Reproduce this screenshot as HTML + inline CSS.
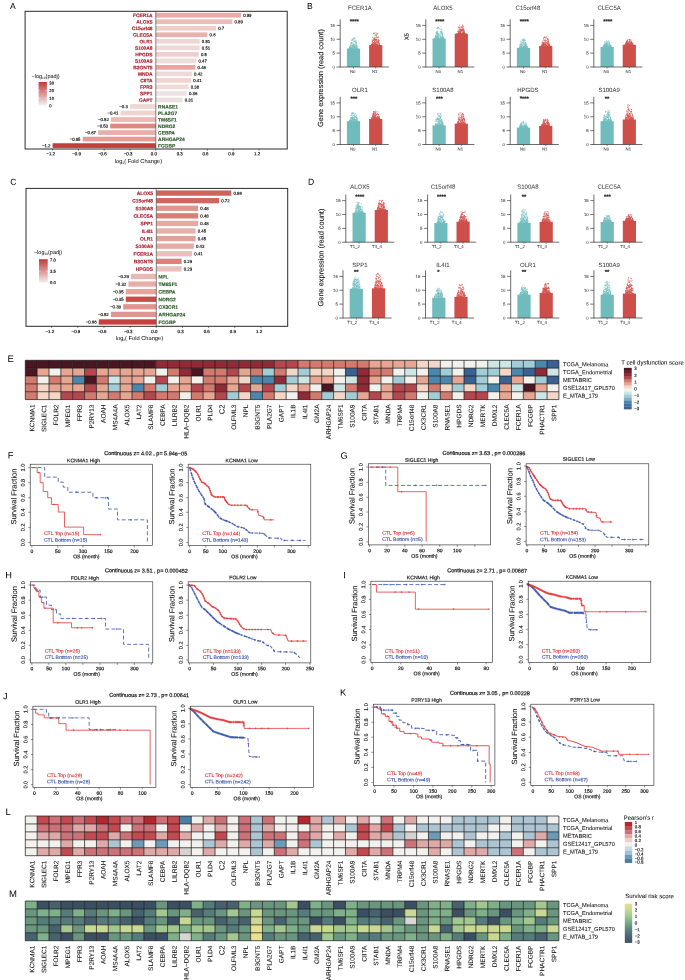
<!DOCTYPE html>
<html><head><meta charset="utf-8"><title>Figure</title>
<style>
html,body{margin:0;padding:0;background:#fff;}
body{width:685px;height:980px;overflow:hidden;font-family:"Liberation Sans",sans-serif;}
svg{display:block;font-family:"Liberation Sans",sans-serif;text-rendering:geometricPrecision;will-change:transform;}
</style></head><body>
<svg width="685" height="980" viewBox="0 0 685 980">
<defs>
<linearGradient id="gA" x1="0" y1="0" x2="0" y2="1"><stop offset="0" stop-color="#c23a3a"/><stop offset="1" stop-color="#f3eeee"/></linearGradient>
<linearGradient id="gM" x1="0" y1="0" x2="0" y2="1"><stop offset="0" stop-color="#e6df98"/><stop offset="0.17" stop-color="#c6d893"/><stop offset="0.34" stop-color="#9cc690"/><stop offset="0.5" stop-color="#74a686"/><stop offset="0.67" stop-color="#58837d"/><stop offset="0.84" stop-color="#476673"/><stop offset="1" stop-color="#3b5166"/></linearGradient>
</defs>
<rect x="0" y="0" width="685" height="980" fill="#fff"/>
<g>
<text x="10.1" y="9" font-size="8.6" transform="rotate(0.25 10.1 9)">A</text>
<rect x="155.8" y="12.85" width="85.14" height="4.7" fill="#e8aaa6"/>
<text x="152.6" y="17.15" font-size="4.9" stroke="#a82433" stroke-width="0.17" text-anchor="end" font-weight="bold" transform="rotate(0.25 152.6 17.15)" fill="#a82433">FCER1A</text>
<text x="243.14" y="16.8" font-size="4.3" stroke="#000" stroke-width="0.15" transform="rotate(0.25 243.14 16.8)">0.99</text>
<rect x="155.8" y="19.37" width="76.54" height="4.7" fill="#ecbcb8"/>
<text x="152.6" y="23.67" font-size="4.9" stroke="#a82433" stroke-width="0.17" text-anchor="end" font-weight="bold" transform="rotate(0.25 152.6 23.67)" fill="#a82433">ALOX5</text>
<text x="234.54" y="23.32" font-size="4.3" stroke="#000" stroke-width="0.15" transform="rotate(0.25 234.54 23.32)">0.89</text>
<rect x="155.8" y="25.89" width="60.2" height="4.7" fill="#eeccc8"/>
<text x="152.6" y="30.19" font-size="4.9" stroke="#a82433" stroke-width="0.17" text-anchor="end" font-weight="bold" transform="rotate(0.25 152.6 30.19)" fill="#a82433">C15orf48</text>
<text x="218.2" y="29.84" font-size="4.3" stroke="#000" stroke-width="0.15" transform="rotate(0.25 218.2 29.84)">0.7</text>
<rect x="155.8" y="32.41" width="51.6" height="4.7" fill="#e9b1ad"/>
<text x="152.6" y="36.71" font-size="4.9" stroke="#a82433" stroke-width="0.17" text-anchor="end" font-weight="bold" transform="rotate(0.25 152.6 36.71)" fill="#a82433">CLEC5A</text>
<text x="209.6" y="36.36" font-size="4.3" stroke="#000" stroke-width="0.15" transform="rotate(0.25 209.6 36.36)">0.6</text>
<rect x="155.8" y="38.93" width="43.86" height="4.7" fill="#eed6d3"/>
<text x="152.6" y="43.23" font-size="4.9" stroke="#a82433" stroke-width="0.17" text-anchor="end" font-weight="bold" transform="rotate(0.25 152.6 43.23)" fill="#a82433">OLR1</text>
<text x="201.86" y="42.88" font-size="4.3" stroke="#000" stroke-width="0.15" transform="rotate(0.25 201.86 42.88)">0.51</text>
<rect x="155.8" y="45.45" width="43.86" height="4.7" fill="#efd9d6"/>
<text x="152.6" y="49.75" font-size="4.9" stroke="#a82433" stroke-width="0.17" text-anchor="end" font-weight="bold" transform="rotate(0.25 152.6 49.75)" fill="#a82433">S100A8</text>
<text x="201.86" y="49.4" font-size="4.3" stroke="#000" stroke-width="0.15" transform="rotate(0.25 201.86 49.4)">0.51</text>
<rect x="155.8" y="51.97" width="43" height="4.7" fill="#eecfcb"/>
<text x="152.6" y="56.27" font-size="4.9" stroke="#a82433" stroke-width="0.17" text-anchor="end" font-weight="bold" transform="rotate(0.25 152.6 56.27)" fill="#a82433">HPGDS</text>
<text x="201" y="55.92" font-size="4.3" stroke="#000" stroke-width="0.15" transform="rotate(0.25 201 55.92)">0.5</text>
<rect x="155.8" y="58.49" width="40.42" height="4.7" fill="#efdbd8"/>
<text x="152.6" y="62.79" font-size="4.9" stroke="#a82433" stroke-width="0.17" text-anchor="end" font-weight="bold" transform="rotate(0.25 152.6 62.79)" fill="#a82433">S100A9</text>
<text x="198.42" y="62.44" font-size="4.3" stroke="#000" stroke-width="0.15" transform="rotate(0.25 198.42 62.44)">0.47</text>
<rect x="155.8" y="65.01" width="39.56" height="4.7" fill="#e7a6a2"/>
<text x="152.6" y="69.31" font-size="4.9" stroke="#a82433" stroke-width="0.17" text-anchor="end" font-weight="bold" transform="rotate(0.25 152.6 69.31)" fill="#a82433">B3GNT5</text>
<text x="197.56" y="68.96" font-size="4.3" stroke="#000" stroke-width="0.15" transform="rotate(0.25 197.56 68.96)">0.46</text>
<rect x="155.8" y="71.53" width="36.12" height="4.7" fill="#efd9d6"/>
<text x="152.6" y="75.83" font-size="4.9" stroke="#a82433" stroke-width="0.17" text-anchor="end" font-weight="bold" transform="rotate(0.25 152.6 75.83)" fill="#a82433">MNDA</text>
<text x="194.12" y="75.48" font-size="4.3" stroke="#000" stroke-width="0.15" transform="rotate(0.25 194.12 75.48)">0.42</text>
<rect x="155.8" y="78.05" width="35.26" height="4.7" fill="#eed5d2"/>
<text x="152.6" y="82.35" font-size="4.9" stroke="#a82433" stroke-width="0.17" text-anchor="end" font-weight="bold" transform="rotate(0.25 152.6 82.35)" fill="#a82433">CIITA</text>
<text x="193.26" y="82" font-size="4.3" stroke="#000" stroke-width="0.15" transform="rotate(0.25 193.26 82)">0.41</text>
<rect x="155.8" y="84.57" width="32.68" height="4.7" fill="#efdad7"/>
<text x="152.6" y="88.87" font-size="4.9" stroke="#a82433" stroke-width="0.17" text-anchor="end" font-weight="bold" transform="rotate(0.25 152.6 88.87)" fill="#a82433">FPR3</text>
<text x="190.68" y="88.52" font-size="4.3" stroke="#000" stroke-width="0.15" transform="rotate(0.25 190.68 88.52)">0.38</text>
<rect x="155.8" y="91.09" width="30.96" height="4.7" fill="#ece4e3"/>
<text x="152.6" y="95.39" font-size="4.9" stroke="#a82433" stroke-width="0.17" text-anchor="end" font-weight="bold" transform="rotate(0.25 152.6 95.39)" fill="#a82433">SPP1</text>
<text x="188.96" y="95.04" font-size="4.3" stroke="#000" stroke-width="0.15" transform="rotate(0.25 188.96 95.04)">0.36</text>
<rect x="155.8" y="97.61" width="26.66" height="4.7" fill="#eddfdd"/>
<text x="152.6" y="101.91" font-size="4.9" stroke="#a82433" stroke-width="0.17" text-anchor="end" font-weight="bold" transform="rotate(0.25 152.6 101.91)" fill="#a82433">GAPT</text>
<text x="184.66" y="101.56" font-size="4.3" stroke="#000" stroke-width="0.15" transform="rotate(0.25 184.66 101.56)">0.31</text>
<rect x="130" y="104.13" width="25.8" height="4.7" fill="#efd7d4"/>
<text x="158.1" y="108.43" font-size="4.9" stroke="#2c5a2a" stroke-width="0.17" font-weight="bold" transform="rotate(0.25 158.1 108.43)" fill="#2c5a2a">RNASE1</text>
<text x="127.8" y="108.08" font-size="4.3" stroke="#000" stroke-width="0.15" text-anchor="end" transform="rotate(0.25 127.8 108.08)">−0.3</text>
<rect x="120.54" y="110.65" width="35.26" height="4.7" fill="#efd3cf"/>
<text x="158.1" y="114.95" font-size="4.9" stroke="#2c5a2a" stroke-width="0.17" font-weight="bold" transform="rotate(0.25 158.1 114.95)" fill="#2c5a2a">PLA2G7</text>
<text x="118.34" y="114.6" font-size="4.3" stroke="#000" stroke-width="0.15" text-anchor="end" transform="rotate(0.25 118.34 114.6)">−0.41</text>
<rect x="111.08" y="117.17" width="44.72" height="4.7" fill="#ebb8b3"/>
<text x="158.1" y="121.47" font-size="4.9" stroke="#2c5a2a" stroke-width="0.17" font-weight="bold" transform="rotate(0.25 158.1 121.47)" fill="#2c5a2a">TM6SF1</text>
<text x="108.88" y="121.12" font-size="4.3" stroke="#000" stroke-width="0.15" text-anchor="end" transform="rotate(0.25 108.88 121.12)">−0.52</text>
<rect x="110.22" y="123.69" width="45.58" height="4.7" fill="#de8681"/>
<text x="158.1" y="127.99" font-size="4.9" stroke="#2c5a2a" stroke-width="0.17" font-weight="bold" transform="rotate(0.25 158.1 127.99)" fill="#2c5a2a">NDRG2</text>
<text x="108.02" y="127.64" font-size="4.3" stroke="#000" stroke-width="0.15" text-anchor="end" transform="rotate(0.25 108.02 127.64)">−0.53</text>
<rect x="98.18" y="130.21" width="57.62" height="4.7" fill="#e9aea9"/>
<text x="158.1" y="134.51" font-size="4.9" stroke="#2c5a2a" stroke-width="0.17" font-weight="bold" transform="rotate(0.25 158.1 134.51)" fill="#2c5a2a">CEBPA</text>
<text x="95.98" y="134.16" font-size="4.3" stroke="#000" stroke-width="0.15" text-anchor="end" transform="rotate(0.25 95.98 134.16)">−0.67</text>
<rect x="82.7" y="136.73" width="73.1" height="4.7" fill="#e49b95"/>
<text x="158.1" y="141.03" font-size="4.9" stroke="#2c5a2a" stroke-width="0.17" font-weight="bold" transform="rotate(0.25 158.1 141.03)" fill="#2c5a2a">ARHGAP24</text>
<text x="80.5" y="140.68" font-size="4.3" stroke="#000" stroke-width="0.15" text-anchor="end" transform="rotate(0.25 80.5 140.68)">−0.85</text>
<rect x="52.6" y="143.25" width="103.2" height="4.7" fill="#c43e3d"/>
<text x="158.1" y="147.55" font-size="4.9" stroke="#2c5a2a" stroke-width="0.17" font-weight="bold" transform="rotate(0.25 158.1 147.55)" fill="#2c5a2a">FCGBP</text>
<text x="50.4" y="147.2" font-size="4.3" stroke="#000" stroke-width="0.15" text-anchor="end" transform="rotate(0.25 50.4 147.2)">−1.2</text>
<line x1="155.8" y1="11.3" x2="155.8" y2="149" stroke="#222" stroke-width="0.55"/>
<rect x="25.1" y="11.3" width="262.1" height="137.7" fill="none" stroke="#2a2a2a" stroke-width="1"/>
<line x1="52.6" y1="149" x2="52.6" y2="150.6" stroke="#000" stroke-width="0.5"/>
<text x="50.7" y="155.2" font-size="4.4" stroke="#000" stroke-width="0.15" text-anchor="middle" transform="rotate(0.25 50.7 155.2)">−1.2</text>
<line x1="78.4" y1="149" x2="78.4" y2="150.6" stroke="#000" stroke-width="0.5"/>
<text x="76.5" y="155.2" font-size="4.4" stroke="#000" stroke-width="0.15" text-anchor="middle" transform="rotate(0.25 76.5 155.2)">−0.9</text>
<line x1="104.2" y1="149" x2="104.2" y2="150.6" stroke="#000" stroke-width="0.5"/>
<text x="102.3" y="155.2" font-size="4.4" stroke="#000" stroke-width="0.15" text-anchor="middle" transform="rotate(0.25 102.3 155.2)">−0.6</text>
<line x1="130" y1="149" x2="130" y2="150.6" stroke="#000" stroke-width="0.5"/>
<text x="128.1" y="155.2" font-size="4.4" stroke="#000" stroke-width="0.15" text-anchor="middle" transform="rotate(0.25 128.1 155.2)">−0.3</text>
<line x1="155.8" y1="149" x2="155.8" y2="150.6" stroke="#000" stroke-width="0.5"/>
<text x="153.9" y="155.2" font-size="4.4" stroke="#000" stroke-width="0.15" text-anchor="middle" transform="rotate(0.25 153.9 155.2)">0.0</text>
<line x1="181.6" y1="149" x2="181.6" y2="150.6" stroke="#000" stroke-width="0.5"/>
<text x="179.7" y="155.2" font-size="4.4" stroke="#000" stroke-width="0.15" text-anchor="middle" transform="rotate(0.25 179.7 155.2)">0.3</text>
<line x1="207.4" y1="149" x2="207.4" y2="150.6" stroke="#000" stroke-width="0.5"/>
<text x="205.5" y="155.2" font-size="4.4" stroke="#000" stroke-width="0.15" text-anchor="middle" transform="rotate(0.25 205.5 155.2)">0.6</text>
<line x1="233.2" y1="149" x2="233.2" y2="150.6" stroke="#000" stroke-width="0.5"/>
<text x="231.3" y="155.2" font-size="4.4" stroke="#000" stroke-width="0.15" text-anchor="middle" transform="rotate(0.25 231.3 155.2)">0.9</text>
<line x1="259" y1="149" x2="259" y2="150.6" stroke="#000" stroke-width="0.5"/>
<text x="257.1" y="155.2" font-size="4.4" stroke="#000" stroke-width="0.15" text-anchor="middle" transform="rotate(0.25 257.1 155.2)">1.2</text>
<text x="138.5" y="162.6" font-size="5.7" text-anchor="middle">log<tspan font-size="3.2" dy="1">2</tspan><tspan dy="-1">( Fold Change)</tspan></text>
<text x="31.5" y="77.8" font-size="5.5">−log<tspan font-size="3.2" dy="1">10</tspan><tspan dy="-1">(padj)</tspan></text>
<rect x="38.6" y="82" width="8.3" height="23.2" fill="url(#gA)"/>
<text x="49.3" y="84.4" font-size="4.2" stroke="#000" stroke-width="0.15" transform="rotate(0.25 49.3 84.4)">30</text>
<text x="49.3" y="92.1" font-size="4.2" stroke="#000" stroke-width="0.15" transform="rotate(0.25 49.3 92.1)">20</text>
<text x="49.3" y="99.7" font-size="4.2" stroke="#000" stroke-width="0.15" transform="rotate(0.25 49.3 99.7)">10</text>
<text x="49.3" y="107.3" font-size="4.2" stroke="#000" stroke-width="0.15" transform="rotate(0.25 49.3 107.3)">0</text>
<line x1="38.6" y1="90.6" x2="40.3" y2="90.6" stroke="#fff" stroke-width="0.45"/>
<line x1="45.2" y1="90.6" x2="46.9" y2="90.6" stroke="#fff" stroke-width="0.45"/>
<line x1="38.6" y1="98.2" x2="40.3" y2="98.2" stroke="#fff" stroke-width="0.45"/>
<line x1="45.2" y1="98.2" x2="46.9" y2="98.2" stroke="#fff" stroke-width="0.45"/>
<text x="10.3" y="184.7" font-size="8.6" transform="rotate(0.25 10.3 184.7)">C</text>
<rect x="156.3" y="190.45" width="74.99" height="5.3" fill="#d0635d"/>
<text x="153.1" y="195.05" font-size="4.9" stroke="#a82433" stroke-width="0.17" text-anchor="end" font-weight="bold" transform="rotate(0.25 153.1 195.05)" fill="#a82433">ALOX5</text>
<text x="233.49" y="194.7" font-size="4.3" stroke="#000" stroke-width="0.15" transform="rotate(0.25 233.49 194.7)">0.86</text>
<rect x="156.3" y="198.03" width="62.78" height="5.3" fill="#d1655f"/>
<text x="153.1" y="202.63" font-size="4.9" stroke="#a82433" stroke-width="0.17" text-anchor="end" font-weight="bold" transform="rotate(0.25 153.1 202.63)" fill="#a82433">C15orf48</text>
<text x="221.28" y="202.28" font-size="4.3" stroke="#000" stroke-width="0.15" transform="rotate(0.25 221.28 202.28)">0.72</text>
<rect x="156.3" y="205.61" width="41.86" height="5.3" fill="#e0958f"/>
<text x="153.1" y="210.21" font-size="4.9" stroke="#a82433" stroke-width="0.17" text-anchor="end" font-weight="bold" transform="rotate(0.25 153.1 210.21)" fill="#a82433">S100A8</text>
<text x="200.36" y="209.86" font-size="4.3" stroke="#000" stroke-width="0.15" transform="rotate(0.25 200.36 209.86)">0.48</text>
<rect x="156.3" y="213.19" width="41.86" height="5.3" fill="#d97d77"/>
<text x="153.1" y="217.79" font-size="4.9" stroke="#a82433" stroke-width="0.17" text-anchor="end" font-weight="bold" transform="rotate(0.25 153.1 217.79)" fill="#a82433">CLEC5A</text>
<text x="200.36" y="217.44" font-size="4.3" stroke="#000" stroke-width="0.15" transform="rotate(0.25 200.36 217.44)">0.48</text>
<rect x="156.3" y="220.77" width="41.86" height="5.3" fill="#e6aaa4"/>
<text x="153.1" y="225.37" font-size="4.9" stroke="#a82433" stroke-width="0.17" text-anchor="end" font-weight="bold" transform="rotate(0.25 153.1 225.37)" fill="#a82433">SPP1</text>
<text x="200.36" y="225.02" font-size="4.3" stroke="#000" stroke-width="0.15" transform="rotate(0.25 200.36 225.02)">0.48</text>
<rect x="156.3" y="228.35" width="39.24" height="5.3" fill="#e7b0ab"/>
<text x="153.1" y="232.95" font-size="4.9" stroke="#a82433" stroke-width="0.17" text-anchor="end" font-weight="bold" transform="rotate(0.25 153.1 232.95)" fill="#a82433">IL4I1</text>
<text x="197.74" y="232.6" font-size="4.3" stroke="#000" stroke-width="0.15" transform="rotate(0.25 197.74 232.6)">0.45</text>
<rect x="156.3" y="235.93" width="39.24" height="5.3" fill="#e2a09a"/>
<text x="153.1" y="240.53" font-size="4.9" stroke="#a82433" stroke-width="0.17" text-anchor="end" font-weight="bold" transform="rotate(0.25 153.1 240.53)" fill="#a82433">OLR1</text>
<text x="197.74" y="240.18" font-size="4.3" stroke="#000" stroke-width="0.15" transform="rotate(0.25 197.74 240.18)">0.45</text>
<rect x="156.3" y="243.51" width="37.5" height="5.3" fill="#e6aba6"/>
<text x="153.1" y="248.11" font-size="4.9" stroke="#a82433" stroke-width="0.17" text-anchor="end" font-weight="bold" transform="rotate(0.25 153.1 248.11)" fill="#a82433">S100A9</text>
<text x="196" y="247.76" font-size="4.3" stroke="#000" stroke-width="0.15" transform="rotate(0.25 196 247.76)">0.43</text>
<rect x="156.3" y="251.09" width="35.75" height="5.3" fill="#eac0bb"/>
<text x="153.1" y="255.69" font-size="4.9" stroke="#a82433" stroke-width="0.17" text-anchor="end" font-weight="bold" transform="rotate(0.25 153.1 255.69)" fill="#a82433">FCER1A</text>
<text x="194.25" y="255.34" font-size="4.3" stroke="#000" stroke-width="0.15" transform="rotate(0.25 194.25 255.34)">0.41</text>
<rect x="156.3" y="258.67" width="25.29" height="5.3" fill="#da817b"/>
<text x="153.1" y="263.27" font-size="4.9" stroke="#a82433" stroke-width="0.17" text-anchor="end" font-weight="bold" transform="rotate(0.25 153.1 263.27)" fill="#a82433">B3GNT5</text>
<text x="183.79" y="262.92" font-size="4.3" stroke="#000" stroke-width="0.15" transform="rotate(0.25 183.79 262.92)">0.29</text>
<rect x="156.3" y="266.25" width="25.29" height="5.3" fill="#eac0bc"/>
<text x="153.1" y="270.85" font-size="4.9" stroke="#a82433" stroke-width="0.17" text-anchor="end" font-weight="bold" transform="rotate(0.25 153.1 270.85)" fill="#a82433">HPGDS</text>
<text x="183.79" y="270.5" font-size="4.3" stroke="#000" stroke-width="0.15" transform="rotate(0.25 183.79 270.5)">0.29</text>
<rect x="131.01" y="273.83" width="25.29" height="5.3" fill="#e9b8b3"/>
<text x="158.6" y="278.43" font-size="4.9" stroke="#2c5a2a" stroke-width="0.17" font-weight="bold" transform="rotate(0.25 158.6 278.43)" fill="#2c5a2a">NPL</text>
<text x="128.81" y="278.08" font-size="4.3" stroke="#000" stroke-width="0.15" text-anchor="end" transform="rotate(0.25 128.81 278.08)">−0.29</text>
<rect x="128.4" y="281.41" width="27.9" height="5.3" fill="#e7aea9"/>
<text x="158.6" y="286.01" font-size="4.9" stroke="#2c5a2a" stroke-width="0.17" font-weight="bold" transform="rotate(0.25 158.6 286.01)" fill="#2c5a2a">TM6SF1</text>
<text x="126.2" y="285.66" font-size="4.3" stroke="#000" stroke-width="0.15" text-anchor="end" transform="rotate(0.25 126.2 285.66)">−0.32</text>
<rect x="125.78" y="288.99" width="30.52" height="5.3" fill="#e5a59f"/>
<text x="158.6" y="293.59" font-size="4.9" stroke="#2c5a2a" stroke-width="0.17" font-weight="bold" transform="rotate(0.25 158.6 293.59)" fill="#2c5a2a">CEBPA</text>
<text x="123.58" y="293.24" font-size="4.3" stroke="#000" stroke-width="0.15" text-anchor="end" transform="rotate(0.25 123.58 293.24)">−0.35</text>
<rect x="125.78" y="296.57" width="30.52" height="5.3" fill="#c94c48"/>
<text x="158.6" y="301.17" font-size="4.9" stroke="#2c5a2a" stroke-width="0.17" font-weight="bold" transform="rotate(0.25 158.6 301.17)" fill="#2c5a2a">NDRG2</text>
<text x="123.58" y="300.82" font-size="4.3" stroke="#000" stroke-width="0.15" text-anchor="end" transform="rotate(0.25 123.58 300.82)">−0.35</text>
<rect x="123.16" y="304.15" width="33.14" height="5.3" fill="#e09690"/>
<text x="158.6" y="308.75" font-size="4.9" stroke="#2c5a2a" stroke-width="0.17" font-weight="bold" transform="rotate(0.25 158.6 308.75)" fill="#2c5a2a">CX3CR1</text>
<text x="120.96" y="308.4" font-size="4.3" stroke="#000" stroke-width="0.15" text-anchor="end" transform="rotate(0.25 120.96 308.4)">−0.38</text>
<rect x="110.96" y="311.73" width="45.34" height="5.3" fill="#e09690"/>
<text x="158.6" y="316.33" font-size="4.9" stroke="#2c5a2a" stroke-width="0.17" font-weight="bold" transform="rotate(0.25 158.6 316.33)" fill="#2c5a2a">ARHGAP24</text>
<text x="108.76" y="315.98" font-size="4.3" stroke="#000" stroke-width="0.15" text-anchor="end" transform="rotate(0.25 108.76 315.98)">−0.52</text>
<rect x="98.75" y="319.31" width="57.55" height="5.3" fill="#c8403d"/>
<text x="158.6" y="323.91" font-size="4.9" stroke="#2c5a2a" stroke-width="0.17" font-weight="bold" transform="rotate(0.25 158.6 323.91)" fill="#2c5a2a">FCGBP</text>
<text x="96.55" y="323.56" font-size="4.3" stroke="#000" stroke-width="0.15" text-anchor="end" transform="rotate(0.25 96.55 323.56)">−0.66</text>
<line x1="156.3" y1="188.4" x2="156.3" y2="326.3" stroke="#222" stroke-width="0.55"/>
<rect x="26" y="188.4" width="261.7" height="137.9" fill="none" stroke="#2a2a2a" stroke-width="1"/>
<line x1="51.66" y1="326.3" x2="51.66" y2="327.9" stroke="#000" stroke-width="0.5"/>
<text x="49.76" y="333" font-size="4.4" stroke="#000" stroke-width="0.15" text-anchor="middle" transform="rotate(0.25 49.76 333)">−1.2</text>
<line x1="77.82" y1="326.3" x2="77.82" y2="327.9" stroke="#000" stroke-width="0.5"/>
<text x="75.92" y="333" font-size="4.4" stroke="#000" stroke-width="0.15" text-anchor="middle" transform="rotate(0.25 75.92 333)">−0.9</text>
<line x1="103.98" y1="326.3" x2="103.98" y2="327.9" stroke="#000" stroke-width="0.5"/>
<text x="102.08" y="333" font-size="4.4" stroke="#000" stroke-width="0.15" text-anchor="middle" transform="rotate(0.25 102.08 333)">−0.6</text>
<line x1="130.14" y1="326.3" x2="130.14" y2="327.9" stroke="#000" stroke-width="0.5"/>
<text x="128.24" y="333" font-size="4.4" stroke="#000" stroke-width="0.15" text-anchor="middle" transform="rotate(0.25 128.24 333)">−0.3</text>
<line x1="156.3" y1="326.3" x2="156.3" y2="327.9" stroke="#000" stroke-width="0.5"/>
<text x="154.4" y="333" font-size="4.4" stroke="#000" stroke-width="0.15" text-anchor="middle" transform="rotate(0.25 154.4 333)">0.0</text>
<line x1="182.46" y1="326.3" x2="182.46" y2="327.9" stroke="#000" stroke-width="0.5"/>
<text x="180.56" y="333" font-size="4.4" stroke="#000" stroke-width="0.15" text-anchor="middle" transform="rotate(0.25 180.56 333)">0.3</text>
<line x1="208.62" y1="326.3" x2="208.62" y2="327.9" stroke="#000" stroke-width="0.5"/>
<text x="206.72" y="333" font-size="4.4" stroke="#000" stroke-width="0.15" text-anchor="middle" transform="rotate(0.25 206.72 333)">0.6</text>
<line x1="234.78" y1="326.3" x2="234.78" y2="327.9" stroke="#000" stroke-width="0.5"/>
<text x="232.88" y="333" font-size="4.4" stroke="#000" stroke-width="0.15" text-anchor="middle" transform="rotate(0.25 232.88 333)">0.9</text>
<line x1="260.94" y1="326.3" x2="260.94" y2="327.9" stroke="#000" stroke-width="0.5"/>
<text x="259.04" y="333" font-size="4.4" stroke="#000" stroke-width="0.15" text-anchor="middle" transform="rotate(0.25 259.04 333)">1.2</text>
<text x="139.4" y="339.8" font-size="5.7" text-anchor="middle">log<tspan font-size="3.2" dy="1">2</tspan><tspan dy="-1">( Fold Change)</tspan></text>
<text x="33.9" y="254.2" font-size="5.5">−log<tspan font-size="3.2" dy="1">10</tspan><tspan dy="-1">(padj)</tspan></text>
<rect x="39" y="259.2" width="8.7" height="23.3" fill="url(#gA)"/>
<text x="50.1" y="261.5" font-size="4.2" stroke="#000" stroke-width="0.15" transform="rotate(0.25 50.1 261.5)">7.0</text>
<text x="50.1" y="272.7" font-size="4.2" stroke="#000" stroke-width="0.15" transform="rotate(0.25 50.1 272.7)">3.5</text>
<text x="50.1" y="284" font-size="4.2" stroke="#000" stroke-width="0.15" transform="rotate(0.25 50.1 284)">0.0</text>
<line x1="39" y1="271.2" x2="40.7" y2="271.2" stroke="#fff" stroke-width="0.45"/>
<line x1="46" y1="271.2" x2="47.7" y2="271.2" stroke="#fff" stroke-width="0.45"/>
<text x="307" y="9" font-size="8.6" transform="rotate(0.25 307 9)">B</text>
<text x="323.1" y="78" font-size="7.4" stroke="#111" stroke-width="0.1" text-anchor="middle" transform="rotate(-89.75 323.1 78)" fill="#111">Gene expression (read count)</text>
<rect x="346.9" y="48.56" width="13.2" height="18.44" fill="#70bbbc"/>
<rect x="369.1" y="45.09" width="13.2" height="21.91" fill="#ce4e4a"/>
<path d="M350.6 47.9h0M350.4 45.3h0M352.5 46.4h0M353.6 49.2h0M352.9 49.2h0M350.0 49.1h0M356.1 47.2h0M351.1 48.9h0M356.8 45.5h0M352.7 46.0h0M356.6 48.9h0M350.5 48.1h0M351.9 48.9h0M351.5 42.8h0M354.5 46.0h0M353.9 47.6h0M349.7 49.1h0M355.0 48.5h0M352.0 47.2h0M353.1 45.9h0M356.0 48.0h0M351.7 44.7h0M353.7 46.0h0M354.8 41.3h0M357.5 48.1h0M352.8 48.9h0M351.2 43.9h0M349.9 46.8h0M355.4 45.1h0M356.3 46.1h0M355.1 47.9h0M354.1 45.9h0M356.2 47.0h0M353.4 38.1h0M350.3 45.1h0M354.5 44.7h0M352.4 39.9h0M354.9 47.5h0M353.2 49.3h0M350.2 48.7h0M355.8 49.2h0M351.3 48.8h0M356.5 47.5h0M353.1 49.1h0M356.4 46.3h0M355.8 42.7h0M352.8 48.1h0M356.7 47.7h0M350.8 47.7h0M351.2 48.4h0M354.2 46.8h0M349.3 48.2h0M352.4 47.3h0M356.9 46.1h0M353.6 44.8h0M354.8 45.6h0M356.9 49.2h0M355.9 43.5h0M352.8 43.1h0M350.3 47.4h0M350.3 45.5h0M351.0 49.1h0M352.1 48.7h0M349.2 49.2h0M350.1 48.7h0M349.6 47.6h0M354.1 41.3h0M351.4 48.8h0M352.4 47.7h0M356.5 48.9h0M353.4 44.0h0M350.1 49.0h0M351.6 47.8h0M351.4 42.5h0M357.4 49.3h0M350.8 46.5h0M349.9 46.3h0M357.2 46.5h0M354.6 41.6h0M352.4 48.2h0M355.8 48.7h0M355.7 46.4h0M351.2 47.8h0M356.5 42.9h0M355.3 41.9h0M355.0 42.7h0M353.7 48.4h0M349.6 47.7h0M351.6 49.3h0M355.1 48.2h0M356.5 44.2h0M352.9 38.4h0M351.2 48.4h0M351.0 48.5h0M356.4 45.6h0M353.4 42.2h0M355.7 45.3h0M354.9 49.0h0M354.9 40.0h0M353.4 44.0h0M356.0 48.6h0M356.0 47.8h0M352.8 44.8h0M354.4 37.9h0M350.3 48.7h0M357.0 48.8h0M351.3 43.0h0M356.4 42.5h0M352.4 45.2h0M350.7 46.3h0M357.5 49.3h0M353.7 45.3h0M353.2 38.8h0M355.3 41.4h0M351.4 48.5h0M351.3 48.0h0M351.7 45.9h0M350.5 47.3h0M352.8 40.0h0M354.2 47.0h0M353.1 40.2h0M353.5 39.6h0M353.7 46.4h0M353.0 49.3h0M349.2 48.6h0M351.4 43.1h0M355.3 46.9h0M352.2 46.2h0M353.9 46.5h0M350.9 43.4h0M351.6 46.2h0M355.8 48.1h0M354.0 46.6h0M356.2 43.8h0M354.4 47.1h0M353.6 46.6h0M353.2 44.8h0M353.3 46.4h0M354.4 38.3h0M356.0 41.2h0M354.0 48.2h0M355.0 38.2h0M350.2 48.8h0M350.1 47.1h0M349.9 48.3h0M355.5 45.1h0M351.7 40.5h0M354.6 44.5h0M356.8 48.8h0M357.1 46.9h0M353.4 47.4h0M351.8 39.8h0M353.6 47.2h0M351.0 47.8h0M355.3 47.9h0M354.0 49.3h0M349.6 47.1h0M354.5 47.8h0M350.1 46.6h0M356.0 40.3h0M351.5 49.0h0M355.9 49.2h0M350.4 48.2h0M356.8 47.2h0M352.0 42.7h0" stroke="#74bfc0" stroke-width="0.8" stroke-linecap="round" fill="none"/>
<path d="M379.3 45.2h0M377.2 42.0h0M371.9 45.5h0M375.2 40.5h0M379.5 45.6h0M377.9 41.3h0M378.8 45.5h0M378.8 45.6h0M374.4 43.1h0M378.9 42.2h0M372.6 44.5h0M373.7 42.5h0M372.8 45.4h0M373.1 45.7h0M374.1 44.2h0M374.3 39.3h0M373.2 42.7h0M371.7 44.0h0M371.6 44.6h0M376.0 39.8h0M375.5 45.0h0M373.9 33.3h0M375.3 38.0h0M378.3 42.8h0M375.8 43.6h0M379.1 40.5h0M378.4 44.0h0M376.6 40.3h0M374.5 43.5h0M372.5 45.7h0M377.8 45.6h0M372.9 44.6h0M378.6 45.5h0M376.7 36.5h0M373.5 44.4h0M375.4 44.3h0M375.2 45.1h0M379.6 44.5h0M374.1 38.5h0M374.6 41.7h0M374.7 45.9h0M375.7 43.0h0M375.7 44.9h0M373.7 45.9h0M374.8 45.5h0M371.6 45.7h0M373.5 44.2h0M375.9 41.9h0M376.7 39.5h0M378.3 40.1h0M374.3 43.6h0M377.5 43.9h0M372.4 41.2h0M378.0 37.6h0M377.4 41.4h0M373.5 38.2h0M375.7 42.5h0M377.5 37.6h0M376.2 37.8h0M376.7 35.6h0M373.8 40.5h0M372.5 45.8h0M372.5 43.9h0M376.1 37.6h0M376.6 41.4h0M375.6 40.7h0M378.3 45.9h0M375.7 39.6h0M376.9 42.4h0M377.7 45.6h0M372.1 44.6h0M377.6 44.5h0M377.7 44.9h0M374.9 39.2h0M377.1 42.9h0M376.5 39.2h0M372.6 41.2h0M373.6 45.2h0M374.4 39.6h0M372.0 42.1h0M373.7 45.6h0M377.1 40.8h0M374.2 40.7h0M375.4 42.6h0M372.7 43.0h0M374.1 35.6h0M373.5 33.2h0M378.2 43.1h0M374.1 39.8h0M379.5 44.8h0M376.4 44.8h0M375.9 45.2h0M378.3 44.1h0M378.7 42.6h0M373.8 40.3h0M375.6 35.4h0M371.4 45.8h0M375.3 42.8h0M372.7 44.3h0M374.2 44.0h0M372.7 37.5h0M378.0 39.5h0M379.4 45.3h0M378.5 40.2h0M374.6 44.3h0M379.7 43.6h0M374.7 41.8h0M373.9 43.3h0M372.3 45.7h0M374.4 37.6h0M374.6 33.3h0M375.8 44.5h0M374.6 45.0h0M377.2 33.9h0M378.7 41.3h0M375.9 32.9h0M372.6 40.1h0M375.4 39.8h0M376.7 39.5h0M371.9 44.4h0M374.0 33.8h0M374.5 43.0h0M377.7 44.3h0M376.9 42.4h0M376.2 44.3h0M373.0 43.6h0M373.2 45.1h0M375.7 35.0h0M379.1 44.8h0M373.3 39.8h0M372.2 44.9h0M372.3 44.0h0M373.7 44.7h0M378.6 42.0h0M375.1 39.5h0M375.9 43.5h0M374.4 43.7h0M373.8 45.6h0M375.7 44.2h0M378.3 41.3h0M373.8 44.8h0M374.9 44.6h0M379.3 43.2h0M377.9 37.2h0M371.7 45.8h0M378.4 40.2h0M376.4 43.0h0M374.8 45.9h0M377.2 33.8h0M378.4 37.0h0M372.4 44.6h0M375.9 45.2h0M378.8 40.6h0M376.7 40.0h0M375.4 39.2h0M372.2 42.2h0M374.0 38.9h0M376.4 34.3h0M372.6 44.3h0M376.8 44.6h0M373.0 40.4h0M375.9 45.6h0M374.9 41.9h0M376.6 44.8h0M374.0 45.9h0" stroke="#d2524e" stroke-width="0.8" stroke-linecap="round" fill="none"/>
<line x1="340.2" y1="19.3" x2="340.2" y2="67.35" stroke="#3c3c3c" stroke-width="0.75"/>
<line x1="336.6" y1="67" x2="388.8" y2="67" stroke="#3c3c3c" stroke-width="0.75"/>
<line x1="336.6" y1="53.13" x2="340.2" y2="53.13" stroke="#3c3c3c" stroke-width="0.7"/>
<line x1="336.6" y1="39.27" x2="340.2" y2="39.27" stroke="#3c3c3c" stroke-width="0.7"/>
<line x1="336.6" y1="25.41" x2="340.2" y2="25.41" stroke="#3c3c3c" stroke-width="0.7"/>
<text x="335" y="68.5" font-size="4.3" stroke="#3a3a3a" stroke-width="0.05" text-anchor="end" transform="rotate(0.25 335 68.5)" fill="#3a3a3a">0</text>
<text x="335" y="54.63" font-size="4.3" stroke="#3a3a3a" stroke-width="0.05" text-anchor="end" transform="rotate(0.25 335 54.63)" fill="#3a3a3a">5</text>
<text x="335" y="40.77" font-size="4.3" stroke="#3a3a3a" stroke-width="0.05" text-anchor="end" transform="rotate(0.25 335 40.77)" fill="#3a3a3a">10</text>
<text x="335" y="26.91" font-size="4.3" stroke="#3a3a3a" stroke-width="0.05" text-anchor="end" transform="rotate(0.25 335 26.91)" fill="#3a3a3a">15</text>
<line x1="353.5" y1="67" x2="353.5" y2="68.5" stroke="#3c3c3c" stroke-width="0.6"/>
<line x1="375.7" y1="67" x2="375.7" y2="68.5" stroke="#3c3c3c" stroke-width="0.6"/>
<text x="352.7" y="72.9" font-size="4.3" stroke="#3a3a3a" stroke-width="0.05" text-anchor="middle" transform="rotate(0.25 352.7 72.9)" fill="#3a3a3a">N0</text>
<text x="374.7" y="72.9" font-size="4.3" stroke="#3a3a3a" stroke-width="0.05" text-anchor="middle" transform="rotate(0.25 374.7 72.9)" fill="#3a3a3a">N1</text>
<text x="359.9" y="9.9" font-size="6" stroke="#3c3c3c" stroke-width="0.04" text-anchor="middle" transform="rotate(0.25 359.9 9.9)" fill="#3c3c3c">FCER1A</text>
<text x="354.2" y="23.2" font-size="5.8" stroke="#222" stroke-width="0.2" text-anchor="middle" font-weight="bold" transform="rotate(0.25 354.2 23.2)" fill="#222">****</text>
<rect x="432.5" y="38.44" width="13.2" height="28.56" fill="#70bbbc"/>
<rect x="454.7" y="33.72" width="13.2" height="33.28" fill="#ce4e4a"/>
<path d="M442.7 36.5h0M441.9 34.7h0M437.0 36.4h0M443.0 38.0h0M437.8 33.9h0M439.1 39.2h0M438.5 34.3h0M440.5 38.0h0M437.8 27.8h0M437.7 39.1h0M440.6 36.9h0M441.6 38.3h0M439.1 33.3h0M443.1 38.3h0M441.8 37.6h0M436.7 38.1h0M437.7 32.9h0M437.0 32.8h0M438.4 38.2h0M442.3 34.4h0M438.2 38.6h0M443.1 38.2h0M435.2 38.6h0M438.2 39.0h0M441.1 29.1h0M442.5 33.4h0M438.3 27.4h0M442.8 38.4h0M436.0 33.2h0M438.2 34.4h0M437.7 37.2h0M434.8 38.4h0M437.9 37.8h0M443.0 37.7h0M437.9 38.2h0M441.1 31.6h0M435.5 36.8h0M438.1 36.4h0M437.6 28.1h0M442.3 37.3h0M438.3 39.1h0M440.8 31.9h0M435.1 39.1h0M442.7 39.0h0M441.2 38.0h0M438.3 29.1h0M442.9 37.9h0M437.3 35.0h0M437.8 33.7h0M434.9 37.8h0M441.9 33.0h0M442.3 34.8h0M436.8 39.2h0M442.7 36.4h0M437.3 34.2h0M439.0 36.8h0M437.6 27.6h0M440.6 32.1h0M440.8 31.6h0M437.8 35.1h0M438.0 37.6h0M436.4 32.5h0M441.3 38.3h0M435.4 38.0h0M439.6 39.1h0M443.1 37.5h0M441.8 29.7h0M435.6 37.9h0M439.1 38.8h0M438.7 33.8h0M438.4 38.1h0M440.4 35.0h0M441.4 33.2h0M436.4 34.4h0M437.9 31.1h0M438.1 35.6h0M437.1 33.3h0M436.9 38.0h0M442.4 38.5h0M437.8 35.4h0M443.1 37.0h0M437.0 36.1h0M440.1 31.9h0M438.9 37.9h0M441.2 31.7h0M436.8 28.4h0M435.9 37.7h0M443.2 38.3h0M442.3 35.4h0M442.1 37.2h0M437.2 36.6h0M442.0 32.6h0M439.9 38.8h0M437.0 35.0h0M436.2 37.2h0M437.0 38.3h0M440.2 35.2h0M434.9 38.3h0M440.6 37.5h0M437.5 38.4h0M441.6 38.3h0M435.8 35.8h0M438.2 38.8h0M440.2 35.7h0M436.2 38.8h0M438.5 34.0h0M437.5 37.8h0M439.6 35.2h0M438.4 37.3h0M441.9 30.4h0M436.6 37.3h0M437.1 33.5h0M442.6 39.2h0M441.7 36.8h0M442.2 37.0h0M436.4 36.5h0M439.5 39.2h0M442.1 34.7h0M440.2 38.9h0M439.1 37.2h0M437.2 38.6h0M442.4 36.0h0M439.0 38.8h0M442.0 32.0h0M435.9 38.3h0M441.1 26.6h0M435.6 36.3h0M438.6 27.7h0M439.7 28.9h0M437.0 31.6h0M437.3 32.4h0M441.9 37.0h0M437.2 31.4h0M438.2 38.2h0M438.2 36.0h0M436.9 38.7h0M441.8 33.6h0M439.6 39.1h0M436.0 33.0h0M436.8 31.2h0M439.5 35.2h0M437.7 34.9h0M439.8 36.9h0M440.4 36.8h0M438.6 36.6h0M440.1 39.2h0M437.0 36.3h0M440.9 32.9h0M436.6 36.6h0M436.0 36.4h0M438.5 38.7h0M438.6 38.8h0M435.5 36.1h0M436.1 34.8h0M441.0 33.4h0M435.6 36.1h0M438.2 36.2h0M442.0 37.5h0M440.8 29.7h0M443.2 38.3h0M442.7 36.3h0M437.5 28.3h0M441.9 32.4h0M437.8 39.0h0M436.8 33.0h0" stroke="#74bfc0" stroke-width="0.8" stroke-linecap="round" fill="none"/>
<path d="M460.1 27.1h0M459.1 29.0h0M464.6 32.3h0M459.3 33.8h0M459.9 32.2h0M458.6 34.4h0M465.1 34.0h0M464.1 30.8h0M463.7 33.9h0M461.6 34.2h0M460.3 31.2h0M461.6 27.7h0M464.2 31.7h0M465.5 34.2h0M460.5 31.3h0M459.8 29.3h0M460.4 29.0h0M460.9 29.8h0M463.4 33.9h0M464.1 34.4h0M462.5 33.6h0M462.3 28.9h0M457.1 33.3h0M458.3 34.4h0M460.8 31.4h0M464.4 32.2h0M459.0 34.1h0M457.8 31.1h0M460.1 34.5h0M460.1 34.2h0M462.0 33.7h0M459.1 31.6h0M461.1 31.3h0M465.1 34.1h0M458.3 33.6h0M462.5 34.2h0M462.9 27.8h0M459.4 32.9h0M462.5 34.5h0M460.2 31.8h0M460.9 31.1h0M462.4 25.4h0M464.7 33.6h0M461.6 34.4h0M459.2 32.8h0M463.7 34.4h0M461.7 34.5h0M459.7 25.2h0M462.2 33.8h0M462.4 32.2h0M459.2 29.0h0M459.6 33.3h0M464.6 34.4h0M462.7 29.5h0M464.3 34.5h0M461.1 30.0h0M461.0 30.1h0M457.9 33.7h0M457.3 33.7h0M463.4 33.2h0M463.8 30.6h0M459.7 30.5h0M460.8 31.9h0M461.5 29.4h0M462.5 33.5h0M464.3 32.4h0M459.2 34.5h0M463.4 33.7h0M462.4 25.0h0M464.5 33.2h0M459.1 33.2h0M462.0 26.7h0M462.5 30.7h0M463.6 30.0h0M463.8 30.6h0M463.1 32.7h0M459.8 31.8h0M462.4 33.8h0M464.8 34.3h0M457.2 34.0h0M465.0 34.2h0M458.3 33.2h0M457.4 34.5h0M462.3 30.7h0M463.0 30.6h0M462.1 34.3h0M463.9 33.1h0M463.7 28.9h0M464.5 34.3h0M463.5 26.4h0M458.8 34.2h0M457.3 34.2h0M463.2 28.3h0M463.7 31.2h0M459.7 31.3h0M457.8 34.2h0M459.3 29.9h0M460.7 33.3h0M459.2 34.5h0M463.1 33.5h0M459.8 33.0h0M463.6 29.7h0M457.8 31.4h0M460.8 32.8h0M460.3 29.7h0M461.6 30.5h0M464.4 33.8h0M464.1 34.2h0M457.0 33.9h0M463.6 33.8h0M461.2 34.5h0M463.6 32.3h0M461.3 33.9h0M464.1 33.1h0M465.1 33.6h0M458.9 33.5h0M461.3 30.6h0M462.5 34.2h0M463.8 34.3h0M463.3 30.6h0M460.2 31.3h0M460.4 32.9h0M459.0 27.3h0M458.7 27.3h0M459.3 33.8h0M461.3 26.9h0M464.5 33.0h0M461.0 33.7h0M463.3 32.1h0M462.3 29.9h0M459.9 33.1h0M464.3 34.0h0M463.1 31.0h0M460.8 33.9h0M461.8 29.7h0M461.0 34.1h0M459.9 27.4h0M459.6 33.9h0M463.7 30.5h0M458.3 34.0h0M459.8 33.6h0M458.6 32.1h0M458.7 33.2h0M459.1 27.5h0M460.3 33.6h0M462.5 26.8h0M458.8 32.7h0M458.4 31.2h0M460.3 33.8h0M460.4 34.4h0M462.6 29.4h0M462.3 32.3h0M458.4 32.5h0M460.6 31.5h0M464.1 30.1h0M461.9 32.7h0M460.8 30.0h0M463.2 33.7h0M462.8 27.6h0M463.8 30.6h0M462.3 30.8h0M459.8 32.6h0M458.3 31.3h0M463.6 32.8h0M462.2 30.4h0" stroke="#d2524e" stroke-width="0.8" stroke-linecap="round" fill="none"/>
<line x1="425.8" y1="19.3" x2="425.8" y2="67.35" stroke="#3c3c3c" stroke-width="0.75"/>
<line x1="422.2" y1="67" x2="474.4" y2="67" stroke="#3c3c3c" stroke-width="0.75"/>
<line x1="422.2" y1="53.13" x2="425.8" y2="53.13" stroke="#3c3c3c" stroke-width="0.7"/>
<line x1="422.2" y1="39.27" x2="425.8" y2="39.27" stroke="#3c3c3c" stroke-width="0.7"/>
<line x1="422.2" y1="25.41" x2="425.8" y2="25.41" stroke="#3c3c3c" stroke-width="0.7"/>
<text x="420.6" y="68.5" font-size="4.3" stroke="#3a3a3a" stroke-width="0.05" text-anchor="end" transform="rotate(0.25 420.6 68.5)" fill="#3a3a3a">0</text>
<text x="420.6" y="54.63" font-size="4.3" stroke="#3a3a3a" stroke-width="0.05" text-anchor="end" transform="rotate(0.25 420.6 54.63)" fill="#3a3a3a">5</text>
<text x="420.6" y="40.77" font-size="4.3" stroke="#3a3a3a" stroke-width="0.05" text-anchor="end" transform="rotate(0.25 420.6 40.77)" fill="#3a3a3a">10</text>
<text x="420.6" y="26.91" font-size="4.3" stroke="#3a3a3a" stroke-width="0.05" text-anchor="end" transform="rotate(0.25 420.6 26.91)" fill="#3a3a3a">15</text>
<line x1="439.1" y1="67" x2="439.1" y2="68.5" stroke="#3c3c3c" stroke-width="0.6"/>
<line x1="461.3" y1="67" x2="461.3" y2="68.5" stroke="#3c3c3c" stroke-width="0.6"/>
<text x="438.3" y="72.9" font-size="4.3" stroke="#3a3a3a" stroke-width="0.05" text-anchor="middle" transform="rotate(0.25 438.3 72.9)" fill="#3a3a3a">N0</text>
<text x="460.3" y="72.9" font-size="4.3" stroke="#3a3a3a" stroke-width="0.05" text-anchor="middle" transform="rotate(0.25 460.3 72.9)" fill="#3a3a3a">N1</text>
<text x="443" y="9.9" font-size="6" stroke="#3c3c3c" stroke-width="0.04" text-anchor="middle" transform="rotate(0.25 443 9.9)" fill="#3c3c3c">ALOX5</text>
<text x="439.8" y="23.2" font-size="5.8" stroke="#222" stroke-width="0.2" text-anchor="middle" font-weight="bold" transform="rotate(0.25 439.8 23.2)" fill="#222">****</text>
<text x="408.5" y="36.6" font-size="5.7" stroke="#333" stroke-width="0.2" text-anchor="middle" transform="rotate(-89.75 408.5 36.6)" fill="#333">X5</text>
<rect x="516.9" y="47.87" width="13.2" height="19.13" fill="#70bbbc"/>
<rect x="539.1" y="45.93" width="13.2" height="21.07" fill="#ce4e4a"/>
<path d="M522.8 47.7h0M524.5 46.6h0M524.9 46.9h0M522.0 39.7h0M525.5 45.1h0M523.4 47.0h0M523.9 48.3h0M525.9 48.1h0M523.6 39.1h0M524.1 48.3h0M525.2 46.1h0M524.6 46.3h0M523.6 42.7h0M527.1 46.9h0M525.1 47.9h0M525.7 47.0h0M527.7 48.3h0M519.8 47.2h0M522.6 47.6h0M522.8 48.7h0M525.1 46.8h0M521.6 47.2h0M525.6 47.8h0M523.6 39.2h0M526.1 47.9h0M521.1 47.0h0M525.9 48.2h0M524.3 43.1h0M524.0 46.5h0M527.5 47.8h0M524.7 47.2h0M525.5 42.9h0M521.9 46.6h0M520.6 46.0h0M522.6 42.6h0M522.1 42.2h0M521.5 47.1h0M521.0 46.8h0M525.4 48.7h0M521.3 47.6h0M523.3 47.5h0M524.6 46.8h0M522.5 45.0h0M525.2 39.7h0M526.3 48.5h0M525.0 40.7h0M526.3 48.2h0M519.9 45.3h0M527.4 48.7h0M521.7 45.1h0M520.4 48.3h0M525.9 47.8h0M520.6 47.3h0M525.0 40.7h0M526.9 48.1h0M525.6 45.5h0M526.3 45.0h0M525.7 43.4h0M525.2 48.0h0M525.4 46.1h0M526.6 46.7h0M521.7 45.9h0M520.4 47.8h0M520.0 46.4h0M520.7 46.6h0M523.5 46.4h0M526.3 46.1h0M526.4 48.7h0M524.0 46.6h0M526.0 45.0h0M522.8 47.1h0M524.7 47.9h0M520.0 45.3h0M524.9 45.5h0M522.7 39.6h0M523.4 43.6h0M521.0 41.0h0M524.4 44.4h0M526.5 47.3h0M523.3 47.2h0M525.6 46.2h0M522.9 47.9h0M523.9 46.8h0M522.2 42.7h0M522.9 42.7h0M521.7 46.3h0M527.2 46.3h0M525.6 45.1h0M522.0 47.3h0M524.2 47.5h0M525.6 45.3h0M525.4 48.6h0M523.8 41.3h0M521.8 48.5h0M520.8 48.7h0M524.0 40.1h0M525.6 45.1h0M524.1 40.5h0M524.4 45.4h0M524.2 44.7h0M521.4 44.8h0M523.2 45.0h0M520.8 43.8h0M519.5 48.0h0M526.2 43.6h0M522.5 45.1h0M525.3 42.8h0M521.6 45.9h0M522.8 47.5h0M522.9 47.4h0M526.7 45.2h0M524.1 48.5h0M520.2 48.6h0M524.0 43.1h0M523.2 40.2h0M522.5 48.6h0M526.8 45.7h0M522.9 44.0h0M524.7 48.3h0M520.5 47.9h0M519.2 48.6h0M520.8 44.8h0M526.7 47.8h0M519.4 48.2h0M521.7 44.4h0M521.4 44.2h0M525.9 48.5h0M526.0 44.5h0M520.6 44.3h0M525.0 45.3h0M527.0 46.6h0M527.5 47.7h0M520.1 44.4h0M524.8 48.6h0M520.9 42.9h0M525.4 47.4h0M526.6 48.1h0M520.0 46.4h0M524.1 47.1h0M524.9 46.7h0M526.1 48.2h0M524.7 47.2h0M522.9 45.3h0M525.9 47.0h0M524.7 38.9h0M521.9 45.9h0M527.6 48.5h0M525.8 44.6h0M524.4 47.3h0M524.0 40.4h0M522.9 47.4h0M522.8 41.3h0M524.2 44.8h0M525.1 41.0h0M519.3 47.6h0M522.8 47.7h0M525.9 45.7h0M521.0 41.3h0M525.4 42.6h0M523.9 41.8h0M526.5 47.6h0M524.7 43.1h0M522.7 40.4h0M524.0 48.4h0M521.6 43.3h0" stroke="#74bfc0" stroke-width="0.8" stroke-linecap="round" fill="none"/>
<path d="M548.6 42.0h0M546.6 45.9h0M545.5 42.9h0M543.6 46.0h0M547.7 42.0h0M542.4 44.7h0M547.4 41.2h0M546.4 45.9h0M547.8 39.0h0M545.5 44.3h0M543.3 43.7h0M543.0 46.0h0M544.7 42.7h0M545.0 43.9h0M543.0 44.3h0M550.0 46.6h0M542.5 45.2h0M547.8 43.4h0M546.5 46.2h0M545.9 45.3h0M541.7 46.7h0M545.6 38.1h0M543.9 43.9h0M545.2 41.6h0M546.8 36.8h0M548.6 41.0h0M541.8 45.8h0M543.0 46.0h0M541.8 46.5h0M548.5 44.0h0M549.3 44.7h0M543.5 38.6h0M544.9 43.7h0M549.6 46.3h0M546.2 45.7h0M549.1 43.3h0M544.9 43.0h0M543.0 44.7h0M544.5 36.9h0M543.6 46.6h0M549.0 45.3h0M547.5 38.8h0M548.2 46.6h0M546.7 42.6h0M542.6 46.2h0M548.7 42.0h0M544.3 42.9h0M547.6 43.7h0M544.2 46.4h0M542.5 45.7h0M543.1 44.5h0M542.6 45.8h0M542.2 42.9h0M543.6 42.5h0M549.4 46.6h0M549.4 45.9h0M547.9 39.9h0M545.2 46.2h0M549.4 46.4h0M546.5 40.5h0M544.4 44.7h0M545.6 40.9h0M543.1 43.4h0M541.9 45.9h0M546.1 42.5h0M548.9 46.2h0M545.0 45.7h0M543.7 46.2h0M544.7 40.5h0M545.6 46.1h0M549.1 45.5h0M549.8 46.3h0M549.1 46.6h0M543.6 43.0h0M544.0 44.6h0M543.2 45.7h0M549.8 45.2h0M543.8 37.5h0M549.0 45.6h0M547.6 46.6h0M549.7 45.6h0M548.3 46.7h0M542.7 45.3h0M548.6 46.8h0M543.3 44.2h0M549.0 44.8h0M546.3 45.9h0M542.9 46.3h0M547.1 41.8h0M542.1 46.0h0M546.6 46.4h0M543.9 44.4h0M546.7 46.0h0M547.9 42.6h0M543.4 43.8h0M547.7 46.5h0M547.5 45.0h0M548.4 46.6h0M548.6 45.4h0M545.7 40.0h0M549.2 46.7h0M548.7 44.6h0M543.0 45.7h0M544.9 40.7h0M544.6 46.2h0M542.0 43.7h0M545.3 44.3h0M542.7 44.3h0M547.9 42.5h0M544.7 39.9h0M544.9 42.5h0M542.7 42.0h0M548.3 39.8h0M545.8 44.4h0M546.0 44.2h0M549.7 46.7h0M543.0 45.9h0M543.6 46.4h0M542.8 41.0h0M547.4 46.4h0M541.6 46.0h0M546.3 43.7h0M547.3 44.2h0M548.9 46.4h0M542.5 42.5h0M545.6 46.3h0M544.0 44.4h0M544.9 46.3h0M546.5 46.3h0M543.6 40.1h0M547.6 43.9h0M548.5 46.1h0M545.2 37.3h0M548.5 44.9h0M544.9 44.2h0M546.9 37.1h0M543.5 45.4h0M545.2 45.4h0M547.8 38.7h0M547.9 41.0h0M545.8 46.6h0M544.6 37.4h0M546.8 44.9h0M546.0 45.2h0M545.1 46.5h0M541.9 44.4h0M549.7 46.2h0M548.6 41.7h0M548.0 43.4h0M547.8 39.4h0M546.9 46.6h0M547.2 45.7h0M546.1 45.7h0M546.3 38.0h0M545.9 45.8h0M549.3 44.8h0M544.1 45.6h0M542.9 43.2h0M549.1 43.7h0M543.9 44.3h0M546.0 44.6h0M542.5 46.2h0M543.9 46.3h0M544.0 45.0h0M542.2 45.8h0" stroke="#d2524e" stroke-width="0.8" stroke-linecap="round" fill="none"/>
<line x1="510.2" y1="19.3" x2="510.2" y2="67.35" stroke="#3c3c3c" stroke-width="0.75"/>
<line x1="506.6" y1="67" x2="558.8" y2="67" stroke="#3c3c3c" stroke-width="0.75"/>
<line x1="506.6" y1="53.13" x2="510.2" y2="53.13" stroke="#3c3c3c" stroke-width="0.7"/>
<line x1="506.6" y1="39.27" x2="510.2" y2="39.27" stroke="#3c3c3c" stroke-width="0.7"/>
<line x1="506.6" y1="25.41" x2="510.2" y2="25.41" stroke="#3c3c3c" stroke-width="0.7"/>
<text x="505" y="68.5" font-size="4.3" stroke="#3a3a3a" stroke-width="0.05" text-anchor="end" transform="rotate(0.25 505 68.5)" fill="#3a3a3a">0</text>
<text x="505" y="54.63" font-size="4.3" stroke="#3a3a3a" stroke-width="0.05" text-anchor="end" transform="rotate(0.25 505 54.63)" fill="#3a3a3a">5</text>
<text x="505" y="40.77" font-size="4.3" stroke="#3a3a3a" stroke-width="0.05" text-anchor="end" transform="rotate(0.25 505 40.77)" fill="#3a3a3a">10</text>
<text x="505" y="26.91" font-size="4.3" stroke="#3a3a3a" stroke-width="0.05" text-anchor="end" transform="rotate(0.25 505 26.91)" fill="#3a3a3a">15</text>
<line x1="523.5" y1="67" x2="523.5" y2="68.5" stroke="#3c3c3c" stroke-width="0.6"/>
<line x1="545.7" y1="67" x2="545.7" y2="68.5" stroke="#3c3c3c" stroke-width="0.6"/>
<text x="522.7" y="72.9" font-size="4.3" stroke="#3a3a3a" stroke-width="0.05" text-anchor="middle" transform="rotate(0.25 522.7 72.9)" fill="#3a3a3a">N0</text>
<text x="544.7" y="72.9" font-size="4.3" stroke="#3a3a3a" stroke-width="0.05" text-anchor="middle" transform="rotate(0.25 544.7 72.9)" fill="#3a3a3a">N1</text>
<text x="527.9" y="9.9" font-size="6" stroke="#3c3c3c" stroke-width="0.04" text-anchor="middle" transform="rotate(0.25 527.9 9.9)" fill="#3c3c3c">C15orf48</text>
<text x="524.2" y="23.2" font-size="5.8" stroke="#222" stroke-width="0.2" text-anchor="middle" font-weight="bold" transform="rotate(0.25 524.2 23.2)" fill="#222">****</text>
<rect x="600.5" y="47.03" width="13.2" height="19.97" fill="#70bbbc"/>
<rect x="622.7" y="44.82" width="13.2" height="22.18" fill="#ce4e4a"/>
<path d="M609.8 45.8h0M607.6 45.4h0M604.9 45.1h0M606.8 44.6h0M608.0 45.8h0M605.6 46.2h0M604.7 47.1h0M606.2 46.0h0M603.3 45.5h0M610.1 46.7h0M607.6 47.1h0M605.4 46.1h0M609.2 45.6h0M603.4 47.4h0M606.8 42.5h0M606.1 47.7h0M609.0 46.3h0M604.7 47.6h0M605.2 42.1h0M605.9 46.8h0M607.9 44.9h0M609.0 42.9h0M609.0 45.9h0M608.9 44.3h0M609.4 46.2h0M610.1 44.6h0M610.3 47.5h0M609.4 47.9h0M607.1 45.5h0M606.6 43.4h0M609.6 43.8h0M606.2 45.4h0M606.8 46.3h0M605.6 44.5h0M607.6 46.6h0M605.6 46.6h0M609.4 43.8h0M606.7 46.0h0M605.4 47.3h0M607.7 47.5h0M603.9 45.6h0M606.2 41.2h0M609.2 43.0h0M606.5 46.3h0M604.5 41.5h0M607.7 47.7h0M610.5 46.1h0M607.4 43.9h0M607.2 43.8h0M606.3 44.8h0M607.9 46.7h0M610.9 46.7h0M607.3 44.9h0M606.0 47.6h0M607.6 46.5h0M610.0 45.6h0M606.7 44.1h0M610.8 45.3h0M607.4 46.8h0M605.0 43.4h0M611.2 46.9h0M607.2 43.2h0M610.5 47.6h0M609.4 44.8h0M606.7 41.0h0M605.3 47.4h0M607.1 46.0h0M604.4 47.3h0M607.9 45.2h0M611.3 46.7h0M603.7 45.2h0M609.5 46.5h0M608.7 46.9h0M605.4 47.9h0M607.6 43.0h0M604.9 45.0h0M607.5 46.0h0M608.4 47.0h0M611.0 45.9h0M606.4 45.6h0M604.1 47.5h0M604.4 44.1h0M604.3 47.6h0M609.7 45.9h0M609.4 45.4h0M602.9 47.7h0M605.9 44.0h0M606.1 44.5h0M605.1 47.4h0M610.6 47.6h0M605.9 45.6h0M606.2 46.3h0M610.5 47.7h0M610.6 45.6h0M608.1 46.3h0M603.2 47.1h0M608.8 40.8h0M610.5 46.9h0M605.8 43.4h0M610.6 45.4h0M610.7 46.1h0M606.2 47.1h0M605.1 44.5h0M610.3 46.9h0M609.5 46.1h0M604.3 47.1h0M604.5 46.7h0M607.6 45.6h0M607.4 47.5h0M606.3 46.6h0M603.9 47.7h0M606.2 43.3h0M604.4 47.1h0M604.8 47.0h0M608.5 47.8h0M604.2 46.8h0M604.2 44.6h0M610.0 47.0h0M606.6 47.5h0M609.0 43.1h0M605.8 47.4h0M606.2 44.5h0M610.8 46.3h0M604.9 46.0h0M604.1 46.3h0M605.4 44.6h0M607.6 41.8h0M605.0 46.7h0M604.9 45.4h0M604.9 42.4h0M607.4 46.0h0M609.4 47.0h0M608.4 46.6h0M605.6 45.7h0M603.7 46.6h0M610.1 47.4h0M608.5 46.8h0M607.6 47.6h0M607.1 46.7h0M603.4 46.9h0M604.8 46.9h0M609.0 47.5h0M606.3 47.0h0M608.5 41.5h0M609.1 42.2h0M605.2 47.5h0M608.6 47.8h0M606.0 45.0h0M608.4 46.5h0M605.3 44.7h0M606.2 42.9h0M604.7 45.2h0M610.6 47.5h0M608.6 44.4h0M603.1 47.8h0M604.5 47.4h0M606.1 46.9h0M605.5 47.8h0M604.7 45.2h0M607.5 43.0h0M605.4 44.5h0M608.6 46.4h0M602.9 46.7h0M608.8 43.1h0M603.2 47.0h0" stroke="#74bfc0" stroke-width="0.8" stroke-linecap="round" fill="none"/>
<path d="M630.0 41.7h0M627.1 45.5h0M631.8 45.4h0M632.9 45.2h0M626.4 42.8h0M628.5 43.2h0M631.6 42.8h0M625.8 45.0h0M629.0 39.6h0M630.3 40.1h0M631.6 42.9h0M628.9 43.6h0M631.0 45.5h0M629.4 44.5h0M627.4 40.2h0M626.1 42.7h0M631.5 43.1h0M629.7 45.0h0M629.6 41.8h0M625.5 45.1h0M628.5 44.7h0M627.7 45.2h0M631.1 45.3h0M627.3 43.3h0M629.4 45.1h0M632.9 44.4h0M627.6 44.7h0M627.2 41.2h0M628.0 43.9h0M629.6 42.1h0M627.0 42.7h0M630.0 43.4h0M631.5 44.4h0M626.8 42.0h0M628.1 44.9h0M625.5 45.2h0M626.7 45.0h0M628.9 43.1h0M627.8 45.4h0M628.2 44.3h0M625.6 45.3h0M633.5 45.6h0M626.4 42.8h0M632.8 43.0h0M626.2 43.9h0M628.8 44.3h0M629.7 45.2h0M632.9 45.6h0M630.3 43.5h0M630.0 40.0h0M627.1 45.0h0M625.2 45.3h0M631.6 42.6h0M626.6 44.9h0M631.9 43.5h0M627.6 40.2h0M631.5 42.5h0M628.1 42.8h0M632.1 45.2h0M628.2 44.8h0M628.3 44.0h0M627.6 42.0h0M629.9 45.6h0M631.7 43.6h0M632.2 43.1h0M629.3 39.6h0M626.5 44.2h0M630.0 44.9h0M630.9 45.5h0M628.8 45.3h0M625.3 45.1h0M626.7 44.4h0M625.7 43.0h0M631.5 41.8h0M628.8 42.4h0M630.7 45.0h0M628.7 44.1h0M628.8 44.8h0M631.7 43.4h0M627.5 40.8h0M628.8 44.9h0M628.1 43.9h0M625.7 45.2h0M629.0 44.8h0M631.1 40.1h0M629.9 39.8h0M626.4 42.2h0M630.1 43.3h0M629.9 44.9h0M630.3 42.7h0M628.0 44.9h0M626.6 41.2h0M630.8 45.2h0M625.9 44.4h0M628.3 43.4h0M628.6 43.8h0M629.8 44.1h0M626.0 44.6h0M632.7 45.2h0M626.2 44.0h0M627.8 41.5h0M629.6 45.4h0M629.2 45.0h0M627.1 44.0h0M626.3 43.9h0M630.0 44.2h0M628.5 45.5h0M628.8 45.5h0M629.6 41.5h0M631.2 43.0h0M633.5 45.4h0M626.4 43.0h0M628.6 42.0h0M633.3 45.3h0M631.5 43.9h0M631.7 45.3h0M627.0 45.5h0M625.2 44.7h0M627.1 43.8h0M631.1 44.9h0M632.5 44.5h0M632.2 43.6h0M632.6 43.9h0M627.3 41.4h0M628.2 42.8h0M630.6 42.7h0M626.9 42.0h0M631.3 44.7h0M626.6 41.2h0M626.2 43.7h0M631.7 44.0h0M633.0 45.4h0M627.5 43.3h0M628.8 45.2h0M629.8 41.9h0M625.2 45.4h0M631.9 45.4h0M629.8 45.2h0M630.9 44.9h0M626.3 44.7h0M629.5 41.3h0M631.6 43.2h0M627.9 45.6h0M629.3 45.3h0M631.1 41.4h0M626.6 45.6h0M630.5 42.1h0M629.1 44.6h0M632.3 45.3h0M632.4 44.6h0M626.0 43.7h0M626.9 44.8h0M629.8 41.0h0M626.5 45.6h0M629.0 44.7h0M628.4 43.9h0M625.1 44.7h0M628.0 43.9h0M629.0 45.6h0M626.3 45.4h0M627.6 43.3h0M629.3 45.0h0M629.9 45.0h0M633.0 44.1h0M629.8 45.4h0" stroke="#d2524e" stroke-width="0.8" stroke-linecap="round" fill="none"/>
<line x1="593.8" y1="19.3" x2="593.8" y2="67.35" stroke="#3c3c3c" stroke-width="0.75"/>
<line x1="590.2" y1="67" x2="642.4" y2="67" stroke="#3c3c3c" stroke-width="0.75"/>
<line x1="590.2" y1="53.13" x2="593.8" y2="53.13" stroke="#3c3c3c" stroke-width="0.7"/>
<line x1="590.2" y1="39.27" x2="593.8" y2="39.27" stroke="#3c3c3c" stroke-width="0.7"/>
<line x1="590.2" y1="25.41" x2="593.8" y2="25.41" stroke="#3c3c3c" stroke-width="0.7"/>
<text x="588.6" y="68.5" font-size="4.3" stroke="#3a3a3a" stroke-width="0.05" text-anchor="end" transform="rotate(0.25 588.6 68.5)" fill="#3a3a3a">0</text>
<text x="588.6" y="54.63" font-size="4.3" stroke="#3a3a3a" stroke-width="0.05" text-anchor="end" transform="rotate(0.25 588.6 54.63)" fill="#3a3a3a">5</text>
<text x="588.6" y="40.77" font-size="4.3" stroke="#3a3a3a" stroke-width="0.05" text-anchor="end" transform="rotate(0.25 588.6 40.77)" fill="#3a3a3a">10</text>
<text x="588.6" y="26.91" font-size="4.3" stroke="#3a3a3a" stroke-width="0.05" text-anchor="end" transform="rotate(0.25 588.6 26.91)" fill="#3a3a3a">15</text>
<line x1="607.1" y1="67" x2="607.1" y2="68.5" stroke="#3c3c3c" stroke-width="0.6"/>
<line x1="629.3" y1="67" x2="629.3" y2="68.5" stroke="#3c3c3c" stroke-width="0.6"/>
<text x="606.3" y="72.9" font-size="4.3" stroke="#3a3a3a" stroke-width="0.05" text-anchor="middle" transform="rotate(0.25 606.3 72.9)" fill="#3a3a3a">N0</text>
<text x="628.3" y="72.9" font-size="4.3" stroke="#3a3a3a" stroke-width="0.05" text-anchor="middle" transform="rotate(0.25 628.3 72.9)" fill="#3a3a3a">N1</text>
<text x="609.1" y="9.9" font-size="6" stroke="#3c3c3c" stroke-width="0.04" text-anchor="middle" transform="rotate(0.25 609.1 9.9)" fill="#3c3c3c">CLEC5A</text>
<text x="607.8" y="23.2" font-size="5.8" stroke="#222" stroke-width="0.2" text-anchor="middle" font-weight="bold" transform="rotate(0.25 607.8 23.2)" fill="#222">****</text>
<rect x="346.9" y="121.21" width="13.2" height="23.29" fill="#70bbbc"/>
<rect x="369.1" y="118.99" width="13.2" height="25.51" fill="#ce4e4a"/>
<path d="M356.0 117.0h0M354.4 117.0h0M352.5 118.6h0M356.0 120.9h0M356.0 115.0h0M352.1 118.2h0M355.1 117.1h0M354.6 119.6h0M353.9 120.6h0M349.9 120.3h0M352.0 120.6h0M352.6 117.2h0M351.2 121.1h0M350.5 120.6h0M356.7 122.0h0M353.1 120.0h0M352.0 119.2h0M349.8 121.4h0M351.9 120.8h0M353.9 117.6h0M352.8 112.6h0M353.9 113.4h0M350.7 121.8h0M357.2 119.1h0M355.8 120.5h0M356.5 120.1h0M353.4 121.8h0M352.3 114.3h0M349.4 121.0h0M351.5 121.4h0M351.5 117.9h0M351.1 120.3h0M356.2 118.9h0M351.3 118.5h0M356.7 117.5h0M350.3 118.9h0M355.9 116.4h0M350.5 120.6h0M353.8 121.3h0M354.3 115.0h0M352.1 113.3h0M355.6 120.7h0M352.8 118.5h0M352.3 118.2h0M352.8 121.8h0M354.6 121.9h0M353.5 120.7h0M351.7 118.9h0M349.6 119.9h0M353.8 113.2h0M354.5 121.5h0M352.3 117.7h0M350.5 121.7h0M355.8 121.5h0M356.2 121.7h0M353.8 120.2h0M353.9 119.0h0M354.2 118.4h0M355.5 120.7h0M355.3 121.0h0M355.3 117.1h0M355.8 120.8h0M352.0 117.5h0M356.9 119.5h0M349.3 121.6h0M354.7 119.8h0M352.6 117.0h0M355.5 119.8h0M349.4 121.7h0M349.7 121.5h0M353.9 119.7h0M357.3 121.4h0M350.6 120.5h0M355.5 121.4h0M351.8 113.4h0M355.9 121.9h0M357.6 121.1h0M354.6 119.7h0M356.0 120.6h0M352.1 119.9h0M351.4 114.1h0M350.5 117.6h0M352.8 118.5h0M351.0 115.3h0M352.8 119.2h0M355.7 113.5h0M351.5 118.7h0M351.5 121.1h0M351.3 120.1h0M355.7 121.3h0M352.0 118.5h0M354.1 119.9h0M356.6 121.5h0M352.2 115.1h0M355.7 117.3h0M352.1 120.9h0M356.6 119.8h0M355.1 121.4h0M353.1 118.9h0M356.4 119.1h0M356.8 121.2h0M355.8 120.5h0M351.7 115.3h0M356.4 115.3h0M349.5 120.8h0M357.6 121.6h0M357.0 122.0h0M355.5 121.5h0M350.7 121.7h0M350.6 118.1h0M357.0 120.6h0M356.2 117.8h0M351.2 121.7h0M354.7 116.7h0M353.5 121.9h0M352.9 121.1h0M349.4 121.7h0M356.3 118.9h0M353.4 121.6h0M352.9 121.5h0M355.1 121.4h0M355.5 121.5h0M350.4 119.7h0M353.5 120.6h0M352.8 113.5h0M357.5 121.2h0M354.8 114.8h0M350.8 121.0h0M349.8 121.0h0M353.6 121.9h0M354.0 120.3h0M349.5 120.5h0M354.6 118.1h0M353.9 119.4h0M356.9 118.1h0M354.7 115.0h0M352.0 120.3h0M357.3 120.2h0M352.6 120.4h0M350.6 120.2h0M354.4 122.0h0M352.3 113.2h0M352.6 118.8h0M350.9 121.1h0M356.5 121.6h0M356.2 116.8h0M355.2 121.9h0M354.7 120.7h0M352.1 119.3h0M355.6 122.0h0M353.6 115.5h0M357.2 119.0h0M354.6 121.1h0M352.7 117.4h0M352.8 117.8h0M354.4 119.5h0M352.2 118.2h0M353.8 118.7h0M354.5 121.2h0M357.0 121.0h0M355.3 119.9h0M353.3 119.5h0M350.4 121.2h0M353.6 113.1h0M353.7 119.5h0" stroke="#74bfc0" stroke-width="0.8" stroke-linecap="round" fill="none"/>
<path d="M374.0 114.6h0M378.5 119.2h0M376.8 117.9h0M378.1 114.4h0M373.1 113.5h0M378.4 118.3h0M373.3 114.5h0M373.6 119.3h0M374.5 119.5h0M375.8 114.8h0M372.4 117.9h0M379.8 118.3h0M375.3 116.1h0M378.1 117.8h0M373.3 115.4h0M374.7 116.3h0M373.6 117.5h0M374.4 118.4h0M371.7 118.3h0M376.3 119.1h0M372.9 119.6h0M374.1 115.9h0M373.5 118.6h0M373.2 114.2h0M378.4 116.7h0M375.0 119.1h0M376.5 114.9h0M371.9 118.4h0M374.6 118.0h0M374.3 115.9h0M376.9 118.2h0M374.8 114.6h0M376.3 118.3h0M374.2 111.8h0M375.0 113.3h0M374.5 116.4h0M377.9 119.6h0M375.9 118.3h0M378.9 117.7h0M372.5 115.4h0M375.4 117.0h0M378.4 117.9h0M375.5 118.2h0M375.4 112.9h0M375.8 117.7h0M376.8 114.4h0M375.0 115.6h0M377.2 119.7h0M377.8 117.3h0M373.2 115.2h0M372.1 119.0h0M373.2 114.5h0M377.9 119.5h0M372.3 117.2h0M377.2 116.3h0M372.2 117.8h0M375.1 116.2h0M379.5 117.1h0M378.0 114.5h0M374.3 119.3h0M371.8 117.5h0M373.9 117.3h0M373.6 118.7h0M376.0 113.7h0M375.1 117.6h0M374.0 119.7h0M377.4 113.5h0M374.3 113.8h0M371.8 119.1h0M374.7 117.4h0M375.6 117.9h0M374.7 117.1h0M373.8 114.8h0M376.0 112.0h0M374.1 119.7h0M375.0 117.5h0M374.3 117.2h0M378.2 118.8h0M377.5 118.7h0M376.3 114.8h0M379.2 117.9h0M378.8 118.0h0M375.1 119.6h0M372.4 116.6h0M373.2 113.6h0M373.3 117.0h0M376.0 111.9h0M375.7 114.8h0M377.0 116.3h0M373.3 118.7h0M373.5 114.2h0M374.2 112.0h0M372.2 119.5h0M378.7 115.0h0M377.0 118.2h0M379.2 118.9h0M373.2 116.2h0M377.4 119.6h0M378.6 119.7h0M373.4 118.7h0M374.3 117.1h0M373.0 117.3h0M374.8 112.3h0M373.6 114.1h0M378.8 114.8h0M371.9 118.3h0M376.9 118.3h0M376.1 119.0h0M375.4 119.5h0M375.2 115.8h0M372.9 116.3h0M373.4 114.3h0M378.1 111.8h0M375.8 111.1h0M374.4 118.8h0M375.7 115.5h0M373.8 111.6h0M378.6 117.8h0M376.0 117.0h0M372.6 119.5h0M379.0 118.8h0M374.1 114.0h0M373.4 111.8h0M379.2 117.0h0M379.4 118.5h0M372.4 116.5h0M375.3 118.6h0M377.8 118.9h0M378.2 119.2h0M372.1 118.7h0M372.6 117.3h0M377.9 117.3h0M375.4 117.0h0M375.8 119.7h0M377.0 119.5h0M376.4 119.4h0M374.7 118.5h0M373.3 116.4h0M379.5 119.2h0M378.6 118.6h0M375.6 113.4h0M372.2 119.3h0M373.5 113.2h0M376.0 117.7h0M375.4 119.4h0M376.0 119.3h0M374.6 117.6h0M374.9 119.1h0M372.5 119.1h0M378.9 119.0h0M378.8 117.7h0M379.5 119.8h0M378.0 117.7h0M377.1 117.2h0M377.9 119.0h0M373.7 119.3h0M374.8 119.7h0M374.1 117.5h0M373.4 112.9h0M373.7 117.1h0M377.9 117.0h0M372.6 116.0h0M376.6 118.9h0M376.7 119.4h0M377.9 116.2h0" stroke="#d2524e" stroke-width="0.8" stroke-linecap="round" fill="none"/>
<line x1="340.2" y1="96.8" x2="340.2" y2="144.85" stroke="#3c3c3c" stroke-width="0.75"/>
<line x1="336.6" y1="144.5" x2="388.8" y2="144.5" stroke="#3c3c3c" stroke-width="0.75"/>
<line x1="336.6" y1="130.63" x2="340.2" y2="130.63" stroke="#3c3c3c" stroke-width="0.7"/>
<line x1="336.6" y1="116.77" x2="340.2" y2="116.77" stroke="#3c3c3c" stroke-width="0.7"/>
<line x1="336.6" y1="102.91" x2="340.2" y2="102.91" stroke="#3c3c3c" stroke-width="0.7"/>
<text x="335" y="146" font-size="4.3" stroke="#3a3a3a" stroke-width="0.05" text-anchor="end" transform="rotate(0.25 335 146)" fill="#3a3a3a">0</text>
<text x="335" y="132.13" font-size="4.3" stroke="#3a3a3a" stroke-width="0.05" text-anchor="end" transform="rotate(0.25 335 132.13)" fill="#3a3a3a">5</text>
<text x="335" y="118.27" font-size="4.3" stroke="#3a3a3a" stroke-width="0.05" text-anchor="end" transform="rotate(0.25 335 118.27)" fill="#3a3a3a">10</text>
<text x="335" y="104.41" font-size="4.3" stroke="#3a3a3a" stroke-width="0.05" text-anchor="end" transform="rotate(0.25 335 104.41)" fill="#3a3a3a">15</text>
<line x1="353.5" y1="144.5" x2="353.5" y2="146" stroke="#3c3c3c" stroke-width="0.6"/>
<line x1="375.7" y1="144.5" x2="375.7" y2="146" stroke="#3c3c3c" stroke-width="0.6"/>
<text x="352.7" y="150.4" font-size="4.3" stroke="#3a3a3a" stroke-width="0.05" text-anchor="middle" transform="rotate(0.25 352.7 150.4)" fill="#3a3a3a">N0</text>
<text x="374.7" y="150.4" font-size="4.3" stroke="#3a3a3a" stroke-width="0.05" text-anchor="middle" transform="rotate(0.25 374.7 150.4)" fill="#3a3a3a">N1</text>
<text x="359.9" y="92" font-size="6" stroke="#3c3c3c" stroke-width="0.04" text-anchor="middle" transform="rotate(0.25 359.9 92)" fill="#3c3c3c">OLR1</text>
<text x="353.8" y="100.4" font-size="5.8" stroke="#222" stroke-width="0.2" text-anchor="middle" font-weight="bold" transform="rotate(0.25 353.8 100.4)" fill="#222">***</text>
<rect x="432.5" y="125.37" width="13.2" height="19.13" fill="#70bbbc"/>
<rect x="454.7" y="123.7" width="13.2" height="20.8" fill="#ce4e4a"/>
<path d="M441.7 124.4h0M442.4 123.5h0M442.9 126.2h0M438.4 123.9h0M436.9 125.8h0M440.3 120.5h0M437.8 125.5h0M436.5 125.5h0M437.7 125.1h0M440.3 113.5h0M439.1 123.4h0M441.7 119.6h0M440.0 120.2h0M440.2 125.2h0M440.8 118.1h0M441.0 125.8h0M436.3 124.3h0M440.5 117.6h0M441.9 125.6h0M440.9 114.2h0M441.3 120.3h0M439.7 119.2h0M441.7 123.7h0M441.5 119.5h0M442.9 124.7h0M442.5 122.9h0M443.1 125.7h0M437.5 119.5h0M437.5 118.3h0M438.7 125.2h0M439.0 125.0h0M440.0 115.8h0M438.4 120.8h0M441.0 119.6h0M442.2 121.2h0M438.5 118.6h0M440.4 125.8h0M438.1 118.4h0M441.6 122.3h0M435.9 119.4h0M435.3 123.3h0M441.8 125.7h0M439.9 123.8h0M437.8 123.5h0M437.9 125.2h0M439.8 118.1h0M435.7 124.7h0M440.8 124.8h0M440.4 123.7h0M436.7 119.1h0M435.9 121.2h0M437.2 118.7h0M442.9 124.8h0M436.8 124.2h0M439.7 116.6h0M438.5 116.5h0M442.7 123.2h0M442.9 123.1h0M441.9 125.3h0M439.3 125.4h0M436.3 126.2h0M438.9 113.6h0M437.5 119.0h0M435.8 124.3h0M441.9 122.7h0M438.1 123.1h0M440.9 114.8h0M436.1 121.4h0M438.7 122.0h0M440.3 121.6h0M438.2 121.9h0M440.5 123.0h0M439.1 115.9h0M443.0 124.2h0M442.0 125.9h0M439.5 121.2h0M441.1 123.6h0M440.3 116.6h0M436.0 120.2h0M436.1 124.5h0M437.4 114.8h0M439.7 122.4h0M438.2 126.0h0M440.0 120.2h0M441.3 124.8h0M439.5 124.7h0M442.9 123.8h0M441.3 121.7h0M438.3 121.3h0M440.2 117.1h0M436.3 124.8h0M441.6 122.5h0M438.1 119.4h0M439.2 125.5h0M437.2 117.1h0M436.9 120.4h0M435.4 124.6h0M438.1 124.7h0M437.7 113.9h0M442.8 124.6h0M437.6 125.2h0M436.0 123.7h0M438.2 124.9h0M442.9 124.1h0M436.6 124.9h0M438.8 115.8h0M439.9 118.3h0M437.9 119.7h0M441.3 125.5h0M439.6 123.4h0M440.9 121.4h0M437.9 124.8h0M439.2 115.4h0M440.2 124.7h0M441.4 124.9h0M441.9 126.0h0M438.0 122.6h0M438.1 114.0h0M435.5 125.0h0M441.0 122.7h0M438.5 121.3h0M436.7 119.0h0M440.3 124.6h0M440.2 118.1h0M438.4 119.7h0M440.2 114.0h0M438.2 124.4h0M438.2 119.1h0M442.3 125.3h0M439.3 122.9h0M442.0 121.4h0M437.7 125.6h0M438.4 125.9h0M441.8 123.2h0M439.7 121.4h0M439.7 124.0h0M442.0 124.8h0M441.3 119.5h0M440.6 125.5h0M439.1 120.1h0M441.2 116.3h0M441.3 120.3h0M441.8 121.7h0M440.9 125.6h0M439.9 120.9h0M435.5 124.8h0M441.5 122.2h0M436.7 124.8h0M435.6 125.1h0M442.5 121.3h0M438.2 119.2h0M436.1 121.0h0M438.1 118.3h0M440.2 126.2h0M437.2 125.6h0M438.6 125.9h0M441.4 122.7h0M441.9 126.0h0M436.7 125.7h0M437.9 121.9h0M439.7 124.5h0M441.6 125.1h0M442.0 125.2h0M439.3 119.0h0M441.5 126.1h0" stroke="#74bfc0" stroke-width="0.8" stroke-linecap="round" fill="none"/>
<path d="M461.3 124.4h0M457.8 122.2h0M462.9 120.3h0M460.6 120.8h0M462.0 121.5h0M464.4 123.4h0M463.7 114.5h0M465.3 122.8h0M461.1 124.2h0M460.9 123.9h0M462.8 119.7h0M460.0 122.0h0M460.5 123.6h0M458.7 123.1h0M461.4 118.9h0M458.9 122.1h0M459.2 119.4h0M461.8 123.2h0M464.6 119.4h0M464.3 118.7h0M462.4 113.8h0M458.3 119.1h0M457.1 123.6h0M462.6 116.1h0M459.6 120.3h0M458.5 122.7h0M464.9 120.3h0M457.5 123.0h0M460.1 123.7h0M462.9 114.8h0M458.1 122.0h0M458.3 124.1h0M461.1 118.2h0M462.7 113.2h0M463.8 121.8h0M457.9 124.0h0M461.4 121.0h0M459.2 123.5h0M464.8 124.4h0M464.4 119.3h0M462.9 119.1h0M463.8 122.5h0M459.1 116.7h0M458.8 124.5h0M460.4 120.8h0M464.1 124.5h0M461.1 118.0h0M464.6 124.3h0M458.0 121.3h0M462.3 122.9h0M461.2 115.3h0M459.2 120.2h0M464.7 123.4h0M458.1 122.5h0M458.5 120.7h0M460.9 123.6h0M462.3 120.8h0M460.9 119.3h0M463.2 124.2h0M461.0 124.3h0M462.7 122.4h0M459.5 119.2h0M462.7 120.1h0M458.5 121.8h0M461.8 114.4h0M459.1 124.3h0M460.5 121.7h0M463.4 118.0h0M463.1 120.3h0M457.8 124.4h0M458.9 114.5h0M459.1 124.3h0M460.0 113.2h0M464.4 119.8h0M464.4 120.2h0M458.4 123.2h0M463.5 124.5h0M465.4 124.1h0M459.1 119.3h0M459.2 117.6h0M458.2 121.5h0M463.8 118.0h0M458.8 114.0h0M461.6 116.4h0M461.3 117.2h0M462.0 120.4h0M458.6 117.7h0M461.7 124.3h0M460.4 123.1h0M463.4 124.5h0M464.1 124.4h0M461.0 117.5h0M462.6 124.0h0M460.7 123.5h0M465.4 124.0h0M460.2 121.2h0M463.3 124.1h0M463.3 116.5h0M460.2 124.1h0M463.5 123.0h0M462.2 123.9h0M458.7 114.9h0M458.0 124.2h0M462.0 119.5h0M461.0 121.4h0M462.2 122.3h0M464.3 120.1h0M463.3 118.9h0M463.0 114.2h0M458.1 119.2h0M463.8 119.7h0M464.3 122.1h0M465.1 123.7h0M462.9 122.1h0M459.6 123.3h0M459.9 122.7h0M460.8 124.1h0M463.8 116.4h0M463.5 118.4h0M460.1 115.1h0M460.6 123.3h0M459.0 124.4h0M463.6 115.3h0M463.5 122.8h0M463.8 118.2h0M461.5 117.8h0M464.1 124.1h0M462.4 122.9h0M461.6 122.6h0M461.6 122.5h0M461.6 120.1h0M460.9 112.7h0M462.2 114.1h0M458.9 123.4h0M464.7 123.1h0M459.2 124.5h0M464.7 119.2h0M460.8 123.7h0M462.6 119.6h0M463.0 118.7h0M459.2 123.3h0M462.9 124.4h0M459.2 123.5h0M461.8 116.5h0M462.0 120.0h0M459.9 119.5h0M457.6 124.3h0M460.1 124.5h0M458.0 123.9h0M465.0 121.6h0M459.7 119.6h0M459.2 118.3h0M459.6 124.1h0M462.8 122.3h0M463.1 122.0h0M465.0 124.1h0M464.0 122.8h0M464.1 124.4h0M464.3 123.4h0M462.4 117.6h0M457.2 123.2h0M464.8 123.6h0M462.7 123.8h0M462.5 120.8h0M458.2 123.7h0" stroke="#d2524e" stroke-width="0.8" stroke-linecap="round" fill="none"/>
<line x1="425.8" y1="96.8" x2="425.8" y2="144.85" stroke="#3c3c3c" stroke-width="0.75"/>
<line x1="422.2" y1="144.5" x2="474.4" y2="144.5" stroke="#3c3c3c" stroke-width="0.75"/>
<line x1="422.2" y1="130.63" x2="425.8" y2="130.63" stroke="#3c3c3c" stroke-width="0.7"/>
<line x1="422.2" y1="116.77" x2="425.8" y2="116.77" stroke="#3c3c3c" stroke-width="0.7"/>
<line x1="422.2" y1="102.91" x2="425.8" y2="102.91" stroke="#3c3c3c" stroke-width="0.7"/>
<text x="420.6" y="146" font-size="4.3" stroke="#3a3a3a" stroke-width="0.05" text-anchor="end" transform="rotate(0.25 420.6 146)" fill="#3a3a3a">0</text>
<text x="420.6" y="132.13" font-size="4.3" stroke="#3a3a3a" stroke-width="0.05" text-anchor="end" transform="rotate(0.25 420.6 132.13)" fill="#3a3a3a">5</text>
<text x="420.6" y="118.27" font-size="4.3" stroke="#3a3a3a" stroke-width="0.05" text-anchor="end" transform="rotate(0.25 420.6 118.27)" fill="#3a3a3a">10</text>
<text x="420.6" y="104.41" font-size="4.3" stroke="#3a3a3a" stroke-width="0.05" text-anchor="end" transform="rotate(0.25 420.6 104.41)" fill="#3a3a3a">15</text>
<line x1="439.1" y1="144.5" x2="439.1" y2="146" stroke="#3c3c3c" stroke-width="0.6"/>
<line x1="461.3" y1="144.5" x2="461.3" y2="146" stroke="#3c3c3c" stroke-width="0.6"/>
<text x="438.3" y="150.4" font-size="4.3" stroke="#3a3a3a" stroke-width="0.05" text-anchor="middle" transform="rotate(0.25 438.3 150.4)" fill="#3a3a3a">N0</text>
<text x="460.3" y="150.4" font-size="4.3" stroke="#3a3a3a" stroke-width="0.05" text-anchor="middle" transform="rotate(0.25 460.3 150.4)" fill="#3a3a3a">N1</text>
<text x="443" y="92" font-size="6" stroke="#3c3c3c" stroke-width="0.04" text-anchor="middle" transform="rotate(0.25 443 92)" fill="#3c3c3c">S100A8</text>
<text x="439.4" y="100.4" font-size="5.8" stroke="#222" stroke-width="0.2" text-anchor="middle" font-weight="bold" transform="rotate(0.25 439.4 100.4)" fill="#222">***</text>
<rect x="516.9" y="127.58" width="13.2" height="16.92" fill="#70bbbc"/>
<rect x="539.1" y="125.92" width="13.2" height="18.58" fill="#ce4e4a"/>
<path d="M527.7 128.2h0M524.8 127.3h0M521.3 126.5h0M519.3 128.3h0M521.2 124.1h0M525.2 126.0h0M526.0 128.1h0M522.3 127.8h0M520.4 126.7h0M526.0 127.8h0M522.5 127.7h0M521.6 125.1h0M521.1 127.9h0M522.4 127.3h0M523.3 126.1h0M520.8 123.8h0M526.0 126.0h0M519.5 127.8h0M520.3 127.1h0M525.2 127.0h0M520.2 128.2h0M520.8 126.9h0M523.0 127.8h0M519.8 128.1h0M523.2 127.4h0M523.8 122.2h0M521.1 128.2h0M523.9 125.3h0M526.2 123.8h0M521.1 124.0h0M523.6 121.9h0M520.7 127.8h0M521.8 123.9h0M521.5 128.2h0M523.3 122.6h0M520.5 125.4h0M522.0 127.1h0M524.9 127.9h0M520.3 127.4h0M521.3 125.2h0M524.8 128.4h0M519.7 126.8h0M525.5 127.0h0M521.4 126.7h0M524.3 126.9h0M520.8 126.0h0M526.4 124.7h0M526.0 125.4h0M526.9 127.4h0M521.2 128.0h0M526.6 126.4h0M521.1 128.2h0M523.0 128.3h0M520.8 128.1h0M524.1 125.3h0M523.0 122.1h0M519.9 125.8h0M523.3 126.9h0M527.1 126.8h0M527.5 126.9h0M521.3 126.2h0M521.6 124.4h0M521.6 125.4h0M522.8 126.3h0M524.9 127.5h0M522.4 128.4h0M526.3 128.0h0M524.4 128.4h0M523.1 127.7h0M525.2 126.5h0M521.3 128.1h0M527.5 128.1h0M520.4 128.1h0M524.2 126.7h0M521.0 123.5h0M520.6 127.8h0M523.1 126.4h0M526.7 127.2h0M526.2 126.0h0M527.0 126.6h0M519.8 127.2h0M521.4 122.8h0M521.7 128.4h0M527.5 127.6h0M523.0 123.8h0M526.3 126.7h0M524.5 124.7h0M520.4 126.8h0M524.9 127.8h0M525.8 126.4h0M526.0 123.2h0M519.9 127.9h0M523.9 123.3h0M525.2 128.0h0M521.2 127.7h0M523.7 127.4h0M520.4 125.9h0M524.4 125.4h0M524.9 127.0h0M520.3 124.8h0M525.0 127.0h0M524.6 125.6h0M527.4 128.0h0M521.7 124.9h0M527.3 127.1h0M522.7 127.9h0M522.2 122.4h0M522.5 125.4h0M525.5 126.0h0M521.1 128.1h0M521.5 127.9h0M520.4 128.3h0M522.8 127.2h0M524.2 128.2h0M523.9 122.0h0M525.2 127.4h0M520.8 127.1h0M519.6 126.9h0M521.0 125.9h0M527.4 127.4h0M525.8 125.1h0M524.5 126.1h0M526.9 125.7h0M525.8 127.9h0M521.4 127.6h0M524.1 124.5h0M525.8 124.1h0M521.2 126.4h0M523.8 128.4h0M521.9 125.5h0M519.2 128.3h0M525.2 128.0h0M521.2 128.4h0M525.3 127.7h0M520.2 128.3h0M525.8 122.2h0M522.1 128.1h0M522.1 126.7h0M523.3 127.2h0M519.7 127.7h0M520.6 128.2h0M524.6 128.2h0M521.8 125.7h0M525.0 124.9h0M523.4 127.5h0M527.2 127.9h0M520.0 126.6h0M525.2 128.0h0M525.3 127.3h0M526.1 127.8h0M520.8 124.8h0M521.1 126.4h0M525.7 125.6h0M521.7 124.9h0M524.9 128.2h0M520.7 126.5h0M524.2 127.9h0M524.7 128.2h0M521.4 127.8h0M523.8 127.2h0M520.2 125.5h0M521.5 125.5h0M524.7 127.6h0M524.3 125.8h0M521.9 123.2h0" stroke="#74bfc0" stroke-width="0.8" stroke-linecap="round" fill="none"/>
<path d="M547.1 125.8h0M542.8 126.0h0M548.0 126.1h0M547.1 122.1h0M544.7 120.6h0M547.6 125.8h0M546.6 126.6h0M541.8 126.5h0M542.9 124.8h0M547.5 119.7h0M543.2 125.1h0M545.8 126.4h0M544.6 124.8h0M545.9 123.4h0M543.1 122.8h0M544.7 126.6h0M543.7 125.0h0M543.7 123.8h0M545.5 125.7h0M547.6 123.5h0M545.3 125.5h0M547.8 119.8h0M542.7 124.2h0M546.8 125.1h0M541.7 125.9h0M543.9 119.7h0M546.7 125.1h0M542.0 125.8h0M547.6 123.1h0M542.3 125.2h0M542.3 125.4h0M543.9 126.4h0M543.2 122.9h0M542.0 126.5h0M546.0 126.3h0M543.6 122.0h0M548.0 126.2h0M544.4 125.3h0M543.5 126.4h0M543.6 125.8h0M548.4 123.2h0M545.6 120.6h0M544.4 122.1h0M547.4 125.1h0M543.1 123.3h0M549.6 126.2h0M548.4 126.5h0M543.6 125.7h0M545.4 126.0h0M548.7 125.6h0M542.9 125.7h0M544.6 123.1h0M545.0 126.2h0M548.0 122.2h0M541.9 124.5h0M546.4 122.9h0M548.1 120.7h0M548.7 125.7h0M544.2 122.2h0M544.7 125.6h0M544.7 125.6h0M543.4 126.4h0M545.2 120.4h0M548.6 124.1h0M544.0 123.0h0M547.2 120.1h0M547.1 121.1h0M544.1 122.3h0M544.8 123.9h0M543.4 121.9h0M544.4 124.7h0M544.7 122.2h0M547.8 121.9h0M543.6 121.2h0M546.8 119.4h0M546.8 123.8h0M548.9 126.6h0M545.4 124.7h0M548.1 125.7h0M548.2 122.7h0M544.3 126.1h0M542.3 126.0h0M541.7 125.7h0M543.9 122.5h0M542.0 126.6h0M543.6 123.2h0M544.9 125.1h0M548.7 122.5h0M546.8 125.8h0M545.5 120.8h0M547.0 120.7h0M548.9 125.8h0M542.7 124.5h0M548.2 124.4h0M545.6 124.8h0M548.8 125.3h0M543.6 123.9h0M544.6 125.6h0M543.5 121.3h0M543.3 120.3h0M545.2 124.4h0M545.2 123.4h0M545.9 126.5h0M547.5 122.2h0M543.4 125.6h0M547.8 123.1h0M549.0 126.1h0M544.9 123.4h0M548.8 123.5h0M544.0 126.2h0M547.7 125.7h0M546.1 126.2h0M547.0 124.9h0M549.6 126.3h0M547.6 122.4h0M549.2 126.2h0M547.7 124.6h0M544.9 121.4h0M544.2 120.0h0M545.7 126.7h0M547.9 120.7h0M548.6 122.8h0M542.9 124.6h0M548.0 124.1h0M546.5 125.3h0M543.8 126.0h0M545.8 125.3h0M542.4 125.1h0M544.3 126.7h0M547.5 123.4h0M543.6 126.0h0M543.1 124.8h0M548.8 124.3h0M546.4 126.2h0M547.5 123.4h0M547.2 123.5h0M548.6 125.9h0M543.5 119.9h0M545.4 119.1h0M542.0 126.5h0M546.9 122.5h0M545.4 126.3h0M549.4 124.1h0M548.0 125.7h0M543.1 126.0h0M544.9 126.3h0M544.2 124.2h0M543.3 126.3h0M543.1 126.5h0M545.7 125.8h0M545.5 126.2h0M549.6 125.2h0M549.3 125.0h0M543.3 125.1h0M543.0 124.4h0M542.0 126.3h0M549.0 123.6h0M544.5 125.4h0M544.5 125.3h0M544.9 123.7h0M548.8 126.3h0M541.9 124.5h0M547.1 121.8h0M546.8 125.6h0M545.2 120.1h0" stroke="#d2524e" stroke-width="0.8" stroke-linecap="round" fill="none"/>
<line x1="510.2" y1="96.8" x2="510.2" y2="144.85" stroke="#3c3c3c" stroke-width="0.75"/>
<line x1="506.6" y1="144.5" x2="558.8" y2="144.5" stroke="#3c3c3c" stroke-width="0.75"/>
<line x1="506.6" y1="130.63" x2="510.2" y2="130.63" stroke="#3c3c3c" stroke-width="0.7"/>
<line x1="506.6" y1="116.77" x2="510.2" y2="116.77" stroke="#3c3c3c" stroke-width="0.7"/>
<line x1="506.6" y1="102.91" x2="510.2" y2="102.91" stroke="#3c3c3c" stroke-width="0.7"/>
<text x="505" y="146" font-size="4.3" stroke="#3a3a3a" stroke-width="0.05" text-anchor="end" transform="rotate(0.25 505 146)" fill="#3a3a3a">0</text>
<text x="505" y="132.13" font-size="4.3" stroke="#3a3a3a" stroke-width="0.05" text-anchor="end" transform="rotate(0.25 505 132.13)" fill="#3a3a3a">5</text>
<text x="505" y="118.27" font-size="4.3" stroke="#3a3a3a" stroke-width="0.05" text-anchor="end" transform="rotate(0.25 505 118.27)" fill="#3a3a3a">10</text>
<text x="505" y="104.41" font-size="4.3" stroke="#3a3a3a" stroke-width="0.05" text-anchor="end" transform="rotate(0.25 505 104.41)" fill="#3a3a3a">15</text>
<line x1="523.5" y1="144.5" x2="523.5" y2="146" stroke="#3c3c3c" stroke-width="0.6"/>
<line x1="545.7" y1="144.5" x2="545.7" y2="146" stroke="#3c3c3c" stroke-width="0.6"/>
<text x="522.7" y="150.4" font-size="4.3" stroke="#3a3a3a" stroke-width="0.05" text-anchor="middle" transform="rotate(0.25 522.7 150.4)" fill="#3a3a3a">N0</text>
<text x="544.7" y="150.4" font-size="4.3" stroke="#3a3a3a" stroke-width="0.05" text-anchor="middle" transform="rotate(0.25 544.7 150.4)" fill="#3a3a3a">N1</text>
<text x="527.9" y="92" font-size="6" stroke="#3c3c3c" stroke-width="0.04" text-anchor="middle" transform="rotate(0.25 527.9 92)" fill="#3c3c3c">HPGDS</text>
<text x="524.2" y="100.4" font-size="5.8" stroke="#222" stroke-width="0.2" text-anchor="middle" font-weight="bold" transform="rotate(0.25 524.2 100.4)" fill="#222">****</text>
<rect x="600.5" y="121.21" width="13.2" height="23.29" fill="#70bbbc"/>
<rect x="622.7" y="119.54" width="13.2" height="24.96" fill="#ce4e4a"/>
<path d="M605.5 119.8h0M608.3 118.9h0M610.2 116.9h0M605.9 121.4h0M608.8 114.7h0M608.4 118.6h0M610.8 120.4h0M606.4 119.0h0M603.8 121.3h0M608.7 113.2h0M605.6 121.9h0M607.1 119.5h0M610.3 120.3h0M607.4 120.4h0M607.8 111.8h0M605.8 119.5h0M608.0 120.1h0M605.6 116.1h0M606.2 120.2h0M610.5 120.3h0M605.4 119.0h0M609.8 120.5h0M608.7 121.4h0M604.5 122.0h0M609.7 121.8h0M604.8 121.4h0M605.1 121.8h0M608.6 116.9h0M609.4 112.7h0M610.3 118.9h0M610.8 121.7h0M604.6 119.8h0M609.5 116.7h0M603.8 120.2h0M608.5 114.1h0M610.7 118.5h0M603.3 121.9h0M603.0 121.5h0M608.0 117.3h0M604.2 121.6h0M608.0 121.3h0M610.5 117.7h0M611.0 120.3h0M606.2 119.8h0M604.8 120.9h0M608.0 110.7h0M604.3 121.3h0M605.8 121.4h0M604.1 116.9h0M608.5 119.1h0M606.6 121.9h0M607.6 116.0h0M610.1 119.7h0M605.9 118.5h0M610.7 120.1h0M609.5 114.5h0M604.4 118.9h0M606.1 121.3h0M603.6 117.5h0M608.9 115.8h0M603.3 119.2h0M606.6 115.9h0M607.6 117.8h0M606.5 117.0h0M609.0 111.2h0M605.7 118.3h0M605.2 120.2h0M608.6 113.0h0M609.2 116.0h0M606.1 114.2h0M605.5 116.6h0M604.6 118.4h0M607.0 114.5h0M610.7 120.8h0M610.8 121.7h0M604.8 116.6h0M607.6 116.5h0M607.5 112.8h0M610.6 119.9h0M609.5 121.7h0M605.2 121.6h0M610.3 121.6h0M608.9 119.8h0M609.1 120.9h0M604.2 118.0h0M608.8 119.4h0M608.4 121.1h0M606.0 120.8h0M609.3 112.3h0M607.6 117.2h0M608.7 115.6h0M610.0 119.7h0M610.8 120.1h0M604.1 119.6h0M604.7 116.7h0M603.9 117.6h0M608.6 115.9h0M608.3 121.5h0M605.0 120.2h0M604.2 115.5h0M603.8 119.5h0M609.4 114.7h0M606.8 121.9h0M608.8 119.6h0M606.0 117.0h0M605.7 111.6h0M609.8 121.5h0M604.4 121.5h0M605.8 119.4h0M610.8 121.3h0M609.4 119.6h0M610.6 120.9h0M610.6 121.1h0M610.6 118.4h0M608.0 116.3h0M609.8 119.1h0M603.9 119.8h0M608.6 112.6h0M608.8 117.6h0M606.8 121.0h0M609.9 115.3h0M605.5 112.1h0M607.5 117.6h0M604.4 120.0h0M606.8 121.5h0M605.3 119.4h0M607.5 120.3h0M607.7 116.5h0M610.4 121.4h0M610.9 120.3h0M607.8 120.4h0M607.4 117.7h0M603.2 120.6h0M603.9 121.2h0M608.2 120.7h0M610.5 118.8h0M606.1 117.6h0M607.4 114.8h0M608.1 114.4h0M608.0 120.3h0M611.0 120.7h0M611.1 121.0h0M602.9 121.8h0M604.8 118.9h0M604.1 119.3h0M608.1 115.0h0M610.1 117.6h0M608.3 114.3h0M603.2 122.0h0M610.9 119.9h0M607.7 120.6h0M606.4 122.0h0M607.6 113.0h0M604.1 115.3h0M604.3 121.2h0M604.7 115.1h0M606.0 111.6h0M607.2 113.8h0M611.0 120.5h0M608.7 120.0h0M609.9 121.8h0M609.2 120.8h0M604.1 120.8h0M608.4 120.3h0M609.2 110.7h0" stroke="#74bfc0" stroke-width="0.8" stroke-linecap="round" fill="none"/>
<path d="M630.4 114.9h0M631.2 119.4h0M628.2 115.8h0M628.0 107.3h0M626.4 119.5h0M630.1 119.5h0M627.2 111.2h0M629.9 116.4h0M628.6 115.7h0M625.6 115.9h0M628.6 120.0h0M631.5 118.8h0M632.0 118.8h0M625.9 118.8h0M628.4 116.7h0M631.5 118.1h0M630.7 119.0h0M629.0 110.2h0M632.6 116.4h0M627.0 115.1h0M625.7 120.0h0M625.9 118.1h0M628.8 114.5h0M629.4 118.3h0M628.2 104.8h0M627.6 119.4h0M632.7 118.2h0M628.8 113.4h0M625.4 119.3h0M632.3 119.6h0M626.8 114.5h0M626.1 114.8h0M628.0 116.4h0M631.4 119.8h0M629.4 113.2h0M630.7 119.3h0M630.6 117.2h0M632.8 119.8h0M626.9 120.4h0M626.9 117.5h0M630.9 119.9h0M627.6 114.8h0M627.3 114.1h0M630.8 117.5h0M626.6 117.2h0M629.7 120.0h0M627.5 105.1h0M629.2 116.4h0M630.7 119.2h0M631.7 116.5h0M632.9 118.4h0M629.1 110.8h0M629.2 119.5h0M630.9 119.6h0M629.8 113.6h0M631.2 119.6h0M626.9 111.2h0M625.6 118.2h0M631.0 115.4h0M630.9 118.0h0M631.0 117.8h0M633.3 118.5h0M625.4 117.1h0M631.2 119.8h0M630.1 109.1h0M632.5 119.4h0M626.7 113.2h0M630.7 117.7h0M625.4 120.4h0M632.3 117.9h0M632.3 115.1h0M631.6 111.7h0M632.8 115.4h0M632.5 114.5h0M627.0 115.7h0M629.2 116.2h0M628.3 118.0h0M630.0 116.3h0M627.4 119.0h0M629.3 116.4h0M630.6 117.3h0M629.6 119.2h0M631.5 118.5h0M631.2 113.5h0M627.4 116.3h0M629.4 105.7h0M627.6 117.7h0M631.0 117.5h0M629.2 110.7h0M627.4 112.9h0M628.2 117.0h0M628.1 118.3h0M630.8 112.4h0M627.0 119.1h0M630.3 111.7h0M630.2 114.0h0M627.7 113.7h0M628.1 120.0h0M633.3 120.2h0M630.6 116.2h0M627.9 107.0h0M626.1 118.1h0M630.8 111.4h0M628.3 116.6h0M629.2 118.6h0M632.0 113.3h0M631.4 109.7h0M628.7 117.1h0M633.2 118.2h0M626.4 119.2h0M632.8 118.5h0M628.3 109.5h0M631.6 109.6h0M626.9 117.2h0M628.5 112.0h0M632.8 119.7h0M628.5 117.1h0M627.5 115.3h0M628.4 120.3h0M625.4 117.7h0M631.4 117.7h0M630.8 118.1h0M627.0 114.8h0M630.8 120.3h0M627.8 115.0h0M632.3 119.1h0M628.0 106.8h0M629.9 115.4h0M625.5 118.2h0M630.5 118.1h0M629.4 115.2h0M626.8 119.6h0M628.6 118.3h0M632.6 117.8h0M633.5 119.7h0M632.3 118.8h0M630.0 118.8h0M625.6 117.7h0M631.2 111.4h0M631.6 118.6h0M633.1 116.7h0M628.3 120.1h0M630.4 118.9h0M631.5 111.9h0M628.4 115.9h0M626.8 111.3h0M631.4 118.7h0M633.2 117.1h0M629.0 119.8h0M625.1 119.0h0M625.8 119.8h0M628.8 117.8h0M627.7 116.4h0M629.4 113.5h0M629.4 117.6h0M628.3 116.5h0M627.7 109.2h0M628.5 108.5h0M630.2 118.1h0M627.7 115.7h0M633.2 119.9h0M626.2 117.8h0M629.5 114.3h0M627.9 118.1h0M628.4 109.8h0" stroke="#d2524e" stroke-width="0.8" stroke-linecap="round" fill="none"/>
<line x1="593.8" y1="96.8" x2="593.8" y2="144.85" stroke="#3c3c3c" stroke-width="0.75"/>
<line x1="590.2" y1="144.5" x2="642.4" y2="144.5" stroke="#3c3c3c" stroke-width="0.75"/>
<line x1="590.2" y1="130.63" x2="593.8" y2="130.63" stroke="#3c3c3c" stroke-width="0.7"/>
<line x1="590.2" y1="116.77" x2="593.8" y2="116.77" stroke="#3c3c3c" stroke-width="0.7"/>
<line x1="590.2" y1="102.91" x2="593.8" y2="102.91" stroke="#3c3c3c" stroke-width="0.7"/>
<text x="588.6" y="146" font-size="4.3" stroke="#3a3a3a" stroke-width="0.05" text-anchor="end" transform="rotate(0.25 588.6 146)" fill="#3a3a3a">0</text>
<text x="588.6" y="132.13" font-size="4.3" stroke="#3a3a3a" stroke-width="0.05" text-anchor="end" transform="rotate(0.25 588.6 132.13)" fill="#3a3a3a">5</text>
<text x="588.6" y="118.27" font-size="4.3" stroke="#3a3a3a" stroke-width="0.05" text-anchor="end" transform="rotate(0.25 588.6 118.27)" fill="#3a3a3a">10</text>
<text x="588.6" y="104.41" font-size="4.3" stroke="#3a3a3a" stroke-width="0.05" text-anchor="end" transform="rotate(0.25 588.6 104.41)" fill="#3a3a3a">15</text>
<line x1="607.1" y1="144.5" x2="607.1" y2="146" stroke="#3c3c3c" stroke-width="0.6"/>
<line x1="629.3" y1="144.5" x2="629.3" y2="146" stroke="#3c3c3c" stroke-width="0.6"/>
<text x="606.3" y="150.4" font-size="4.3" stroke="#3a3a3a" stroke-width="0.05" text-anchor="middle" transform="rotate(0.25 606.3 150.4)" fill="#3a3a3a">N0</text>
<text x="628.3" y="150.4" font-size="4.3" stroke="#3a3a3a" stroke-width="0.05" text-anchor="middle" transform="rotate(0.25 628.3 150.4)" fill="#3a3a3a">N1</text>
<text x="609.1" y="92" font-size="6" stroke="#3c3c3c" stroke-width="0.04" text-anchor="middle" transform="rotate(0.25 609.1 92)" fill="#3c3c3c">S100A9</text>
<text x="607" y="100.4" font-size="5.8" stroke="#222" stroke-width="0.2" text-anchor="middle" font-weight="bold" transform="rotate(0.25 607 100.4)" fill="#222">**</text>
<text x="308.1" y="184.7" font-size="8.6" transform="rotate(0.25 308.1 184.7)">D</text>
<text x="323.5" y="257.5" font-size="7.4" stroke="#111" stroke-width="0.1" text-anchor="middle" transform="rotate(-89.75 323.5 257.5)" fill="#111">Gene expression (read count)</text>
<rect x="352.5" y="212.81" width="13.2" height="29.39" fill="#70bbbc"/>
<rect x="374.7" y="210.03" width="13.2" height="32.17" fill="#ce4e4a"/>
<path d="M362.8 211.4h0M358.3 211.8h0M360.5 212.9h0M358.7 209.1h0M356.9 211.5h0M358.8 207.2h0M358.3 206.2h0M355.9 208.2h0M363.0 212.6h0M360.3 208.9h0M358.9 210.8h0M356.3 212.7h0M360.5 209.3h0M360.3 212.4h0M360.1 213.0h0M359.2 212.9h0M359.5 212.1h0M359.0 213.0h0M356.4 209.7h0M360.6 212.1h0M360.0 210.4h0M359.6 207.4h0M358.6 212.6h0M359.5 206.3h0M358.2 207.8h0M362.8 211.2h0M360.0 206.5h0M360.1 213.2h0M362.8 213.5h0M357.8 204.8h0M357.2 205.9h0M359.2 206.3h0M362.5 213.6h0M361.7 211.2h0M359.3 208.8h0M357.4 205.4h0M358.3 204.1h0M357.7 213.5h0M355.4 213.4h0M356.3 209.6h0M357.3 212.9h0M362.6 212.3h0M361.0 203.9h0M361.1 208.3h0M362.7 212.3h0M360.6 206.7h0M355.6 212.6h0M359.3 202.9h0M361.8 209.7h0M360.8 213.0h0M361.4 211.1h0M356.7 211.1h0M361.0 210.2h0M357.6 206.3h0M358.4 208.7h0M356.7 212.6h0M359.2 209.1h0M355.4 210.8h0M360.7 207.8h0M358.3 205.0h0M357.8 212.7h0M360.2 208.2h0M359.3 211.5h0M362.7 212.9h0M359.2 211.0h0M357.2 207.2h0M358.1 208.3h0M356.6 206.7h0M360.2 212.3h0M358.1 210.9h0M357.0 210.1h0M355.1 211.3h0M357.5 207.0h0M359.4 206.3h0M360.0 209.8h0M361.5 213.1h0M362.1 212.2h0M360.2 207.2h0M358.7 206.6h0M362.3 209.0h0M355.7 212.8h0M359.2 211.4h0M356.7 213.0h0M358.5 205.3h0M356.4 213.0h0M356.8 210.1h0M359.4 211.0h0M359.1 211.2h0M356.2 206.1h0M357.7 202.6h0M361.4 213.5h0M359.4 210.1h0M361.5 212.6h0M361.0 212.1h0M359.7 212.6h0M358.2 209.3h0M355.7 210.9h0M360.5 209.4h0M359.5 212.9h0M356.4 208.2h0M361.3 206.1h0M356.9 213.4h0M357.0 213.3h0M359.0 213.3h0M357.4 212.4h0M358.1 211.1h0M360.5 207.2h0M356.7 213.1h0M357.6 213.6h0M360.8 213.2h0M362.3 207.4h0M355.1 212.7h0M358.5 207.8h0M358.6 202.5h0M355.5 212.1h0M358.7 207.4h0M361.2 211.3h0M359.0 206.3h0M358.3 212.8h0M358.6 204.4h0M359.5 209.2h0M359.7 211.1h0M359.6 212.5h0M356.7 205.3h0M362.2 211.7h0M360.2 213.5h0M361.6 209.5h0M356.2 211.0h0M360.9 212.2h0M357.1 208.2h0M360.2 209.4h0M355.7 209.2h0M357.7 211.2h0M357.9 209.9h0M360.6 213.1h0M361.5 212.2h0M359.5 212.1h0M356.7 206.8h0M356.2 208.2h0M357.0 202.2h0M358.2 208.3h0M358.2 212.8h0M358.4 210.8h0M359.3 213.1h0M363.0 212.2h0M358.6 211.6h0M363.1 212.6h0M360.3 212.0h0M358.5 206.2h0M357.6 207.8h0M355.2 213.2h0M362.1 211.2h0M358.6 212.7h0M357.6 207.7h0M359.3 213.0h0M362.6 211.3h0M357.7 204.2h0M358.5 210.2h0M358.6 213.5h0M358.1 203.4h0M360.7 210.0h0M362.7 213.4h0M357.4 213.2h0M355.8 208.4h0M356.1 211.7h0" stroke="#74bfc0" stroke-width="0.8" stroke-linecap="round" fill="none"/>
<path d="M377.5 208.5h0M378.9 210.3h0M377.8 210.6h0M381.5 210.1h0M384.1 210.3h0M379.3 208.9h0M384.2 209.9h0M383.4 210.7h0M385.1 210.5h0M382.1 208.9h0M379.0 203.5h0M383.0 210.6h0M383.0 207.6h0M381.3 209.7h0M380.8 210.1h0M382.0 209.6h0M379.4 209.6h0M378.3 207.1h0M381.3 204.9h0M378.0 209.9h0M381.3 208.3h0M380.4 206.2h0M384.5 208.9h0M385.4 209.7h0M383.9 202.7h0M380.2 200.3h0M382.0 204.7h0M385.6 210.0h0M383.6 207.0h0M378.1 207.9h0M379.4 203.5h0M382.3 209.8h0M381.0 210.1h0M378.5 206.3h0M378.4 206.9h0M382.5 208.5h0M378.1 206.6h0M385.3 210.1h0M380.7 209.0h0M382.9 209.1h0M382.3 205.9h0M381.9 209.0h0M378.9 208.2h0M382.5 200.4h0M383.6 205.8h0M383.4 209.9h0M384.3 206.2h0M383.6 204.3h0M383.7 209.7h0M379.8 208.5h0M383.8 209.2h0M383.4 204.1h0M378.9 206.8h0M381.9 210.2h0M379.9 210.0h0M378.3 210.5h0M379.4 206.2h0M380.3 203.9h0M380.1 203.9h0M380.4 209.7h0M380.7 210.8h0M377.3 209.1h0M380.6 203.6h0M385.3 210.9h0M379.2 209.9h0M377.9 210.8h0M381.9 206.3h0M379.3 208.3h0M385.3 209.6h0M385.3 209.2h0M379.2 202.9h0M378.5 203.9h0M383.5 206.3h0M381.7 206.5h0M379.1 204.7h0M379.5 208.0h0M378.8 209.0h0M381.8 206.3h0M382.1 205.3h0M384.5 207.5h0M381.7 204.7h0M384.9 209.4h0M378.0 209.2h0M383.0 209.4h0M382.0 201.0h0M384.5 206.9h0M380.9 205.3h0M383.4 208.6h0M378.0 209.5h0M383.6 207.3h0M382.9 209.8h0M379.3 202.7h0M381.2 210.3h0M385.0 209.4h0M383.3 206.0h0M378.9 207.2h0M377.8 209.0h0M377.4 208.6h0M380.6 208.5h0M383.8 206.4h0M381.9 205.3h0M379.6 209.9h0M380.5 208.4h0M381.3 207.1h0M382.2 209.4h0M380.0 208.7h0M377.8 210.8h0M380.6 210.7h0M382.5 204.2h0M381.7 201.8h0M377.6 207.7h0M379.3 209.1h0M378.1 207.3h0M380.3 208.0h0M380.5 208.4h0M383.3 210.5h0M381.9 204.9h0M382.2 210.4h0M384.1 203.3h0M378.3 205.6h0M382.2 203.1h0M384.8 209.7h0M383.7 204.4h0M382.0 209.8h0M379.6 209.1h0M382.1 205.6h0M381.7 209.4h0M381.6 201.2h0M381.6 201.9h0M381.0 210.6h0M383.0 207.9h0M381.2 204.1h0M381.5 207.2h0M384.4 206.4h0M379.8 210.8h0M378.8 203.2h0M378.3 205.1h0M383.5 207.0h0M380.3 209.9h0M383.1 209.9h0M382.1 208.1h0M382.0 209.4h0M383.7 202.4h0M381.4 209.8h0M380.0 209.1h0M379.2 204.9h0M383.4 207.9h0M379.1 200.8h0M381.2 209.7h0M379.8 200.7h0M380.7 204.1h0M384.6 207.9h0M379.8 210.6h0M378.2 210.2h0M383.0 209.5h0M378.4 207.7h0M381.3 204.9h0M384.1 210.3h0M379.5 204.5h0M382.7 200.5h0M377.0 209.9h0M383.2 203.4h0M383.6 210.5h0M382.2 205.4h0M384.3 204.3h0" stroke="#d2524e" stroke-width="0.8" stroke-linecap="round" fill="none"/>
<line x1="345.8" y1="194.5" x2="345.8" y2="242.55" stroke="#3c3c3c" stroke-width="0.75"/>
<line x1="342.2" y1="242.2" x2="394.4" y2="242.2" stroke="#3c3c3c" stroke-width="0.75"/>
<line x1="342.2" y1="228.33" x2="345.8" y2="228.33" stroke="#3c3c3c" stroke-width="0.7"/>
<line x1="342.2" y1="214.47" x2="345.8" y2="214.47" stroke="#3c3c3c" stroke-width="0.7"/>
<line x1="342.2" y1="200.6" x2="345.8" y2="200.6" stroke="#3c3c3c" stroke-width="0.7"/>
<text x="340.6" y="243.7" font-size="4.3" stroke="#3a3a3a" stroke-width="0.05" text-anchor="end" transform="rotate(0.25 340.6 243.7)" fill="#3a3a3a">0</text>
<text x="340.6" y="229.83" font-size="4.3" stroke="#3a3a3a" stroke-width="0.05" text-anchor="end" transform="rotate(0.25 340.6 229.83)" fill="#3a3a3a">5</text>
<text x="340.6" y="215.97" font-size="4.3" stroke="#3a3a3a" stroke-width="0.05" text-anchor="end" transform="rotate(0.25 340.6 215.97)" fill="#3a3a3a">10</text>
<text x="340.6" y="202.1" font-size="4.3" stroke="#3a3a3a" stroke-width="0.05" text-anchor="end" transform="rotate(0.25 340.6 202.1)" fill="#3a3a3a">15</text>
<line x1="359.1" y1="242.2" x2="359.1" y2="243.7" stroke="#3c3c3c" stroke-width="0.6"/>
<line x1="381.3" y1="242.2" x2="381.3" y2="243.7" stroke="#3c3c3c" stroke-width="0.6"/>
<text x="355" y="248.1" font-size="4.3" stroke="#3a3a3a" stroke-width="0.05" text-anchor="middle" transform="rotate(0.25 355 248.1)" fill="#3a3a3a">T1_2</text>
<text x="377" y="248.1" font-size="4.3" stroke="#3a3a3a" stroke-width="0.05" text-anchor="middle" transform="rotate(0.25 377 248.1)" fill="#3a3a3a">T3_4</text>
<text x="359.9" y="188.8" font-size="6" stroke="#3c3c3c" stroke-width="0.04" text-anchor="middle" transform="rotate(0.25 359.9 188.8)" fill="#3c3c3c">ALOX5</text>
<text x="359.8" y="198.6" font-size="5.8" stroke="#222" stroke-width="0.2" text-anchor="middle" font-weight="bold" transform="rotate(0.25 359.8 198.6)" fill="#222">****</text>
<rect x="434.3" y="223.07" width="13.2" height="19.13" fill="#70bbbc"/>
<rect x="456.5" y="221.68" width="13.2" height="20.52" fill="#ce4e4a"/>
<path d="M443.7 222.2h0M440.0 212.9h0M442.2 218.9h0M441.3 215.7h0M438.8 222.5h0M438.1 220.5h0M443.1 215.4h0M442.6 222.7h0M438.2 219.0h0M442.6 217.4h0M437.6 222.3h0M443.2 222.5h0M443.4 221.2h0M437.5 223.1h0M444.0 222.0h0M437.2 223.1h0M438.2 217.8h0M437.9 219.1h0M442.3 222.7h0M440.4 214.9h0M437.2 221.3h0M438.8 222.1h0M442.3 217.2h0M441.1 217.2h0M438.3 218.7h0M439.2 221.8h0M442.9 222.5h0M439.4 222.9h0M443.9 222.5h0M440.8 219.5h0M444.3 221.8h0M440.7 211.7h0M443.6 220.3h0M438.9 222.6h0M440.9 223.4h0M438.6 217.6h0M444.8 221.4h0M440.0 221.1h0M443.2 216.0h0M437.8 221.9h0M442.7 219.5h0M441.7 212.8h0M441.0 222.3h0M440.4 222.4h0M444.2 221.2h0M443.1 213.6h0M444.6 221.1h0M444.5 223.2h0M443.6 219.5h0M444.9 221.6h0M443.9 223.8h0M440.1 216.5h0M439.2 216.2h0M440.7 217.8h0M438.5 221.6h0M442.4 216.9h0M445.0 223.5h0M439.8 222.8h0M441.5 221.6h0M443.3 214.3h0M439.9 219.5h0M437.2 223.4h0M441.5 220.7h0M444.7 221.3h0M439.7 221.6h0M438.3 221.5h0M441.3 211.8h0M440.3 220.5h0M439.3 222.7h0M440.5 220.9h0M439.1 216.7h0M438.0 223.7h0M443.2 222.1h0M439.5 214.4h0M440.5 217.3h0M441.2 220.6h0M437.2 223.7h0M442.2 219.1h0M444.3 221.8h0M439.7 216.5h0M441.4 223.6h0M438.9 219.3h0M440.8 223.7h0M442.9 223.7h0M439.3 219.6h0M438.8 221.3h0M438.2 223.0h0M440.6 216.6h0M439.9 218.4h0M441.5 216.8h0M440.1 219.3h0M438.6 220.3h0M441.1 215.3h0M438.0 219.5h0M438.7 222.1h0M438.0 215.9h0M443.8 221.3h0M442.3 217.3h0M438.7 222.3h0M439.5 218.6h0M439.9 218.3h0M441.4 217.7h0M443.9 216.6h0M444.9 221.8h0M444.1 223.9h0M441.3 223.8h0M443.1 221.8h0M438.5 222.3h0M441.2 217.3h0M440.8 217.8h0M443.2 223.7h0M440.7 222.8h0M438.8 223.9h0M442.8 219.1h0M440.5 219.5h0M442.0 218.2h0M441.2 222.9h0M442.6 219.9h0M439.3 222.9h0M437.6 222.1h0M442.8 222.0h0M438.4 220.2h0M438.3 218.2h0M438.5 217.9h0M438.8 223.5h0M439.1 220.8h0M443.3 214.6h0M443.0 222.5h0M441.3 218.7h0M444.7 222.6h0M439.4 223.7h0M438.4 222.2h0M444.1 221.5h0M443.8 223.8h0M436.9 222.3h0M439.7 213.9h0M437.6 222.9h0M437.8 221.9h0M438.8 223.0h0M440.5 220.2h0M441.1 222.3h0M442.4 217.4h0M444.3 222.1h0M441.3 217.1h0M439.6 221.1h0M444.2 223.3h0M437.9 219.8h0M442.7 212.6h0M442.6 223.7h0M441.2 222.7h0M440.0 216.1h0M442.2 220.9h0M442.0 223.0h0M444.8 221.5h0M442.7 223.0h0M439.0 223.7h0M437.9 223.4h0M438.4 220.6h0M438.3 217.0h0M443.5 219.7h0M438.5 223.3h0M440.7 217.6h0M440.2 212.2h0M444.6 221.7h0M444.7 222.1h0" stroke="#74bfc0" stroke-width="0.8" stroke-linecap="round" fill="none"/>
<path d="M461.5 214.4h0M466.5 219.6h0M466.1 222.1h0M464.7 217.0h0M460.1 219.1h0M465.5 221.4h0M461.8 217.8h0M462.5 218.3h0M460.0 217.4h0M462.6 212.5h0M462.9 216.5h0M461.9 216.4h0M459.4 219.6h0M459.8 220.0h0M464.1 215.3h0M466.9 220.5h0M465.0 211.7h0M464.9 222.2h0M463.8 217.7h0M466.7 222.5h0M463.9 220.4h0M461.7 216.3h0M466.7 222.4h0M459.2 221.4h0M467.4 222.0h0M461.1 217.6h0M466.5 221.9h0M463.7 218.5h0M462.4 222.0h0M461.0 211.7h0M459.5 220.5h0M466.9 221.4h0M464.5 215.7h0M464.8 222.4h0M463.0 220.0h0M463.2 221.9h0M460.8 216.6h0M462.7 214.8h0M460.9 221.4h0M464.3 220.2h0M466.1 219.4h0M463.2 219.9h0M459.3 220.2h0M461.5 221.0h0M462.4 222.0h0M466.7 222.4h0M466.1 220.1h0M464.7 218.1h0M461.8 217.3h0M461.1 217.7h0M463.8 219.5h0M460.9 217.0h0M465.8 221.0h0M466.1 216.5h0M460.6 222.0h0M465.0 222.1h0M464.1 217.5h0M463.2 217.0h0M466.3 219.5h0M464.2 218.7h0M463.1 219.2h0M463.6 217.3h0M462.5 222.0h0M462.6 220.5h0M462.0 219.5h0M462.5 220.7h0M467.0 220.8h0M458.9 222.2h0M462.4 217.8h0M463.8 220.3h0M461.0 220.8h0M466.3 222.5h0M462.1 212.2h0M461.7 220.2h0M466.5 222.3h0M461.5 215.9h0M464.8 221.4h0M462.9 216.7h0M460.9 220.7h0M465.4 216.6h0M460.9 215.3h0M466.7 219.2h0M462.8 217.9h0M459.3 221.9h0M460.1 217.7h0M464.1 216.4h0M466.2 220.2h0M463.6 212.6h0M463.9 222.1h0M461.1 220.5h0M464.2 212.8h0M460.8 222.0h0M463.7 221.0h0M462.6 221.1h0M461.1 216.3h0M461.9 217.8h0M465.0 211.9h0M464.0 221.1h0M462.3 222.1h0M464.1 218.9h0M459.2 221.0h0M463.6 222.0h0M461.4 221.8h0M466.1 219.0h0M461.2 219.8h0M461.4 219.3h0M460.9 216.9h0M462.6 221.4h0M461.4 213.7h0M459.9 221.7h0M461.7 221.6h0M465.2 220.7h0M462.9 220.6h0M465.3 220.7h0M462.7 213.9h0M461.9 213.2h0M464.3 216.8h0M461.2 220.7h0M466.4 222.0h0M464.7 220.9h0M463.3 220.2h0M460.3 221.7h0M464.6 221.0h0M459.3 219.6h0M462.6 218.0h0M461.0 222.2h0M465.9 221.6h0M461.8 219.6h0M461.3 221.5h0M461.8 221.3h0M465.0 216.8h0M465.8 218.1h0M460.3 218.6h0M460.2 222.3h0M463.3 221.4h0M463.6 216.2h0M461.0 220.4h0M462.2 214.4h0M467.2 222.3h0M466.1 221.4h0M464.4 222.1h0M466.3 220.9h0M459.7 221.2h0M465.7 221.7h0M464.2 215.6h0M461.2 221.3h0M467.3 222.2h0M464.1 222.3h0M460.5 220.9h0M466.6 220.4h0M460.2 221.5h0M464.3 218.9h0M460.6 219.9h0M460.9 214.9h0M460.9 221.8h0M462.9 219.9h0M464.8 219.5h0M462.9 214.3h0M465.9 222.4h0M461.5 222.4h0M464.0 221.9h0M460.7 216.9h0M466.1 221.2h0M460.3 218.2h0M465.2 218.2h0" stroke="#d2524e" stroke-width="0.8" stroke-linecap="round" fill="none"/>
<line x1="427.6" y1="194.5" x2="427.6" y2="242.55" stroke="#3c3c3c" stroke-width="0.75"/>
<line x1="424" y1="242.2" x2="476.2" y2="242.2" stroke="#3c3c3c" stroke-width="0.75"/>
<line x1="424" y1="228.33" x2="427.6" y2="228.33" stroke="#3c3c3c" stroke-width="0.7"/>
<line x1="424" y1="214.47" x2="427.6" y2="214.47" stroke="#3c3c3c" stroke-width="0.7"/>
<line x1="424" y1="200.6" x2="427.6" y2="200.6" stroke="#3c3c3c" stroke-width="0.7"/>
<text x="422.4" y="243.7" font-size="4.3" stroke="#3a3a3a" stroke-width="0.05" text-anchor="end" transform="rotate(0.25 422.4 243.7)" fill="#3a3a3a">0</text>
<text x="422.4" y="229.83" font-size="4.3" stroke="#3a3a3a" stroke-width="0.05" text-anchor="end" transform="rotate(0.25 422.4 229.83)" fill="#3a3a3a">5</text>
<text x="422.4" y="215.97" font-size="4.3" stroke="#3a3a3a" stroke-width="0.05" text-anchor="end" transform="rotate(0.25 422.4 215.97)" fill="#3a3a3a">10</text>
<text x="422.4" y="202.1" font-size="4.3" stroke="#3a3a3a" stroke-width="0.05" text-anchor="end" transform="rotate(0.25 422.4 202.1)" fill="#3a3a3a">15</text>
<line x1="440.9" y1="242.2" x2="440.9" y2="243.7" stroke="#3c3c3c" stroke-width="0.6"/>
<line x1="463.1" y1="242.2" x2="463.1" y2="243.7" stroke="#3c3c3c" stroke-width="0.6"/>
<text x="436.8" y="248.1" font-size="4.3" stroke="#3a3a3a" stroke-width="0.05" text-anchor="middle" transform="rotate(0.25 436.8 248.1)" fill="#3a3a3a">T1_2</text>
<text x="458.8" y="248.1" font-size="4.3" stroke="#3a3a3a" stroke-width="0.05" text-anchor="middle" transform="rotate(0.25 458.8 248.1)" fill="#3a3a3a">T3_4</text>
<text x="443" y="188.8" font-size="6" stroke="#3c3c3c" stroke-width="0.04" text-anchor="middle" transform="rotate(0.25 443 188.8)" fill="#3c3c3c">C15orf48</text>
<text x="441.6" y="198.6" font-size="5.8" stroke="#222" stroke-width="0.2" text-anchor="middle" font-weight="bold" transform="rotate(0.25 441.6 198.6)" fill="#222">****</text>
<rect x="517.4" y="222.79" width="13.2" height="19.41" fill="#70bbbc"/>
<rect x="539.6" y="221.96" width="13.2" height="20.24" fill="#ce4e4a"/>
<path d="M521.2 221.1h0M522.7 218.5h0M521.1 222.9h0M521.0 221.2h0M524.4 221.3h0M523.3 219.8h0M521.4 216.0h0M527.6 221.7h0M526.4 214.2h0M524.2 216.8h0M524.5 216.3h0M521.9 223.0h0M527.2 223.1h0M523.2 221.8h0M521.0 220.0h0M526.0 217.9h0M526.4 216.1h0M521.1 221.8h0M525.3 216.9h0M522.7 221.4h0M526.9 222.8h0M526.5 220.7h0M522.5 221.7h0M525.9 220.2h0M523.2 213.5h0M523.3 218.0h0M525.5 214.3h0M523.0 219.8h0M527.2 222.1h0M522.8 216.0h0M521.4 223.2h0M526.7 223.1h0M524.4 220.1h0M523.3 220.0h0M520.9 219.8h0M522.1 211.7h0M525.5 222.9h0M526.2 218.8h0M527.0 218.1h0M519.8 223.4h0M526.4 222.3h0M524.3 222.8h0M521.8 216.7h0M527.1 220.1h0M523.3 217.1h0M522.3 220.5h0M524.9 212.8h0M525.9 221.9h0M526.3 220.5h0M527.1 221.5h0M523.7 218.2h0M526.3 219.7h0M527.5 220.1h0M527.4 223.6h0M523.9 217.7h0M522.0 214.7h0M525.8 221.7h0M523.2 215.4h0M521.4 214.6h0M520.4 223.0h0M522.7 219.6h0M523.6 222.2h0M527.5 223.2h0M524.3 215.0h0M522.5 220.9h0M522.9 219.3h0M525.0 210.4h0M521.4 215.4h0M522.7 223.0h0M523.3 223.0h0M526.3 212.1h0M521.6 222.4h0M522.1 223.5h0M524.2 223.3h0M525.4 221.9h0M524.7 219.7h0M526.0 221.9h0M525.5 218.1h0M523.7 220.6h0M520.2 222.0h0M524.9 220.7h0M527.1 222.7h0M525.9 213.7h0M523.9 215.6h0M522.0 222.7h0M527.3 217.3h0M519.8 223.1h0M522.8 221.6h0M521.1 219.3h0M523.0 214.9h0M523.1 212.3h0M521.3 221.9h0M526.0 215.4h0M524.4 223.3h0M527.3 217.4h0M522.2 210.6h0M528.1 221.4h0M527.5 220.0h0M520.0 222.2h0M523.0 209.8h0M522.9 219.7h0M527.3 219.6h0M525.6 209.8h0M526.7 222.2h0M523.3 223.5h0M523.0 210.0h0M524.7 221.5h0M525.8 222.3h0M521.1 218.6h0M521.9 211.7h0M522.9 218.0h0M520.4 222.9h0M523.8 212.5h0M527.0 216.2h0M524.2 211.3h0M524.2 222.1h0M524.9 213.5h0M523.5 214.9h0M526.6 219.8h0M527.1 222.6h0M524.3 223.5h0M521.3 219.6h0M523.7 211.6h0M523.2 222.7h0M523.5 219.4h0M520.5 223.6h0M521.5 217.7h0M526.6 222.2h0M526.2 214.3h0M519.8 222.7h0M524.7 217.0h0M520.1 221.5h0M521.9 221.0h0M527.6 219.4h0M520.4 222.5h0M521.3 218.0h0M523.5 222.4h0M522.6 219.1h0M521.4 220.6h0M525.6 221.2h0M526.4 221.8h0M520.6 222.7h0M523.7 219.0h0M522.1 211.8h0M525.1 217.2h0M521.0 221.4h0M525.9 219.2h0M523.8 220.6h0M524.8 218.2h0M521.5 221.0h0M524.4 220.7h0M526.6 212.9h0M522.7 219.8h0M525.1 222.4h0M522.3 217.3h0M527.5 218.1h0M527.5 221.3h0M525.2 220.9h0M522.3 214.1h0M528.0 221.6h0M522.3 223.3h0M525.9 220.6h0M527.1 218.9h0M520.5 218.4h0M520.0 223.3h0" stroke="#74bfc0" stroke-width="0.8" stroke-linecap="round" fill="none"/>
<path d="M542.4 220.6h0M547.2 219.8h0M549.3 221.9h0M549.9 220.7h0M547.2 221.0h0M544.4 219.7h0M543.0 216.8h0M544.7 221.7h0M546.2 214.3h0M544.5 222.6h0M548.5 219.1h0M548.6 222.3h0M546.4 220.8h0M545.7 220.6h0M548.1 212.1h0M547.6 217.5h0M542.2 222.2h0M547.3 215.8h0M544.8 218.8h0M549.8 221.6h0M542.5 219.8h0M545.0 221.1h0M550.3 222.5h0M547.8 213.6h0M545.5 222.8h0M548.1 222.3h0M548.0 216.2h0M543.8 216.6h0M542.7 222.7h0M548.2 215.5h0M544.1 219.9h0M544.0 215.1h0M542.1 221.2h0M548.1 218.0h0M546.7 216.4h0M548.5 213.8h0M548.3 221.8h0M544.7 221.8h0M550.2 221.1h0M545.6 222.5h0M550.5 222.2h0M547.8 220.1h0M548.3 219.9h0M545.5 221.2h0M547.6 217.4h0M545.2 214.1h0M547.6 215.3h0M545.5 219.4h0M543.0 219.5h0M544.6 222.4h0M542.3 222.3h0M547.8 217.8h0M544.0 219.0h0M548.4 217.7h0M544.2 219.0h0M545.4 219.5h0M543.2 221.5h0M547.0 214.9h0M544.7 212.1h0M546.3 221.6h0M544.5 222.5h0M546.1 219.7h0M546.6 213.3h0M546.8 218.8h0M545.3 216.7h0M550.3 222.8h0M543.8 216.6h0M543.8 222.3h0M543.5 218.5h0M546.1 222.7h0M544.1 222.8h0M543.8 220.9h0M544.1 222.8h0M544.7 221.7h0M545.1 220.7h0M542.2 221.2h0M547.6 215.6h0M542.3 220.1h0M549.6 221.7h0M543.9 220.4h0M548.6 216.0h0M546.2 222.3h0M543.3 219.5h0M547.2 221.3h0M547.1 218.4h0M545.3 219.0h0M542.0 222.5h0M548.4 215.6h0M544.0 213.5h0M544.0 217.0h0M543.7 221.1h0M548.0 215.0h0M545.5 215.7h0M545.1 211.9h0M547.5 219.4h0M545.2 221.7h0M548.8 222.4h0M543.1 222.0h0M547.4 221.5h0M546.4 218.8h0M547.7 215.2h0M546.5 221.9h0M544.0 222.1h0M542.6 222.2h0M549.4 221.1h0M543.2 218.6h0M547.0 221.8h0M542.5 219.8h0M546.8 222.4h0M543.1 219.1h0M544.5 216.9h0M546.4 219.3h0M549.9 221.1h0M545.6 220.8h0M548.8 219.7h0M546.4 213.8h0M547.2 217.8h0M547.3 211.5h0M546.8 221.8h0M544.0 220.5h0M544.4 216.8h0M546.1 217.9h0M547.9 220.6h0M549.6 217.7h0M545.0 213.5h0M546.2 218.4h0M546.0 211.6h0M542.3 221.0h0M546.5 220.3h0M542.9 221.3h0M542.8 220.2h0M545.7 222.0h0M546.2 221.1h0M545.3 219.8h0M542.1 222.2h0M549.8 219.5h0M545.0 221.5h0M548.2 221.3h0M548.5 220.1h0M543.0 222.8h0M545.1 221.9h0M545.3 220.8h0M546.7 217.7h0M546.8 215.3h0M545.2 215.8h0M550.1 222.6h0M546.8 219.8h0M548.3 222.5h0M547.4 220.9h0M549.7 221.5h0M544.4 221.0h0M544.7 213.9h0M546.1 221.5h0M543.8 221.4h0M543.5 216.5h0M548.5 220.7h0M548.2 217.9h0M549.6 222.3h0M548.8 221.0h0M549.3 220.3h0M544.3 220.2h0M546.2 222.1h0M543.3 222.6h0M546.6 214.6h0M544.2 214.9h0" stroke="#d2524e" stroke-width="0.8" stroke-linecap="round" fill="none"/>
<line x1="510.7" y1="194.5" x2="510.7" y2="242.55" stroke="#3c3c3c" stroke-width="0.75"/>
<line x1="507.1" y1="242.2" x2="559.3" y2="242.2" stroke="#3c3c3c" stroke-width="0.75"/>
<line x1="507.1" y1="228.33" x2="510.7" y2="228.33" stroke="#3c3c3c" stroke-width="0.7"/>
<line x1="507.1" y1="214.47" x2="510.7" y2="214.47" stroke="#3c3c3c" stroke-width="0.7"/>
<line x1="507.1" y1="200.6" x2="510.7" y2="200.6" stroke="#3c3c3c" stroke-width="0.7"/>
<text x="505.5" y="243.7" font-size="4.3" stroke="#3a3a3a" stroke-width="0.05" text-anchor="end" transform="rotate(0.25 505.5 243.7)" fill="#3a3a3a">0</text>
<text x="505.5" y="229.83" font-size="4.3" stroke="#3a3a3a" stroke-width="0.05" text-anchor="end" transform="rotate(0.25 505.5 229.83)" fill="#3a3a3a">5</text>
<text x="505.5" y="215.97" font-size="4.3" stroke="#3a3a3a" stroke-width="0.05" text-anchor="end" transform="rotate(0.25 505.5 215.97)" fill="#3a3a3a">10</text>
<text x="505.5" y="202.1" font-size="4.3" stroke="#3a3a3a" stroke-width="0.05" text-anchor="end" transform="rotate(0.25 505.5 202.1)" fill="#3a3a3a">15</text>
<line x1="524" y1="242.2" x2="524" y2="243.7" stroke="#3c3c3c" stroke-width="0.6"/>
<line x1="546.2" y1="242.2" x2="546.2" y2="243.7" stroke="#3c3c3c" stroke-width="0.6"/>
<text x="519.9" y="248.1" font-size="4.3" stroke="#3a3a3a" stroke-width="0.05" text-anchor="middle" transform="rotate(0.25 519.9 248.1)" fill="#3a3a3a">T1_2</text>
<text x="541.9" y="248.1" font-size="4.3" stroke="#3a3a3a" stroke-width="0.05" text-anchor="middle" transform="rotate(0.25 541.9 248.1)" fill="#3a3a3a">T3_4</text>
<text x="527.9" y="188.8" font-size="6" stroke="#3c3c3c" stroke-width="0.04" text-anchor="middle" transform="rotate(0.25 527.9 188.8)" fill="#3c3c3c">S100A8</text>
<text x="523.9" y="198.6" font-size="5.8" stroke="#222" stroke-width="0.2" text-anchor="middle" font-weight="bold" transform="rotate(0.25 523.9 198.6)" fill="#222">**</text>
<rect x="600.6" y="221.96" width="13.2" height="20.24" fill="#70bbbc"/>
<rect x="622.8" y="220.85" width="13.2" height="21.35" fill="#ce4e4a"/>
<path d="M606.9 221.1h0M605.2 222.5h0M608.3 216.3h0M608.1 221.0h0M609.9 217.8h0M603.7 220.5h0M605.2 217.6h0M604.1 222.1h0M607.9 221.0h0M607.0 221.2h0M609.1 222.4h0M605.7 220.8h0M609.9 218.2h0M609.6 216.3h0M606.2 222.6h0M605.2 221.3h0M610.0 219.3h0M607.3 222.4h0M607.0 216.1h0M606.8 222.5h0M609.5 220.9h0M605.3 222.3h0M608.2 222.7h0M609.4 222.5h0M610.7 221.4h0M610.4 222.1h0M603.3 222.1h0M603.6 222.6h0M611.1 221.5h0M609.0 221.7h0M607.3 222.7h0M604.0 220.8h0M606.8 220.6h0M610.0 221.8h0M604.5 219.8h0M603.4 222.5h0M608.4 222.0h0M608.9 215.5h0M609.7 222.5h0M607.0 219.1h0M604.8 218.3h0M604.0 222.2h0M608.1 220.4h0M604.3 217.8h0M611.3 222.8h0M605.2 222.0h0M604.9 217.7h0M609.8 218.8h0M608.0 220.7h0M608.1 222.8h0M609.3 220.4h0M604.1 220.9h0M608.5 222.1h0M603.8 222.6h0M609.7 222.1h0M606.1 220.8h0M605.5 218.4h0M610.0 220.7h0M606.7 221.6h0M611.0 220.6h0M604.8 220.2h0M605.8 220.6h0M608.9 221.2h0M607.3 222.7h0M608.0 221.8h0M607.0 218.4h0M605.6 220.3h0M607.3 222.0h0M605.0 220.9h0M607.2 219.1h0M605.1 221.7h0M609.7 218.2h0M606.0 215.7h0M608.3 222.6h0M610.3 222.7h0M606.0 219.9h0M608.7 221.3h0M606.0 222.3h0M608.4 218.9h0M604.1 220.5h0M605.1 222.2h0M608.4 222.7h0M610.5 220.6h0M610.5 220.7h0M607.3 221.2h0M606.9 221.9h0M607.1 215.8h0M605.9 222.8h0M608.3 222.2h0M607.0 221.0h0M608.5 216.1h0M603.2 222.6h0M607.9 219.7h0M607.2 220.1h0M606.8 222.7h0M607.8 218.2h0M604.0 222.7h0M607.4 216.8h0M609.0 222.3h0M609.0 216.2h0M609.5 220.2h0M606.9 222.6h0M606.2 218.6h0M610.3 222.4h0M603.7 219.7h0M607.7 222.6h0M609.5 218.2h0M607.9 222.5h0M605.8 222.3h0M606.9 222.4h0M608.5 222.7h0M610.2 220.1h0M604.3 219.1h0M607.5 217.6h0M607.2 215.8h0M609.0 222.6h0M611.4 222.3h0M610.4 220.8h0M605.8 221.1h0M608.7 220.0h0M605.4 221.2h0M609.0 221.4h0M604.3 222.1h0M608.5 221.1h0M605.2 222.6h0M609.3 220.8h0M603.7 221.9h0M610.2 221.1h0M604.2 219.0h0M608.1 219.7h0M608.5 221.1h0M604.7 220.9h0M604.5 219.8h0M610.2 221.8h0M607.3 220.7h0M607.1 219.6h0M607.6 221.6h0M605.9 222.7h0M611.5 222.7h0M608.0 216.7h0M610.3 222.4h0M609.8 221.9h0M608.0 220.1h0M605.6 219.3h0M607.5 218.2h0M609.5 219.2h0M606.4 222.0h0M603.6 221.6h0M608.3 217.5h0M607.6 221.1h0M604.7 217.4h0M608.8 221.7h0M607.2 220.8h0M604.8 222.0h0M606.0 220.0h0M609.1 215.7h0M607.3 220.7h0M606.0 222.5h0M607.2 222.6h0M606.4 217.1h0M610.9 222.0h0M610.2 222.7h0M604.6 217.9h0M606.5 218.0h0M608.1 221.4h0" stroke="#74bfc0" stroke-width="0.8" stroke-linecap="round" fill="none"/>
<path d="M632.3 219.8h0M628.4 216.2h0M631.8 221.7h0M630.6 219.1h0M625.8 221.5h0M628.7 216.1h0M633.2 220.1h0M630.6 221.1h0M629.9 221.5h0M627.0 218.4h0M632.6 218.2h0M631.2 217.4h0M629.7 216.5h0M631.3 217.4h0M630.7 219.2h0M628.0 221.2h0M632.5 220.7h0M628.0 218.0h0M625.6 221.3h0M625.8 220.7h0M628.6 219.1h0M629.6 216.9h0M628.9 219.2h0M633.1 220.2h0M629.6 220.9h0M626.5 220.1h0M629.5 221.3h0M629.0 217.8h0M633.1 221.5h0M632.7 221.3h0M630.7 221.6h0M627.3 221.3h0M631.5 220.3h0M628.7 220.3h0M629.6 220.4h0M633.3 220.9h0M626.2 221.2h0M628.2 219.7h0M626.1 218.5h0M628.4 218.9h0M628.4 215.3h0M627.9 220.3h0M627.7 219.8h0M628.7 219.0h0M627.9 218.7h0M629.9 220.2h0M630.5 218.6h0M626.0 220.3h0M626.4 221.4h0M626.7 221.2h0M628.2 219.0h0M628.0 215.8h0M626.7 221.0h0M631.0 221.3h0M627.5 219.6h0M630.5 217.6h0M630.3 220.3h0M629.0 219.1h0M628.2 221.4h0M628.8 214.5h0M626.3 219.2h0M631.9 218.0h0M628.3 220.5h0M627.4 219.9h0M626.2 221.1h0M629.5 218.8h0M631.1 214.7h0M630.9 214.6h0M626.2 221.6h0M630.0 215.4h0M628.9 219.3h0M626.5 220.3h0M627.6 219.7h0M632.6 221.4h0M632.3 219.6h0M630.1 220.8h0M632.2 220.9h0M630.7 221.1h0M628.0 219.7h0M629.3 221.5h0M631.9 219.9h0M626.7 221.1h0M632.0 220.8h0M630.6 221.0h0M625.8 221.6h0M629.4 218.7h0M629.2 221.4h0M628.9 214.8h0M628.8 219.7h0M625.7 220.0h0M629.9 216.4h0M627.6 220.6h0M633.1 221.2h0M628.6 217.2h0M629.8 219.4h0M625.4 221.1h0M627.0 218.4h0M625.6 219.6h0M626.5 221.6h0M630.2 219.1h0M629.5 216.9h0M633.3 221.6h0M632.3 220.0h0M632.3 221.6h0M627.1 220.1h0M625.9 220.4h0M627.2 219.5h0M627.1 218.7h0M630.3 218.8h0M632.6 218.6h0M631.0 220.8h0M632.7 220.4h0M631.1 217.4h0M627.6 219.4h0M631.9 215.8h0M631.8 219.2h0M631.9 218.9h0M629.1 217.7h0M631.9 220.4h0M629.7 219.1h0M626.7 216.6h0M629.1 221.6h0M632.3 221.4h0M632.7 221.5h0M626.3 221.1h0M630.6 218.2h0M630.2 220.4h0M632.9 219.7h0M629.7 219.9h0M628.7 220.2h0M626.6 218.8h0M632.5 218.8h0M629.7 218.2h0M626.0 220.6h0M629.7 221.4h0M631.5 216.5h0M631.5 221.2h0M629.3 217.6h0M627.5 216.9h0M629.5 220.7h0M629.0 218.5h0M632.5 220.8h0M628.7 220.5h0M629.3 221.1h0M628.4 218.7h0M629.4 219.0h0M633.4 221.7h0M629.8 220.8h0M625.8 220.2h0M626.4 221.1h0M629.5 217.0h0M627.4 221.6h0M626.8 219.9h0M632.9 220.8h0M627.2 220.2h0M626.4 219.4h0M630.6 219.9h0M629.8 221.5h0M631.5 220.8h0M632.5 219.3h0M627.0 219.4h0M631.2 221.2h0M626.6 217.6h0M627.6 220.4h0M632.4 220.1h0" stroke="#d2524e" stroke-width="0.8" stroke-linecap="round" fill="none"/>
<line x1="593.9" y1="194.5" x2="593.9" y2="242.55" stroke="#3c3c3c" stroke-width="0.75"/>
<line x1="590.3" y1="242.2" x2="642.5" y2="242.2" stroke="#3c3c3c" stroke-width="0.75"/>
<line x1="590.3" y1="228.33" x2="593.9" y2="228.33" stroke="#3c3c3c" stroke-width="0.7"/>
<line x1="590.3" y1="214.47" x2="593.9" y2="214.47" stroke="#3c3c3c" stroke-width="0.7"/>
<line x1="590.3" y1="200.6" x2="593.9" y2="200.6" stroke="#3c3c3c" stroke-width="0.7"/>
<text x="588.7" y="243.7" font-size="4.3" stroke="#3a3a3a" stroke-width="0.05" text-anchor="end" transform="rotate(0.25 588.7 243.7)" fill="#3a3a3a">0</text>
<text x="588.7" y="229.83" font-size="4.3" stroke="#3a3a3a" stroke-width="0.05" text-anchor="end" transform="rotate(0.25 588.7 229.83)" fill="#3a3a3a">5</text>
<text x="588.7" y="215.97" font-size="4.3" stroke="#3a3a3a" stroke-width="0.05" text-anchor="end" transform="rotate(0.25 588.7 215.97)" fill="#3a3a3a">10</text>
<text x="588.7" y="202.1" font-size="4.3" stroke="#3a3a3a" stroke-width="0.05" text-anchor="end" transform="rotate(0.25 588.7 202.1)" fill="#3a3a3a">15</text>
<line x1="607.2" y1="242.2" x2="607.2" y2="243.7" stroke="#3c3c3c" stroke-width="0.6"/>
<line x1="629.4" y1="242.2" x2="629.4" y2="243.7" stroke="#3c3c3c" stroke-width="0.6"/>
<text x="603.1" y="248.1" font-size="4.3" stroke="#3a3a3a" stroke-width="0.05" text-anchor="middle" transform="rotate(0.25 603.1 248.1)" fill="#3a3a3a">T1_2</text>
<text x="625.1" y="248.1" font-size="4.3" stroke="#3a3a3a" stroke-width="0.05" text-anchor="middle" transform="rotate(0.25 625.1 248.1)" fill="#3a3a3a">T3_4</text>
<text x="609.1" y="188.8" font-size="6" stroke="#3c3c3c" stroke-width="0.04" text-anchor="middle" transform="rotate(0.25 609.1 188.8)" fill="#3c3c3c">CLEC5A</text>
<text x="607.5" y="198.6" font-size="5.8" stroke="#222" stroke-width="0.2" text-anchor="middle" font-weight="bold" transform="rotate(0.25 607.5 198.6)" fill="#222">***</text>
<rect x="349.7" y="288.88" width="13.2" height="29.12" fill="#70bbbc"/>
<rect x="371.9" y="288.33" width="13.2" height="29.67" fill="#ce4e4a"/>
<path d="M358.1 285.8h0M354.8 282.9h0M355.4 285.2h0M356.5 286.7h0M353.9 284.5h0M354.3 281.1h0M359.2 287.9h0M359.5 284.6h0M360.2 289.5h0M352.3 288.7h0M354.1 282.9h0M353.0 283.1h0M355.1 289.1h0M356.1 289.3h0M358.3 287.7h0M359.9 286.5h0M354.4 281.0h0M358.2 278.0h0M356.5 285.8h0M354.8 288.8h0M353.7 288.5h0M355.0 285.2h0M356.8 282.8h0M353.8 281.4h0M356.3 280.9h0M354.4 285.0h0M355.6 284.1h0M356.9 283.7h0M354.6 289.0h0M353.1 283.1h0M356.6 285.0h0M355.1 283.8h0M356.1 286.7h0M353.5 283.2h0M354.4 286.4h0M354.5 285.5h0M354.0 288.6h0M355.6 279.1h0M357.6 279.7h0M356.8 288.2h0M360.0 289.7h0M353.5 285.0h0M356.3 286.3h0M354.8 284.5h0M356.9 278.4h0M359.0 289.4h0M355.2 279.5h0M358.8 283.9h0M354.0 279.6h0M354.8 281.2h0M357.5 282.1h0M359.5 286.8h0M359.4 282.0h0M357.8 281.8h0M355.6 284.5h0M356.4 286.5h0M354.3 288.6h0M358.3 280.9h0M357.6 284.1h0M356.9 286.4h0M352.8 284.5h0M360.0 287.0h0M356.0 288.6h0M354.2 289.3h0M353.5 281.5h0M358.2 282.2h0M354.9 280.2h0M355.7 277.1h0M359.9 286.9h0M357.7 286.0h0M352.0 289.2h0M353.0 288.3h0M354.8 281.5h0M354.6 280.3h0M355.0 283.9h0M353.0 286.2h0M358.0 281.3h0M357.7 285.6h0M353.2 287.8h0M358.3 287.9h0M353.5 285.8h0M356.1 288.4h0M352.4 289.6h0M353.4 286.9h0M354.3 279.4h0M358.3 283.2h0M356.6 287.9h0M355.6 281.2h0M359.8 286.1h0M355.6 288.0h0M357.6 287.9h0M357.3 279.6h0M360.5 288.8h0M356.3 283.7h0M354.0 280.8h0M358.4 285.4h0M357.4 282.7h0M356.1 289.4h0M357.2 288.2h0M355.9 287.3h0M357.0 286.1h0M355.1 279.3h0M353.7 288.2h0M359.3 289.2h0M354.5 277.8h0M359.6 287.6h0M359.0 280.3h0M353.1 285.5h0M356.3 288.4h0M354.2 289.6h0M357.7 286.7h0M353.1 288.9h0M352.9 287.8h0M352.9 289.1h0M358.7 282.1h0M358.9 289.5h0M357.2 281.0h0M359.0 288.0h0M352.4 289.3h0M359.6 286.6h0M353.3 283.1h0M357.6 289.2h0M357.7 289.0h0M354.4 284.5h0M354.0 286.7h0M357.0 280.1h0M357.2 284.2h0M359.6 289.4h0M356.4 282.6h0M356.2 285.5h0M356.5 283.1h0M356.4 288.2h0M352.1 288.6h0M359.2 286.2h0M354.3 283.7h0M356.9 286.4h0M356.0 285.6h0M357.8 286.4h0M356.4 279.7h0M357.5 282.5h0M354.2 289.1h0M355.1 287.9h0M354.7 286.5h0M355.6 279.5h0M359.3 284.0h0M357.4 288.9h0M359.0 284.5h0M355.2 282.0h0M358.9 289.0h0M355.1 287.2h0M358.1 286.8h0M358.5 279.1h0M354.2 282.9h0M352.3 287.5h0M354.9 288.7h0M356.1 288.8h0M357.6 289.0h0M354.3 287.2h0M355.1 284.3h0M359.2 289.6h0M358.8 283.1h0M354.3 288.1h0M353.8 284.1h0M356.6 280.7h0M354.4 289.5h0" stroke="#74bfc0" stroke-width="0.8" stroke-linecap="round" fill="none"/>
<path d="M382.3 286.2h0M379.3 288.3h0M382.6 288.7h0M380.6 281.6h0M376.4 281.6h0M374.6 287.7h0M375.3 284.8h0M375.7 288.0h0M379.9 275.3h0M382.4 287.3h0M375.4 288.2h0M381.0 286.5h0M381.0 288.6h0M380.8 284.9h0M374.8 286.9h0M380.4 288.6h0M380.5 285.3h0M376.6 287.9h0M381.5 287.9h0M376.1 282.5h0M375.4 282.1h0M376.6 285.7h0M379.9 281.3h0M376.4 282.9h0M379.7 288.9h0M375.1 282.7h0M380.8 279.2h0M378.7 286.7h0M381.5 283.4h0M378.6 283.4h0M378.4 281.2h0M378.9 289.0h0M377.2 286.2h0M376.3 286.4h0M380.5 287.1h0M378.3 277.3h0M376.3 278.9h0M380.4 285.2h0M377.8 280.9h0M382.4 288.2h0M379.6 284.0h0M375.3 286.8h0M377.8 284.5h0M379.4 277.1h0M379.0 281.5h0M376.1 281.5h0M379.1 279.8h0M375.0 288.0h0M380.1 282.5h0M376.8 283.2h0M380.6 285.5h0M381.4 283.6h0M380.9 288.6h0M379.6 289.1h0M375.3 285.0h0M379.8 286.2h0M376.1 278.1h0M380.8 285.3h0M381.9 288.5h0M377.8 273.9h0M375.5 287.9h0M377.8 287.8h0M381.5 282.4h0M381.9 284.7h0M379.8 286.1h0M377.8 289.2h0M375.3 289.0h0M376.1 280.1h0M378.7 287.2h0M374.9 285.1h0M380.0 288.5h0M375.2 286.3h0M377.5 285.6h0M375.7 288.4h0M378.9 288.7h0M376.5 276.7h0M377.4 284.9h0M379.1 277.8h0M378.0 287.5h0M377.6 285.1h0M375.4 284.6h0M382.4 286.2h0M378.5 286.4h0M380.6 281.5h0M377.7 281.9h0M376.4 282.4h0M375.0 283.9h0M375.7 288.0h0M380.4 286.8h0M381.7 289.0h0M382.4 288.6h0M380.5 279.3h0M378.3 273.7h0M375.8 278.6h0M379.4 280.9h0M376.2 281.0h0M378.7 288.7h0M379.9 284.1h0M379.1 288.1h0M380.9 285.1h0M378.2 278.3h0M378.2 286.2h0M374.8 288.4h0M375.8 287.4h0M377.8 276.6h0M378.8 277.8h0M380.6 276.7h0M378.1 282.4h0M379.0 287.6h0M381.2 287.1h0M379.7 288.9h0M377.8 286.9h0M382.2 284.9h0M381.8 283.4h0M378.9 280.7h0M381.0 288.0h0M380.5 285.5h0M379.1 275.2h0M378.8 282.7h0M378.1 288.4h0M375.8 288.8h0M375.9 283.0h0M375.0 286.0h0M376.5 284.1h0M379.7 287.8h0M376.2 275.0h0M379.1 282.3h0M377.9 285.5h0M377.2 289.1h0M377.2 285.1h0M381.0 283.7h0M380.3 280.1h0M378.5 285.5h0M376.3 279.0h0M374.4 287.8h0M378.1 285.5h0M378.1 274.2h0M375.4 285.4h0M378.6 281.5h0M381.7 288.2h0M375.9 288.9h0M382.4 285.6h0M376.5 288.3h0M377.5 280.6h0M376.3 274.7h0M376.9 287.7h0M376.2 278.9h0M381.2 283.0h0M376.2 276.2h0M376.3 285.6h0M376.3 288.4h0M379.0 281.9h0M376.7 288.4h0M382.2 288.8h0M378.3 281.5h0M377.3 273.4h0M375.9 287.6h0M379.2 283.8h0M380.6 285.2h0M377.1 285.0h0M381.7 283.1h0M378.4 288.9h0M380.6 288.3h0M381.2 286.1h0M381.7 283.1h0" stroke="#d2524e" stroke-width="0.8" stroke-linecap="round" fill="none"/>
<line x1="343" y1="270.3" x2="343" y2="318.35" stroke="#3c3c3c" stroke-width="0.75"/>
<line x1="339.4" y1="318" x2="391.6" y2="318" stroke="#3c3c3c" stroke-width="0.75"/>
<line x1="339.4" y1="304.13" x2="343" y2="304.13" stroke="#3c3c3c" stroke-width="0.7"/>
<line x1="339.4" y1="290.27" x2="343" y2="290.27" stroke="#3c3c3c" stroke-width="0.7"/>
<line x1="339.4" y1="276.4" x2="343" y2="276.4" stroke="#3c3c3c" stroke-width="0.7"/>
<text x="337.8" y="319.5" font-size="4.3" stroke="#3a3a3a" stroke-width="0.05" text-anchor="end" transform="rotate(0.25 337.8 319.5)" fill="#3a3a3a">0</text>
<text x="337.8" y="305.63" font-size="4.3" stroke="#3a3a3a" stroke-width="0.05" text-anchor="end" transform="rotate(0.25 337.8 305.63)" fill="#3a3a3a">5</text>
<text x="337.8" y="291.77" font-size="4.3" stroke="#3a3a3a" stroke-width="0.05" text-anchor="end" transform="rotate(0.25 337.8 291.77)" fill="#3a3a3a">10</text>
<text x="337.8" y="277.9" font-size="4.3" stroke="#3a3a3a" stroke-width="0.05" text-anchor="end" transform="rotate(0.25 337.8 277.9)" fill="#3a3a3a">15</text>
<line x1="356.3" y1="318" x2="356.3" y2="319.5" stroke="#3c3c3c" stroke-width="0.6"/>
<line x1="378.5" y1="318" x2="378.5" y2="319.5" stroke="#3c3c3c" stroke-width="0.6"/>
<text x="352.2" y="323.9" font-size="4.3" stroke="#3a3a3a" stroke-width="0.05" text-anchor="middle" transform="rotate(0.25 352.2 323.9)" fill="#3a3a3a">T1_2</text>
<text x="374.2" y="323.9" font-size="4.3" stroke="#3a3a3a" stroke-width="0.05" text-anchor="middle" transform="rotate(0.25 374.2 323.9)" fill="#3a3a3a">T3_4</text>
<text x="359.9" y="267" font-size="6" stroke="#3c3c3c" stroke-width="0.04" text-anchor="middle" transform="rotate(0.25 359.9 267)" fill="#3c3c3c">SPP1</text>
<text x="356.2" y="273.8" font-size="5.8" stroke="#222" stroke-width="0.2" text-anchor="middle" font-weight="bold" transform="rotate(0.25 356.2 273.8)" fill="#222">**</text>
<rect x="432.2" y="297.76" width="13.2" height="20.24" fill="#70bbbc"/>
<rect x="454.4" y="296.93" width="13.2" height="21.07" fill="#ce4e4a"/>
<path d="M439.5 295.3h0M438.0 289.7h0M442.4 298.2h0M442.4 298.3h0M439.5 288.4h0M440.3 291.9h0M436.7 295.2h0M440.9 298.3h0M435.8 296.3h0M437.0 295.5h0M442.0 297.4h0M440.6 295.0h0M438.4 292.2h0M438.3 296.3h0M441.1 296.9h0M437.7 290.5h0M436.8 293.9h0M440.4 298.6h0M437.7 292.9h0M437.8 290.6h0M441.1 293.2h0M442.3 298.0h0M437.0 296.4h0M439.0 296.8h0M437.2 295.8h0M439.9 298.4h0M440.2 293.8h0M441.7 296.7h0M435.6 298.5h0M439.3 298.5h0M436.7 295.8h0M434.9 295.8h0M442.8 298.5h0M436.4 290.4h0M438.9 294.6h0M441.4 295.7h0M442.0 294.7h0M441.8 294.3h0M441.6 298.1h0M442.3 297.1h0M441.8 292.7h0M438.1 293.3h0M441.0 295.8h0M439.1 298.4h0M440.5 295.4h0M439.7 297.0h0M438.0 293.6h0M441.7 294.3h0M439.0 296.9h0M441.5 296.1h0M437.0 297.4h0M440.0 296.7h0M442.9 298.0h0M440.6 296.0h0M435.0 296.6h0M439.4 296.8h0M442.9 298.2h0M438.5 295.3h0M436.6 298.5h0M440.0 297.0h0M438.7 297.9h0M439.3 297.4h0M438.9 294.2h0M439.6 293.4h0M440.1 298.3h0M440.8 296.1h0M438.1 288.2h0M437.2 291.4h0M435.2 294.6h0M438.5 292.0h0M438.8 296.3h0M436.6 296.8h0M439.7 294.1h0M436.8 298.4h0M437.8 288.5h0M439.5 297.3h0M442.5 296.8h0M436.5 297.2h0M438.3 297.9h0M440.3 297.3h0M436.5 290.4h0M435.5 298.5h0M435.7 297.2h0M437.7 296.5h0M442.0 293.7h0M439.8 293.9h0M439.8 298.1h0M440.9 290.5h0M435.9 298.0h0M439.8 289.8h0M435.9 293.2h0M435.3 295.0h0M440.8 293.6h0M434.7 297.1h0M442.2 293.6h0M437.8 294.9h0M441.4 297.1h0M436.8 294.5h0M438.4 293.8h0M440.7 297.2h0M441.2 293.4h0M438.2 296.7h0M441.8 292.5h0M440.2 293.3h0M441.4 292.0h0M438.1 292.7h0M439.0 298.6h0M434.7 296.9h0M442.0 295.2h0M437.6 298.5h0M439.9 292.8h0M438.7 294.4h0M441.6 298.2h0M438.7 293.2h0M441.1 295.5h0M438.6 296.0h0M440.7 296.1h0M437.7 293.6h0M438.0 292.9h0M437.9 294.4h0M441.1 289.9h0M438.0 292.9h0M438.2 297.0h0M435.3 295.1h0M442.1 295.6h0M442.2 298.3h0M442.6 295.4h0M440.3 293.7h0M438.3 293.3h0M441.9 298.1h0M440.0 290.7h0M438.8 297.7h0M437.7 295.9h0M438.5 296.1h0M441.7 291.6h0M437.2 289.6h0M438.0 293.0h0M439.3 295.2h0M437.4 293.5h0M437.9 294.3h0M438.8 292.8h0M442.4 294.7h0M434.6 297.3h0M438.9 290.1h0M441.2 294.7h0M438.2 290.2h0M440.4 294.3h0M438.0 291.9h0M437.7 296.5h0M438.1 297.0h0M436.2 291.5h0M439.1 289.8h0M437.3 294.7h0M441.3 293.1h0M438.8 296.8h0M436.7 297.7h0M439.6 291.4h0M439.9 296.4h0M434.5 297.8h0M439.4 296.9h0M439.2 297.8h0M436.8 297.1h0M437.9 293.5h0M440.5 293.5h0M435.0 296.8h0" stroke="#74bfc0" stroke-width="0.8" stroke-linecap="round" fill="none"/>
<path d="M461.3 289.2h0M462.4 293.7h0M464.1 294.1h0M465.0 297.7h0M460.3 293.3h0M463.0 286.8h0M457.4 293.6h0M460.4 293.2h0M463.5 293.8h0M464.0 297.1h0M458.9 296.0h0M457.6 297.6h0M461.2 296.3h0M459.6 284.8h0M459.9 296.2h0M459.9 293.0h0M458.5 292.6h0M461.7 297.6h0M458.5 291.8h0M462.5 297.5h0M464.7 297.4h0M458.6 292.3h0M457.4 295.3h0M459.7 297.3h0M463.3 288.1h0M461.9 291.3h0M461.1 293.7h0M461.0 292.8h0M463.7 295.4h0M460.2 296.1h0M464.3 292.5h0M460.5 295.8h0M458.7 295.4h0M463.4 295.7h0M460.8 296.8h0M461.7 296.2h0M458.5 290.9h0M458.6 294.7h0M462.3 293.0h0M458.7 296.6h0M459.6 296.1h0M463.0 287.4h0M460.3 290.5h0M458.6 294.9h0M464.6 294.9h0M460.1 297.3h0M463.9 296.8h0M460.9 296.1h0M462.6 297.5h0M463.3 294.4h0M462.7 291.9h0M458.9 296.3h0M457.7 293.5h0M462.0 285.0h0M459.9 294.6h0M461.5 297.4h0M458.5 290.9h0M462.6 297.3h0M463.3 294.8h0M464.9 295.3h0M460.0 288.2h0M461.7 294.2h0M463.5 295.0h0M463.2 292.1h0M461.0 296.4h0M461.6 294.1h0M463.7 297.7h0M458.3 295.0h0M461.3 288.8h0M462.6 291.5h0M464.0 293.3h0M459.6 297.5h0M462.2 296.9h0M457.0 296.6h0M458.2 297.1h0M460.7 294.2h0M457.2 294.9h0M459.1 294.3h0M457.2 297.3h0M460.1 297.0h0M460.7 296.9h0M463.0 296.9h0M460.0 288.1h0M465.0 297.4h0M462.3 297.4h0M460.9 291.2h0M459.1 287.5h0M463.8 291.9h0M462.8 287.3h0M461.1 295.1h0M460.3 289.0h0M457.1 296.4h0M457.9 296.7h0M460.1 285.5h0M464.9 295.7h0M460.5 292.3h0M459.8 297.2h0M464.7 296.2h0M464.8 295.2h0M457.2 296.3h0M458.8 287.2h0M461.6 290.6h0M463.8 296.2h0M464.9 295.2h0M464.4 294.0h0M460.4 285.4h0M462.6 292.3h0M457.6 292.8h0M462.8 292.4h0M457.5 296.8h0M461.4 297.4h0M464.0 297.2h0M465.0 295.3h0M460.5 291.6h0M460.4 296.8h0M463.7 293.4h0M460.1 287.5h0M462.4 297.6h0M462.0 292.4h0M463.0 290.2h0M463.4 293.2h0M464.8 297.1h0M458.1 292.7h0M462.2 296.9h0M464.6 296.1h0M460.9 296.2h0M464.4 294.5h0M464.3 296.1h0M461.5 291.8h0M462.6 284.3h0M461.3 291.4h0M458.6 297.5h0M458.2 292.9h0M459.9 293.0h0M463.6 295.5h0M462.5 289.3h0M461.3 295.0h0M461.5 285.2h0M464.5 297.4h0M457.7 297.5h0M458.8 292.8h0M462.2 291.3h0M464.5 296.9h0M463.8 288.8h0M460.8 290.3h0M463.7 289.7h0M458.1 292.3h0M462.7 295.6h0M458.3 295.7h0M458.2 294.9h0M457.9 294.8h0M459.0 291.8h0M459.2 285.1h0M462.0 293.1h0M462.1 296.7h0M461.9 294.1h0M460.8 296.8h0M461.7 289.4h0M459.6 296.5h0M458.5 288.0h0M461.1 294.8h0M457.0 295.2h0M463.9 297.2h0M459.4 295.0h0M457.5 295.0h0" stroke="#d2524e" stroke-width="0.8" stroke-linecap="round" fill="none"/>
<line x1="425.5" y1="270.3" x2="425.5" y2="318.35" stroke="#3c3c3c" stroke-width="0.75"/>
<line x1="421.9" y1="318" x2="474.1" y2="318" stroke="#3c3c3c" stroke-width="0.75"/>
<line x1="421.9" y1="304.13" x2="425.5" y2="304.13" stroke="#3c3c3c" stroke-width="0.7"/>
<line x1="421.9" y1="290.27" x2="425.5" y2="290.27" stroke="#3c3c3c" stroke-width="0.7"/>
<line x1="421.9" y1="276.4" x2="425.5" y2="276.4" stroke="#3c3c3c" stroke-width="0.7"/>
<text x="420.3" y="319.5" font-size="4.3" stroke="#3a3a3a" stroke-width="0.05" text-anchor="end" transform="rotate(0.25 420.3 319.5)" fill="#3a3a3a">0</text>
<text x="420.3" y="305.63" font-size="4.3" stroke="#3a3a3a" stroke-width="0.05" text-anchor="end" transform="rotate(0.25 420.3 305.63)" fill="#3a3a3a">5</text>
<text x="420.3" y="291.77" font-size="4.3" stroke="#3a3a3a" stroke-width="0.05" text-anchor="end" transform="rotate(0.25 420.3 291.77)" fill="#3a3a3a">10</text>
<text x="420.3" y="277.9" font-size="4.3" stroke="#3a3a3a" stroke-width="0.05" text-anchor="end" transform="rotate(0.25 420.3 277.9)" fill="#3a3a3a">15</text>
<line x1="438.8" y1="318" x2="438.8" y2="319.5" stroke="#3c3c3c" stroke-width="0.6"/>
<line x1="461" y1="318" x2="461" y2="319.5" stroke="#3c3c3c" stroke-width="0.6"/>
<text x="434.7" y="323.9" font-size="4.3" stroke="#3a3a3a" stroke-width="0.05" text-anchor="middle" transform="rotate(0.25 434.7 323.9)" fill="#3a3a3a">T1_2</text>
<text x="456.7" y="323.9" font-size="4.3" stroke="#3a3a3a" stroke-width="0.05" text-anchor="middle" transform="rotate(0.25 456.7 323.9)" fill="#3a3a3a">T3_4</text>
<text x="443" y="267" font-size="6" stroke="#3c3c3c" stroke-width="0.04" text-anchor="middle" transform="rotate(0.25 443 267)" fill="#3c3c3c">IL4I1</text>
<text x="438.3" y="273.8" font-size="5.8" stroke="#222" stroke-width="0.2" text-anchor="middle" font-weight="bold" transform="rotate(0.25 438.3 273.8)" fill="#222">*</text>
<rect x="517.4" y="294.71" width="13.2" height="23.29" fill="#70bbbc"/>
<rect x="539.6" y="293.04" width="13.2" height="24.96" fill="#ce4e4a"/>
<path d="M526.8 295.3h0M522.0 290.7h0M520.5 294.2h0M524.2 294.2h0M524.0 290.8h0M527.0 289.2h0M520.5 292.7h0M525.5 295.0h0M527.4 295.1h0M520.2 295.3h0M524.4 291.5h0M521.1 292.5h0M522.9 294.2h0M525.9 291.0h0M521.7 291.5h0M527.3 293.4h0M522.7 294.9h0M527.7 292.3h0M525.6 295.5h0M524.2 293.4h0M521.6 289.3h0M522.6 292.4h0M525.4 290.8h0M521.2 293.7h0M525.3 290.6h0M525.9 292.7h0M525.5 293.1h0M522.5 290.0h0M523.0 287.6h0M527.0 289.7h0M525.6 288.2h0M523.7 294.0h0M526.3 292.5h0M527.2 293.7h0M524.2 294.7h0M521.2 295.0h0M520.2 294.4h0M524.9 292.7h0M526.4 293.8h0M525.4 292.9h0M522.5 295.2h0M521.1 295.5h0M521.8 289.1h0M523.1 292.5h0M526.7 291.7h0M526.9 289.5h0M527.5 291.6h0M522.5 290.7h0M524.2 294.2h0M521.6 289.2h0M524.9 288.0h0M523.3 292.5h0M523.2 293.9h0M523.6 291.3h0M526.6 291.3h0M519.9 295.2h0M522.6 285.9h0M523.4 289.8h0M519.8 294.7h0M524.8 293.6h0M519.8 295.3h0M527.2 294.4h0M522.4 290.8h0M523.3 293.8h0M522.5 291.4h0M524.0 294.0h0M523.4 294.6h0M524.0 290.9h0M522.7 295.3h0M522.0 292.7h0M524.5 293.9h0M521.4 294.0h0M521.5 288.5h0M521.9 287.5h0M524.3 292.8h0M525.0 293.8h0M523.0 288.2h0M521.4 295.3h0M524.6 288.4h0M523.3 290.8h0M525.6 294.2h0M527.2 292.7h0M522.7 294.9h0M526.9 291.5h0M526.3 293.4h0M525.2 295.1h0M525.6 294.2h0M521.4 294.3h0M525.9 294.5h0M526.9 291.3h0M520.5 293.7h0M522.5 289.9h0M523.9 291.2h0M520.2 293.5h0M526.1 294.7h0M527.1 293.4h0M524.2 290.0h0M523.1 295.5h0M520.5 292.9h0M522.0 288.6h0M522.3 292.6h0M523.7 293.9h0M521.2 294.4h0M524.9 291.8h0M528.1 295.3h0M521.6 295.2h0M522.9 294.4h0M527.2 293.3h0M524.6 295.2h0M522.2 292.2h0M523.5 294.0h0M525.5 288.1h0M520.6 293.3h0M526.6 294.0h0M523.1 293.6h0M520.6 292.1h0M525.4 292.0h0M523.3 295.1h0M522.6 289.0h0M522.8 293.0h0M523.2 292.8h0M527.5 294.1h0M527.5 291.5h0M523.7 294.2h0M527.0 294.0h0M525.5 294.0h0M524.4 294.9h0M527.5 294.5h0M527.7 294.0h0M522.8 292.7h0M527.3 292.8h0M526.3 291.5h0M524.9 292.7h0M526.9 295.0h0M525.1 292.1h0M526.2 294.3h0M522.6 293.0h0M525.0 287.8h0M525.2 289.3h0M527.7 293.9h0M524.9 287.5h0M524.0 293.6h0M527.3 295.4h0M524.6 289.5h0M526.4 293.4h0M523.1 295.5h0M524.9 294.6h0M524.9 294.1h0M523.5 287.8h0M519.8 295.1h0M523.8 289.4h0M520.2 293.6h0M519.7 295.2h0M521.6 287.9h0M523.8 294.2h0M521.9 292.6h0M525.0 292.0h0M522.3 294.6h0M522.2 295.2h0M520.0 294.7h0M522.6 290.0h0M526.1 290.9h0M520.9 290.1h0M526.7 292.5h0M524.8 292.1h0" stroke="#74bfc0" stroke-width="0.8" stroke-linecap="round" fill="none"/>
<path d="M548.8 291.8h0M545.1 291.0h0M546.0 291.3h0M547.7 293.1h0M547.1 287.1h0M545.4 293.8h0M543.8 288.4h0M547.6 291.2h0M544.9 291.0h0M548.0 293.8h0M547.1 293.2h0M547.9 291.1h0M550.3 293.4h0M548.7 288.7h0M548.1 293.1h0M547.8 292.1h0M545.6 289.4h0M546.0 289.0h0M543.8 289.1h0M545.3 285.3h0M544.3 285.6h0M547.0 293.4h0M545.7 292.8h0M548.1 293.0h0M547.5 288.8h0M542.3 293.3h0M543.0 290.6h0M546.5 289.1h0M547.7 283.7h0M548.6 289.9h0M544.6 291.2h0M548.0 293.6h0M547.2 289.7h0M545.8 291.2h0M545.6 284.4h0M550.1 293.3h0M548.8 288.5h0M543.8 289.0h0M546.1 291.3h0M548.5 292.0h0M550.2 292.8h0M544.3 293.0h0M544.6 287.2h0M544.6 289.0h0M546.0 291.9h0M548.9 292.8h0M548.1 283.2h0M542.1 293.2h0M548.1 291.7h0M549.7 290.9h0M544.8 286.3h0M542.7 291.9h0M548.2 292.0h0M543.6 292.4h0M549.3 291.0h0M543.4 290.0h0M544.0 291.7h0M545.7 287.6h0M549.2 291.7h0M545.8 292.5h0M546.5 290.5h0M545.0 289.9h0M545.6 290.1h0M546.5 287.2h0M546.7 289.0h0M545.4 289.4h0M545.0 293.3h0M542.2 292.4h0M546.4 288.3h0M547.8 291.4h0M543.0 293.6h0M543.0 289.1h0M546.2 286.2h0M545.8 284.3h0M545.7 292.3h0M545.9 288.3h0M549.6 289.1h0M546.3 288.7h0M546.2 288.8h0M545.6 290.6h0M548.4 283.5h0M546.6 290.7h0M546.8 293.5h0M545.0 283.9h0M544.6 288.3h0M544.7 289.2h0M548.3 290.5h0M549.1 293.8h0M544.2 291.1h0M546.7 292.5h0M544.0 288.8h0M543.9 293.6h0M545.5 290.1h0M547.7 288.4h0M546.9 292.1h0M547.1 293.3h0M544.3 289.9h0M543.6 289.7h0M548.9 287.8h0M544.2 289.7h0M547.0 288.9h0M547.8 292.1h0M547.4 288.5h0M550.2 292.9h0M545.9 284.8h0M548.5 284.0h0M543.6 292.3h0M546.1 292.8h0M543.9 293.3h0M542.9 288.9h0M545.5 290.3h0M544.5 289.2h0M543.9 291.4h0M549.3 293.8h0M544.5 292.2h0M545.6 283.6h0M543.4 290.9h0M549.2 291.9h0M548.2 287.3h0M544.9 284.6h0M543.0 293.7h0M546.5 289.9h0M547.9 292.1h0M547.1 292.9h0M543.3 291.8h0M544.1 288.2h0M547.9 287.8h0M545.8 291.7h0M543.1 293.0h0M545.3 289.4h0M545.2 290.8h0M543.4 292.7h0M545.8 288.5h0M549.4 293.3h0M543.9 293.2h0M546.7 293.2h0M543.1 288.2h0M547.2 284.1h0M545.7 287.2h0M542.9 291.7h0M549.3 292.7h0M549.6 292.6h0M548.8 287.1h0M545.5 293.3h0M545.1 287.1h0M542.1 292.8h0M546.6 291.0h0M544.1 293.0h0M543.8 290.1h0M548.6 288.1h0M543.2 291.8h0M544.6 290.7h0M548.0 293.5h0M544.5 290.8h0M548.1 292.8h0M545.5 284.5h0M544.1 290.6h0M546.8 291.5h0M547.1 292.5h0M542.7 290.9h0M545.5 293.4h0M546.6 293.3h0M547.1 290.5h0M546.8 285.7h0M543.7 288.3h0" stroke="#d2524e" stroke-width="0.8" stroke-linecap="round" fill="none"/>
<line x1="510.7" y1="270.3" x2="510.7" y2="318.35" stroke="#3c3c3c" stroke-width="0.75"/>
<line x1="507.1" y1="318" x2="559.3" y2="318" stroke="#3c3c3c" stroke-width="0.75"/>
<line x1="507.1" y1="304.13" x2="510.7" y2="304.13" stroke="#3c3c3c" stroke-width="0.7"/>
<line x1="507.1" y1="290.27" x2="510.7" y2="290.27" stroke="#3c3c3c" stroke-width="0.7"/>
<line x1="507.1" y1="276.4" x2="510.7" y2="276.4" stroke="#3c3c3c" stroke-width="0.7"/>
<text x="505.5" y="319.5" font-size="4.3" stroke="#3a3a3a" stroke-width="0.05" text-anchor="end" transform="rotate(0.25 505.5 319.5)" fill="#3a3a3a">0</text>
<text x="505.5" y="305.63" font-size="4.3" stroke="#3a3a3a" stroke-width="0.05" text-anchor="end" transform="rotate(0.25 505.5 305.63)" fill="#3a3a3a">5</text>
<text x="505.5" y="291.77" font-size="4.3" stroke="#3a3a3a" stroke-width="0.05" text-anchor="end" transform="rotate(0.25 505.5 291.77)" fill="#3a3a3a">10</text>
<text x="505.5" y="277.9" font-size="4.3" stroke="#3a3a3a" stroke-width="0.05" text-anchor="end" transform="rotate(0.25 505.5 277.9)" fill="#3a3a3a">15</text>
<line x1="524" y1="318" x2="524" y2="319.5" stroke="#3c3c3c" stroke-width="0.6"/>
<line x1="546.2" y1="318" x2="546.2" y2="319.5" stroke="#3c3c3c" stroke-width="0.6"/>
<text x="519.9" y="323.9" font-size="4.3" stroke="#3a3a3a" stroke-width="0.05" text-anchor="middle" transform="rotate(0.25 519.9 323.9)" fill="#3a3a3a">T1_2</text>
<text x="541.9" y="323.9" font-size="4.3" stroke="#3a3a3a" stroke-width="0.05" text-anchor="middle" transform="rotate(0.25 541.9 323.9)" fill="#3a3a3a">T3_4</text>
<text x="527.9" y="267" font-size="6" stroke="#3c3c3c" stroke-width="0.04" text-anchor="middle" transform="rotate(0.25 527.9 267)" fill="#3c3c3c">OLR1</text>
<text x="523.9" y="273.8" font-size="5.8" stroke="#222" stroke-width="0.2" text-anchor="middle" font-weight="bold" transform="rotate(0.25 523.9 273.8)" fill="#222">**</text>
<rect x="600.6" y="294.71" width="13.2" height="23.29" fill="#70bbbc"/>
<rect x="622.8" y="293.6" width="13.2" height="24.4" fill="#ce4e4a"/>
<path d="M609.6 285.6h0M609.6 291.2h0M606.7 291.7h0M607.0 294.7h0M609.2 289.5h0M607.3 284.8h0M606.7 281.6h0M606.6 295.4h0M609.3 291.8h0M603.2 294.3h0M605.1 289.4h0M607.6 286.4h0M607.4 294.8h0M605.4 288.4h0M604.2 294.7h0M608.5 291.2h0M610.3 291.1h0M603.3 294.5h0M606.1 291.8h0M606.4 293.1h0M606.0 285.3h0M607.7 289.9h0M610.6 293.9h0M605.5 294.1h0M608.9 294.5h0M606.3 289.9h0M608.0 294.9h0M607.6 293.6h0M603.6 290.4h0M609.9 295.3h0M604.9 285.8h0M606.6 294.3h0M606.1 286.9h0M610.6 294.3h0M608.1 295.3h0M609.5 285.3h0M610.9 293.5h0M606.0 284.3h0M609.9 288.4h0M606.3 294.4h0M607.7 288.5h0M606.9 283.5h0M604.6 292.7h0M610.3 294.0h0M610.5 294.1h0M607.6 287.7h0M603.1 293.8h0M610.0 294.9h0M606.2 281.9h0M606.9 282.3h0M610.5 293.3h0M608.3 287.3h0M603.9 293.9h0M605.2 294.6h0M607.8 294.5h0M604.8 293.7h0M606.5 285.5h0M603.0 295.5h0M603.6 291.7h0M603.6 291.6h0M608.1 292.5h0M605.0 291.8h0M610.0 286.8h0M609.9 287.5h0M607.5 290.3h0M609.5 293.0h0M604.9 294.7h0M607.6 292.7h0M603.6 290.8h0M610.2 293.2h0M607.4 295.1h0M609.7 291.1h0M608.1 293.6h0M607.5 281.8h0M608.4 293.6h0M608.4 289.2h0M606.4 290.1h0M606.2 289.5h0M603.8 294.3h0M604.7 291.7h0M605.5 293.9h0M606.5 293.3h0M607.5 288.1h0M607.6 293.1h0M607.3 287.4h0M606.0 292.1h0M604.7 294.6h0M605.3 295.1h0M606.5 295.3h0M604.3 291.4h0M606.9 288.8h0M606.7 290.8h0M608.3 287.9h0M607.6 294.9h0M609.3 294.1h0M605.0 293.3h0M611.4 295.4h0M605.1 294.9h0M605.1 282.7h0M606.7 293.0h0M609.2 290.1h0M604.1 291.0h0M603.0 294.4h0M608.2 294.0h0M605.1 284.7h0M610.5 294.0h0M606.5 291.3h0M603.4 295.2h0M608.2 294.4h0M607.2 295.3h0M604.1 287.4h0M606.5 293.9h0M608.9 291.0h0M606.7 290.1h0M608.2 293.6h0M610.6 292.6h0M607.9 291.9h0M607.1 290.3h0M608.5 292.3h0M610.9 291.1h0M607.2 293.8h0M607.5 284.0h0M604.5 293.8h0M606.6 293.0h0M605.3 292.8h0M607.8 292.4h0M608.6 295.0h0M605.1 289.6h0M603.3 294.2h0M608.6 292.5h0M607.9 293.0h0M603.8 291.1h0M607.3 295.3h0M608.2 283.1h0M605.3 292.7h0M608.5 294.9h0M606.5 288.6h0M605.3 295.1h0M609.1 289.6h0M610.3 293.1h0M603.3 293.2h0M610.5 294.4h0M604.3 289.7h0M606.3 293.9h0M603.5 292.4h0M607.3 283.3h0M603.3 294.1h0M610.5 291.5h0M609.7 289.4h0M608.1 285.6h0M605.6 295.3h0M606.6 291.3h0M603.5 294.4h0M608.1 285.9h0M607.0 293.8h0M605.2 285.6h0M605.3 290.8h0M608.7 284.2h0M607.3 290.1h0M606.0 293.7h0M609.3 281.8h0M607.1 284.1h0M610.1 290.3h0M610.5 292.8h0M605.8 287.9h0" stroke="#74bfc0" stroke-width="0.8" stroke-linecap="round" fill="none"/>
<path d="M630.9 291.8h0M627.3 293.4h0M626.1 293.2h0M631.9 280.5h0M629.4 284.4h0M630.6 286.4h0M629.6 291.0h0M627.2 293.6h0M628.2 292.0h0M627.6 288.1h0M632.5 292.8h0M632.2 285.5h0M627.4 285.6h0M632.0 290.5h0M627.7 284.8h0M630.1 290.6h0M627.2 294.4h0M630.5 286.5h0M630.0 291.0h0M628.2 290.0h0M631.5 293.9h0M629.0 285.8h0M631.5 285.9h0M631.5 287.6h0M633.2 293.7h0M631.6 290.9h0M626.7 286.6h0M626.4 289.3h0M628.3 286.7h0M627.6 291.7h0M630.3 284.7h0M631.4 292.4h0M632.0 293.2h0M631.4 289.0h0M632.9 288.8h0M629.2 287.5h0M629.9 289.2h0M627.8 292.5h0M631.4 285.1h0M629.4 282.6h0M631.0 291.5h0M632.6 288.3h0M628.6 286.4h0M625.6 292.5h0M628.9 285.6h0M625.8 291.5h0M632.5 290.4h0M631.4 292.5h0M630.4 286.1h0M627.6 289.1h0M630.0 287.9h0M628.5 285.6h0M630.0 280.6h0M630.6 292.0h0M626.7 293.5h0M629.2 281.8h0M627.6 285.0h0M627.3 290.7h0M630.0 285.0h0M628.5 291.5h0M627.0 293.0h0M628.1 287.6h0M628.4 293.8h0M633.2 290.9h0M628.6 291.6h0M629.2 282.0h0M627.2 291.5h0M629.2 293.5h0M626.6 288.5h0M626.9 290.6h0M628.3 289.0h0M631.4 288.0h0M628.5 291.4h0M626.9 293.9h0M631.6 288.7h0M633.5 293.6h0M628.7 280.1h0M630.7 289.9h0M628.3 292.1h0M629.3 287.0h0M629.9 291.1h0M629.1 293.7h0M626.6 292.4h0M630.9 290.1h0M629.4 290.1h0M628.8 288.0h0M625.6 290.7h0M630.9 289.5h0M628.6 291.6h0M627.3 292.0h0M631.7 285.3h0M629.9 292.5h0M626.5 290.8h0M629.6 286.7h0M631.2 278.8h0M626.1 292.7h0M627.0 284.7h0M627.1 287.6h0M626.3 287.3h0M632.6 293.9h0M629.0 290.2h0M628.0 280.9h0M628.6 287.3h0M627.9 290.8h0M627.7 292.9h0M626.8 292.6h0M628.7 282.3h0M631.7 289.6h0M627.0 287.8h0M630.9 278.4h0M632.1 292.1h0M626.0 288.4h0M631.0 291.7h0M632.8 289.8h0M631.5 285.3h0M632.3 288.5h0M632.0 294.4h0M629.4 293.9h0M626.0 291.0h0M631.5 288.5h0M627.3 293.0h0M629.6 285.8h0M627.7 294.3h0M628.5 277.6h0M629.0 292.4h0M631.0 281.7h0M630.7 291.6h0M625.7 294.3h0M630.5 291.7h0M625.5 293.5h0M627.6 283.2h0M625.8 294.1h0M627.6 293.9h0M630.6 289.4h0M629.5 292.5h0M630.1 292.1h0M630.5 293.8h0M633.0 294.4h0M629.9 293.1h0M628.9 293.2h0M630.6 292.6h0M631.6 285.6h0M629.7 286.6h0M627.7 291.9h0M633.0 290.3h0M631.5 294.1h0M630.2 292.2h0M631.2 292.6h0M627.9 290.4h0M625.5 291.0h0M632.9 293.8h0M628.5 293.9h0M626.1 288.0h0M628.1 278.8h0M630.0 287.0h0M626.4 289.0h0M631.3 290.3h0M630.9 285.3h0M626.8 287.8h0M629.5 291.4h0M631.7 294.2h0M630.0 293.8h0M626.6 292.6h0M630.8 283.8h0M629.9 289.0h0" stroke="#d2524e" stroke-width="0.8" stroke-linecap="round" fill="none"/>
<line x1="593.9" y1="270.3" x2="593.9" y2="318.35" stroke="#3c3c3c" stroke-width="0.75"/>
<line x1="590.3" y1="318" x2="642.5" y2="318" stroke="#3c3c3c" stroke-width="0.75"/>
<line x1="590.3" y1="304.13" x2="593.9" y2="304.13" stroke="#3c3c3c" stroke-width="0.7"/>
<line x1="590.3" y1="290.27" x2="593.9" y2="290.27" stroke="#3c3c3c" stroke-width="0.7"/>
<line x1="590.3" y1="276.4" x2="593.9" y2="276.4" stroke="#3c3c3c" stroke-width="0.7"/>
<text x="588.7" y="319.5" font-size="4.3" stroke="#3a3a3a" stroke-width="0.05" text-anchor="end" transform="rotate(0.25 588.7 319.5)" fill="#3a3a3a">0</text>
<text x="588.7" y="305.63" font-size="4.3" stroke="#3a3a3a" stroke-width="0.05" text-anchor="end" transform="rotate(0.25 588.7 305.63)" fill="#3a3a3a">5</text>
<text x="588.7" y="291.77" font-size="4.3" stroke="#3a3a3a" stroke-width="0.05" text-anchor="end" transform="rotate(0.25 588.7 291.77)" fill="#3a3a3a">10</text>
<text x="588.7" y="277.9" font-size="4.3" stroke="#3a3a3a" stroke-width="0.05" text-anchor="end" transform="rotate(0.25 588.7 277.9)" fill="#3a3a3a">15</text>
<line x1="607.2" y1="318" x2="607.2" y2="319.5" stroke="#3c3c3c" stroke-width="0.6"/>
<line x1="629.4" y1="318" x2="629.4" y2="319.5" stroke="#3c3c3c" stroke-width="0.6"/>
<text x="603.1" y="323.9" font-size="4.3" stroke="#3a3a3a" stroke-width="0.05" text-anchor="middle" transform="rotate(0.25 603.1 323.9)" fill="#3a3a3a">T1_2</text>
<text x="625.1" y="323.9" font-size="4.3" stroke="#3a3a3a" stroke-width="0.05" text-anchor="middle" transform="rotate(0.25 625.1 323.9)" fill="#3a3a3a">T3_4</text>
<text x="609.1" y="267" font-size="6" stroke="#3c3c3c" stroke-width="0.04" text-anchor="middle" transform="rotate(0.25 609.1 267)" fill="#3c3c3c">S100A9</text>
<text x="607.1" y="273.8" font-size="5.8" stroke="#222" stroke-width="0.2" text-anchor="middle" font-weight="bold" transform="rotate(0.25 607.1 273.8)" fill="#222">**</text>
<text x="7.4" y="362" font-size="9.5" transform="rotate(0.25 7.4 362)">E</text>
<rect x="25.3" y="360.3" width="11.86" height="7.86" fill="#4a1622"/>
<rect x="25.3" y="368.16" width="11.86" height="7.86" fill="#4a1622"/>
<rect x="25.3" y="376.02" width="11.86" height="7.86" fill="#d27a6d"/>
<rect x="25.3" y="383.88" width="11.86" height="7.86" fill="#d27a6d"/>
<rect x="25.3" y="391.74" width="11.86" height="7.86" fill="#d27a6d"/>
<rect x="37.16" y="360.3" width="11.86" height="7.86" fill="#4a1622"/>
<rect x="37.16" y="368.16" width="11.86" height="7.86" fill="#e6a691"/>
<rect x="37.16" y="376.02" width="11.86" height="7.86" fill="#f2f1ec"/>
<rect x="37.16" y="383.88" width="11.86" height="7.86" fill="#f3d6c5"/>
<rect x="37.16" y="391.74" width="11.86" height="7.86" fill="#f3d6c5"/>
<rect x="49.02" y="360.3" width="11.86" height="7.86" fill="#4a1622"/>
<rect x="49.02" y="368.16" width="11.86" height="7.86" fill="#f2f1ec"/>
<rect x="49.02" y="376.02" width="11.86" height="7.86" fill="#d27a6d"/>
<rect x="49.02" y="383.88" width="11.86" height="7.86" fill="#e6a691"/>
<rect x="49.02" y="391.74" width="11.86" height="7.86" fill="#f3d6c5"/>
<rect x="60.87" y="360.3" width="11.86" height="7.86" fill="#4a1622"/>
<rect x="60.87" y="368.16" width="11.86" height="7.86" fill="#e6a691"/>
<rect x="60.87" y="376.02" width="11.86" height="7.86" fill="#e6a691"/>
<rect x="60.87" y="383.88" width="11.86" height="7.86" fill="#e6a691"/>
<rect x="60.87" y="391.74" width="11.86" height="7.86" fill="#b4474e"/>
<rect x="72.73" y="360.3" width="11.86" height="7.86" fill="#4a1622"/>
<rect x="72.73" y="368.16" width="11.86" height="7.86" fill="#e6a691"/>
<rect x="72.73" y="376.02" width="11.86" height="7.86" fill="#4b86ad"/>
<rect x="72.73" y="383.88" width="11.86" height="7.86" fill="#e6a691"/>
<rect x="72.73" y="391.74" width="11.86" height="7.86" fill="#b4474e"/>
<rect x="84.59" y="360.3" width="11.86" height="7.86" fill="#4a1622"/>
<rect x="84.59" y="368.16" width="11.86" height="7.86" fill="#b4474e"/>
<rect x="84.59" y="376.02" width="11.86" height="7.86" fill="#4a1622"/>
<rect x="84.59" y="383.88" width="11.86" height="7.86" fill="#b4474e"/>
<rect x="84.59" y="391.74" width="11.86" height="7.86" fill="#d27a6d"/>
<rect x="96.45" y="360.3" width="11.86" height="7.86" fill="#4a1622"/>
<rect x="96.45" y="368.16" width="11.86" height="7.86" fill="#e6a691"/>
<rect x="96.45" y="376.02" width="11.86" height="7.86" fill="#d27a6d"/>
<rect x="96.45" y="383.88" width="11.86" height="7.86" fill="#e6a691"/>
<rect x="96.45" y="391.74" width="11.86" height="7.86" fill="#e6a691"/>
<rect x="108.3" y="360.3" width="11.86" height="7.86" fill="#4a1622"/>
<rect x="108.3" y="368.16" width="11.86" height="7.86" fill="#e6a691"/>
<rect x="108.3" y="376.02" width="11.86" height="7.86" fill="#cfe6e6"/>
<rect x="108.3" y="383.88" width="11.86" height="7.86" fill="#a2cdd6"/>
<rect x="108.3" y="391.74" width="11.86" height="7.86" fill="#d27a6d"/>
<rect x="120.16" y="360.3" width="11.86" height="7.86" fill="#4a1622"/>
<rect x="120.16" y="368.16" width="11.86" height="7.86" fill="#e6a691"/>
<rect x="120.16" y="376.02" width="11.86" height="7.86" fill="#e6a691"/>
<rect x="120.16" y="383.88" width="11.86" height="7.86" fill="#e6a691"/>
<rect x="120.16" y="391.74" width="11.86" height="7.86" fill="#e6a691"/>
<rect x="132.02" y="360.3" width="11.86" height="7.86" fill="#4a1622"/>
<rect x="132.02" y="368.16" width="11.86" height="7.86" fill="#e6a691"/>
<rect x="132.02" y="376.02" width="11.86" height="7.86" fill="#e6a691"/>
<rect x="132.02" y="383.88" width="11.86" height="7.86" fill="#4b86ad"/>
<rect x="132.02" y="391.74" width="11.86" height="7.86" fill="#d27a6d"/>
<rect x="143.88" y="360.3" width="11.86" height="7.86" fill="#4a1622"/>
<rect x="143.88" y="368.16" width="11.86" height="7.86" fill="#e6a691"/>
<rect x="143.88" y="376.02" width="11.86" height="7.86" fill="#f2f1ec"/>
<rect x="143.88" y="383.88" width="11.86" height="7.86" fill="#d27a6d"/>
<rect x="143.88" y="391.74" width="11.86" height="7.86" fill="#b4474e"/>
<rect x="155.74" y="360.3" width="11.86" height="7.86" fill="#8f2a37"/>
<rect x="155.74" y="368.16" width="11.86" height="7.86" fill="#f2f1ec"/>
<rect x="155.74" y="376.02" width="11.86" height="7.86" fill="#b4474e"/>
<rect x="155.74" y="383.88" width="11.86" height="7.86" fill="#a2cdd6"/>
<rect x="155.74" y="391.74" width="11.86" height="7.86" fill="#d27a6d"/>
<rect x="167.59" y="360.3" width="11.86" height="7.86" fill="#8f2a37"/>
<rect x="167.59" y="368.16" width="11.86" height="7.86" fill="#d27a6d"/>
<rect x="167.59" y="376.02" width="11.86" height="7.86" fill="#f2f1ec"/>
<rect x="167.59" y="383.88" width="11.86" height="7.86" fill="#e6a691"/>
<rect x="167.59" y="391.74" width="11.86" height="7.86" fill="#d27a6d"/>
<rect x="179.45" y="360.3" width="11.86" height="7.86" fill="#8f2a37"/>
<rect x="179.45" y="368.16" width="11.86" height="7.86" fill="#8f2a37"/>
<rect x="179.45" y="376.02" width="11.86" height="7.86" fill="#e6a691"/>
<rect x="179.45" y="383.88" width="11.86" height="7.86" fill="#e6a691"/>
<rect x="179.45" y="391.74" width="11.86" height="7.86" fill="#f2f1ec"/>
<rect x="191.31" y="360.3" width="11.86" height="7.86" fill="#8f2a37"/>
<rect x="191.31" y="368.16" width="11.86" height="7.86" fill="#4a1622"/>
<rect x="191.31" y="376.02" width="11.86" height="7.86" fill="#f2f1ec"/>
<rect x="191.31" y="383.88" width="11.86" height="7.86" fill="#b4474e"/>
<rect x="191.31" y="391.74" width="11.86" height="7.86" fill="#d27a6d"/>
<rect x="203.17" y="360.3" width="11.86" height="7.86" fill="#8f2a37"/>
<rect x="203.17" y="368.16" width="11.86" height="7.86" fill="#d27a6d"/>
<rect x="203.17" y="376.02" width="11.86" height="7.86" fill="#d27a6d"/>
<rect x="203.17" y="383.88" width="11.86" height="7.86" fill="#d27a6d"/>
<rect x="203.17" y="391.74" width="11.86" height="7.86" fill="#e6a691"/>
<rect x="215.02" y="360.3" width="11.86" height="7.86" fill="#8f2a37"/>
<rect x="215.02" y="368.16" width="11.86" height="7.86" fill="#d27a6d"/>
<rect x="215.02" y="376.02" width="11.86" height="7.86" fill="#d27a6d"/>
<rect x="215.02" y="383.88" width="11.86" height="7.86" fill="#8f2a37"/>
<rect x="215.02" y="391.74" width="11.86" height="7.86" fill="#b4474e"/>
<rect x="226.88" y="360.3" width="11.86" height="7.86" fill="#8f2a37"/>
<rect x="226.88" y="368.16" width="11.86" height="7.86" fill="#b4474e"/>
<rect x="226.88" y="376.02" width="11.86" height="7.86" fill="#e6a691"/>
<rect x="226.88" y="383.88" width="11.86" height="7.86" fill="#e6a691"/>
<rect x="226.88" y="391.74" width="11.86" height="7.86" fill="#a2cdd6"/>
<rect x="238.74" y="360.3" width="11.86" height="7.86" fill="#8f2a37"/>
<rect x="238.74" y="368.16" width="11.86" height="7.86" fill="#e6a691"/>
<rect x="238.74" y="376.02" width="11.86" height="7.86" fill="#f3d6c5"/>
<rect x="238.74" y="383.88" width="11.86" height="7.86" fill="#b4474e"/>
<rect x="238.74" y="391.74" width="11.86" height="7.86" fill="#f3d6c5"/>
<rect x="250.6" y="360.3" width="11.86" height="7.86" fill="#8f2a37"/>
<rect x="250.6" y="368.16" width="11.86" height="7.86" fill="#d27a6d"/>
<rect x="250.6" y="376.02" width="11.86" height="7.86" fill="#4b86ad"/>
<rect x="250.6" y="383.88" width="11.86" height="7.86" fill="#e6a691"/>
<rect x="250.6" y="391.74" width="11.86" height="7.86" fill="#4b86ad"/>
<rect x="262.46" y="360.3" width="11.86" height="7.86" fill="#8f2a37"/>
<rect x="262.46" y="368.16" width="11.86" height="7.86" fill="#a2cdd6"/>
<rect x="262.46" y="376.02" width="11.86" height="7.86" fill="#4b86ad"/>
<rect x="262.46" y="383.88" width="11.86" height="7.86" fill="#b4474e"/>
<rect x="262.46" y="391.74" width="11.86" height="7.86" fill="#d27a6d"/>
<rect x="274.31" y="360.3" width="11.86" height="7.86" fill="#b4474e"/>
<rect x="274.31" y="368.16" width="11.86" height="7.86" fill="#d27a6d"/>
<rect x="274.31" y="376.02" width="11.86" height="7.86" fill="#8f2a37"/>
<rect x="274.31" y="383.88" width="11.86" height="7.86" fill="#a2cdd6"/>
<rect x="274.31" y="391.74" width="11.86" height="7.86" fill="#f3d6c5"/>
<rect x="286.17" y="360.3" width="11.86" height="7.86" fill="#b4474e"/>
<rect x="286.17" y="368.16" width="11.86" height="7.86" fill="#f3d6c5"/>
<rect x="286.17" y="376.02" width="11.86" height="7.86" fill="#a2cdd6"/>
<rect x="286.17" y="383.88" width="11.86" height="7.86" fill="#f3d6c5"/>
<rect x="286.17" y="391.74" width="11.86" height="7.86" fill="#f2f1ec"/>
<rect x="298.03" y="360.3" width="11.86" height="7.86" fill="#d27a6d"/>
<rect x="298.03" y="368.16" width="11.86" height="7.86" fill="#a2cdd6"/>
<rect x="298.03" y="376.02" width="11.86" height="7.86" fill="#cfe6e6"/>
<rect x="298.03" y="383.88" width="11.86" height="7.86" fill="#e6a691"/>
<rect x="298.03" y="391.74" width="11.86" height="7.86" fill="#8f2a37"/>
<rect x="309.89" y="360.3" width="11.86" height="7.86" fill="#d27a6d"/>
<rect x="309.89" y="368.16" width="11.86" height="7.86" fill="#f3d6c5"/>
<rect x="309.89" y="376.02" width="11.86" height="7.86" fill="#e6a691"/>
<rect x="309.89" y="383.88" width="11.86" height="7.86" fill="#f2f1ec"/>
<rect x="309.89" y="391.74" width="11.86" height="7.86" fill="#d27a6d"/>
<rect x="321.74" y="360.3" width="11.86" height="7.86" fill="#d27a6d"/>
<rect x="321.74" y="368.16" width="11.86" height="7.86" fill="#f3d6c5"/>
<rect x="321.74" y="376.02" width="11.86" height="7.86" fill="#e6a691"/>
<rect x="321.74" y="383.88" width="11.86" height="7.86" fill="#4a1622"/>
<rect x="321.74" y="391.74" width="11.86" height="7.86" fill="#a2cdd6"/>
<rect x="333.6" y="360.3" width="11.86" height="7.86" fill="#d27a6d"/>
<rect x="333.6" y="368.16" width="11.86" height="7.86" fill="#f2f1ec"/>
<rect x="333.6" y="376.02" width="11.86" height="7.86" fill="#f2f1ec"/>
<rect x="333.6" y="383.88" width="11.86" height="7.86" fill="#cfe6e6"/>
<rect x="333.6" y="391.74" width="11.86" height="7.86" fill="#f3d6c5"/>
<rect x="345.46" y="360.3" width="11.86" height="7.86" fill="#d27a6d"/>
<rect x="345.46" y="368.16" width="11.86" height="7.86" fill="#3a6192"/>
<rect x="345.46" y="376.02" width="11.86" height="7.86" fill="#cfe6e6"/>
<rect x="345.46" y="383.88" width="11.86" height="7.86" fill="#d27a6d"/>
<rect x="345.46" y="391.74" width="11.86" height="7.86" fill="#a2cdd6"/>
<rect x="357.32" y="360.3" width="11.86" height="7.86" fill="#d27a6d"/>
<rect x="357.32" y="368.16" width="11.86" height="7.86" fill="#8f2a37"/>
<rect x="357.32" y="376.02" width="11.86" height="7.86" fill="#8f2a37"/>
<rect x="357.32" y="383.88" width="11.86" height="7.86" fill="#8f2a37"/>
<rect x="357.32" y="391.74" width="11.86" height="7.86" fill="#e6a691"/>
<rect x="369.18" y="360.3" width="11.86" height="7.86" fill="#e6a691"/>
<rect x="369.18" y="368.16" width="11.86" height="7.86" fill="#d27a6d"/>
<rect x="369.18" y="376.02" width="11.86" height="7.86" fill="#e6a691"/>
<rect x="369.18" y="383.88" width="11.86" height="7.86" fill="#f2f1ec"/>
<rect x="369.18" y="391.74" width="11.86" height="7.86" fill="#b4474e"/>
<rect x="381.03" y="360.3" width="11.86" height="7.86" fill="#e6a691"/>
<rect x="381.03" y="368.16" width="11.86" height="7.86" fill="#d27a6d"/>
<rect x="381.03" y="376.02" width="11.86" height="7.86" fill="#f2f1ec"/>
<rect x="381.03" y="383.88" width="11.86" height="7.86" fill="#e6a691"/>
<rect x="381.03" y="391.74" width="11.86" height="7.86" fill="#e6a691"/>
<rect x="392.89" y="360.3" width="11.86" height="7.86" fill="#e6a691"/>
<rect x="392.89" y="368.16" width="11.86" height="7.86" fill="#f2f1ec"/>
<rect x="392.89" y="376.02" width="11.86" height="7.86" fill="#a2cdd6"/>
<rect x="392.89" y="383.88" width="11.86" height="7.86" fill="#b4474e"/>
<rect x="392.89" y="391.74" width="11.86" height="7.86" fill="#b4474e"/>
<rect x="404.75" y="360.3" width="11.86" height="7.86" fill="#e6a691"/>
<rect x="404.75" y="368.16" width="11.86" height="7.86" fill="#cfe6e6"/>
<rect x="404.75" y="376.02" width="11.86" height="7.86" fill="#f2f1ec"/>
<rect x="404.75" y="383.88" width="11.86" height="7.86" fill="#b4474e"/>
<rect x="404.75" y="391.74" width="11.86" height="7.86" fill="#d27a6d"/>
<rect x="416.61" y="360.3" width="11.86" height="7.86" fill="#f3d6c5"/>
<rect x="416.61" y="368.16" width="11.86" height="7.86" fill="#f2f1ec"/>
<rect x="416.61" y="376.02" width="11.86" height="7.86" fill="#e6a691"/>
<rect x="416.61" y="383.88" width="11.86" height="7.86" fill="#f3d6c5"/>
<rect x="416.61" y="391.74" width="11.86" height="7.86" fill="#f2f1ec"/>
<rect x="428.46" y="360.3" width="11.86" height="7.86" fill="#f3d6c5"/>
<rect x="428.46" y="368.16" width="11.86" height="7.86" fill="#4b86ad"/>
<rect x="428.46" y="376.02" width="11.86" height="7.86" fill="#4b86ad"/>
<rect x="428.46" y="383.88" width="11.86" height="7.86" fill="#d27a6d"/>
<rect x="428.46" y="391.74" width="11.86" height="7.86" fill="#a2cdd6"/>
<rect x="440.32" y="360.3" width="11.86" height="7.86" fill="#f2f1ec"/>
<rect x="440.32" y="368.16" width="11.86" height="7.86" fill="#a2cdd6"/>
<rect x="440.32" y="376.02" width="11.86" height="7.86" fill="#4b86ad"/>
<rect x="440.32" y="383.88" width="11.86" height="7.86" fill="#f3d6c5"/>
<rect x="440.32" y="391.74" width="11.86" height="7.86" fill="#d27a6d"/>
<rect x="452.18" y="360.3" width="11.86" height="7.86" fill="#f2f1ec"/>
<rect x="452.18" y="368.16" width="11.86" height="7.86" fill="#f2f1ec"/>
<rect x="452.18" y="376.02" width="11.86" height="7.86" fill="#e6a691"/>
<rect x="452.18" y="383.88" width="11.86" height="7.86" fill="#a2cdd6"/>
<rect x="452.18" y="391.74" width="11.86" height="7.86" fill="#f2f1ec"/>
<rect x="464.04" y="360.3" width="11.86" height="7.86" fill="#f2f1ec"/>
<rect x="464.04" y="368.16" width="11.86" height="7.86" fill="#3a6192"/>
<rect x="464.04" y="376.02" width="11.86" height="7.86" fill="#3a6192"/>
<rect x="464.04" y="383.88" width="11.86" height="7.86" fill="#f3d6c5"/>
<rect x="464.04" y="391.74" width="11.86" height="7.86" fill="#b4474e"/>
<rect x="475.9" y="360.3" width="11.86" height="7.86" fill="#f2f1ec"/>
<rect x="475.9" y="368.16" width="11.86" height="7.86" fill="#a2cdd6"/>
<rect x="475.9" y="376.02" width="11.86" height="7.86" fill="#a2cdd6"/>
<rect x="475.9" y="383.88" width="11.86" height="7.86" fill="#a2cdd6"/>
<rect x="475.9" y="391.74" width="11.86" height="7.86" fill="#b4474e"/>
<rect x="487.75" y="360.3" width="11.86" height="7.86" fill="#cfe6e6"/>
<rect x="487.75" y="368.16" width="11.86" height="7.86" fill="#a2cdd6"/>
<rect x="487.75" y="376.02" width="11.86" height="7.86" fill="#f2f1ec"/>
<rect x="487.75" y="383.88" width="11.86" height="7.86" fill="#4b86ad"/>
<rect x="487.75" y="391.74" width="11.86" height="7.86" fill="#f2f1ec"/>
<rect x="499.61" y="360.3" width="11.86" height="7.86" fill="#cfe6e6"/>
<rect x="499.61" y="368.16" width="11.86" height="7.86" fill="#f3d6c5"/>
<rect x="499.61" y="376.02" width="11.86" height="7.86" fill="#3a6192"/>
<rect x="499.61" y="383.88" width="11.86" height="7.86" fill="#e6a691"/>
<rect x="499.61" y="391.74" width="11.86" height="7.86" fill="#e6a691"/>
<rect x="511.47" y="360.3" width="11.86" height="7.86" fill="#a2cdd6"/>
<rect x="511.47" y="368.16" width="11.86" height="7.86" fill="#4b86ad"/>
<rect x="511.47" y="376.02" width="11.86" height="7.86" fill="#e6a691"/>
<rect x="511.47" y="383.88" width="11.86" height="7.86" fill="#cfe6e6"/>
<rect x="511.47" y="391.74" width="11.86" height="7.86" fill="#f2f1ec"/>
<rect x="523.33" y="360.3" width="11.86" height="7.86" fill="#a2cdd6"/>
<rect x="523.33" y="368.16" width="11.86" height="7.86" fill="#3a6192"/>
<rect x="523.33" y="376.02" width="11.86" height="7.86" fill="#f2f1ec"/>
<rect x="523.33" y="383.88" width="11.86" height="7.86" fill="#4a1622"/>
<rect x="523.33" y="391.74" width="11.86" height="7.86" fill="#e6a691"/>
<rect x="535.18" y="360.3" width="11.86" height="7.86" fill="#4b86ad"/>
<rect x="535.18" y="368.16" width="11.86" height="7.86" fill="#8f2a37"/>
<rect x="535.18" y="376.02" width="11.86" height="7.86" fill="#a2cdd6"/>
<rect x="535.18" y="383.88" width="11.86" height="7.86" fill="#e6a691"/>
<rect x="535.18" y="391.74" width="11.86" height="7.86" fill="#cfe6e6"/>
<rect x="547.04" y="360.3" width="11.86" height="7.86" fill="#3a6192"/>
<rect x="547.04" y="368.16" width="11.86" height="7.86" fill="#cfe6e6"/>
<rect x="547.04" y="376.02" width="11.86" height="7.86" fill="#3a6192"/>
<rect x="547.04" y="383.88" width="11.86" height="7.86" fill="#f2f1ec"/>
<rect x="547.04" y="391.74" width="11.86" height="7.86" fill="#f3d6c5"/>
<path d="M25.3 360.3V399.6M37.16 360.3V399.6M49.02 360.3V399.6M60.87 360.3V399.6M72.73 360.3V399.6M84.59 360.3V399.6M96.45 360.3V399.6M108.3 360.3V399.6M120.16 360.3V399.6M132.02 360.3V399.6M143.88 360.3V399.6M155.74 360.3V399.6M167.59 360.3V399.6M179.45 360.3V399.6M191.31 360.3V399.6M203.17 360.3V399.6M215.02 360.3V399.6M226.88 360.3V399.6M238.74 360.3V399.6M250.6 360.3V399.6M262.46 360.3V399.6M274.31 360.3V399.6M286.17 360.3V399.6M298.03 360.3V399.6M309.89 360.3V399.6M321.74 360.3V399.6M333.6 360.3V399.6M345.46 360.3V399.6M357.32 360.3V399.6M369.18 360.3V399.6M381.03 360.3V399.6M392.89 360.3V399.6M404.75 360.3V399.6M416.61 360.3V399.6M428.46 360.3V399.6M440.32 360.3V399.6M452.18 360.3V399.6M464.04 360.3V399.6M475.9 360.3V399.6M487.75 360.3V399.6M499.61 360.3V399.6M511.47 360.3V399.6M523.33 360.3V399.6M535.18 360.3V399.6M547.04 360.3V399.6M558.9 360.3V399.6M25.3 360.3H558.9M25.3 368.16H558.9M25.3 376.02H558.9M25.3 383.88H558.9M25.3 391.74H558.9M25.3 399.6H558.9" stroke="#141414" stroke-width="0.7" fill="none"/>
<text x="34.47" y="404.5" font-size="6.5" stroke="#111" stroke-width="0.06" text-anchor="end" transform="rotate(-89.75 34.47 404.5)" fill="#111">KCNMA1</text>
<text x="46.33" y="404.5" font-size="6.5" stroke="#111" stroke-width="0.06" text-anchor="end" transform="rotate(-89.75 46.33 404.5)" fill="#111">SIGLEC1</text>
<text x="58.18" y="404.5" font-size="6.5" stroke="#111" stroke-width="0.06" text-anchor="end" transform="rotate(-89.75 58.18 404.5)" fill="#111">FOLR2</text>
<text x="70.04" y="404.5" font-size="6.5" stroke="#111" stroke-width="0.06" text-anchor="end" transform="rotate(-89.75 70.04 404.5)" fill="#111">MPEG1</text>
<text x="81.9" y="404.5" font-size="6.5" stroke="#111" stroke-width="0.06" text-anchor="end" transform="rotate(-89.75 81.9 404.5)" fill="#111">FPR3</text>
<text x="93.76" y="404.5" font-size="6.5" stroke="#111" stroke-width="0.06" text-anchor="end" transform="rotate(-89.75 93.76 404.5)" fill="#111">P2RY13</text>
<text x="105.62" y="404.5" font-size="6.5" stroke="#111" stroke-width="0.06" text-anchor="end" transform="rotate(-89.75 105.62 404.5)" fill="#111">AOAH</text>
<text x="117.47" y="404.5" font-size="6.5" stroke="#111" stroke-width="0.06" text-anchor="end" transform="rotate(-89.75 117.47 404.5)" fill="#111">MS4A4A</text>
<text x="129.33" y="404.5" font-size="6.5" stroke="#111" stroke-width="0.06" text-anchor="end" transform="rotate(-89.75 129.33 404.5)" fill="#111">ALOX5</text>
<text x="141.19" y="404.5" font-size="6.5" stroke="#111" stroke-width="0.06" text-anchor="end" transform="rotate(-89.75 141.19 404.5)" fill="#111">LAT2</text>
<text x="153.05" y="404.5" font-size="6.5" stroke="#111" stroke-width="0.06" text-anchor="end" transform="rotate(-89.75 153.05 404.5)" fill="#111">SLAMF8</text>
<text x="164.9" y="404.5" font-size="6.5" stroke="#111" stroke-width="0.06" text-anchor="end" transform="rotate(-89.75 164.9 404.5)" fill="#111">CEBPA</text>
<text x="176.76" y="404.5" font-size="6.5" stroke="#111" stroke-width="0.06" text-anchor="end" transform="rotate(-89.75 176.76 404.5)" fill="#111">LILRB2</text>
<text x="188.62" y="404.5" font-size="6.5" stroke="#111" stroke-width="0.06" text-anchor="end" transform="rotate(-89.75 188.62 404.5)" fill="#111">HLA−DQB2</text>
<text x="200.48" y="404.5" font-size="6.5" stroke="#111" stroke-width="0.06" text-anchor="end" transform="rotate(-89.75 200.48 404.5)" fill="#111">OLR1</text>
<text x="212.34" y="404.5" font-size="6.5" stroke="#111" stroke-width="0.06" text-anchor="end" transform="rotate(-89.75 212.34 404.5)" fill="#111">PLD4</text>
<text x="224.59" y="404.5" font-size="7.6" stroke="#111" stroke-width="0.06" text-anchor="end" transform="rotate(-89.75 224.59 404.5)" fill="#111">C2</text>
<text x="236.05" y="404.5" font-size="6.5" stroke="#111" stroke-width="0.06" text-anchor="end" transform="rotate(-89.75 236.05 404.5)" fill="#111">OLFML3</text>
<text x="247.91" y="404.5" font-size="6.5" stroke="#111" stroke-width="0.06" text-anchor="end" transform="rotate(-89.75 247.91 404.5)" fill="#111">NPL</text>
<text x="259.77" y="404.5" font-size="6.5" stroke="#111" stroke-width="0.06" text-anchor="end" transform="rotate(-89.75 259.77 404.5)" fill="#111">B3GNT5</text>
<text x="271.62" y="404.5" font-size="6.5" stroke="#111" stroke-width="0.06" text-anchor="end" transform="rotate(-89.75 271.62 404.5)" fill="#111">PLA2G7</text>
<text x="283.48" y="404.5" font-size="6.5" stroke="#111" stroke-width="0.06" text-anchor="end" transform="rotate(-89.75 283.48 404.5)" fill="#111">GAPT</text>
<text x="295.34" y="404.5" font-size="6.5" stroke="#111" stroke-width="0.06" text-anchor="end" transform="rotate(-89.75 295.34 404.5)" fill="#111">IL1B</text>
<text x="307.2" y="404.5" font-size="6.5" stroke="#111" stroke-width="0.06" text-anchor="end" transform="rotate(-89.75 307.2 404.5)" fill="#111">IL4I1</text>
<text x="319.06" y="404.5" font-size="6.5" stroke="#111" stroke-width="0.06" text-anchor="end" transform="rotate(-89.75 319.06 404.5)" fill="#111">GM2A</text>
<text x="330.91" y="404.5" font-size="6.5" stroke="#111" stroke-width="0.06" text-anchor="end" transform="rotate(-89.75 330.91 404.5)" fill="#111">ARHGAP24</text>
<text x="342.77" y="404.5" font-size="6.5" stroke="#111" stroke-width="0.06" text-anchor="end" transform="rotate(-89.75 342.77 404.5)" fill="#111">TM6SF1</text>
<text x="354.63" y="404.5" font-size="6.5" stroke="#111" stroke-width="0.06" text-anchor="end" transform="rotate(-89.75 354.63 404.5)" fill="#111">S100A9</text>
<text x="366.49" y="404.5" font-size="6.5" stroke="#111" stroke-width="0.06" text-anchor="end" transform="rotate(-89.75 366.49 404.5)" fill="#111">CIITA</text>
<text x="378.34" y="404.5" font-size="6.5" stroke="#111" stroke-width="0.06" text-anchor="end" transform="rotate(-89.75 378.34 404.5)" fill="#111">STAB1</text>
<text x="390.2" y="404.5" font-size="6.5" stroke="#111" stroke-width="0.06" text-anchor="end" transform="rotate(-89.75 390.2 404.5)" fill="#111">MNDA</text>
<text x="402.06" y="404.5" font-size="6.5" stroke="#111" stroke-width="0.06" text-anchor="end" transform="rotate(-89.75 402.06 404.5)" fill="#111">TRPM4</text>
<text x="413.92" y="404.5" font-size="6.5" stroke="#111" stroke-width="0.06" text-anchor="end" transform="rotate(-89.75 413.92 404.5)" fill="#111">C15orf48</text>
<text x="425.78" y="404.5" font-size="6.5" stroke="#111" stroke-width="0.06" text-anchor="end" transform="rotate(-89.75 425.78 404.5)" fill="#111">CX3CR1</text>
<text x="437.63" y="404.5" font-size="6.5" stroke="#111" stroke-width="0.06" text-anchor="end" transform="rotate(-89.75 437.63 404.5)" fill="#111">S100A8</text>
<text x="449.49" y="404.5" font-size="6.5" stroke="#111" stroke-width="0.06" text-anchor="end" transform="rotate(-89.75 449.49 404.5)" fill="#111">RNASE1</text>
<text x="461.35" y="404.5" font-size="6.5" stroke="#111" stroke-width="0.06" text-anchor="end" transform="rotate(-89.75 461.35 404.5)" fill="#111">HPGDS</text>
<text x="473.21" y="404.5" font-size="6.5" stroke="#111" stroke-width="0.06" text-anchor="end" transform="rotate(-89.75 473.21 404.5)" fill="#111">NDRG2</text>
<text x="485.06" y="404.5" font-size="6.5" stroke="#111" stroke-width="0.06" text-anchor="end" transform="rotate(-89.75 485.06 404.5)" fill="#111">MERTK</text>
<text x="496.92" y="404.5" font-size="6.5" stroke="#111" stroke-width="0.06" text-anchor="end" transform="rotate(-89.75 496.92 404.5)" fill="#111">DMXL2</text>
<text x="508.78" y="404.5" font-size="6.5" stroke="#111" stroke-width="0.06" text-anchor="end" transform="rotate(-89.75 508.78 404.5)" fill="#111">CLEC5A</text>
<text x="520.64" y="404.5" font-size="6.5" stroke="#111" stroke-width="0.06" text-anchor="end" transform="rotate(-89.75 520.64 404.5)" fill="#111">FCER1A</text>
<text x="532.5" y="404.5" font-size="6.5" stroke="#111" stroke-width="0.06" text-anchor="end" transform="rotate(-89.75 532.5 404.5)" fill="#111">FCGBP</text>
<text x="544.35" y="404.5" font-size="6.5" stroke="#111" stroke-width="0.06" text-anchor="end" transform="rotate(-89.75 544.35 404.5)" fill="#111">PHACTR1</text>
<text x="556.21" y="404.5" font-size="6.5" stroke="#111" stroke-width="0.06" text-anchor="end" transform="rotate(-89.75 556.21 404.5)" fill="#111">SPP1</text>
<text x="563" y="366.23" font-size="5.7" stroke="#111" stroke-width="0.06" transform="rotate(0.25 563 366.23)" fill="#111">TCGA_Melanoma</text>
<text x="563" y="374.09" font-size="5.7" stroke="#111" stroke-width="0.06" transform="rotate(0.25 563 374.09)" fill="#111">TCGA_Endometrial</text>
<text x="563" y="381.95" font-size="5.7" stroke="#111" stroke-width="0.06" transform="rotate(0.25 563 381.95)" fill="#111">METABRIC</text>
<text x="563" y="389.81" font-size="5.7" stroke="#111" stroke-width="0.06" transform="rotate(0.25 563 389.81)" fill="#111">GSE12417_GPL570</text>
<text x="563" y="397.67" font-size="5.7" stroke="#111" stroke-width="0.06" transform="rotate(0.25 563 397.67)" fill="#111">E_MTAB_179</text>
<text x="621.2" y="364.4" font-size="6" stroke="#111" stroke-width="0.06" transform="rotate(0.25 621.2 364.4)" fill="#111">T cell dysfunction score</text>
<rect x="623.9" y="367.85" width="7.8" height="3.06" fill="#4a1622"/>
<rect x="623.9" y="370.81" width="7.8" height="3.06" fill="#6e1f2c"/>
<rect x="623.9" y="373.76" width="7.8" height="3.06" fill="#8f2a37"/>
<rect x="623.9" y="376.72" width="7.8" height="3.06" fill="#b4474e"/>
<rect x="623.9" y="379.68" width="7.8" height="3.06" fill="#d27a6d"/>
<rect x="623.9" y="382.64" width="7.8" height="3.06" fill="#e6a691"/>
<rect x="623.9" y="385.59" width="7.8" height="3.06" fill="#f3d6c5"/>
<rect x="623.9" y="388.55" width="7.8" height="3.06" fill="#f2f1ec"/>
<rect x="623.9" y="391.51" width="7.8" height="3.06" fill="#cfe6e6"/>
<rect x="623.9" y="394.46" width="7.8" height="3.06" fill="#a2cdd6"/>
<rect x="623.9" y="397.42" width="7.8" height="3.06" fill="#7fb0c6"/>
<rect x="623.9" y="400.38" width="7.8" height="3.06" fill="#4b86ad"/>
<rect x="623.9" y="403.34" width="7.8" height="3.06" fill="#3f6f9e"/>
<rect x="623.9" y="406.29" width="7.8" height="3.06" fill="#3a6192"/>
<text x="634.3" y="369.75" font-size="4.4" stroke="#111" stroke-width="0.15" transform="rotate(0.25 634.3 369.75)" fill="#111">3</text>
<text x="634.3" y="377.05" font-size="4.4" stroke="#111" stroke-width="0.15" transform="rotate(0.25 634.3 377.05)" fill="#111">2</text>
<text x="634.3" y="383.55" font-size="4.4" stroke="#111" stroke-width="0.15" transform="rotate(0.25 634.3 383.55)" fill="#111">1</text>
<text x="634.3" y="390.25" font-size="4.4" stroke="#111" stroke-width="0.15" transform="rotate(0.25 634.3 390.25)" fill="#111">0</text>
<text x="634.3" y="396.85" font-size="4.4" stroke="#111" stroke-width="0.15" transform="rotate(0.25 634.3 396.85)" fill="#111">−1</text>
<text x="634.3" y="403.75" font-size="4.4" stroke="#111" stroke-width="0.15" transform="rotate(0.25 634.3 403.75)" fill="#111">−2</text>
<text x="634.3" y="409.95" font-size="4.4" stroke="#111" stroke-width="0.15" transform="rotate(0.25 634.3 409.95)" fill="#111">−3</text>
<text x="5.5" y="815" font-size="9.5" transform="rotate(0.25 5.5 815)">L</text>
<rect x="25.3" y="816" width="11.86" height="7.94" fill="#f2f1ed"/>
<rect x="25.3" y="823.94" width="11.86" height="7.94" fill="#f2f1ed"/>
<rect x="25.3" y="831.88" width="11.86" height="7.94" fill="#f2f1ed"/>
<rect x="25.3" y="839.82" width="11.86" height="7.94" fill="#f2f1ed"/>
<rect x="25.3" y="847.76" width="11.86" height="7.94" fill="#f2f1ed"/>
<rect x="37.16" y="816" width="11.86" height="7.94" fill="#c2494f"/>
<rect x="37.16" y="823.94" width="11.86" height="7.94" fill="#cc7177"/>
<rect x="37.16" y="831.88" width="11.86" height="7.94" fill="#dfa9a8"/>
<rect x="37.16" y="839.82" width="11.86" height="7.94" fill="#f2f1ed"/>
<rect x="37.16" y="847.76" width="11.86" height="7.94" fill="#dfa9a8"/>
<rect x="49.02" y="816" width="11.86" height="7.94" fill="#cc7177"/>
<rect x="49.02" y="823.94" width="11.86" height="7.94" fill="#cc7177"/>
<rect x="49.02" y="831.88" width="11.86" height="7.94" fill="#dfa9a8"/>
<rect x="49.02" y="839.82" width="11.86" height="7.94" fill="#f2f1ed"/>
<rect x="49.02" y="847.76" width="11.86" height="7.94" fill="#dfa9a8"/>
<rect x="60.87" y="816" width="11.86" height="7.94" fill="#c2494f"/>
<rect x="60.87" y="823.94" width="11.86" height="7.94" fill="#cc7177"/>
<rect x="60.87" y="831.88" width="11.86" height="7.94" fill="#cc7177"/>
<rect x="60.87" y="839.82" width="11.86" height="7.94" fill="#dfa9a8"/>
<rect x="60.87" y="847.76" width="11.86" height="7.94" fill="#c2494f"/>
<rect x="72.73" y="816" width="11.86" height="7.94" fill="#cc7177"/>
<rect x="72.73" y="823.94" width="11.86" height="7.94" fill="#dfa9a8"/>
<rect x="72.73" y="831.88" width="11.86" height="7.94" fill="#cc7177"/>
<rect x="72.73" y="839.82" width="11.86" height="7.94" fill="#f2f1ed"/>
<rect x="72.73" y="847.76" width="11.86" height="7.94" fill="#dfa9a8"/>
<rect x="84.59" y="816" width="11.86" height="7.94" fill="#c2494f"/>
<rect x="84.59" y="823.94" width="11.86" height="7.94" fill="#dfa9a8"/>
<rect x="84.59" y="831.88" width="11.86" height="7.94" fill="#c2494f"/>
<rect x="84.59" y="839.82" width="11.86" height="7.94" fill="#f2f1ed"/>
<rect x="84.59" y="847.76" width="11.86" height="7.94" fill="#cc7177"/>
<rect x="96.45" y="816" width="11.86" height="7.94" fill="#b5272f"/>
<rect x="96.45" y="823.94" width="11.86" height="7.94" fill="#cc7177"/>
<rect x="96.45" y="831.88" width="11.86" height="7.94" fill="#c2494f"/>
<rect x="96.45" y="839.82" width="11.86" height="7.94" fill="#dfa9a8"/>
<rect x="96.45" y="847.76" width="11.86" height="7.94" fill="#cc7177"/>
<rect x="108.3" y="816" width="11.86" height="7.94" fill="#c2494f"/>
<rect x="108.3" y="823.94" width="11.86" height="7.94" fill="#c2494f"/>
<rect x="108.3" y="831.88" width="11.86" height="7.94" fill="#dfa9a8"/>
<rect x="108.3" y="839.82" width="11.86" height="7.94" fill="#adc5d3"/>
<rect x="108.3" y="847.76" width="11.86" height="7.94" fill="#cc7177"/>
<rect x="120.16" y="816" width="11.86" height="7.94" fill="#cc7177"/>
<rect x="120.16" y="823.94" width="11.86" height="7.94" fill="#f2f1ed"/>
<rect x="120.16" y="831.88" width="11.86" height="7.94" fill="#cc7177"/>
<rect x="120.16" y="839.82" width="11.86" height="7.94" fill="#f2f1ed"/>
<rect x="120.16" y="847.76" width="11.86" height="7.94" fill="#cc7177"/>
<rect x="132.02" y="816" width="11.86" height="7.94" fill="#cc7177"/>
<rect x="132.02" y="823.94" width="11.86" height="7.94" fill="#cc7177"/>
<rect x="132.02" y="831.88" width="11.86" height="7.94" fill="#c2494f"/>
<rect x="132.02" y="839.82" width="11.86" height="7.94" fill="#6d9ab6"/>
<rect x="132.02" y="847.76" width="11.86" height="7.94" fill="#cc7177"/>
<rect x="143.88" y="816" width="11.86" height="7.94" fill="#b5272f"/>
<rect x="143.88" y="823.94" width="11.86" height="7.94" fill="#cc7177"/>
<rect x="143.88" y="831.88" width="11.86" height="7.94" fill="#c2494f"/>
<rect x="143.88" y="839.82" width="11.86" height="7.94" fill="#f2f1ed"/>
<rect x="143.88" y="847.76" width="11.86" height="7.94" fill="#dfa9a8"/>
<rect x="155.74" y="816" width="11.86" height="7.94" fill="#cc7177"/>
<rect x="155.74" y="823.94" width="11.86" height="7.94" fill="#f2f1ed"/>
<rect x="155.74" y="831.88" width="11.86" height="7.94" fill="#dfa9a8"/>
<rect x="155.74" y="839.82" width="11.86" height="7.94" fill="#6d9ab6"/>
<rect x="155.74" y="847.76" width="11.86" height="7.94" fill="#dfa9a8"/>
<rect x="167.59" y="816" width="11.86" height="7.94" fill="#c2494f"/>
<rect x="167.59" y="823.94" width="11.86" height="7.94" fill="#c2494f"/>
<rect x="167.59" y="831.88" width="11.86" height="7.94" fill="#c2494f"/>
<rect x="167.59" y="839.82" width="11.86" height="7.94" fill="#f2f1ed"/>
<rect x="167.59" y="847.76" width="11.86" height="7.94" fill="#dfa9a8"/>
<rect x="179.45" y="816" width="11.86" height="7.94" fill="#4a7ea2"/>
<rect x="179.45" y="823.94" width="11.86" height="7.94" fill="#f2f1ed"/>
<rect x="179.45" y="831.88" width="11.86" height="7.94" fill="#dfa9a8"/>
<rect x="179.45" y="839.82" width="11.86" height="7.94" fill="#f2f1ed"/>
<rect x="179.45" y="847.76" width="11.86" height="7.94" fill="#d4d3d0"/>
<rect x="191.31" y="816" width="11.86" height="7.94" fill="#f2f1ed"/>
<rect x="191.31" y="823.94" width="11.86" height="7.94" fill="#dfa9a8"/>
<rect x="191.31" y="831.88" width="11.86" height="7.94" fill="#f2f1ed"/>
<rect x="191.31" y="839.82" width="11.86" height="7.94" fill="#f2f1ed"/>
<rect x="191.31" y="847.76" width="11.86" height="7.94" fill="#f2f1ed"/>
<rect x="203.17" y="816" width="11.86" height="7.94" fill="#dfa9a8"/>
<rect x="203.17" y="823.94" width="11.86" height="7.94" fill="#f2f1ed"/>
<rect x="203.17" y="831.88" width="11.86" height="7.94" fill="#f2f1ed"/>
<rect x="203.17" y="839.82" width="11.86" height="7.94" fill="#adc5d3"/>
<rect x="203.17" y="847.76" width="11.86" height="7.94" fill="#dfa9a8"/>
<rect x="215.02" y="816" width="11.86" height="7.94" fill="#cc7177"/>
<rect x="215.02" y="823.94" width="11.86" height="7.94" fill="#dfa9a8"/>
<rect x="215.02" y="831.88" width="11.86" height="7.94" fill="#c2494f"/>
<rect x="215.02" y="839.82" width="11.86" height="7.94" fill="#dfa9a8"/>
<rect x="215.02" y="847.76" width="11.86" height="7.94" fill="#f2f1ed"/>
<rect x="226.88" y="816" width="11.86" height="7.94" fill="#f2f1ed"/>
<rect x="226.88" y="823.94" width="11.86" height="7.94" fill="#f2f1ed"/>
<rect x="226.88" y="831.88" width="11.86" height="7.94" fill="#f2f1ed"/>
<rect x="226.88" y="839.82" width="11.86" height="7.94" fill="#f2f1ed"/>
<rect x="226.88" y="847.76" width="11.86" height="7.94" fill="#f2f1ed"/>
<rect x="238.74" y="816" width="11.86" height="7.94" fill="#cc7177"/>
<rect x="238.74" y="823.94" width="11.86" height="7.94" fill="#cc7177"/>
<rect x="238.74" y="831.88" width="11.86" height="7.94" fill="#cc7177"/>
<rect x="238.74" y="839.82" width="11.86" height="7.94" fill="#dfa9a8"/>
<rect x="238.74" y="847.76" width="11.86" height="7.94" fill="#f2f1ed"/>
<rect x="250.6" y="816" width="11.86" height="7.94" fill="#adc5d3"/>
<rect x="250.6" y="823.94" width="11.86" height="7.94" fill="#adc5d3"/>
<rect x="250.6" y="831.88" width="11.86" height="7.94" fill="#adc5d3"/>
<rect x="250.6" y="839.82" width="11.86" height="7.94" fill="#adc5d3"/>
<rect x="250.6" y="847.76" width="11.86" height="7.94" fill="#adc5d3"/>
<rect x="262.46" y="816" width="11.86" height="7.94" fill="#cc7177"/>
<rect x="262.46" y="823.94" width="11.86" height="7.94" fill="#dfa9a8"/>
<rect x="262.46" y="831.88" width="11.86" height="7.94" fill="#cc7177"/>
<rect x="262.46" y="839.82" width="11.86" height="7.94" fill="#dfa9a8"/>
<rect x="262.46" y="847.76" width="11.86" height="7.94" fill="#f2f1ed"/>
<rect x="274.31" y="816" width="11.86" height="7.94" fill="#f2f1ed"/>
<rect x="274.31" y="823.94" width="11.86" height="7.94" fill="#f2f1ed"/>
<rect x="274.31" y="831.88" width="11.86" height="7.94" fill="#cc7177"/>
<rect x="274.31" y="839.82" width="11.86" height="7.94" fill="#6d9ab6"/>
<rect x="274.31" y="847.76" width="11.86" height="7.94" fill="#cc7177"/>
<rect x="286.17" y="816" width="11.86" height="7.94" fill="#f2f1ed"/>
<rect x="286.17" y="823.94" width="11.86" height="7.94" fill="#f2f1ed"/>
<rect x="286.17" y="831.88" width="11.86" height="7.94" fill="#f2f1ed"/>
<rect x="286.17" y="839.82" width="11.86" height="7.94" fill="#f2f1ed"/>
<rect x="286.17" y="847.76" width="11.86" height="7.94" fill="#dfa9a8"/>
<rect x="298.03" y="816" width="11.86" height="7.94" fill="#b5272f"/>
<rect x="298.03" y="823.94" width="11.86" height="7.94" fill="#f2f1ed"/>
<rect x="298.03" y="831.88" width="11.86" height="7.94" fill="#cc7177"/>
<rect x="298.03" y="839.82" width="11.86" height="7.94" fill="#cc7177"/>
<rect x="298.03" y="847.76" width="11.86" height="7.94" fill="#f2f1ed"/>
<rect x="309.89" y="816" width="11.86" height="7.94" fill="#dfa9a8"/>
<rect x="309.89" y="823.94" width="11.86" height="7.94" fill="#dfa9a8"/>
<rect x="309.89" y="831.88" width="11.86" height="7.94" fill="#dfa9a8"/>
<rect x="309.89" y="839.82" width="11.86" height="7.94" fill="#adc5d3"/>
<rect x="309.89" y="847.76" width="11.86" height="7.94" fill="#f2f1ed"/>
<rect x="321.74" y="816" width="11.86" height="7.94" fill="#adc5d3"/>
<rect x="321.74" y="823.94" width="11.86" height="7.94" fill="#f2f1ed"/>
<rect x="321.74" y="831.88" width="11.86" height="7.94" fill="#f2f1ed"/>
<rect x="321.74" y="839.82" width="11.86" height="7.94" fill="#f2f1ed"/>
<rect x="321.74" y="847.76" width="11.86" height="7.94" fill="#f2f1ed"/>
<rect x="333.6" y="816" width="11.86" height="7.94" fill="#dfa9a8"/>
<rect x="333.6" y="823.94" width="11.86" height="7.94" fill="#f2f1ed"/>
<rect x="333.6" y="831.88" width="11.86" height="7.94" fill="#dfa9a8"/>
<rect x="333.6" y="839.82" width="11.86" height="7.94" fill="#f2f1ed"/>
<rect x="333.6" y="847.76" width="11.86" height="7.94" fill="#f2f1ed"/>
<rect x="345.46" y="816" width="11.86" height="7.94" fill="#f2f1ed"/>
<rect x="345.46" y="823.94" width="11.86" height="7.94" fill="#adc5d3"/>
<rect x="345.46" y="831.88" width="11.86" height="7.94" fill="#f2f1ed"/>
<rect x="345.46" y="839.82" width="11.86" height="7.94" fill="#f2f1ed"/>
<rect x="345.46" y="847.76" width="11.86" height="7.94" fill="#dfa9a8"/>
<rect x="357.32" y="816" width="11.86" height="7.94" fill="#dfa9a8"/>
<rect x="357.32" y="823.94" width="11.86" height="7.94" fill="#c2494f"/>
<rect x="357.32" y="831.88" width="11.86" height="7.94" fill="#c2494f"/>
<rect x="357.32" y="839.82" width="11.86" height="7.94" fill="#f2f1ed"/>
<rect x="357.32" y="847.76" width="11.86" height="7.94" fill="#c2494f"/>
<rect x="369.18" y="816" width="11.86" height="7.94" fill="#f2f1ed"/>
<rect x="369.18" y="823.94" width="11.86" height="7.94" fill="#dfa9a8"/>
<rect x="369.18" y="831.88" width="11.86" height="7.94" fill="#dfa9a8"/>
<rect x="369.18" y="839.82" width="11.86" height="7.94" fill="#f2f1ed"/>
<rect x="369.18" y="847.76" width="11.86" height="7.94" fill="#dfa9a8"/>
<rect x="381.03" y="816" width="11.86" height="7.94" fill="#cc7177"/>
<rect x="381.03" y="823.94" width="11.86" height="7.94" fill="#c2494f"/>
<rect x="381.03" y="831.88" width="11.86" height="7.94" fill="#dfa9a8"/>
<rect x="381.03" y="839.82" width="11.86" height="7.94" fill="#f2f1ed"/>
<rect x="381.03" y="847.76" width="11.86" height="7.94" fill="#cc7177"/>
<rect x="392.89" y="816" width="11.86" height="7.94" fill="#f2f1ed"/>
<rect x="392.89" y="823.94" width="11.86" height="7.94" fill="#adc5d3"/>
<rect x="392.89" y="831.88" width="11.86" height="7.94" fill="#adc5d3"/>
<rect x="392.89" y="839.82" width="11.86" height="7.94" fill="#f2f1ed"/>
<rect x="392.89" y="847.76" width="11.86" height="7.94" fill="#f2f1ed"/>
<rect x="404.75" y="816" width="11.86" height="7.94" fill="#dfa9a8"/>
<rect x="404.75" y="823.94" width="11.86" height="7.94" fill="#f2f1ed"/>
<rect x="404.75" y="831.88" width="11.86" height="7.94" fill="#d4d3d0"/>
<rect x="404.75" y="839.82" width="11.86" height="7.94" fill="#cc7177"/>
<rect x="404.75" y="847.76" width="11.86" height="7.94" fill="#f2f1ed"/>
<rect x="416.61" y="816" width="11.86" height="7.94" fill="#f2f1ed"/>
<rect x="416.61" y="823.94" width="11.86" height="7.94" fill="#adc5d3"/>
<rect x="416.61" y="831.88" width="11.86" height="7.94" fill="#f2f1ed"/>
<rect x="416.61" y="839.82" width="11.86" height="7.94" fill="#dfa9a8"/>
<rect x="416.61" y="847.76" width="11.86" height="7.94" fill="#f2f1ed"/>
<rect x="428.46" y="816" width="11.86" height="7.94" fill="#f2f1ed"/>
<rect x="428.46" y="823.94" width="11.86" height="7.94" fill="#adc5d3"/>
<rect x="428.46" y="831.88" width="11.86" height="7.94" fill="#6d9ab6"/>
<rect x="428.46" y="839.82" width="11.86" height="7.94" fill="#dfa9a8"/>
<rect x="428.46" y="847.76" width="11.86" height="7.94" fill="#dfa9a8"/>
<rect x="440.32" y="816" width="11.86" height="7.94" fill="#f2f1ed"/>
<rect x="440.32" y="823.94" width="11.86" height="7.94" fill="#adc5d3"/>
<rect x="440.32" y="831.88" width="11.86" height="7.94" fill="#f2f1ed"/>
<rect x="440.32" y="839.82" width="11.86" height="7.94" fill="#dfa9a8"/>
<rect x="440.32" y="847.76" width="11.86" height="7.94" fill="#f2f1ed"/>
<rect x="452.18" y="816" width="11.86" height="7.94" fill="#adc5d3"/>
<rect x="452.18" y="823.94" width="11.86" height="7.94" fill="#adc5d3"/>
<rect x="452.18" y="831.88" width="11.86" height="7.94" fill="#f2f1ed"/>
<rect x="452.18" y="839.82" width="11.86" height="7.94" fill="#adc5d3"/>
<rect x="452.18" y="847.76" width="11.86" height="7.94" fill="#adc5d3"/>
<rect x="464.04" y="816" width="11.86" height="7.94" fill="#adc5d3"/>
<rect x="464.04" y="823.94" width="11.86" height="7.94" fill="#adc5d3"/>
<rect x="464.04" y="831.88" width="11.86" height="7.94" fill="#adc5d3"/>
<rect x="464.04" y="839.82" width="11.86" height="7.94" fill="#f2f1ed"/>
<rect x="464.04" y="847.76" width="11.86" height="7.94" fill="#dfa9a8"/>
<rect x="475.9" y="816" width="11.86" height="7.94" fill="#adc5d3"/>
<rect x="475.9" y="823.94" width="11.86" height="7.94" fill="#adc5d3"/>
<rect x="475.9" y="831.88" width="11.86" height="7.94" fill="#f2f1ed"/>
<rect x="475.9" y="839.82" width="11.86" height="7.94" fill="#adc5d3"/>
<rect x="475.9" y="847.76" width="11.86" height="7.94" fill="#dfa9a8"/>
<rect x="487.75" y="816" width="11.86" height="7.94" fill="#adc5d3"/>
<rect x="487.75" y="823.94" width="11.86" height="7.94" fill="#f2f1ed"/>
<rect x="487.75" y="831.88" width="11.86" height="7.94" fill="#f2f1ed"/>
<rect x="487.75" y="839.82" width="11.86" height="7.94" fill="#adc5d3"/>
<rect x="487.75" y="847.76" width="11.86" height="7.94" fill="#adc5d3"/>
<rect x="499.61" y="816" width="11.86" height="7.94" fill="#f2f1ed"/>
<rect x="499.61" y="823.94" width="11.86" height="7.94" fill="#f2f1ed"/>
<rect x="499.61" y="831.88" width="11.86" height="7.94" fill="#adc5d3"/>
<rect x="499.61" y="839.82" width="11.86" height="7.94" fill="#adc5d3"/>
<rect x="499.61" y="847.76" width="11.86" height="7.94" fill="#adc5d3"/>
<rect x="511.47" y="816" width="11.86" height="7.94" fill="#adc5d3"/>
<rect x="511.47" y="823.94" width="11.86" height="7.94" fill="#adc5d3"/>
<rect x="511.47" y="831.88" width="11.86" height="7.94" fill="#f2f1ed"/>
<rect x="511.47" y="839.82" width="11.86" height="7.94" fill="#f2f1ed"/>
<rect x="511.47" y="847.76" width="11.86" height="7.94" fill="#cc7177"/>
<rect x="523.33" y="816" width="11.86" height="7.94" fill="#adc5d3"/>
<rect x="523.33" y="823.94" width="11.86" height="7.94" fill="#adc5d3"/>
<rect x="523.33" y="831.88" width="11.86" height="7.94" fill="#adc5d3"/>
<rect x="523.33" y="839.82" width="11.86" height="7.94" fill="#dfa9a8"/>
<rect x="523.33" y="847.76" width="11.86" height="7.94" fill="#f2f1ed"/>
<rect x="535.18" y="816" width="11.86" height="7.94" fill="#adc5d3"/>
<rect x="535.18" y="823.94" width="11.86" height="7.94" fill="#adc5d3"/>
<rect x="535.18" y="831.88" width="11.86" height="7.94" fill="#dfa9a8"/>
<rect x="535.18" y="839.82" width="11.86" height="7.94" fill="#f2f1ed"/>
<rect x="535.18" y="847.76" width="11.86" height="7.94" fill="#adc5d3"/>
<rect x="547.04" y="816" width="11.86" height="7.94" fill="#f2f1ed"/>
<rect x="547.04" y="823.94" width="11.86" height="7.94" fill="#adc5d3"/>
<rect x="547.04" y="831.88" width="11.86" height="7.94" fill="#6d9ab6"/>
<rect x="547.04" y="839.82" width="11.86" height="7.94" fill="#adc5d3"/>
<rect x="547.04" y="847.76" width="11.86" height="7.94" fill="#adc5d3"/>
<path d="M25.3 816V855.7M37.16 816V855.7M49.02 816V855.7M60.87 816V855.7M72.73 816V855.7M84.59 816V855.7M96.45 816V855.7M108.3 816V855.7M120.16 816V855.7M132.02 816V855.7M143.88 816V855.7M155.74 816V855.7M167.59 816V855.7M179.45 816V855.7M191.31 816V855.7M203.17 816V855.7M215.02 816V855.7M226.88 816V855.7M238.74 816V855.7M250.6 816V855.7M262.46 816V855.7M274.31 816V855.7M286.17 816V855.7M298.03 816V855.7M309.89 816V855.7M321.74 816V855.7M333.6 816V855.7M345.46 816V855.7M357.32 816V855.7M369.18 816V855.7M381.03 816V855.7M392.89 816V855.7M404.75 816V855.7M416.61 816V855.7M428.46 816V855.7M440.32 816V855.7M452.18 816V855.7M464.04 816V855.7M475.9 816V855.7M487.75 816V855.7M499.61 816V855.7M511.47 816V855.7M523.33 816V855.7M535.18 816V855.7M547.04 816V855.7M558.9 816V855.7M25.3 816H558.9M25.3 823.94H558.9M25.3 831.88H558.9M25.3 839.82H558.9M25.3 847.76H558.9M25.3 855.7H558.9" stroke="#141414" stroke-width="0.7" fill="none"/>
<text x="34.47" y="860.6" font-size="6.5" stroke="#111" stroke-width="0.06" text-anchor="end" transform="rotate(-89.75 34.47 860.6)" fill="#111">KCNMA1</text>
<text x="46.33" y="860.6" font-size="6.5" stroke="#111" stroke-width="0.06" text-anchor="end" transform="rotate(-89.75 46.33 860.6)" fill="#111">SIGLEC1</text>
<text x="58.18" y="860.6" font-size="6.5" stroke="#111" stroke-width="0.06" text-anchor="end" transform="rotate(-89.75 58.18 860.6)" fill="#111">FOLR2</text>
<text x="70.04" y="860.6" font-size="6.5" stroke="#111" stroke-width="0.06" text-anchor="end" transform="rotate(-89.75 70.04 860.6)" fill="#111">MPEG1</text>
<text x="81.9" y="860.6" font-size="6.5" stroke="#111" stroke-width="0.06" text-anchor="end" transform="rotate(-89.75 81.9 860.6)" fill="#111">FPR3</text>
<text x="93.76" y="860.6" font-size="6.5" stroke="#111" stroke-width="0.06" text-anchor="end" transform="rotate(-89.75 93.76 860.6)" fill="#111">P2RY13</text>
<text x="105.62" y="860.6" font-size="6.5" stroke="#111" stroke-width="0.06" text-anchor="end" transform="rotate(-89.75 105.62 860.6)" fill="#111">AOAH</text>
<text x="117.47" y="860.6" font-size="6.5" stroke="#111" stroke-width="0.06" text-anchor="end" transform="rotate(-89.75 117.47 860.6)" fill="#111">MS4A4A</text>
<text x="129.33" y="860.6" font-size="6.5" stroke="#111" stroke-width="0.06" text-anchor="end" transform="rotate(-89.75 129.33 860.6)" fill="#111">ALOX5</text>
<text x="141.19" y="860.6" font-size="6.5" stroke="#111" stroke-width="0.06" text-anchor="end" transform="rotate(-89.75 141.19 860.6)" fill="#111">LAT2</text>
<text x="153.05" y="860.6" font-size="6.5" stroke="#111" stroke-width="0.06" text-anchor="end" transform="rotate(-89.75 153.05 860.6)" fill="#111">SLAMF8</text>
<text x="164.9" y="860.6" font-size="6.5" stroke="#111" stroke-width="0.06" text-anchor="end" transform="rotate(-89.75 164.9 860.6)" fill="#111">CEBPA</text>
<text x="176.76" y="860.6" font-size="6.5" stroke="#111" stroke-width="0.06" text-anchor="end" transform="rotate(-89.75 176.76 860.6)" fill="#111">LILRB2</text>
<text x="188.62" y="860.6" font-size="6.5" stroke="#111" stroke-width="0.06" text-anchor="end" transform="rotate(-89.75 188.62 860.6)" fill="#111">HLA−DQB2</text>
<text x="200.48" y="860.6" font-size="6.5" stroke="#111" stroke-width="0.06" text-anchor="end" transform="rotate(-89.75 200.48 860.6)" fill="#111">OLR1</text>
<text x="212.34" y="860.6" font-size="6.5" stroke="#111" stroke-width="0.06" text-anchor="end" transform="rotate(-89.75 212.34 860.6)" fill="#111">PLD4</text>
<text x="224.59" y="860.6" font-size="7.6" stroke="#111" stroke-width="0.06" text-anchor="end" transform="rotate(-89.75 224.59 860.6)" fill="#111">C2</text>
<text x="236.05" y="860.6" font-size="6.5" stroke="#111" stroke-width="0.06" text-anchor="end" transform="rotate(-89.75 236.05 860.6)" fill="#111">OLFML3</text>
<text x="247.91" y="860.6" font-size="6.5" stroke="#111" stroke-width="0.06" text-anchor="end" transform="rotate(-89.75 247.91 860.6)" fill="#111">NPL</text>
<text x="259.77" y="860.6" font-size="6.5" stroke="#111" stroke-width="0.06" text-anchor="end" transform="rotate(-89.75 259.77 860.6)" fill="#111">B3GNT5</text>
<text x="271.62" y="860.6" font-size="6.5" stroke="#111" stroke-width="0.06" text-anchor="end" transform="rotate(-89.75 271.62 860.6)" fill="#111">PLA2G7</text>
<text x="283.48" y="860.6" font-size="6.5" stroke="#111" stroke-width="0.06" text-anchor="end" transform="rotate(-89.75 283.48 860.6)" fill="#111">GAPT</text>
<text x="295.34" y="860.6" font-size="6.5" stroke="#111" stroke-width="0.06" text-anchor="end" transform="rotate(-89.75 295.34 860.6)" fill="#111">IL1B</text>
<text x="307.2" y="860.6" font-size="6.5" stroke="#111" stroke-width="0.06" text-anchor="end" transform="rotate(-89.75 307.2 860.6)" fill="#111">IL4I1</text>
<text x="319.06" y="860.6" font-size="6.5" stroke="#111" stroke-width="0.06" text-anchor="end" transform="rotate(-89.75 319.06 860.6)" fill="#111">GM2A</text>
<text x="330.91" y="860.6" font-size="6.5" stroke="#111" stroke-width="0.06" text-anchor="end" transform="rotate(-89.75 330.91 860.6)" fill="#111">ARHGAP24</text>
<text x="342.77" y="860.6" font-size="6.5" stroke="#111" stroke-width="0.06" text-anchor="end" transform="rotate(-89.75 342.77 860.6)" fill="#111">TM6SF1</text>
<text x="354.63" y="860.6" font-size="6.5" stroke="#111" stroke-width="0.06" text-anchor="end" transform="rotate(-89.75 354.63 860.6)" fill="#111">S100A9</text>
<text x="366.49" y="860.6" font-size="6.5" stroke="#111" stroke-width="0.06" text-anchor="end" transform="rotate(-89.75 366.49 860.6)" fill="#111">CIITA</text>
<text x="378.34" y="860.6" font-size="6.5" stroke="#111" stroke-width="0.06" text-anchor="end" transform="rotate(-89.75 378.34 860.6)" fill="#111">STAB1</text>
<text x="390.2" y="860.6" font-size="6.5" stroke="#111" stroke-width="0.06" text-anchor="end" transform="rotate(-89.75 390.2 860.6)" fill="#111">MNDA</text>
<text x="402.06" y="860.6" font-size="6.5" stroke="#111" stroke-width="0.06" text-anchor="end" transform="rotate(-89.75 402.06 860.6)" fill="#111">TRPM4</text>
<text x="413.92" y="860.6" font-size="6.5" stroke="#111" stroke-width="0.06" text-anchor="end" transform="rotate(-89.75 413.92 860.6)" fill="#111">C15orf48</text>
<text x="425.78" y="860.6" font-size="6.5" stroke="#111" stroke-width="0.06" text-anchor="end" transform="rotate(-89.75 425.78 860.6)" fill="#111">CX3CR1</text>
<text x="437.63" y="860.6" font-size="6.5" stroke="#111" stroke-width="0.06" text-anchor="end" transform="rotate(-89.75 437.63 860.6)" fill="#111">S100A8</text>
<text x="449.49" y="860.6" font-size="6.5" stroke="#111" stroke-width="0.06" text-anchor="end" transform="rotate(-89.75 449.49 860.6)" fill="#111">RNASE1</text>
<text x="461.35" y="860.6" font-size="6.5" stroke="#111" stroke-width="0.06" text-anchor="end" transform="rotate(-89.75 461.35 860.6)" fill="#111">HPGDS</text>
<text x="473.21" y="860.6" font-size="6.5" stroke="#111" stroke-width="0.06" text-anchor="end" transform="rotate(-89.75 473.21 860.6)" fill="#111">NDRG2</text>
<text x="485.06" y="860.6" font-size="6.5" stroke="#111" stroke-width="0.06" text-anchor="end" transform="rotate(-89.75 485.06 860.6)" fill="#111">MERTK</text>
<text x="496.92" y="860.6" font-size="6.5" stroke="#111" stroke-width="0.06" text-anchor="end" transform="rotate(-89.75 496.92 860.6)" fill="#111">DMXL2</text>
<text x="508.78" y="860.6" font-size="6.5" stroke="#111" stroke-width="0.06" text-anchor="end" transform="rotate(-89.75 508.78 860.6)" fill="#111">CLEC5A</text>
<text x="520.64" y="860.6" font-size="6.5" stroke="#111" stroke-width="0.06" text-anchor="end" transform="rotate(-89.75 520.64 860.6)" fill="#111">FCER1A</text>
<text x="532.5" y="860.6" font-size="6.5" stroke="#111" stroke-width="0.06" text-anchor="end" transform="rotate(-89.75 532.5 860.6)" fill="#111">FCGBP</text>
<text x="544.35" y="860.6" font-size="6.5" stroke="#111" stroke-width="0.06" text-anchor="end" transform="rotate(-89.75 544.35 860.6)" fill="#111">PHACTR1</text>
<text x="556.21" y="860.6" font-size="6.5" stroke="#111" stroke-width="0.06" text-anchor="end" transform="rotate(-89.75 556.21 860.6)" fill="#111">SPP1</text>
<text x="563" y="821.97" font-size="5.7" stroke="#111" stroke-width="0.06" transform="rotate(0.25 563 821.97)" fill="#111">TCGA_Melanoma</text>
<text x="563" y="829.91" font-size="5.7" stroke="#111" stroke-width="0.06" transform="rotate(0.25 563 829.91)" fill="#111">TCGA_Endometrial</text>
<text x="563" y="837.85" font-size="5.7" stroke="#111" stroke-width="0.06" transform="rotate(0.25 563 837.85)" fill="#111">METABRIC</text>
<text x="563" y="845.79" font-size="5.7" stroke="#111" stroke-width="0.06" transform="rotate(0.25 563 845.79)" fill="#111">GSE12417_GPL570</text>
<text x="563" y="853.73" font-size="5.7" stroke="#111" stroke-width="0.06" transform="rotate(0.25 563 853.73)" fill="#111">E_MTAB_179</text>
<text x="623.7" y="819.7" font-size="6" stroke="#111" stroke-width="0.06" transform="rotate(0.25 623.7 819.7)" fill="#111">Pearson’s r</text>
<rect x="624.8" y="821.95" width="7.4" height="4.19" fill="#b5272f"/>
<rect x="624.8" y="826.04" width="7.4" height="4.19" fill="#c2494f"/>
<rect x="624.8" y="830.13" width="7.4" height="4.19" fill="#cc7177"/>
<rect x="624.8" y="834.22" width="7.4" height="4.19" fill="#dfa9a8"/>
<rect x="624.8" y="838.31" width="7.4" height="4.19" fill="#edd0cd"/>
<rect x="624.8" y="842.4" width="7.4" height="4.19" fill="#f2f1ed"/>
<rect x="624.8" y="846.49" width="7.4" height="4.19" fill="#c8dae6"/>
<rect x="624.8" y="850.58" width="7.4" height="4.19" fill="#a5c0d2"/>
<rect x="624.8" y="854.67" width="7.4" height="4.19" fill="#6d9ab6"/>
<rect x="624.8" y="858.76" width="7.4" height="4.19" fill="#4a7ea2"/>
<text x="634.8" y="824.05" font-size="4.4" stroke="#111" stroke-width="0.15" transform="rotate(0.25 634.8 824.05)" fill="#111">1</text>
<text x="634.8" y="828.35" font-size="4.4" stroke="#111" stroke-width="0.15" transform="rotate(0.25 634.8 828.35)" fill="#111">0.8</text>
<text x="634.8" y="832.95" font-size="4.4" stroke="#111" stroke-width="0.15" transform="rotate(0.25 634.8 832.95)" fill="#111">0.6</text>
<text x="634.8" y="837.45" font-size="4.4" stroke="#111" stroke-width="0.15" transform="rotate(0.25 634.8 837.45)" fill="#111">0.4</text>
<text x="634.8" y="842.05" font-size="4.4" stroke="#111" stroke-width="0.15" transform="rotate(0.25 634.8 842.05)" fill="#111">0.2</text>
<text x="634.8" y="846.55" font-size="4.4" stroke="#111" stroke-width="0.15" transform="rotate(0.25 634.8 846.55)" fill="#111">0</text>
<text x="634.8" y="851.15" font-size="4.4" stroke="#111" stroke-width="0.15" transform="rotate(0.25 634.8 851.15)" fill="#111">−0.2</text>
<text x="634.8" y="855.55" font-size="4.4" stroke="#111" stroke-width="0.15" transform="rotate(0.25 634.8 855.55)" fill="#111">−0.4</text>
<text x="634.8" y="859.85" font-size="4.4" stroke="#111" stroke-width="0.15" transform="rotate(0.25 634.8 859.85)" fill="#111">−0.6</text>
<text x="634.8" y="863.45" font-size="4.4" stroke="#111" stroke-width="0.15" transform="rotate(0.25 634.8 863.45)" fill="#111">−0.8</text>
<text x="9.1" y="897.1" font-size="9.5" transform="rotate(0.25 9.1 897.1)">M</text>
<rect x="25.3" y="901" width="11.86" height="7.94" fill="#7eb08a"/>
<rect x="25.3" y="908.94" width="11.86" height="7.94" fill="#68967f"/>
<rect x="25.3" y="916.88" width="11.86" height="7.94" fill="#68967f"/>
<rect x="25.3" y="924.82" width="11.86" height="7.94" fill="#68967f"/>
<rect x="25.3" y="932.76" width="11.86" height="7.94" fill="#45626e"/>
<rect x="37.16" y="901" width="11.86" height="7.94" fill="#3b4f62"/>
<rect x="37.16" y="908.94" width="11.86" height="7.94" fill="#7eb08a"/>
<rect x="37.16" y="916.88" width="11.86" height="7.94" fill="#537c7b"/>
<rect x="37.16" y="924.82" width="11.86" height="7.94" fill="#68967f"/>
<rect x="37.16" y="932.76" width="11.86" height="7.94" fill="#7eb08a"/>
<rect x="49.02" y="901" width="11.86" height="7.94" fill="#45626e"/>
<rect x="49.02" y="908.94" width="11.86" height="7.94" fill="#7eb08a"/>
<rect x="49.02" y="916.88" width="11.86" height="7.94" fill="#537c7b"/>
<rect x="49.02" y="924.82" width="11.86" height="7.94" fill="#45626e"/>
<rect x="49.02" y="932.76" width="11.86" height="7.94" fill="#45626e"/>
<rect x="60.87" y="901" width="11.86" height="7.94" fill="#3b4f62"/>
<rect x="60.87" y="908.94" width="11.86" height="7.94" fill="#537c7b"/>
<rect x="60.87" y="916.88" width="11.86" height="7.94" fill="#537c7b"/>
<rect x="60.87" y="924.82" width="11.86" height="7.94" fill="#a2c890"/>
<rect x="60.87" y="932.76" width="11.86" height="7.94" fill="#3b4f62"/>
<rect x="72.73" y="901" width="11.86" height="7.94" fill="#3b4f62"/>
<rect x="72.73" y="908.94" width="11.86" height="7.94" fill="#7eb08a"/>
<rect x="72.73" y="916.88" width="11.86" height="7.94" fill="#537c7b"/>
<rect x="72.73" y="924.82" width="11.86" height="7.94" fill="#68967f"/>
<rect x="72.73" y="932.76" width="11.86" height="7.94" fill="#68967f"/>
<rect x="84.59" y="901" width="11.86" height="7.94" fill="#3b4f62"/>
<rect x="84.59" y="908.94" width="11.86" height="7.94" fill="#537c7b"/>
<rect x="84.59" y="916.88" width="11.86" height="7.94" fill="#45626e"/>
<rect x="84.59" y="924.82" width="11.86" height="7.94" fill="#c9d993"/>
<rect x="84.59" y="932.76" width="11.86" height="7.94" fill="#3b4f62"/>
<rect x="96.45" y="901" width="11.86" height="7.94" fill="#3b4f62"/>
<rect x="96.45" y="908.94" width="11.86" height="7.94" fill="#68967f"/>
<rect x="96.45" y="916.88" width="11.86" height="7.94" fill="#537c7b"/>
<rect x="96.45" y="924.82" width="11.86" height="7.94" fill="#c9d993"/>
<rect x="96.45" y="932.76" width="11.86" height="7.94" fill="#3b4f62"/>
<rect x="108.3" y="901" width="11.86" height="7.94" fill="#3b4f62"/>
<rect x="108.3" y="908.94" width="11.86" height="7.94" fill="#7eb08a"/>
<rect x="108.3" y="916.88" width="11.86" height="7.94" fill="#537c7b"/>
<rect x="108.3" y="924.82" width="11.86" height="7.94" fill="#a2c890"/>
<rect x="108.3" y="932.76" width="11.86" height="7.94" fill="#68967f"/>
<rect x="120.16" y="901" width="11.86" height="7.94" fill="#3b4f62"/>
<rect x="120.16" y="908.94" width="11.86" height="7.94" fill="#68967f"/>
<rect x="120.16" y="916.88" width="11.86" height="7.94" fill="#45626e"/>
<rect x="120.16" y="924.82" width="11.86" height="7.94" fill="#c9d993"/>
<rect x="120.16" y="932.76" width="11.86" height="7.94" fill="#68967f"/>
<rect x="132.02" y="901" width="11.86" height="7.94" fill="#3b4f62"/>
<rect x="132.02" y="908.94" width="11.86" height="7.94" fill="#45626e"/>
<rect x="132.02" y="916.88" width="11.86" height="7.94" fill="#3b4f62"/>
<rect x="132.02" y="924.82" width="11.86" height="7.94" fill="#c9d993"/>
<rect x="132.02" y="932.76" width="11.86" height="7.94" fill="#537c7b"/>
<rect x="143.88" y="901" width="11.86" height="7.94" fill="#3b4f62"/>
<rect x="143.88" y="908.94" width="11.86" height="7.94" fill="#537c7b"/>
<rect x="143.88" y="916.88" width="11.86" height="7.94" fill="#537c7b"/>
<rect x="143.88" y="924.82" width="11.86" height="7.94" fill="#68967f"/>
<rect x="143.88" y="932.76" width="11.86" height="7.94" fill="#3b4f62"/>
<rect x="155.74" y="901" width="11.86" height="7.94" fill="#68967f"/>
<rect x="155.74" y="908.94" width="11.86" height="7.94" fill="#a2c890"/>
<rect x="155.74" y="916.88" width="11.86" height="7.94" fill="#68967f"/>
<rect x="155.74" y="924.82" width="11.86" height="7.94" fill="#a2c890"/>
<rect x="155.74" y="932.76" width="11.86" height="7.94" fill="#3b4f62"/>
<rect x="167.59" y="901" width="11.86" height="7.94" fill="#3b4f62"/>
<rect x="167.59" y="908.94" width="11.86" height="7.94" fill="#68967f"/>
<rect x="167.59" y="916.88" width="11.86" height="7.94" fill="#3b4f62"/>
<rect x="167.59" y="924.82" width="11.86" height="7.94" fill="#a2c890"/>
<rect x="167.59" y="932.76" width="11.86" height="7.94" fill="#7eb08a"/>
<rect x="179.45" y="901" width="11.86" height="7.94" fill="#3b4f62"/>
<rect x="179.45" y="908.94" width="11.86" height="7.94" fill="#7eb08a"/>
<rect x="179.45" y="916.88" width="11.86" height="7.94" fill="#c9d993"/>
<rect x="179.45" y="924.82" width="11.86" height="7.94" fill="#7eb08a"/>
<rect x="179.45" y="932.76" width="11.86" height="7.94" fill="#d6d6d3"/>
<rect x="191.31" y="901" width="11.86" height="7.94" fill="#7eb08a"/>
<rect x="191.31" y="908.94" width="11.86" height="7.94" fill="#45626e"/>
<rect x="191.31" y="916.88" width="11.86" height="7.94" fill="#68967f"/>
<rect x="191.31" y="924.82" width="11.86" height="7.94" fill="#a2c890"/>
<rect x="191.31" y="932.76" width="11.86" height="7.94" fill="#7eb08a"/>
<rect x="203.17" y="901" width="11.86" height="7.94" fill="#537c7b"/>
<rect x="203.17" y="908.94" width="11.86" height="7.94" fill="#537c7b"/>
<rect x="203.17" y="916.88" width="11.86" height="7.94" fill="#68967f"/>
<rect x="203.17" y="924.82" width="11.86" height="7.94" fill="#a2c890"/>
<rect x="203.17" y="932.76" width="11.86" height="7.94" fill="#537c7b"/>
<rect x="215.02" y="901" width="11.86" height="7.94" fill="#45626e"/>
<rect x="215.02" y="908.94" width="11.86" height="7.94" fill="#68967f"/>
<rect x="215.02" y="916.88" width="11.86" height="7.94" fill="#45626e"/>
<rect x="215.02" y="924.82" width="11.86" height="7.94" fill="#68967f"/>
<rect x="215.02" y="932.76" width="11.86" height="7.94" fill="#68967f"/>
<rect x="226.88" y="901" width="11.86" height="7.94" fill="#45626e"/>
<rect x="226.88" y="908.94" width="11.86" height="7.94" fill="#a2c890"/>
<rect x="226.88" y="916.88" width="11.86" height="7.94" fill="#537c7b"/>
<rect x="226.88" y="924.82" width="11.86" height="7.94" fill="#537c7b"/>
<rect x="226.88" y="932.76" width="11.86" height="7.94" fill="#a2c890"/>
<rect x="238.74" y="901" width="11.86" height="7.94" fill="#7eb08a"/>
<rect x="238.74" y="908.94" width="11.86" height="7.94" fill="#68967f"/>
<rect x="238.74" y="916.88" width="11.86" height="7.94" fill="#45626e"/>
<rect x="238.74" y="924.82" width="11.86" height="7.94" fill="#68967f"/>
<rect x="238.74" y="932.76" width="11.86" height="7.94" fill="#68967f"/>
<rect x="250.6" y="901" width="11.86" height="7.94" fill="#68967f"/>
<rect x="250.6" y="908.94" width="11.86" height="7.94" fill="#c9d993"/>
<rect x="250.6" y="916.88" width="11.86" height="7.94" fill="#c9d993"/>
<rect x="250.6" y="924.82" width="11.86" height="7.94" fill="#e9e18f"/>
<rect x="250.6" y="932.76" width="11.86" height="7.94" fill="#e9e18f"/>
<rect x="262.46" y="901" width="11.86" height="7.94" fill="#68967f"/>
<rect x="262.46" y="908.94" width="11.86" height="7.94" fill="#68967f"/>
<rect x="262.46" y="916.88" width="11.86" height="7.94" fill="#68967f"/>
<rect x="262.46" y="924.82" width="11.86" height="7.94" fill="#7eb08a"/>
<rect x="262.46" y="932.76" width="11.86" height="7.94" fill="#537c7b"/>
<rect x="274.31" y="901" width="11.86" height="7.94" fill="#68967f"/>
<rect x="274.31" y="908.94" width="11.86" height="7.94" fill="#68967f"/>
<rect x="274.31" y="916.88" width="11.86" height="7.94" fill="#45626e"/>
<rect x="274.31" y="924.82" width="11.86" height="7.94" fill="#a2c890"/>
<rect x="274.31" y="932.76" width="11.86" height="7.94" fill="#68967f"/>
<rect x="286.17" y="901" width="11.86" height="7.94" fill="#a2c890"/>
<rect x="286.17" y="908.94" width="11.86" height="7.94" fill="#68967f"/>
<rect x="286.17" y="916.88" width="11.86" height="7.94" fill="#68967f"/>
<rect x="286.17" y="924.82" width="11.86" height="7.94" fill="#7eb08a"/>
<rect x="286.17" y="932.76" width="11.86" height="7.94" fill="#68967f"/>
<rect x="298.03" y="901" width="11.86" height="7.94" fill="#3b4f62"/>
<rect x="298.03" y="908.94" width="11.86" height="7.94" fill="#537c7b"/>
<rect x="298.03" y="916.88" width="11.86" height="7.94" fill="#68967f"/>
<rect x="298.03" y="924.82" width="11.86" height="7.94" fill="#68967f"/>
<rect x="298.03" y="932.76" width="11.86" height="7.94" fill="#45626e"/>
<rect x="309.89" y="901" width="11.86" height="7.94" fill="#7eb08a"/>
<rect x="309.89" y="908.94" width="11.86" height="7.94" fill="#68967f"/>
<rect x="309.89" y="916.88" width="11.86" height="7.94" fill="#3b4f62"/>
<rect x="309.89" y="924.82" width="11.86" height="7.94" fill="#c9d993"/>
<rect x="309.89" y="932.76" width="11.86" height="7.94" fill="#45626e"/>
<rect x="321.74" y="901" width="11.86" height="7.94" fill="#68967f"/>
<rect x="321.74" y="908.94" width="11.86" height="7.94" fill="#68967f"/>
<rect x="321.74" y="916.88" width="11.86" height="7.94" fill="#537c7b"/>
<rect x="321.74" y="924.82" width="11.86" height="7.94" fill="#c9d993"/>
<rect x="321.74" y="932.76" width="11.86" height="7.94" fill="#a2c890"/>
<rect x="333.6" y="901" width="11.86" height="7.94" fill="#3b4f62"/>
<rect x="333.6" y="908.94" width="11.86" height="7.94" fill="#7eb08a"/>
<rect x="333.6" y="916.88" width="11.86" height="7.94" fill="#3b4f62"/>
<rect x="333.6" y="924.82" width="11.86" height="7.94" fill="#a2c890"/>
<rect x="333.6" y="932.76" width="11.86" height="7.94" fill="#68967f"/>
<rect x="345.46" y="901" width="11.86" height="7.94" fill="#7eb08a"/>
<rect x="345.46" y="908.94" width="11.86" height="7.94" fill="#7eb08a"/>
<rect x="345.46" y="916.88" width="11.86" height="7.94" fill="#7eb08a"/>
<rect x="345.46" y="924.82" width="11.86" height="7.94" fill="#a2c890"/>
<rect x="345.46" y="932.76" width="11.86" height="7.94" fill="#7eb08a"/>
<rect x="357.32" y="901" width="11.86" height="7.94" fill="#68967f"/>
<rect x="357.32" y="908.94" width="11.86" height="7.94" fill="#3b4f62"/>
<rect x="357.32" y="916.88" width="11.86" height="7.94" fill="#537c7b"/>
<rect x="357.32" y="924.82" width="11.86" height="7.94" fill="#c9d993"/>
<rect x="357.32" y="932.76" width="11.86" height="7.94" fill="#537c7b"/>
<rect x="369.18" y="901" width="11.86" height="7.94" fill="#68967f"/>
<rect x="369.18" y="908.94" width="11.86" height="7.94" fill="#45626e"/>
<rect x="369.18" y="916.88" width="11.86" height="7.94" fill="#537c7b"/>
<rect x="369.18" y="924.82" width="11.86" height="7.94" fill="#c9d993"/>
<rect x="369.18" y="932.76" width="11.86" height="7.94" fill="#537c7b"/>
<rect x="381.03" y="901" width="11.86" height="7.94" fill="#68967f"/>
<rect x="381.03" y="908.94" width="11.86" height="7.94" fill="#3b4f62"/>
<rect x="381.03" y="916.88" width="11.86" height="7.94" fill="#45626e"/>
<rect x="381.03" y="924.82" width="11.86" height="7.94" fill="#a2c890"/>
<rect x="381.03" y="932.76" width="11.86" height="7.94" fill="#68967f"/>
<rect x="392.89" y="901" width="11.86" height="7.94" fill="#68967f"/>
<rect x="392.89" y="908.94" width="11.86" height="7.94" fill="#3b4f62"/>
<rect x="392.89" y="916.88" width="11.86" height="7.94" fill="#68967f"/>
<rect x="392.89" y="924.82" width="11.86" height="7.94" fill="#7eb08a"/>
<rect x="392.89" y="932.76" width="11.86" height="7.94" fill="#68967f"/>
<rect x="404.75" y="901" width="11.86" height="7.94" fill="#3b4f62"/>
<rect x="404.75" y="908.94" width="11.86" height="7.94" fill="#c9d993"/>
<rect x="404.75" y="916.88" width="11.86" height="7.94" fill="#d6d6d3"/>
<rect x="404.75" y="924.82" width="11.86" height="7.94" fill="#68967f"/>
<rect x="404.75" y="932.76" width="11.86" height="7.94" fill="#7eb08a"/>
<rect x="416.61" y="901" width="11.86" height="7.94" fill="#68967f"/>
<rect x="416.61" y="908.94" width="11.86" height="7.94" fill="#68967f"/>
<rect x="416.61" y="916.88" width="11.86" height="7.94" fill="#68967f"/>
<rect x="416.61" y="924.82" width="11.86" height="7.94" fill="#68967f"/>
<rect x="416.61" y="932.76" width="11.86" height="7.94" fill="#68967f"/>
<rect x="428.46" y="901" width="11.86" height="7.94" fill="#7eb08a"/>
<rect x="428.46" y="908.94" width="11.86" height="7.94" fill="#7eb08a"/>
<rect x="428.46" y="916.88" width="11.86" height="7.94" fill="#7eb08a"/>
<rect x="428.46" y="924.82" width="11.86" height="7.94" fill="#c9d993"/>
<rect x="428.46" y="932.76" width="11.86" height="7.94" fill="#68967f"/>
<rect x="440.32" y="901" width="11.86" height="7.94" fill="#7eb08a"/>
<rect x="440.32" y="908.94" width="11.86" height="7.94" fill="#7eb08a"/>
<rect x="440.32" y="916.88" width="11.86" height="7.94" fill="#68967f"/>
<rect x="440.32" y="924.82" width="11.86" height="7.94" fill="#45626e"/>
<rect x="440.32" y="932.76" width="11.86" height="7.94" fill="#7eb08a"/>
<rect x="452.18" y="901" width="11.86" height="7.94" fill="#45626e"/>
<rect x="452.18" y="908.94" width="11.86" height="7.94" fill="#3b4f62"/>
<rect x="452.18" y="916.88" width="11.86" height="7.94" fill="#a2c890"/>
<rect x="452.18" y="924.82" width="11.86" height="7.94" fill="#a2c890"/>
<rect x="452.18" y="932.76" width="11.86" height="7.94" fill="#537c7b"/>
<rect x="464.04" y="901" width="11.86" height="7.94" fill="#7eb08a"/>
<rect x="464.04" y="908.94" width="11.86" height="7.94" fill="#68967f"/>
<rect x="464.04" y="916.88" width="11.86" height="7.94" fill="#a2c890"/>
<rect x="464.04" y="924.82" width="11.86" height="7.94" fill="#c9d993"/>
<rect x="464.04" y="932.76" width="11.86" height="7.94" fill="#3b4f62"/>
<rect x="475.9" y="901" width="11.86" height="7.94" fill="#a2c890"/>
<rect x="475.9" y="908.94" width="11.86" height="7.94" fill="#7eb08a"/>
<rect x="475.9" y="916.88" width="11.86" height="7.94" fill="#537c7b"/>
<rect x="475.9" y="924.82" width="11.86" height="7.94" fill="#c9d993"/>
<rect x="475.9" y="932.76" width="11.86" height="7.94" fill="#68967f"/>
<rect x="487.75" y="901" width="11.86" height="7.94" fill="#7eb08a"/>
<rect x="487.75" y="908.94" width="11.86" height="7.94" fill="#68967f"/>
<rect x="487.75" y="916.88" width="11.86" height="7.94" fill="#3b4f62"/>
<rect x="487.75" y="924.82" width="11.86" height="7.94" fill="#c9d993"/>
<rect x="487.75" y="932.76" width="11.86" height="7.94" fill="#c9d993"/>
<rect x="499.61" y="901" width="11.86" height="7.94" fill="#68967f"/>
<rect x="499.61" y="908.94" width="11.86" height="7.94" fill="#3b4f62"/>
<rect x="499.61" y="916.88" width="11.86" height="7.94" fill="#68967f"/>
<rect x="499.61" y="924.82" width="11.86" height="7.94" fill="#c9d993"/>
<rect x="499.61" y="932.76" width="11.86" height="7.94" fill="#7eb08a"/>
<rect x="511.47" y="901" width="11.86" height="7.94" fill="#68967f"/>
<rect x="511.47" y="908.94" width="11.86" height="7.94" fill="#68967f"/>
<rect x="511.47" y="916.88" width="11.86" height="7.94" fill="#7eb08a"/>
<rect x="511.47" y="924.82" width="11.86" height="7.94" fill="#68967f"/>
<rect x="511.47" y="932.76" width="11.86" height="7.94" fill="#537c7b"/>
<rect x="523.33" y="901" width="11.86" height="7.94" fill="#68967f"/>
<rect x="523.33" y="908.94" width="11.86" height="7.94" fill="#7eb08a"/>
<rect x="523.33" y="916.88" width="11.86" height="7.94" fill="#a2c890"/>
<rect x="523.33" y="924.82" width="11.86" height="7.94" fill="#7eb08a"/>
<rect x="523.33" y="932.76" width="11.86" height="7.94" fill="#537c7b"/>
<rect x="535.18" y="901" width="11.86" height="7.94" fill="#a2c890"/>
<rect x="535.18" y="908.94" width="11.86" height="7.94" fill="#c9d993"/>
<rect x="535.18" y="916.88" width="11.86" height="7.94" fill="#537c7b"/>
<rect x="535.18" y="924.82" width="11.86" height="7.94" fill="#7eb08a"/>
<rect x="535.18" y="932.76" width="11.86" height="7.94" fill="#45626e"/>
<rect x="547.04" y="901" width="11.86" height="7.94" fill="#68967f"/>
<rect x="547.04" y="908.94" width="11.86" height="7.94" fill="#68967f"/>
<rect x="547.04" y="916.88" width="11.86" height="7.94" fill="#68967f"/>
<rect x="547.04" y="924.82" width="11.86" height="7.94" fill="#c9d993"/>
<rect x="547.04" y="932.76" width="11.86" height="7.94" fill="#68967f"/>
<path d="M25.3 901V940.7M37.16 901V940.7M49.02 901V940.7M60.87 901V940.7M72.73 901V940.7M84.59 901V940.7M96.45 901V940.7M108.3 901V940.7M120.16 901V940.7M132.02 901V940.7M143.88 901V940.7M155.74 901V940.7M167.59 901V940.7M179.45 901V940.7M191.31 901V940.7M203.17 901V940.7M215.02 901V940.7M226.88 901V940.7M238.74 901V940.7M250.6 901V940.7M262.46 901V940.7M274.31 901V940.7M286.17 901V940.7M298.03 901V940.7M309.89 901V940.7M321.74 901V940.7M333.6 901V940.7M345.46 901V940.7M357.32 901V940.7M369.18 901V940.7M381.03 901V940.7M392.89 901V940.7M404.75 901V940.7M416.61 901V940.7M428.46 901V940.7M440.32 901V940.7M452.18 901V940.7M464.04 901V940.7M475.9 901V940.7M487.75 901V940.7M499.61 901V940.7M511.47 901V940.7M523.33 901V940.7M535.18 901V940.7M547.04 901V940.7M558.9 901V940.7M25.3 901H558.9M25.3 908.94H558.9M25.3 916.88H558.9M25.3 924.82H558.9M25.3 932.76H558.9M25.3 940.7H558.9" stroke="#141414" stroke-width="0.7" fill="none"/>
<text x="34.47" y="945.6" font-size="6.5" stroke="#111" stroke-width="0.06" text-anchor="end" transform="rotate(-89.75 34.47 945.6)" fill="#111">KCNMA1</text>
<text x="46.33" y="945.6" font-size="6.5" stroke="#111" stroke-width="0.06" text-anchor="end" transform="rotate(-89.75 46.33 945.6)" fill="#111">SIGLEC1</text>
<text x="58.18" y="945.6" font-size="6.5" stroke="#111" stroke-width="0.06" text-anchor="end" transform="rotate(-89.75 58.18 945.6)" fill="#111">FOLR2</text>
<text x="70.04" y="945.6" font-size="6.5" stroke="#111" stroke-width="0.06" text-anchor="end" transform="rotate(-89.75 70.04 945.6)" fill="#111">MPEG1</text>
<text x="81.9" y="945.6" font-size="6.5" stroke="#111" stroke-width="0.06" text-anchor="end" transform="rotate(-89.75 81.9 945.6)" fill="#111">FPR3</text>
<text x="93.76" y="945.6" font-size="6.5" stroke="#111" stroke-width="0.06" text-anchor="end" transform="rotate(-89.75 93.76 945.6)" fill="#111">P2RY13</text>
<text x="105.62" y="945.6" font-size="6.5" stroke="#111" stroke-width="0.06" text-anchor="end" transform="rotate(-89.75 105.62 945.6)" fill="#111">AOAH</text>
<text x="117.47" y="945.6" font-size="6.5" stroke="#111" stroke-width="0.06" text-anchor="end" transform="rotate(-89.75 117.47 945.6)" fill="#111">MS4A4A</text>
<text x="129.33" y="945.6" font-size="6.5" stroke="#111" stroke-width="0.06" text-anchor="end" transform="rotate(-89.75 129.33 945.6)" fill="#111">ALOX5</text>
<text x="141.19" y="945.6" font-size="6.5" stroke="#111" stroke-width="0.06" text-anchor="end" transform="rotate(-89.75 141.19 945.6)" fill="#111">LAT2</text>
<text x="153.05" y="945.6" font-size="6.5" stroke="#111" stroke-width="0.06" text-anchor="end" transform="rotate(-89.75 153.05 945.6)" fill="#111">SLAMF8</text>
<text x="164.9" y="945.6" font-size="6.5" stroke="#111" stroke-width="0.06" text-anchor="end" transform="rotate(-89.75 164.9 945.6)" fill="#111">CEBPA</text>
<text x="176.76" y="945.6" font-size="6.5" stroke="#111" stroke-width="0.06" text-anchor="end" transform="rotate(-89.75 176.76 945.6)" fill="#111">LILRB2</text>
<text x="188.62" y="945.6" font-size="6.5" stroke="#111" stroke-width="0.06" text-anchor="end" transform="rotate(-89.75 188.62 945.6)" fill="#111">HLA−DQB2</text>
<text x="200.48" y="945.6" font-size="6.5" stroke="#111" stroke-width="0.06" text-anchor="end" transform="rotate(-89.75 200.48 945.6)" fill="#111">OLR1</text>
<text x="212.34" y="945.6" font-size="6.5" stroke="#111" stroke-width="0.06" text-anchor="end" transform="rotate(-89.75 212.34 945.6)" fill="#111">PLD4</text>
<text x="224.59" y="945.6" font-size="7.6" stroke="#111" stroke-width="0.06" text-anchor="end" transform="rotate(-89.75 224.59 945.6)" fill="#111">C2</text>
<text x="236.05" y="945.6" font-size="6.5" stroke="#111" stroke-width="0.06" text-anchor="end" transform="rotate(-89.75 236.05 945.6)" fill="#111">OLFML3</text>
<text x="247.91" y="945.6" font-size="6.5" stroke="#111" stroke-width="0.06" text-anchor="end" transform="rotate(-89.75 247.91 945.6)" fill="#111">NPL</text>
<text x="259.77" y="945.6" font-size="6.5" stroke="#111" stroke-width="0.06" text-anchor="end" transform="rotate(-89.75 259.77 945.6)" fill="#111">B3GNT5</text>
<text x="271.62" y="945.6" font-size="6.5" stroke="#111" stroke-width="0.06" text-anchor="end" transform="rotate(-89.75 271.62 945.6)" fill="#111">PLA2G7</text>
<text x="283.48" y="945.6" font-size="6.5" stroke="#111" stroke-width="0.06" text-anchor="end" transform="rotate(-89.75 283.48 945.6)" fill="#111">GAPT</text>
<text x="295.34" y="945.6" font-size="6.5" stroke="#111" stroke-width="0.06" text-anchor="end" transform="rotate(-89.75 295.34 945.6)" fill="#111">IL1B</text>
<text x="307.2" y="945.6" font-size="6.5" stroke="#111" stroke-width="0.06" text-anchor="end" transform="rotate(-89.75 307.2 945.6)" fill="#111">IL4I1</text>
<text x="319.06" y="945.6" font-size="6.5" stroke="#111" stroke-width="0.06" text-anchor="end" transform="rotate(-89.75 319.06 945.6)" fill="#111">GM2A</text>
<text x="330.91" y="945.6" font-size="6.5" stroke="#111" stroke-width="0.06" text-anchor="end" transform="rotate(-89.75 330.91 945.6)" fill="#111">ARHGAP24</text>
<text x="342.77" y="945.6" font-size="6.5" stroke="#111" stroke-width="0.06" text-anchor="end" transform="rotate(-89.75 342.77 945.6)" fill="#111">TM6SF1</text>
<text x="354.63" y="945.6" font-size="6.5" stroke="#111" stroke-width="0.06" text-anchor="end" transform="rotate(-89.75 354.63 945.6)" fill="#111">S100A9</text>
<text x="366.49" y="945.6" font-size="6.5" stroke="#111" stroke-width="0.06" text-anchor="end" transform="rotate(-89.75 366.49 945.6)" fill="#111">CIITA</text>
<text x="378.34" y="945.6" font-size="6.5" stroke="#111" stroke-width="0.06" text-anchor="end" transform="rotate(-89.75 378.34 945.6)" fill="#111">STAB1</text>
<text x="390.2" y="945.6" font-size="6.5" stroke="#111" stroke-width="0.06" text-anchor="end" transform="rotate(-89.75 390.2 945.6)" fill="#111">MNDA</text>
<text x="402.06" y="945.6" font-size="6.5" stroke="#111" stroke-width="0.06" text-anchor="end" transform="rotate(-89.75 402.06 945.6)" fill="#111">TRPM4</text>
<text x="413.92" y="945.6" font-size="6.5" stroke="#111" stroke-width="0.06" text-anchor="end" transform="rotate(-89.75 413.92 945.6)" fill="#111">C15orf48</text>
<text x="425.78" y="945.6" font-size="6.5" stroke="#111" stroke-width="0.06" text-anchor="end" transform="rotate(-89.75 425.78 945.6)" fill="#111">CX3CR1</text>
<text x="437.63" y="945.6" font-size="6.5" stroke="#111" stroke-width="0.06" text-anchor="end" transform="rotate(-89.75 437.63 945.6)" fill="#111">S100A8</text>
<text x="449.49" y="945.6" font-size="6.5" stroke="#111" stroke-width="0.06" text-anchor="end" transform="rotate(-89.75 449.49 945.6)" fill="#111">RNASE1</text>
<text x="461.35" y="945.6" font-size="6.5" stroke="#111" stroke-width="0.06" text-anchor="end" transform="rotate(-89.75 461.35 945.6)" fill="#111">HPGDS</text>
<text x="473.21" y="945.6" font-size="6.5" stroke="#111" stroke-width="0.06" text-anchor="end" transform="rotate(-89.75 473.21 945.6)" fill="#111">NDRG2</text>
<text x="485.06" y="945.6" font-size="6.5" stroke="#111" stroke-width="0.06" text-anchor="end" transform="rotate(-89.75 485.06 945.6)" fill="#111">MERTK</text>
<text x="496.92" y="945.6" font-size="6.5" stroke="#111" stroke-width="0.06" text-anchor="end" transform="rotate(-89.75 496.92 945.6)" fill="#111">DMXL2</text>
<text x="508.78" y="945.6" font-size="6.5" stroke="#111" stroke-width="0.06" text-anchor="end" transform="rotate(-89.75 508.78 945.6)" fill="#111">CLEC5A</text>
<text x="520.64" y="945.6" font-size="6.5" stroke="#111" stroke-width="0.06" text-anchor="end" transform="rotate(-89.75 520.64 945.6)" fill="#111">FCER1A</text>
<text x="532.5" y="945.6" font-size="6.5" stroke="#111" stroke-width="0.06" text-anchor="end" transform="rotate(-89.75 532.5 945.6)" fill="#111">FCGBP</text>
<text x="544.35" y="945.6" font-size="6.5" stroke="#111" stroke-width="0.06" text-anchor="end" transform="rotate(-89.75 544.35 945.6)" fill="#111">PHACTR1</text>
<text x="556.21" y="945.6" font-size="6.5" stroke="#111" stroke-width="0.06" text-anchor="end" transform="rotate(-89.75 556.21 945.6)" fill="#111">SPP1</text>
<text x="563" y="906.97" font-size="5.7" stroke="#111" stroke-width="0.06" transform="rotate(0.25 563 906.97)" fill="#111">TCGA_Melanoma</text>
<text x="563" y="914.91" font-size="5.7" stroke="#111" stroke-width="0.06" transform="rotate(0.25 563 914.91)" fill="#111">TCGA_Endometrial</text>
<text x="563" y="922.85" font-size="5.7" stroke="#111" stroke-width="0.06" transform="rotate(0.25 563 922.85)" fill="#111">METABRIC</text>
<text x="563" y="930.79" font-size="5.7" stroke="#111" stroke-width="0.06" transform="rotate(0.25 563 930.79)" fill="#111">GSE12417_GPL570</text>
<text x="563" y="938.73" font-size="5.7" stroke="#111" stroke-width="0.06" transform="rotate(0.25 563 938.73)" fill="#111">E_MTAB_179</text>
<text x="625.2" y="898" font-size="6" stroke="#111" stroke-width="0.06" transform="rotate(0.25 625.2 898)" fill="#111">Survival risk score</text>
<rect x="624.8" y="903.6" width="7.4" height="39.3" fill="url(#gM)"/>
<text x="634.8" y="905.15" font-size="4.4" stroke="#111" stroke-width="0.15" transform="rotate(0.25 634.8 905.15)" fill="#111">3</text>
<text x="634.8" y="911.55" font-size="4.4" stroke="#111" stroke-width="0.15" transform="rotate(0.25 634.8 911.55)" fill="#111">2</text>
<text x="634.8" y="917.85" font-size="4.4" stroke="#111" stroke-width="0.15" transform="rotate(0.25 634.8 917.85)" fill="#111">1</text>
<text x="634.8" y="924.45" font-size="4.4" stroke="#111" stroke-width="0.15" transform="rotate(0.25 634.8 924.45)" fill="#111">0</text>
<text x="634.8" y="931.15" font-size="4.4" stroke="#111" stroke-width="0.15" transform="rotate(0.25 634.8 931.15)" fill="#111">−1</text>
<text x="634.8" y="937.45" font-size="4.4" stroke="#111" stroke-width="0.15" transform="rotate(0.25 634.8 937.45)" fill="#111">−2</text>
<text x="634.8" y="943.45" font-size="4.4" stroke="#111" stroke-width="0.15" transform="rotate(0.25 634.8 943.45)" fill="#111">−3</text>
<text x="7.8" y="458.6" font-size="9.2" transform="rotate(0.25 7.8 458.6)">F</text>
<text x="104.2" y="455.09" font-size="5.5" stroke="#111" stroke-width="0.2" transform="rotate(0.25 104.2 455.09)" fill="#111">Continuous z= 4.02 , p= 5.94e−05</text>
<path d="M31.39 467.6H44.69V467.6H44.69V477.14H58.25V477.14H58.25V482.16H63.28V482.16H63.28V487.18H67.8V487.18H67.8V492.21H92.91V492.21H92.91V497.73H108.47V497.73H108.47V509.03H117.51V509.03H117.51V519.83H147.39V519.83H147.39V541.67" stroke="#3852ac" stroke-width="0.8" fill="none" stroke-dasharray="3.9 2.3"/>
<path d="M31.39 467.6H37.16V467.6H37.16V472.62H40.18V472.62H40.18V482.66H43.19V482.66H43.19V491.45H47.71V491.45H47.71V497.73H51.47V497.73H51.47V504.51H58.25V504.51H58.25V512.04H64.53V512.04H64.53V527.11H83.61V527.11H83.61V534.64H100.44V534.64" stroke="#e23a3a" stroke-width="0.8" fill="none"/>
<path d="M75.68 492.21H77.48M76.58 491.31V493.11M95.77 497.73H97.57M96.67 496.83V498.63M104.56 497.73H106.36M105.46 496.83V498.63M106.57 497.73H108.37M107.47 496.83V498.63M130.17 519.83H131.97M131.07 518.93V520.73" stroke="#3852ac" stroke-width="0.55" fill="none"/>
<path d="M38.02 472.62H39.82M38.92 471.72V473.52M53.09 504.51H54.89M53.99 503.61V505.41M99.54 534.64H101.34M100.44 533.74V535.54" stroke="#e23a3a" stroke-width="0.55" fill="none"/>
<rect x="30.2" y="464.2" width="122.2" height="81.3" fill="none" stroke="#222" stroke-width="0.6"/>
<text x="83.61" y="462.27" font-size="5.1" stroke="#111" stroke-width="0.16" text-anchor="middle" transform="rotate(0.25 83.61 462.27)" fill="#111">KCNMA1 High</text>
<line x1="28.2" y1="467.6" x2="30.2" y2="467.6" stroke="#222" stroke-width="0.5"/>
<text x="24.7" y="467.6" font-size="5.6" stroke="#111" stroke-width="0.1" text-anchor="middle" transform="rotate(-89.75 24.7 467.6)" fill="#111">1.0</text>
<line x1="28.2" y1="482.66" x2="30.2" y2="482.66" stroke="#222" stroke-width="0.5"/>
<text x="24.7" y="482.66" font-size="5.6" stroke="#111" stroke-width="0.1" text-anchor="middle" transform="rotate(-89.75 24.7 482.66)" fill="#111">0.8</text>
<line x1="28.2" y1="497.73" x2="30.2" y2="497.73" stroke="#222" stroke-width="0.5"/>
<text x="24.7" y="497.73" font-size="5.6" stroke="#111" stroke-width="0.1" text-anchor="middle" transform="rotate(-89.75 24.7 497.73)" fill="#111">0.6</text>
<line x1="28.2" y1="512.29" x2="30.2" y2="512.29" stroke="#222" stroke-width="0.5"/>
<text x="24.7" y="512.29" font-size="5.6" stroke="#111" stroke-width="0.1" text-anchor="middle" transform="rotate(-89.75 24.7 512.29)" fill="#111">0.4</text>
<line x1="28.2" y1="527.36" x2="30.2" y2="527.36" stroke="#222" stroke-width="0.5"/>
<text x="24.7" y="527.36" font-size="5.6" stroke="#111" stroke-width="0.1" text-anchor="middle" transform="rotate(-89.75 24.7 527.36)" fill="#111">0.2</text>
<line x1="28.2" y1="542.42" x2="30.2" y2="542.42" stroke="#222" stroke-width="0.5"/>
<text x="24.7" y="542.42" font-size="5.6" stroke="#111" stroke-width="0.1" text-anchor="middle" transform="rotate(-89.75 24.7 542.42)" fill="#111">0.0</text>
<line x1="31.89" y1="545.5" x2="31.89" y2="547.5" stroke="#222" stroke-width="0.5"/>
<text x="31.89" y="552.9" font-size="5" stroke="#111" stroke-width="0.18" text-anchor="middle" transform="rotate(0.25 31.89 552.9)" fill="#111">0</text>
<line x1="57.75" y1="545.5" x2="57.75" y2="547.5" stroke="#222" stroke-width="0.5"/>
<text x="57.75" y="552.9" font-size="5" stroke="#111" stroke-width="0.18" text-anchor="middle" transform="rotate(0.25 57.75 552.9)" fill="#111">50</text>
<line x1="82.86" y1="545.5" x2="82.86" y2="547.5" stroke="#222" stroke-width="0.5"/>
<text x="82.86" y="552.9" font-size="5" stroke="#111" stroke-width="0.18" text-anchor="middle" transform="rotate(0.25 82.86 552.9)" fill="#111">100</text>
<line x1="108.47" y1="545.5" x2="108.47" y2="547.5" stroke="#222" stroke-width="0.5"/>
<text x="108.47" y="552.9" font-size="5" stroke="#111" stroke-width="0.18" text-anchor="middle" transform="rotate(0.25 108.47 552.9)" fill="#111">150</text>
<line x1="134.34" y1="545.5" x2="134.34" y2="547.5" stroke="#222" stroke-width="0.5"/>
<text x="134.34" y="552.9" font-size="5" stroke="#111" stroke-width="0.18" text-anchor="middle" transform="rotate(0.25 134.34 552.9)" fill="#111">200</text>
<text x="16.4" y="496.55" font-size="7.5" stroke="#111" stroke-width="0.08" text-anchor="middle" transform="rotate(-89.75 16.4 496.55)" fill="#111">Survival Fraction</text>
<text x="86.3" y="558.3" font-size="5.1" stroke="#111" stroke-width="0.16" text-anchor="middle" transform="rotate(0.25 86.3 558.3)" fill="#111">OS (month)</text>
<text x="43.94" y="535.09" font-size="5.1" stroke="#d83535" stroke-width="0.14" transform="rotate(0.25 43.94 535.09)" fill="#d83535">CTL Top (n=15)</text>
<text x="43.94" y="541.61" font-size="5.1" stroke="#3953a8" stroke-width="0.14" transform="rotate(0.25 43.94 541.61)" fill="#3953a8">CTL Bottom (n=15)</text>
<path d="M189.63 467.6H189.88V468.54H190.13V469.48H190.38V470.42H190.63V471.36H190.93V472.37H191.24V473.37H191.54V474.38H191.84V475.38H192.14V476.39H192.49V477.39H192.84V478.4H193.19V479.4H193.55V480.4H193.9V481.41H194.4V482.41H194.9V483.42H195.4V484.42H195.91V485.43H196.41V486.43H196.91V487.44H197.41V488.44H197.92V489.44H198.42V490.45H198.92V491.45H199.55V492.39H200.18V493.34H200.8V494.28H201.43V495.22H202.06V496.16H202.69V497.1H203.31V498.04H203.94V498.99H204.15V499.91H204.36V500.83H204.57V501.75H204.78V502.67H204.99V503.59H205.2V504.51H206.14V505.2H207.08V505.89H208.02V506.58H208.96V507.27H209.91V508.02H210.85V508.78H211.79V509.53H212.73V510.28H213.67V511.23H214.61V512.17H215.55V513.11H216.5V514.05H217.12V514.99H217.75V515.93H218.38V516.88H219.01V517.82H219.95V518.32H220.89V518.82H221.83V519.32H222.77V519.83H223.78V520.18H224.78V520.53H225.79V520.88H226.79V521.23H227.8V521.58H228.8V522.09H229.8V522.59H230.81V523.09H231.81V523.59H232.82V524.09H233.76V524.72H234.7V525.35H235.64V525.98H236.58V526.61H237.63V526.82H238.68V527.02H239.72V527.23H240.77V527.44H241.82V527.65H242.86V527.86H243.8V528.49H244.74V529.12H245.69V529.74H246.63V530.37H247.46V531.21H248.3V532.05H249.14V532.88H250.13V532.92H251.11V532.95H252.1V532.99H253.08V533.03H254.07V533.06H255.06V533.1H256.04V533.13H257.03V533.17H258.02V533.21H259V533.24H259.99V533.28H260.98V533.31H261.96V533.35H262.95V533.39H263.95V534.29H264.96V535.19H265.96V536.1H266.97V537H267.97V537.91H268.94V537.94H269.9V537.98H270.87V538.02H271.83V538.06H272.8V538.1H273.77V538.14H274.73V538.18H275.7V538.21H276.66V538.25H277.63V538.29H278.59V538.33H279.56V538.37H280.53V538.41H281.15V539.41H281.78V540.42H282.77V540.42H283.77V540.42H284.76V540.42H285.76V540.42H286.75V540.42H287.74V540.42H288.74V540.42H289.73V540.42H290.73V540.42H291.72V540.42H292.71V540.42H293.71V540.42H294.7V540.42H295.7V540.42H296.69V540.42H297.68V540.42H298.68V540.42H299.67V540.42H300.67V540.42H301.66V540.42H302.65V540.42H303.65V540.42H304.64V540.42H305.64V540.42" stroke="#3852ac" stroke-width="0.85" fill="none" stroke-dasharray="3.9 2.3"/>
<path d="M189.63 467.6H190.47V468.02H191.3V468.44H192.14V468.85H193.14V469.69H194.15V470.53H195.15V471.36H195.99V472.45H196.83V473.54H197.66V474.63H198.17V475.7H198.67V476.76H199.17V477.83H199.67V478.9H200.26V479.99H200.84V481.07H201.43V482.16H202.27V482.5H203.1V482.83H203.94V483.17H204.78V484H205.62V484.84H206.45V485.68H207.29V486.35H208.13V487.02H208.96V487.69H209.28V488.63H209.59V489.57H209.91V490.51H210.22V491.45H210.53V492.39H210.85V493.34H211.16V494.28H211.47V495.22H212.31V495.8H213.15V496.39H213.99V496.98H214.99V496.98H215.99V496.98H217V496.98H218V496.98H219.01V496.98H220.01V496.98H221.02V496.98H222.02V496.98H223.02V496.98H224.03V496.98H224.34V497.92H224.66V498.86H224.97V499.8H225.28V500.74H226.12V501.83H226.96V502.92H227.8V504.01H228.63V504.43H229.47V504.84H230.31V505.26H231.33V505.26H232.35V505.26H233.37V505.26H234.39V505.26H235.41V505.26H236.43V505.26H237.45V505.26H238.47V505.26H239.49V505.26H240.51V505.26H241.53V505.26H242.55V505.26H243.57V505.26H244.59V505.26H245.61V505.26H246.63V505.26H247.05V506.1H247.46V506.94H247.88V507.77H248.89V508.78H249.89V509.78H250.83V509.78H251.78V509.78H252.72V509.78H253.66V509.78H254.6V509.78H255.54V509.78H256.48V509.78H257.42V509.78H257.59V510.7H257.76V511.62H257.93V512.54H258.09V513.47H258.26V514.39H258.43V515.31H259.33V515.56H260.24V515.81H261.14V516.06H262.04V516.31H262.95V516.56H263.37V517.65H263.79V518.74H264.2V519.83H265.21V519.83H266.21V519.83H267.22V519.83H268.22V519.83H269.23V519.83H270.23V519.83H271.24V519.83H272.24V519.83H273.24V519.83H274.25V519.83" stroke="#e23a3a" stroke-width="0.85" fill="none"/>
<path d="M189.01 468.54H191.01M190.01 467.54V469.54M189.51 470.42H191.51M190.51 469.42V471.42M190.39 473.37H192.39M191.39 472.37V474.37M190.99 475.38H192.99M191.99 474.38V476.38M191.67 477.39H193.67M192.67 476.39V478.39M192.37 479.4H194.37M193.37 478.4V480.4M193.15 481.41H195.15M194.15 480.41V482.41M194.15 483.42H196.15M195.15 482.42V484.42M195.16 485.43H197.16M196.16 484.43V486.43M196.16 487.44H198.16M197.16 486.44V488.44M197.17 489.44H199.17M198.17 488.44V490.44M198.23 491.45H200.23M199.23 490.45V492.45M199.49 493.34H201.49M200.49 492.34V494.34M200.74 495.22H202.74M201.74 494.22V496.22M202 497.1H204M203 496.1V498.1M203.05 498.99H205.05M204.05 497.99V499.99M203.46 500.83H205.46M204.46 499.83V501.83M204.09 503.59H206.09M205.09 502.59V504.59M204.67 504.51H206.67M205.67 503.51V505.51M206.55 505.89H208.55M207.55 504.89V506.89M207.49 506.58H209.49M208.49 505.58V507.58M208.43 507.27H210.43M209.43 506.27V508.27M210.32 508.78H212.32M211.32 507.78V509.78M212.2 510.28H214.2M213.2 509.28V511.28M213.14 511.23H215.14M214.14 510.23V512.23M214.08 512.17H216.08M215.08 511.17V513.17M215.03 513.11H217.03M216.03 512.11V514.11M216.44 514.99H218.44M217.44 513.99V515.99M217.69 516.88H219.69M218.69 515.88V517.88M219.42 518.32H221.42M220.42 517.32V519.32M220.36 518.82H222.36M221.36 517.82V519.82M222.28 519.83H224.28M223.28 518.83V520.83M224.28 520.53H226.28M225.28 519.53V521.53M225.29 520.88H227.29M226.29 519.88V521.88M226.29 521.23H228.29M227.29 520.23V522.23M228.3 522.09H230.3M229.3 521.09V523.09M231.32 523.59H233.32M232.32 522.59V524.59M234.17 525.35H236.17M235.17 524.35V526.35M237.15 526.82H239.15M238.15 525.82V527.82M240.29 527.44H242.29M241.29 526.44V528.44M243.27 528.49H245.27M244.27 527.49V529.49M245.16 529.74H247.16M246.16 528.74V530.74M247.72 532.05H249.72M248.72 531.05V533.05M251.59 532.99H253.59M252.59 531.99V533.99M258.5 533.24H260.5M259.5 532.24V534.24M263.46 534.29H265.46M264.46 533.29V535.29M268.42 537.94H270.42M269.42 536.94V538.94M277.11 538.29H279.11M278.11 537.29V539.29M283.27 540.42H285.27M284.27 539.42V541.42M291.22 540.42H293.22M292.22 539.42V541.42M299.17 540.42H301.17M300.17 539.42V541.42" stroke="#3852ac" stroke-width="0.6" fill="none"/>
<path d="M189.05 467.6H191.05M190.05 466.6V468.6M190.72 468.44H192.72M191.72 467.44V469.44M191.64 468.85H193.64M192.64 467.85V469.85M192.65 469.69H194.65M193.65 468.69V470.69M193.65 470.53H195.65M194.65 469.53V471.53M194.57 471.36H196.57M195.57 470.36V472.36M195.41 472.45H197.41M196.41 471.45V473.45M196.92 474.63H198.92M197.92 473.63V475.63M197.92 476.76H199.92M198.92 475.76V477.76M198.97 478.9H200.97M199.97 477.9V479.9M199.55 479.99H201.55M200.55 478.99V480.99M200.85 482.16H202.85M201.85 481.16V483.16M201.69 482.5H203.69M202.69 481.5V483.5M203.36 483.17H205.36M204.36 482.17V484.17M204.2 484H206.2M205.2 483V485M205.87 485.68H207.87M206.87 484.68V486.68M207.55 487.02H209.55M208.55 486.02V488.02M208.43 488.63H210.43M209.43 487.63V489.63M209.06 490.51H211.06M210.06 489.51V491.51M209.69 492.39H211.69M210.69 491.39V493.39M210.32 494.28H212.32M211.32 493.28V495.28M210.89 495.22H212.89M211.89 494.22V496.22M212.57 496.39H214.57M213.57 495.39V497.39M214.49 496.98H216.49M215.49 495.98V497.98M216.5 496.98H218.5M217.5 495.98V497.98M217.51 496.98H219.51M218.51 495.98V497.98M219.51 496.98H221.51M220.51 495.98V497.98M221.52 496.98H223.52M222.52 495.98V497.98M222.53 496.98H224.53M223.53 495.98V497.98M223.5 497.92H225.5M224.5 496.92V498.92M224.13 499.8H226.13M225.13 498.8V500.8M224.7 500.74H226.7M225.7 499.74V501.74M225.54 501.83H227.54M226.54 500.83V502.83M226.38 502.92H228.38M227.38 501.92V503.92M228.05 504.43H230.05M229.05 503.43V505.43M230.84 505.26H232.84M231.84 504.26V506.26M233.9 505.26H235.9M234.9 504.26V506.26M236.96 505.26H238.96M237.96 504.26V506.26M240.02 505.26H242.02M241.02 504.26V506.26M244.1 505.26H246.1M245.1 504.26V506.26M246.26 506.1H248.26M247.26 505.1V507.1M248.39 508.78H250.39M249.39 507.78V509.78M251.25 509.78H253.25M252.25 508.78V510.78M256.84 511.62H258.84M257.84 510.62V512.62M262.58 517.65H264.58M263.58 516.65V518.65M269.73 519.83H271.73M270.73 518.83V520.83" stroke="#e23a3a" stroke-width="0.6" fill="none"/>
<rect x="188.2" y="464.2" width="122.6" height="81.3" fill="none" stroke="#222" stroke-width="0.6"/>
<text x="241.61" y="462.27" font-size="5.1" stroke="#111" stroke-width="0.16" text-anchor="middle" transform="rotate(0.25 241.61 462.27)" fill="#111">KCNMA1 Low</text>
<line x1="186.2" y1="467.6" x2="188.2" y2="467.6" stroke="#222" stroke-width="0.5"/>
<text x="182.7" y="467.6" font-size="5.6" stroke="#111" stroke-width="0.1" text-anchor="middle" transform="rotate(-89.75 182.7 467.6)" fill="#111">1.0</text>
<line x1="186.2" y1="482.66" x2="188.2" y2="482.66" stroke="#222" stroke-width="0.5"/>
<text x="182.7" y="482.66" font-size="5.6" stroke="#111" stroke-width="0.1" text-anchor="middle" transform="rotate(-89.75 182.7 482.66)" fill="#111">0.8</text>
<line x1="186.2" y1="497.73" x2="188.2" y2="497.73" stroke="#222" stroke-width="0.5"/>
<text x="182.7" y="497.73" font-size="5.6" stroke="#111" stroke-width="0.1" text-anchor="middle" transform="rotate(-89.75 182.7 497.73)" fill="#111">0.6</text>
<line x1="186.2" y1="512.29" x2="188.2" y2="512.29" stroke="#222" stroke-width="0.5"/>
<text x="182.7" y="512.29" font-size="5.6" stroke="#111" stroke-width="0.1" text-anchor="middle" transform="rotate(-89.75 182.7 512.29)" fill="#111">0.4</text>
<line x1="186.2" y1="527.36" x2="188.2" y2="527.36" stroke="#222" stroke-width="0.5"/>
<text x="182.7" y="527.36" font-size="5.6" stroke="#111" stroke-width="0.1" text-anchor="middle" transform="rotate(-89.75 182.7 527.36)" fill="#111">0.2</text>
<line x1="186.2" y1="542.42" x2="188.2" y2="542.42" stroke="#222" stroke-width="0.5"/>
<text x="182.7" y="542.42" font-size="5.6" stroke="#111" stroke-width="0.1" text-anchor="middle" transform="rotate(-89.75 182.7 542.42)" fill="#111">0.0</text>
<line x1="189.63" y1="545.5" x2="189.63" y2="547.5" stroke="#222" stroke-width="0.5"/>
<text x="189.63" y="552.9" font-size="5" stroke="#111" stroke-width="0.18" text-anchor="middle" transform="rotate(0.25 189.63 552.9)" fill="#111">0</text>
<line x1="205.7" y1="545.5" x2="205.7" y2="547.5" stroke="#222" stroke-width="0.5"/>
<text x="205.7" y="552.9" font-size="5" stroke="#111" stroke-width="0.18" text-anchor="middle" transform="rotate(0.25 205.7 552.9)" fill="#111">50</text>
<line x1="222.77" y1="545.5" x2="222.77" y2="547.5" stroke="#222" stroke-width="0.5"/>
<text x="222.77" y="552.9" font-size="5" stroke="#111" stroke-width="0.18" text-anchor="middle" transform="rotate(0.25 222.77 552.9)" fill="#111">100</text>
<line x1="257.42" y1="545.5" x2="257.42" y2="547.5" stroke="#222" stroke-width="0.5"/>
<text x="257.42" y="552.9" font-size="5" stroke="#111" stroke-width="0.18" text-anchor="middle" transform="rotate(0.25 257.42 552.9)" fill="#111">200</text>
<line x1="291.32" y1="545.5" x2="291.32" y2="547.5" stroke="#222" stroke-width="0.5"/>
<text x="291.32" y="552.9" font-size="5" stroke="#111" stroke-width="0.18" text-anchor="middle" transform="rotate(0.25 291.32 552.9)" fill="#111">300</text>
<line x1="240.35" y1="545.5" x2="240.35" y2="547.5" stroke="#222" stroke-width="0.5"/>
<line x1="274.25" y1="545.5" x2="274.25" y2="547.5" stroke="#222" stroke-width="0.5"/>
<line x1="308.15" y1="545.5" x2="308.15" y2="547.5" stroke="#222" stroke-width="0.5"/>
<text x="174.4" y="496.55" font-size="7.5" stroke="#111" stroke-width="0.08" text-anchor="middle" transform="rotate(-89.75 174.4 496.55)" fill="#111">Survival Fraction</text>
<text x="244.5" y="558.3" font-size="5.1" stroke="#111" stroke-width="0.16" text-anchor="middle" transform="rotate(0.25 244.5 558.3)" fill="#111">OS (month)</text>
<text x="202.18" y="535.09" font-size="5.1" stroke="#d83535" stroke-width="0.14" transform="rotate(0.25 202.18 535.09)" fill="#d83535">CTL Top (n=144)</text>
<text x="202.18" y="541.61" font-size="5.1" stroke="#3953a8" stroke-width="0.14" transform="rotate(0.25 202.18 541.61)" fill="#3953a8">CTL Bottom (n=143)</text>
<text x="340.6" y="458.8" font-size="9.2" transform="rotate(0.25 340.6 458.8)">G</text>
<text x="442.47" y="454.84" font-size="5.5" stroke="#111" stroke-width="0.2" transform="rotate(0.25 442.47 454.84)" fill="#111">Continuous z= 3.63 , p= 0.000286</text>
<path d="M369.65 467.1H385.72V467.1H385.72V485.43H485.66V485.43" stroke="#3852ac" stroke-width="0.8" fill="none" stroke-dasharray="3.9 2.3"/>
<path d="M369.65 467.1H397.77V467.1H397.77V491.7H426.15V491.7H426.15V541.67" stroke="#e23a3a" stroke-width="0.8" fill="none"/>
<path d="M381.31 467.1H383.11M382.21 466.2V468M414.45 485.43H416.25M415.35 484.53V486.33M435.79 485.43H437.59M436.69 484.53V486.33M484.76 485.43H486.56M485.66 484.53V486.33" stroke="#3852ac" stroke-width="0.55" fill="none"/>
<path d="M376.28 467.1H378.08M377.18 466.2V468M389.34 467.1H391.14M390.24 466.2V468M400.64 491.7H402.44M401.54 490.8V492.6" stroke="#e23a3a" stroke-width="0.55" fill="none"/>
<rect x="368.3" y="463.8" width="122.2" height="81.1" fill="none" stroke="#222" stroke-width="0.6"/>
<text x="421.63" y="461.77" font-size="5.1" stroke="#111" stroke-width="0.16" text-anchor="middle" transform="rotate(0.25 421.63 461.77)" fill="#111">SIGLEC1 High</text>
<line x1="366.3" y1="467.1" x2="368.3" y2="467.1" stroke="#222" stroke-width="0.5"/>
<text x="362.8" y="467.1" font-size="5.6" stroke="#111" stroke-width="0.1" text-anchor="middle" transform="rotate(-89.75 362.8 467.1)" fill="#111">1.0</text>
<line x1="366.3" y1="482.16" x2="368.3" y2="482.16" stroke="#222" stroke-width="0.5"/>
<text x="362.8" y="482.16" font-size="5.6" stroke="#111" stroke-width="0.1" text-anchor="middle" transform="rotate(-89.75 362.8 482.16)" fill="#111">0.8</text>
<line x1="366.3" y1="497.23" x2="368.3" y2="497.23" stroke="#222" stroke-width="0.5"/>
<text x="362.8" y="497.23" font-size="5.6" stroke="#111" stroke-width="0.1" text-anchor="middle" transform="rotate(-89.75 362.8 497.23)" fill="#111">0.6</text>
<line x1="366.3" y1="512.04" x2="368.3" y2="512.04" stroke="#222" stroke-width="0.5"/>
<text x="362.8" y="512.04" font-size="5.6" stroke="#111" stroke-width="0.1" text-anchor="middle" transform="rotate(-89.75 362.8 512.04)" fill="#111">0.4</text>
<line x1="366.3" y1="526.86" x2="368.3" y2="526.86" stroke="#222" stroke-width="0.5"/>
<text x="362.8" y="526.86" font-size="5.6" stroke="#111" stroke-width="0.1" text-anchor="middle" transform="rotate(-89.75 362.8 526.86)" fill="#111">0.2</text>
<line x1="366.3" y1="541.92" x2="368.3" y2="541.92" stroke="#222" stroke-width="0.5"/>
<text x="362.8" y="541.92" font-size="5.6" stroke="#111" stroke-width="0.1" text-anchor="middle" transform="rotate(-89.75 362.8 541.92)" fill="#111">0.0</text>
<line x1="369.65" y1="544.9" x2="369.65" y2="546.9" stroke="#222" stroke-width="0.5"/>
<text x="369.65" y="552.3" font-size="5" stroke="#111" stroke-width="0.18" text-anchor="middle" transform="rotate(0.25 369.65 552.3)" fill="#111">0</text>
<line x1="386.98" y1="544.9" x2="386.98" y2="546.9" stroke="#222" stroke-width="0.5"/>
<text x="386.98" y="552.3" font-size="5" stroke="#111" stroke-width="0.18" text-anchor="middle" transform="rotate(0.25 386.98 552.3)" fill="#111">20</text>
<line x1="404.8" y1="544.9" x2="404.8" y2="546.9" stroke="#222" stroke-width="0.5"/>
<text x="404.8" y="552.3" font-size="5" stroke="#111" stroke-width="0.18" text-anchor="middle" transform="rotate(0.25 404.8 552.3)" fill="#111">40</text>
<line x1="422.13" y1="544.9" x2="422.13" y2="546.9" stroke="#222" stroke-width="0.5"/>
<text x="422.13" y="552.3" font-size="5" stroke="#111" stroke-width="0.18" text-anchor="middle" transform="rotate(0.25 422.13 552.3)" fill="#111">60</text>
<line x1="439.71" y1="544.9" x2="439.71" y2="546.9" stroke="#222" stroke-width="0.5"/>
<text x="439.71" y="552.3" font-size="5" stroke="#111" stroke-width="0.18" text-anchor="middle" transform="rotate(0.25 439.71 552.3)" fill="#111">80</text>
<line x1="457.28" y1="544.9" x2="457.28" y2="546.9" stroke="#222" stroke-width="0.5"/>
<text x="457.28" y="552.3" font-size="5" stroke="#111" stroke-width="0.18" text-anchor="middle" transform="rotate(0.25 457.28 552.3)" fill="#111">100</text>
<line x1="474.86" y1="544.9" x2="474.86" y2="546.9" stroke="#222" stroke-width="0.5"/>
<text x="354.5" y="496.05" font-size="7.5" stroke="#111" stroke-width="0.08" text-anchor="middle" transform="rotate(-89.75 354.5 496.05)" fill="#111">Survival Fraction</text>
<text x="424.4" y="557.7" font-size="5.1" stroke="#111" stroke-width="0.16" text-anchor="middle" transform="rotate(0.25 424.4 557.7)" fill="#111">OS (month)</text>
<text x="382.21" y="534.58" font-size="5.1" stroke="#d83535" stroke-width="0.14" transform="rotate(0.25 382.21 534.58)" fill="#d83535">CTL Top (n=6)</text>
<text x="382.21" y="540.86" font-size="5.1" stroke="#3953a8" stroke-width="0.14" transform="rotate(0.25 382.21 540.86)" fill="#3953a8">CTL Bottom (n=5)</text>
<path d="M526.47 466.61H526.94V467.62H527.41V468.63H527.89V469.64H528.36V470.66H528.74V471.74H529.11V472.82H529.49V473.9H529.87V474.98H530.25V476.06H530.79V477.14H531.33V478.22H531.87V479.3H532.41V480.38H532.95V481.46H533.38V482.54H533.81V483.62H534.25V484.7H534.68V485.78H535.11V486.86H535.65V487.94H536.19V489.02H536.73V490.1H537.27V491.18H537.81V492.26H538.49V493.28H539.16V494.29H539.84V495.3H540.51V496.31H541.19V497.33H541.86V498.34H542.54V499.35H543.21V500.36H544.22V501.04H545.24V501.72H546.25V502.39H547.26V503.07H548.28V503.94H549.29V504.82H550.3V505.7H551.31V506.58H552.12V507.49H552.93V508.41H553.74V509.33H554.55V510.25H555.36V511.17H556.45V511.87H557.53V512.57H558.61V513.27H559.69V513.98H560.77V514.68H561.85V515.22H562.93V515.76H564.01V516.3H565.09V516.84H566.17V517.38H567.25V517.76H568.33V518.14H569.41V518.51H570.49V518.89H571.57V519.27H572.53V519.66H573.5V520.04H574.46V520.43H575.43V520.81H576.39V521.2H577.36V521.58H578.32V521.97H579.4V522.51H580.48V523.05H581.56V523.59H582.64V524.13H583.72V524.67H584.15V525.59H584.59V526.51H585.02V527.43H585.45V528.34H585.88V529.26H586.8V529.48H587.72V529.69H588.64V529.91H589.56V530.13H590.47V530.34H591.49V530.34H592.5V530.34H593.51V530.34H594.53V530.34H595.54V530.34H596.55V530.34H597.56V530.34H598.58V530.34H599.59V530.95H600.6V531.56H601.61V532.17H602.63V532.77H603.44V533.69H604.25V534.61H605.06V535.53H605.87V536.45H606.68V537.36H607.69V537.36H608.7V537.36H609.72V537.36H610.73V537.36H611.74V537.36H612.76V537.36H613.77V537.36H614.78V537.36H615.79V537.36H616.81V537.36H617.82V537.36H618.83V537.36H619.51V538.45H620.18V539.53H621.2V539.53H622.21V539.53H623.22V539.53H624.23V539.53H625.25V539.53H626.26V539.53H627.27V539.53H628.28V539.53H629.3V539.53H630.31V539.53H631.32V539.53H632.34V539.53H633.35V539.53H634.36V539.53H635.37V539.53H636.39V539.53H637.4V539.53H638.41V539.53H639.43V539.53H640.44V539.53H641.45V539.53H642.46V539.53H643.48V539.53H644.49V539.53" stroke="#3852ac" stroke-width="0.85" fill="none" stroke-dasharray="3.9 2.3"/>
<path d="M526.47 466.61H527.37V467.06H528.27V467.51H529.17V467.96H529.64V468.97H530.11V469.98H530.59V470.99H531.06V472.01H531.73V473.02H532.41V474.03H533.08V475.05H533.76V476.06H534.43V477.07H535.11V478.08H535.78V479.1H536.46V480.11H537.14V481.12H537.81V482.14H538.49V483.15H539.16V484.16H540.06V485.06H540.96V485.96H541.86V486.86H542.87V487.54H543.89V488.21H544.9V488.89H545.91V489.56H546.45V490.57H546.99V491.59H547.53V492.6H548.07V493.61H548.45V494.69H548.83V495.77H549.21V496.85H549.59V497.93H549.96V499.01H550.86V499.46H551.76V499.91H552.66V500.36H553.68V500.36H554.69V500.36H555.7V500.36H556.72V500.36H557.73V500.36H558.74V500.36H559.75V500.36H560.77V500.36H561.24V501.38H561.71V502.39H562.18V503.4H562.66V504.42H563.38V505.32H564.1V506.22H564.82V507.12H565.83V507.52H566.84V507.93H567.86V508.33H568.87V508.74H569.88V508.74H570.89V508.74H571.91V508.74H572.92V508.74H573.93V508.74H574.95V508.74H575.96V508.74H576.97V508.74H577.98V508.74H579V508.74H580.01V508.74H581.02V508.74H582.03V508.74H583.05V508.74H584.06V508.74H585.07V508.74H585.7V509.82H586.33V510.9H586.96V511.98H587.95V512.04H588.94V512.1H589.93V512.16H590.92V512.22H591.91V512.28H592.91V512.34H593.9V512.4H594.89V512.46H595.88V512.52H596.04V513.49H596.2V514.46H596.36V515.44H596.52V516.41H596.69V517.38H597.77V517.74H598.85V518.1H599.93V518.46H600.26V519.34H600.6V520.22H600.94V521.09H601.28V521.97H602.26V521.97H603.24V521.97H604.22V521.97H605.21V521.97H606.19V521.97H607.17V521.97H608.15V521.97H609.13V521.97H610.12V521.97H611.1V521.97H612.08V521.97" stroke="#e23a3a" stroke-width="0.85" fill="none"/>
<path d="M526.18 467.62H528.18M527.18 466.62V468.62M527.12 469.64H529.12M528.12 468.64V470.64M527.92 471.74H529.92M528.92 470.74V472.74M528.68 473.9H530.68M529.68 472.9V474.9M529.52 476.06H531.52M530.52 475.06V477.06M530.6 478.22H532.6M531.6 477.22V479.22M531.68 480.38H533.68M532.68 479.38V481.38M532.6 482.54H534.6M533.6 481.54V483.54M533.46 484.7H535.46M534.46 483.7V485.7M534.38 486.86H536.38M535.38 485.86V487.86M535.46 489.02H537.46M536.46 488.02V490.02M536.54 491.18H538.54M537.54 490.18V492.18M537.82 493.28H539.82M538.82 492.28V494.28M539.17 495.3H541.17M540.17 494.3V496.3M540.52 497.33H542.52M541.52 496.33V498.33M541.87 499.35H543.87M542.87 498.35V500.35M542.72 500.36H544.72M543.72 499.36V501.36M543.73 501.04H545.73M544.73 500.04V502.04M545.76 502.39H547.76M546.76 501.39V503.39M546.77 503.07H548.77M547.77 502.07V504.07M547.78 503.94H549.78M548.78 502.94V504.94M548.79 504.82H550.79M549.79 503.82V505.82M549.81 505.7H551.81M550.81 504.7V506.7M550.72 506.58H552.72M551.72 505.58V507.58M552.34 508.41H554.34M553.34 507.41V509.41M553.96 510.25H555.96M554.96 509.25V511.25M555.99 511.87H557.99M556.99 510.87V512.87M557.07 512.57H559.07M558.07 511.57V513.57M558.15 513.27H560.15M559.15 512.27V514.27M559.23 513.98H561.23M560.23 512.98V514.98M561.39 515.22H563.39M562.39 514.22V516.22M562.47 515.76H564.47M563.47 514.76V516.76M564.63 516.84H566.63M565.63 515.84V517.84M565.71 517.38H567.71M566.71 516.38V518.38M566.79 517.76H568.79M567.79 516.76V518.76M570.03 518.89H572.03M571.03 517.89V519.89M572.98 520.04H574.98M573.98 519.04V521.04M575.87 521.2H577.87M576.87 520.2V522.2M578.94 522.51H580.94M579.94 521.51V523.51M582.18 524.13H584.18M583.18 523.13V525.13M584.67 528.34H586.67M585.67 527.34V529.34M587.18 529.69H589.18M588.18 528.69V530.69M590.99 530.34H592.99M591.99 529.34V531.34M597.07 530.34H599.07M598.07 529.34V531.34M603.65 534.61H605.65M604.65 533.61V535.61M610.24 537.36H612.24M611.24 536.36V538.36M617.33 537.36H619.33M618.33 536.36V538.36M623.74 539.53H625.74M624.74 538.53V540.53M631.84 539.53H633.84M632.84 538.53V540.53M639.94 539.53H641.94M640.94 538.53V540.53" stroke="#3852ac" stroke-width="0.6" fill="none"/>
<path d="M525.92 466.61H527.92M526.92 465.61V467.61M526.82 467.06H528.82M527.82 466.06V468.06M528.4 467.96H530.4M529.4 466.96V468.96M529.35 469.98H531.35M530.35 468.98V470.98M530.4 472.01H532.4M531.4 471.01V473.01M531.75 474.03H533.75M532.75 473.03V475.03M532.42 475.05H534.42M533.42 474.05V476.05M533.1 476.06H535.1M534.1 475.06V477.06M533.77 477.07H535.77M534.77 476.07V478.07M534.45 478.08H536.45M535.45 477.08V479.08M535.8 480.11H537.8M536.8 479.11V481.11M537.15 482.14H539.15M538.15 481.14V483.14M538.61 484.16H540.61M539.61 483.16V485.16M539.51 485.06H541.51M540.51 484.06V486.06M540.41 485.96H542.41M541.41 484.96V486.96M541.37 486.86H543.37M542.37 485.86V487.86M542.38 487.54H544.38M543.38 486.54V488.54M544.41 488.89H546.41M545.41 487.89V489.89M545.72 490.57H547.72M546.72 489.57V491.57M546.8 492.6H548.8M547.8 491.6V493.6M547.64 494.69H549.64M548.64 493.69V495.69M548.4 496.85H550.4M549.4 495.85V497.85M549.41 499.01H551.41M550.41 498.01V500.01M550.31 499.46H552.31M551.31 498.46V500.46M552.17 500.36H554.17M553.17 499.36V501.36M554.2 500.36H556.2M555.2 499.36V501.36M556.22 500.36H558.22M557.22 499.36V501.36M557.23 500.36H559.23M558.23 499.36V501.36M559.26 500.36H561.26M560.26 499.36V501.36M560.48 501.38H562.48M561.48 500.38V502.38M561.42 503.4H563.42M562.42 502.4V504.4M562.74 505.32H564.74M563.74 504.32V506.32M563.46 506.22H565.46M564.46 505.22V507.22M564.32 507.12H566.32M565.32 506.12V508.12M565.34 507.52H567.34M566.34 506.52V508.52M568.38 508.74H570.38M569.38 507.74V509.74M572.43 508.74H574.43M573.43 507.74V509.74M575.46 508.74H577.46M576.46 507.74V509.74M578.5 508.74H580.5M579.5 507.74V509.74M581.54 508.74H583.54M582.54 507.74V509.74M585.02 509.82H587.02M586.02 508.82V510.82M587.45 512.04H589.45M588.45 511.04V513.04M590.42 512.22H592.42M591.42 511.22V513.22M595.44 515.44H597.44M596.44 514.44V516.44M601.75 521.97H603.75M602.75 520.97V522.97M609.61 521.97H611.61M610.61 520.97V522.97" stroke="#e23a3a" stroke-width="0.6" fill="none"/>
<rect x="526.1" y="463.8" width="122.7" height="81.1" fill="none" stroke="#222" stroke-width="0.6"/>
<text x="578.86" y="460.74" font-size="5.1" stroke="#111" stroke-width="0.16" text-anchor="middle" transform="rotate(0.25 578.86 460.74)" fill="#111">SIGLEC1 Low</text>
<line x1="524.1" y1="466.07" x2="526.1" y2="466.07" stroke="#222" stroke-width="0.5"/>
<text x="520.6" y="466.07" font-size="5.6" stroke="#111" stroke-width="0.1" text-anchor="middle" transform="rotate(-89.75 520.6 466.07)" fill="#111">1.0</text>
<line x1="524.1" y1="481.46" x2="526.1" y2="481.46" stroke="#222" stroke-width="0.5"/>
<text x="520.6" y="481.46" font-size="5.6" stroke="#111" stroke-width="0.1" text-anchor="middle" transform="rotate(-89.75 520.6 481.46)" fill="#111">0.8</text>
<line x1="524.1" y1="496.31" x2="526.1" y2="496.31" stroke="#222" stroke-width="0.5"/>
<text x="520.6" y="496.31" font-size="5.6" stroke="#111" stroke-width="0.1" text-anchor="middle" transform="rotate(-89.75 520.6 496.31)" fill="#111">0.6</text>
<line x1="524.1" y1="511.71" x2="526.1" y2="511.71" stroke="#222" stroke-width="0.5"/>
<text x="520.6" y="511.71" font-size="5.6" stroke="#111" stroke-width="0.1" text-anchor="middle" transform="rotate(-89.75 520.6 511.71)" fill="#111">0.4</text>
<line x1="524.1" y1="526.56" x2="526.1" y2="526.56" stroke="#222" stroke-width="0.5"/>
<text x="520.6" y="526.56" font-size="5.6" stroke="#111" stroke-width="0.1" text-anchor="middle" transform="rotate(-89.75 520.6 526.56)" fill="#111">0.2</text>
<line x1="524.1" y1="541.42" x2="526.1" y2="541.42" stroke="#222" stroke-width="0.5"/>
<text x="520.6" y="541.42" font-size="5.6" stroke="#111" stroke-width="0.1" text-anchor="middle" transform="rotate(-89.75 520.6 541.42)" fill="#111">0.0</text>
<line x1="527.01" y1="544.9" x2="527.01" y2="546.9" stroke="#222" stroke-width="0.5"/>
<text x="527.01" y="552.3" font-size="5" stroke="#111" stroke-width="0.18" text-anchor="middle" transform="rotate(0.25 527.01 552.3)" fill="#111">0</text>
<line x1="544.56" y1="544.9" x2="544.56" y2="546.9" stroke="#222" stroke-width="0.5"/>
<text x="544.56" y="552.3" font-size="5" stroke="#111" stroke-width="0.18" text-anchor="middle" transform="rotate(0.25 544.56 552.3)" fill="#111">50</text>
<line x1="561.31" y1="544.9" x2="561.31" y2="546.9" stroke="#222" stroke-width="0.5"/>
<text x="561.31" y="552.3" font-size="5" stroke="#111" stroke-width="0.18" text-anchor="middle" transform="rotate(0.25 561.31 552.3)" fill="#111">100</text>
<line x1="595.07" y1="544.9" x2="595.07" y2="546.9" stroke="#222" stroke-width="0.5"/>
<text x="595.07" y="552.3" font-size="5" stroke="#111" stroke-width="0.18" text-anchor="middle" transform="rotate(0.25 595.07 552.3)" fill="#111">200</text>
<line x1="629.09" y1="544.9" x2="629.09" y2="546.9" stroke="#222" stroke-width="0.5"/>
<text x="629.09" y="552.3" font-size="5" stroke="#111" stroke-width="0.18" text-anchor="middle" transform="rotate(0.25 629.09 552.3)" fill="#111">300</text>
<line x1="578.32" y1="544.9" x2="578.32" y2="546.9" stroke="#222" stroke-width="0.5"/>
<line x1="612.08" y1="544.9" x2="612.08" y2="546.9" stroke="#222" stroke-width="0.5"/>
<line x1="645.84" y1="544.9" x2="645.84" y2="546.9" stroke="#222" stroke-width="0.5"/>
<text x="512.3" y="496.05" font-size="7.5" stroke="#111" stroke-width="0.08" text-anchor="middle" transform="rotate(-89.75 512.3 496.05)" fill="#111">Survival Fraction</text>
<text x="582.45" y="557.7" font-size="5.1" stroke="#111" stroke-width="0.16" text-anchor="middle" transform="rotate(0.25 582.45 557.7)" fill="#111">OS (month)</text>
<text x="539.97" y="534.47" font-size="5.1" stroke="#d83535" stroke-width="0.14" transform="rotate(0.25 539.97 534.47)" fill="#d83535">CTL Top (n=154)</text>
<text x="539.97" y="541.23" font-size="5.1" stroke="#3953a8" stroke-width="0.14" transform="rotate(0.25 539.97 541.23)" fill="#3953a8">CTL Bottom (n=153)</text>
<text x="5.2" y="578.2" font-size="9.2" transform="rotate(0.25 5.2 578.2)">H</text>
<text x="104.96" y="572.32" font-size="5.5" stroke="#111" stroke-width="0.2" transform="rotate(0.25 104.96 572.32)" fill="#111">Continuous z= 3.51 , p= 0.000452</text>
<path d="M31.39 585.09H35.15V585.09H35.15V590.11H40.18V590.11H40.18V597.14H46.45V597.14H46.45V605.18H51.47V605.18H51.47V609.69H56.5V609.69H56.5V613.96H60.76V613.96H60.76V618.48H105.46V618.48H105.46V629.03H123.54V629.03H123.54V644.35H148.65V644.35H148.65V659.16" stroke="#3852ac" stroke-width="0.8" fill="none" stroke-dasharray="3.9 2.3"/>
<path d="M31.39 585.09H33.9V585.09H33.9V588.1H36.41V588.1H36.41V591.36H38.92V591.36H38.92V597.14H41.43V597.14H41.43V602.66H43.94V602.66H43.94V608.19H53.23V608.19H53.23V622.75H71.56V622.75H71.56V627.77H92.4V627.77" stroke="#e23a3a" stroke-width="0.8" fill="none"/>
<path d="M36.26 590.11H38.06M37.16 589.21V591.01M41.79 597.14H43.59M42.69 596.24V598.04M54.84 609.69H56.64M55.74 608.79V610.59M71.92 618.48H73.72M72.82 617.58V619.38M85.73 618.48H87.53M86.63 617.58V619.38M93.26 618.48H95.06M94.16 617.58V619.38M100.79 618.48H102.59M101.69 617.58V619.38M115.86 629.03H117.66M116.76 628.13V629.93" stroke="#3852ac" stroke-width="0.55" fill="none"/>
<path d="M34.25 588.1H36.05M35.15 587.2V589M36.76 591.36H38.56M37.66 590.46V592.26M39.28 597.14H41.08M40.18 596.24V598.04M42.29 602.66H44.09M43.19 601.76V603.56M44.3 608.19H46.1M45.2 607.29V609.09M56.85 622.75H58.65M57.75 621.85V623.65M76.44 627.77H78.24M77.34 626.87V628.67M80.71 627.77H82.51M81.61 626.87V628.67M91.5 627.77H93.3M92.4 626.87V628.67" stroke="#e23a3a" stroke-width="0.55" fill="none"/>
<rect x="30.6" y="581.8" width="122.2" height="81.1" fill="none" stroke="#222" stroke-width="0.6"/>
<text x="84.87" y="579.76" font-size="5.1" stroke="#111" stroke-width="0.16" text-anchor="middle" transform="rotate(0.25 84.87 579.76)" fill="#111">FOLR2 High</text>
<line x1="28.6" y1="585.09" x2="30.6" y2="585.09" stroke="#222" stroke-width="0.5"/>
<text x="25.1" y="585.09" font-size="5.6" stroke="#111" stroke-width="0.1" text-anchor="middle" transform="rotate(-89.75 25.1 585.09)" fill="#111">1.0</text>
<line x1="28.6" y1="600.15" x2="30.6" y2="600.15" stroke="#222" stroke-width="0.5"/>
<text x="25.1" y="600.15" font-size="5.6" stroke="#111" stroke-width="0.1" text-anchor="middle" transform="rotate(-89.75 25.1 600.15)" fill="#111">0.8</text>
<line x1="28.6" y1="615.22" x2="30.6" y2="615.22" stroke="#222" stroke-width="0.5"/>
<text x="25.1" y="615.22" font-size="5.6" stroke="#111" stroke-width="0.1" text-anchor="middle" transform="rotate(-89.75 25.1 615.22)" fill="#111">0.6</text>
<line x1="28.6" y1="630.28" x2="30.6" y2="630.28" stroke="#222" stroke-width="0.5"/>
<text x="25.1" y="630.28" font-size="5.6" stroke="#111" stroke-width="0.1" text-anchor="middle" transform="rotate(-89.75 25.1 630.28)" fill="#111">0.4</text>
<line x1="28.6" y1="645.35" x2="30.6" y2="645.35" stroke="#222" stroke-width="0.5"/>
<text x="25.1" y="645.35" font-size="5.6" stroke="#111" stroke-width="0.1" text-anchor="middle" transform="rotate(-89.75 25.1 645.35)" fill="#111">0.2</text>
<line x1="28.6" y1="659.91" x2="30.6" y2="659.91" stroke="#222" stroke-width="0.5"/>
<text x="25.1" y="659.91" font-size="5.6" stroke="#111" stroke-width="0.1" text-anchor="middle" transform="rotate(-89.75 25.1 659.91)" fill="#111">0.0</text>
<line x1="31.89" y1="662.9" x2="31.89" y2="664.9" stroke="#222" stroke-width="0.5"/>
<text x="31.89" y="670.3" font-size="5" stroke="#111" stroke-width="0.18" text-anchor="middle" transform="rotate(0.25 31.89 670.3)" fill="#111">0</text>
<line x1="48.96" y1="662.9" x2="48.96" y2="664.9" stroke="#222" stroke-width="0.5"/>
<text x="48.96" y="670.3" font-size="5" stroke="#111" stroke-width="0.18" text-anchor="middle" transform="rotate(0.25 48.96 670.3)" fill="#111">50</text>
<line x1="65.79" y1="662.9" x2="65.79" y2="664.9" stroke="#222" stroke-width="0.5"/>
<text x="65.79" y="670.3" font-size="5" stroke="#111" stroke-width="0.18" text-anchor="middle" transform="rotate(0.25 65.79 670.3)" fill="#111">100</text>
<line x1="99.94" y1="662.9" x2="99.94" y2="664.9" stroke="#222" stroke-width="0.5"/>
<text x="99.94" y="670.3" font-size="5" stroke="#111" stroke-width="0.18" text-anchor="middle" transform="rotate(0.25 99.94 670.3)" fill="#111">200</text>
<line x1="134.34" y1="662.9" x2="134.34" y2="664.9" stroke="#222" stroke-width="0.5"/>
<text x="134.34" y="670.3" font-size="5" stroke="#111" stroke-width="0.18" text-anchor="middle" transform="rotate(0.25 134.34 670.3)" fill="#111">300</text>
<line x1="82.86" y1="662.9" x2="82.86" y2="664.9" stroke="#222" stroke-width="0.5"/>
<line x1="117.26" y1="662.9" x2="117.26" y2="664.9" stroke="#222" stroke-width="0.5"/>
<line x1="151.41" y1="662.9" x2="151.41" y2="664.9" stroke="#222" stroke-width="0.5"/>
<text x="16.8" y="614.05" font-size="7.5" stroke="#111" stroke-width="0.08" text-anchor="middle" transform="rotate(-89.75 16.8 614.05)" fill="#111">Survival Fraction</text>
<text x="86.7" y="675.7" font-size="5.1" stroke="#111" stroke-width="0.16" text-anchor="middle" transform="rotate(0.25 86.7 675.7)" fill="#111">OS (month)</text>
<text x="44.69" y="652.57" font-size="5.1" stroke="#d83535" stroke-width="0.14" transform="rotate(0.25 44.69 652.57)" fill="#d83535">CTL Top (n=26)</text>
<text x="44.69" y="658.85" font-size="5.1" stroke="#3953a8" stroke-width="0.14" transform="rotate(0.25 44.69 658.85)" fill="#3953a8">CTL Bottom (n=25)</text>
<path d="M188.88 585.09H189.71V585.92H190.55V586.76H191.39V587.6H191.89V588.6H192.39V589.61H192.89V590.61H193.4V591.62H193.9V592.62H194.4V593.62H194.9V594.63H195.4V595.63H195.91V596.64H196.41V597.64H196.91V598.65H197.41V599.65H197.92V600.66H198.42V601.66H198.92V602.66H199.42V603.57H199.92V604.47H200.43V605.38H200.93V606.28H201.43V607.18H202.37V607.94H203.31V608.69H204.26V609.44H205.2V610.2H206.14V611.14H207.08V612.08H208.02V613.02H208.96V613.96H209.91V614.91H210.85V615.85H211.79V616.79H212.73V617.73H213.67V618.67H214.61V619.61H215.55V620.55H216.5V621.5H217.44V622.12H218.38V622.75H219.32V623.38H220.26V624.01H221.2V624.64H222.15V625.26H223.09V625.89H224.03V626.52H224.97V627.15H225.91V627.77H226.85V628.4H227.8V629.03H228.74V629.47H229.68V629.91H230.62V630.35H231.56V630.79H232.5V631.29H233.45V631.79H234.39V632.29H235.33V632.8H236.33V633.2H237.34V633.6H238.34V634H239.35V634.4H240.35V634.8H241.35V635.16H242.36V635.51H243.36V635.86H244.37V636.21H245.37V636.56H246.38V636.91H247.38V637.27H248.39V637.62H249.39V637.97H250.39V638.32H251.4V638.72H252.4V639.12H253.41V639.52H254.41V639.93H255.42V640.33H256.46V640.54H257.51V640.75H258.55V640.96H259.6V641.17H260.65V641.37H261.69V641.58H262.64V642.4H263.58V643.22H264.52V644.03H265.46V644.85H266.46V645.2H267.47V645.55H268.47V645.9H269.48V646.25H270.48V646.61H271.24V647.61H271.99V648.61H272.74V649.62H273.49V650.62H274.25V651.63H275.24V651.65H276.23V651.68H277.22V651.71H278.21V651.73H279.2V651.76H280.2V651.79H281.19V651.81H282.18V651.84H283.17V651.87H284.16V651.89H285.15V651.92H286.14V651.94H287.13V651.97H288.12V652H289.12V652.02H290.11V652.05H291.1V652.08H292.09V652.1H293.08V652.13H294.02V652.82H294.96V653.51H295.91V654.2H296.85V654.89H297.68V655.9H298.52V656.9H299.36V657.91" stroke="#3852ac" stroke-width="0.85" fill="none" stroke-dasharray="3.9 2.3"/>
<path d="M188.88 585.09H189.88V585.19H190.88V585.29H191.89V585.39H192.89V585.49H193.9V585.59H194.73V586.68H195.57V587.77H196.41V588.85H197.35V589.48H198.29V590.11H199.23V590.74H200.18V591.36H200.8V592.31H201.43V593.25H202.06V594.19H202.69V595.13H203.1V596.18H203.52V597.22H203.94V598.27H204.36V599.32H204.78V600.36H205.2V601.41H206.14V602.04H207.08V602.66H208.02V603.29H208.96V603.92H209.8V604.76H210.64V605.59H211.47V606.43H212.42V606.87H213.36V607.31H214.3V607.75H215.24V608.19H216.18V609H217.12V609.82H218.07V610.64H219.01V611.45H219.51V612.46H220.01V613.46H220.51V614.47H221.02V615.47H221.52V616.47H222.36V617.06H223.19V617.65H224.03V618.23H225.06V618.3H226.08V618.37H227.11V618.44H228.14V618.51H229.17V618.57H230.19V618.64H231.22V618.71H232.25V618.78H233.27V618.85H234.3V618.92H235.33V618.99H236.17V619.82H237V620.66H237.84V621.5H238.34V622.44H238.84V623.38H239.35V624.32H239.85V625.26H240.69V626.27H241.52V627.27H242.36V628.28H243.2V628.69H244.03V629.11H244.87V629.53H245.86V629.53H246.84V629.53H247.83V629.53H248.81V629.53H249.8V629.53H250.78V629.53H251.77V629.53H252.75V629.53H253.74V629.53H254.72V629.53H255.71V629.53H256.69V629.53H257.68V629.53H258.66V629.53H259.65V629.53H260.63V629.53H261.62V629.53H262.6V629.53H263.59V629.53H264.57V629.53H265.56V629.53H266.54V629.53H267.53V629.53H268.51V629.53H269.5V629.53H270.48V629.53H270.9V630.62H271.32V631.71H271.74V632.8H272.57V633.47H273.41V634.13H274.25V634.8H275.28V634.85H276.3V634.9H277.33V634.94H278.36V634.99H279.38V635.03H280.41V635.08H281.44V635.12H282.47V635.17H283.49V635.22H284.52V635.26H285.55V635.31H285.97V636.27H286.38V637.23H286.8V638.19H287.22V639.16H287.64V640.12H288.06V641.08H289.05V641.08H290.04V641.08H291.03V641.08H292.02V641.08H293.01V641.08H294.01V641.08H295V641.08H295.99V641.08H296.98V641.08H297.97V641.08H298.96V641.08H299.95V641.08H300.94V641.08H301.93V641.08H302.93V641.08H303.92V641.08H304.91V641.08H305.9V641.08H306.89V641.08" stroke="#e23a3a" stroke-width="0.85" fill="none"/>
<path d="M188.29 585.09H190.29M189.29 584.09V586.09M189.13 585.92H191.13M190.13 584.92V586.92M190.64 587.6H192.64M191.64 586.6V588.6M191.64 589.61H193.64M192.64 588.61V590.61M192.65 591.62H194.65M193.65 590.62V592.62M193.65 593.62H195.65M194.65 592.62V594.62M194.66 595.63H196.66M195.66 594.63V596.63M195.66 597.64H197.66M196.66 596.64V598.64M196.66 599.65H198.66M197.66 598.65V600.65M197.67 601.66H199.67M198.67 600.66V602.66M198.67 603.57H200.67M199.67 602.57V604.57M199.68 605.38H201.68M200.68 604.38V606.38M200.9 607.18H202.9M201.9 606.18V608.18M202.78 608.69H204.78M203.78 607.69V609.69M203.73 609.44H205.73M204.73 608.44V610.44M204.67 610.2H206.67M205.67 609.2V611.2M205.61 611.14H207.61M206.61 610.14V612.14M206.55 612.08H208.55M207.55 611.08V613.08M207.49 613.02H209.49M208.49 612.02V614.02M208.43 613.96H210.43M209.43 612.96V614.96M209.38 614.91H211.38M210.38 613.91V615.91M210.32 615.85H212.32M211.32 614.85V616.85M211.26 616.79H213.26M212.26 615.79V617.79M212.2 617.73H214.2M213.2 616.73V618.73M213.14 618.67H215.14M214.14 617.67V619.67M214.08 619.61H216.08M215.08 618.61V620.61M215.03 620.55H217.03M216.03 619.55V621.55M215.97 621.5H217.97M216.97 620.5V622.5M216.91 622.12H218.91M217.91 621.12V623.12M217.85 622.75H219.85M218.85 621.75V623.75M218.79 623.38H220.79M219.79 622.38V624.38M220.68 624.64H222.68M221.68 623.64V625.64M222.56 625.89H224.56M223.56 624.89V626.89M223.5 626.52H225.5M224.5 625.52V627.52M224.44 627.15H226.44M225.44 626.15V628.15M226.32 628.4H228.32M227.32 627.4V629.4M227.27 629.03H229.27M228.27 628.03V630.03M228.21 629.47H230.21M229.21 628.47V630.47M229.15 629.91H231.15M230.15 628.91V630.91M231.03 630.79H233.03M232.03 629.79V631.79M231.97 631.29H233.97M232.97 630.29V632.29M232.92 631.79H234.92M233.92 630.79V632.79M233.86 632.29H235.86M234.86 631.29V633.29M234.83 632.8H236.83M235.83 631.8V633.8M235.84 633.2H237.84M236.84 632.2V634.2M236.84 633.6H238.84M237.84 632.6V634.6M237.84 634H239.84M238.84 633V635M240.86 635.16H242.86M241.86 634.16V636.16M243.87 636.21H245.87M244.87 635.21V637.21M245.88 636.91H247.88M246.88 635.91V637.91M247.89 637.62H249.89M248.89 636.62V638.62M250.9 638.72H252.9M251.9 637.72V639.72M253.91 639.93H255.91M254.91 638.93V640.93M257.03 640.75H259.03M258.03 639.75V641.75M259.12 641.17H261.12M260.12 640.17V642.17M262.11 642.4H264.11M263.11 641.4V643.4M266.97 645.55H268.97M267.97 644.55V646.55M272.87 650.62H274.87M273.87 649.62V651.62M279.69 651.79H281.69M280.69 650.79V652.79M285.64 651.94H287.64M286.64 650.94V652.94M293.49 652.82H295.49M294.49 651.82V653.82" stroke="#3852ac" stroke-width="0.6" fill="none"/>
<path d="M188.38 585.09H190.38M189.38 584.09V586.09M190.39 585.29H192.39M191.39 584.29V586.29M191.39 585.39H193.39M192.39 584.39V586.39M193.32 585.59H195.32M194.32 584.59V586.59M194.15 586.68H196.15M195.15 585.68V587.68M195.88 588.85H197.88M196.88 587.85V589.85M196.82 589.48H198.82M197.82 588.48V590.48M198.7 590.74H200.7M199.7 589.74V591.74M200.12 592.31H202.12M201.12 591.31V593.31M201.37 594.19H203.37M202.37 593.19V595.19M202.31 596.18H204.31M203.31 595.18V597.18M203.15 598.27H205.15M204.15 597.27V599.27M203.99 600.36H205.99M204.99 599.36V601.36M204.67 601.41H206.67M205.67 600.41V602.41M206.55 602.66H208.55M207.55 601.66V603.66M207.49 603.29H209.49M208.49 602.29V604.29M209.22 604.76H211.22M210.22 603.76V605.76M210.95 606.43H212.95M211.95 605.43V607.43M211.89 606.87H213.89M212.89 605.87V607.87M212.83 607.31H214.83M213.83 606.31V608.31M214.71 608.19H216.71M215.71 607.19V609.19M216.59 609.82H218.59M217.59 608.82V610.82M217.54 610.64H219.54M218.54 609.64V611.64M218.76 612.46H220.76M219.76 611.46V613.46M219.76 614.47H221.76M220.76 613.47V615.47M220.94 616.47H222.94M221.94 615.47V617.47M222.61 617.65H224.61M223.61 616.65V618.65M223.54 618.23H225.54M224.54 617.23V619.23M225.6 618.37H227.6M226.6 617.37V619.37M226.62 618.44H228.62M227.62 617.44V619.44M228.68 618.57H230.68M229.68 617.57V619.57M229.71 618.64H231.71M230.71 617.64V619.64M230.73 618.71H232.73M231.73 617.71V619.71M232.79 618.85H234.79M233.79 617.85V619.85M234.75 618.99H236.75M235.75 617.99V619.99M236.42 620.66H238.42M237.42 619.66V621.66M237.59 622.44H239.59M238.59 621.44V623.44M238.6 624.32H240.6M239.6 623.32V625.32M240.1 626.27H242.1M241.1 625.27V627.27M242.61 628.69H244.61M243.61 627.69V629.69M245.35 629.53H247.35M246.35 628.53V630.53M248.3 629.53H250.3M249.3 628.53V630.53M251.26 629.53H253.26M252.26 628.53V630.53M254.21 629.53H256.21M255.21 628.53V630.53M257.17 629.53H259.17M258.17 628.53V630.53M260.12 629.53H262.12M261.12 628.53V630.53M267.02 629.53H269.02M268.02 628.53V630.53M271.99 633.47H273.99M272.99 632.47V634.47M277.87 634.99H279.87M278.87 633.99V635.99M284.76 635.31H286.76M285.76 634.31V636.31M290.53 641.08H292.53M291.53 640.08V642.08M296.47 641.08H298.47M297.47 640.08V642.08M302.42 641.08H304.42M303.42 640.08V642.08" stroke="#e23a3a" stroke-width="0.6" fill="none"/>
<rect x="188.2" y="581.8" width="122.6" height="81.1" fill="none" stroke="#222" stroke-width="0.6"/>
<text x="242.86" y="579.25" font-size="5.1" stroke="#111" stroke-width="0.16" text-anchor="middle" transform="rotate(0.25 242.86 579.25)" fill="#111">FOLR2 Low</text>
<line x1="186.2" y1="585.09" x2="188.2" y2="585.09" stroke="#222" stroke-width="0.5"/>
<text x="182.7" y="585.09" font-size="5.6" stroke="#111" stroke-width="0.1" text-anchor="middle" transform="rotate(-89.75 182.7 585.09)" fill="#111">1.0</text>
<line x1="186.2" y1="600.15" x2="188.2" y2="600.15" stroke="#222" stroke-width="0.5"/>
<text x="182.7" y="600.15" font-size="5.6" stroke="#111" stroke-width="0.1" text-anchor="middle" transform="rotate(-89.75 182.7 600.15)" fill="#111">0.8</text>
<line x1="186.2" y1="615.22" x2="188.2" y2="615.22" stroke="#222" stroke-width="0.5"/>
<text x="182.7" y="615.22" font-size="5.6" stroke="#111" stroke-width="0.1" text-anchor="middle" transform="rotate(-89.75 182.7 615.22)" fill="#111">0.6</text>
<line x1="186.2" y1="630.28" x2="188.2" y2="630.28" stroke="#222" stroke-width="0.5"/>
<text x="182.7" y="630.28" font-size="5.6" stroke="#111" stroke-width="0.1" text-anchor="middle" transform="rotate(-89.75 182.7 630.28)" fill="#111">0.4</text>
<line x1="186.2" y1="645.35" x2="188.2" y2="645.35" stroke="#222" stroke-width="0.5"/>
<text x="182.7" y="645.35" font-size="5.6" stroke="#111" stroke-width="0.1" text-anchor="middle" transform="rotate(-89.75 182.7 645.35)" fill="#111">0.2</text>
<line x1="186.2" y1="659.91" x2="188.2" y2="659.91" stroke="#222" stroke-width="0.5"/>
<text x="182.7" y="659.91" font-size="5.6" stroke="#111" stroke-width="0.1" text-anchor="middle" transform="rotate(-89.75 182.7 659.91)" fill="#111">0.0</text>
<line x1="189.63" y1="662.9" x2="189.63" y2="664.9" stroke="#222" stroke-width="0.5"/>
<text x="189.63" y="670.3" font-size="5" stroke="#111" stroke-width="0.18" text-anchor="middle" transform="rotate(0.25 189.63 670.3)" fill="#111">0</text>
<line x1="213.48" y1="662.9" x2="213.48" y2="664.9" stroke="#222" stroke-width="0.5"/>
<text x="213.48" y="670.3" font-size="5" stroke="#111" stroke-width="0.18" text-anchor="middle" transform="rotate(0.25 213.48 670.3)" fill="#111">50</text>
<line x1="237.84" y1="662.9" x2="237.84" y2="664.9" stroke="#222" stroke-width="0.5"/>
<text x="237.84" y="670.3" font-size="5" stroke="#111" stroke-width="0.18" text-anchor="middle" transform="rotate(0.25 237.84 670.3)" fill="#111">100</text>
<line x1="261.69" y1="662.9" x2="261.69" y2="664.9" stroke="#222" stroke-width="0.5"/>
<text x="261.69" y="670.3" font-size="5" stroke="#111" stroke-width="0.18" text-anchor="middle" transform="rotate(0.25 261.69 670.3)" fill="#111">150</text>
<line x1="285.55" y1="662.9" x2="285.55" y2="664.9" stroke="#222" stroke-width="0.5"/>
<text x="285.55" y="670.3" font-size="5" stroke="#111" stroke-width="0.18" text-anchor="middle" transform="rotate(0.25 285.55 670.3)" fill="#111">200</text>
<line x1="309.9" y1="662.9" x2="309.9" y2="664.9" stroke="#222" stroke-width="0.5"/>
<text x="309.9" y="670.3" font-size="5" stroke="#111" stroke-width="0.18" text-anchor="middle" transform="rotate(0.25 309.9 670.3)" fill="#111">250</text>
<text x="174.4" y="614.05" font-size="7.5" stroke="#111" stroke-width="0.08" text-anchor="middle" transform="rotate(-89.75 174.4 614.05)" fill="#111">Survival Fraction</text>
<text x="244.5" y="675.7" font-size="5.1" stroke="#111" stroke-width="0.16" text-anchor="middle" transform="rotate(0.25 244.5 675.7)" fill="#111">OS (month)</text>
<text x="202.69" y="652.83" font-size="5.1" stroke="#d83535" stroke-width="0.14" transform="rotate(0.25 202.69 652.83)" fill="#d83535">CTL Top (n=133)</text>
<text x="202.69" y="658.85" font-size="5.1" stroke="#3953a8" stroke-width="0.14" transform="rotate(0.25 202.69 658.85)" fill="#3953a8">CTL Bottom (n=133)</text>
<text x="343.2" y="578.3" font-size="9.2" transform="rotate(0.25 343.2 578.3)">I</text>
<text x="447.24" y="572.32" font-size="5.5" stroke="#111" stroke-width="0.2" transform="rotate(0.25 447.24 572.32)" fill="#111">Continuous z= 2.71 , p= 0.00667</text>
<path d="M372.16 584.59H444.73V584.59" stroke="#3852ac" stroke-width="0.8" fill="none" stroke-dasharray="3.9 2.3"/>
<path d="M372.16 584.59H376.43V584.59H376.43V592.12H415.35V592.12H415.35V609.19H488.67V609.19" stroke="#e23a3a" stroke-width="0.8" fill="none"/>
<path d="M383.06 584.59H384.86M383.96 583.69V585.49M389.34 584.59H391.14M390.24 583.69V585.49M395.62 584.59H397.42M396.52 583.69V585.49M405.66 584.59H407.46M406.56 583.69V585.49M420.73 584.59H422.53M421.63 583.69V585.49M443.83 584.59H445.63M444.73 583.69V585.49" stroke="#3852ac" stroke-width="0.55" fill="none"/>
<path d="M394.36 592.12H396.16M395.26 591.22V593.02M400.64 592.12H402.44M401.54 591.22V593.02M408.17 592.12H409.97M409.07 591.22V593.02M417.71 609.19H419.51M418.61 608.29V610.09M452.62 609.19H454.42M453.52 608.29V610.09M487.77 609.19H489.57M488.67 608.29V610.09" stroke="#e23a3a" stroke-width="0.55" fill="none"/>
<rect x="370.9" y="581.2" width="121.4" height="81.3" fill="none" stroke="#222" stroke-width="0.6"/>
<text x="423.39" y="579.25" font-size="5.1" stroke="#111" stroke-width="0.16" text-anchor="middle" transform="rotate(0.25 423.39 579.25)" fill="#111">KCNMA1 High</text>
<line x1="368.9" y1="584.59" x2="370.9" y2="584.59" stroke="#222" stroke-width="0.5"/>
<text x="365.4" y="584.59" font-size="5.6" stroke="#111" stroke-width="0.1" text-anchor="middle" transform="rotate(-89.75 365.4 584.59)" fill="#111">1.0</text>
<line x1="368.9" y1="599.4" x2="370.9" y2="599.4" stroke="#222" stroke-width="0.5"/>
<text x="365.4" y="599.4" font-size="5.6" stroke="#111" stroke-width="0.1" text-anchor="middle" transform="rotate(-89.75 365.4 599.4)" fill="#111">0.8</text>
<line x1="368.9" y1="614.47" x2="370.9" y2="614.47" stroke="#222" stroke-width="0.5"/>
<text x="365.4" y="614.47" font-size="5.6" stroke="#111" stroke-width="0.1" text-anchor="middle" transform="rotate(-89.75 365.4 614.47)" fill="#111">0.6</text>
<line x1="368.9" y1="629.53" x2="370.9" y2="629.53" stroke="#222" stroke-width="0.5"/>
<text x="365.4" y="629.53" font-size="5.6" stroke="#111" stroke-width="0.1" text-anchor="middle" transform="rotate(-89.75 365.4 629.53)" fill="#111">0.4</text>
<line x1="368.9" y1="644.85" x2="370.9" y2="644.85" stroke="#222" stroke-width="0.5"/>
<text x="365.4" y="644.85" font-size="5.6" stroke="#111" stroke-width="0.1" text-anchor="middle" transform="rotate(-89.75 365.4 644.85)" fill="#111">0.2</text>
<line x1="368.9" y1="659.91" x2="370.9" y2="659.91" stroke="#222" stroke-width="0.5"/>
<text x="365.4" y="659.91" font-size="5.6" stroke="#111" stroke-width="0.1" text-anchor="middle" transform="rotate(-89.75 365.4 659.91)" fill="#111">0.0</text>
<line x1="372.16" y1="662.5" x2="372.16" y2="664.5" stroke="#222" stroke-width="0.5"/>
<text x="372.16" y="669.9" font-size="5" stroke="#111" stroke-width="0.18" text-anchor="middle" transform="rotate(0.25 372.16 669.9)" fill="#111">0</text>
<line x1="400.79" y1="662.5" x2="400.79" y2="664.5" stroke="#222" stroke-width="0.5"/>
<text x="400.79" y="669.9" font-size="5" stroke="#111" stroke-width="0.18" text-anchor="middle" transform="rotate(0.25 400.79 669.9)" fill="#111">20</text>
<line x1="429.16" y1="662.5" x2="429.16" y2="664.5" stroke="#222" stroke-width="0.5"/>
<text x="429.16" y="669.9" font-size="5" stroke="#111" stroke-width="0.18" text-anchor="middle" transform="rotate(0.25 429.16 669.9)" fill="#111">40</text>
<line x1="457.53" y1="662.5" x2="457.53" y2="664.5" stroke="#222" stroke-width="0.5"/>
<text x="457.53" y="669.9" font-size="5" stroke="#111" stroke-width="0.18" text-anchor="middle" transform="rotate(0.25 457.53 669.9)" fill="#111">60</text>
<line x1="486.16" y1="662.5" x2="486.16" y2="664.5" stroke="#222" stroke-width="0.5"/>
<text x="486.16" y="669.9" font-size="5" stroke="#111" stroke-width="0.18" text-anchor="middle" transform="rotate(0.25 486.16 669.9)" fill="#111">80</text>
<text x="357.1" y="613.55" font-size="7.5" stroke="#111" stroke-width="0.08" text-anchor="middle" transform="rotate(-89.75 357.1 613.55)" fill="#111">Survival Fraction</text>
<text x="426.6" y="675.3" font-size="5.1" stroke="#111" stroke-width="0.16" text-anchor="middle" transform="rotate(0.25 426.6 675.3)" fill="#111">OS (month)</text>
<text x="384.72" y="652.83" font-size="5.1" stroke="#d83535" stroke-width="0.14" transform="rotate(0.25 384.72 652.83)" fill="#d83535">CTL Top (n=11)</text>
<text x="384.72" y="658.6" font-size="5.1" stroke="#3953a8" stroke-width="0.14" transform="rotate(0.25 384.72 658.6)" fill="#3953a8">CTL Bottom (n=10)</text>
<path d="M527.55 584.45H528.43V584.99H529.3V585.53H530.18V586.07H531.06V586.61H532.07V587.62H533.08V588.63H534.1V589.64H535.11V590.66H535.92V591.58H536.73V592.49H537.54V593.41H538.35V594.33H539.16V595.25H540.17V596.33H541.19V597.41H542.2V598.49H543.21V599.57H544.22V600.51H545.24V601.46H546.25V602.41H547.26V603.35H547.94V604.23H548.61V605.11H549.29V605.98H549.96V606.86H550.98V607.2H551.99V607.54H553V607.87H554.01V608.21H555.09V608.48H556.18V608.75H557.26V609.02H558.34V609.29H559.42V609.56H560.5V609.83H561.58V610.1H562.66V610.37H563.74V610.64H564.82V610.91H565.83V611.39H566.84V611.86H567.86V612.33H568.87V612.8H569.88V612.8H570.89V612.8H571.91V612.8H572.92V612.8H573.93V612.8H574.95V612.8H575.96V612.8H576.97V612.8H577.98V612.8H579V612.8H580.01V612.8H581.02V612.8H581.99V612.96H582.97V613.13H583.94V613.29H584.91V613.45H585.88V613.61H585.96V614.58H586.04V615.54H586.11V616.51H586.19V617.47H586.27V618.44H586.35V619.4H586.42V620.36H586.51V621.36H586.6V622.35H586.69V623.34H586.78V624.33H586.87V625.32H586.96V626.31H587.05V627.3H587.14V628.29H587.23V629.28H588.23V629.33H589.23V629.39H590.23V629.44H591.23V629.49H592.23V629.55H593.23V629.6H594.23V629.66H595.23V629.71H596.23V629.76H597.23V629.82" stroke="#3852ac" stroke-width="0.85" fill="none" stroke-dasharray="3.9 2.3"/>
<path d="M527.55 584.45H528.52V584.77H529.49V585.09H530.46V585.42H531.44V585.74H532.41V586.07H533.49V586.61H534.57V587.15H535.65V587.69H536.73V588.23H537.81V588.77H538.89V589.31H539.97V589.85H541.05V590.39H542.13V590.93H543.21V591.47H544.22V591.94H545.24V592.41H546.25V592.89H547.26V593.36H548.23V593.55H549.19V593.74H550.16V593.94H551.12V594.13H552.09V594.32H553.05V594.52H554.01V594.71H555.09V595.03H556.18V595.36H557.26V595.68H558.34V596H559.42V596.33H560.38V596.48H561.35V596.64H562.31V596.79H563.27V596.95H564.24V597.1H565.2V597.25H566.17V597.41H567.18V597.75H568.19V598.08H569.21V598.42H570.22V598.76H571.2V598.76H572.18V598.76H573.17V598.76H574.15V598.76H575.13V598.76H576.11V598.76H577.09V598.76H578.08V598.76H579.06V598.76H580.04V598.76H581.02V598.76H581.1V599.72H581.18V600.69H581.25V601.65H581.33V602.62H581.41V603.58H581.48V604.55H581.56V605.51H582.46V605.51H583.36V605.51H584.26V605.51H584.26V611.72H585.26V611.72H586.25V611.72H587.24V611.72H588.24V611.72H589.23V611.72H590.22V611.72H591.21V611.72H592.21V611.72H593.2V611.72H594.19V611.72H595.19V611.72H596.18V611.72H597.17V611.72H598.17V611.72H599.16V611.72H600.15V611.72H601.15V611.72H602.14V611.72H603.13V611.72H604.13V611.72H605.12V611.72H606.11V611.72H607.11V611.72H608.1V611.72H609.09V611.72H610.09V611.72H611.08V611.72H612.07V611.72H613.06V611.72H614.06V611.72H615.05V611.72H616.04V611.72H617.04V611.72H618.03V611.72H619.02V611.72H620.02V611.72H621.01V611.72H622V611.72H623V611.72H623.99V611.72H624.98V611.72H625.98V611.72H626.97V611.72H627.96V611.72H628.96V611.72H629.95V611.72H630.94V611.72H631.94V611.72H632.93V611.72H633.92V611.72H634.91V611.72H635.91V611.72H636.9V611.72H637.89V611.72H638.89V611.72H639.88V611.72H640.87V611.72H641.87V611.72H642.86V611.72H643.85V611.72H644.85V611.72H645.84V611.72" stroke="#e23a3a" stroke-width="0.85" fill="none"/>
<path d="M526.74 584.45H529.24M527.99 583.2V585.7M527.61 584.99H530.11M528.86 583.74V586.24M528.49 585.53H530.99M529.74 584.28V586.78M529.37 586.07H531.87M530.62 584.82V587.32M530.31 586.61H532.81M531.56 585.36V587.86M531.33 587.62H533.83M532.58 586.37V588.87M532.34 588.63H534.84M533.59 587.38V589.88M533.35 589.64H535.85M534.6 588.39V590.89M534.26 590.66H536.76M535.51 589.41V591.91M535.07 591.58H537.57M536.32 590.33V592.83M535.89 592.49H538.39M537.14 591.24V593.74M536.7 593.41H539.2M537.95 592.16V594.66M537.51 594.33H540.01M538.76 593.08V595.58M538.42 595.25H540.92M539.67 594V596.5M539.43 596.33H541.93M540.68 595.08V597.58M540.44 597.41H542.94M541.69 596.16V598.66M541.46 598.49H543.96M542.71 597.24V599.74M542.47 599.57H544.97M543.72 598.32V600.82M543.48 600.51H545.98M544.73 599.26V601.76M544.49 601.46H546.99M545.74 600.21V602.71M545.51 602.41H548.01M546.76 601.16V603.66M546.35 603.35H548.85M547.6 602.1V604.6M547.03 604.23H549.53M548.28 602.98V605.48M547.7 605.11H550.2M548.95 603.86V606.36M549.22 606.86H551.72M550.47 605.61V608.11M550.23 607.2H552.73M551.48 605.95V608.45M551.25 607.54H553.75M552.5 606.29V608.79M552.26 607.87H554.76M553.51 606.62V609.12M553.3 608.21H555.8M554.55 606.96V609.46M554.39 608.48H556.89M555.64 607.23V609.73M555.47 608.75H557.97M556.72 607.5V610M556.55 609.02H559.05M557.8 607.77V610.27M557.63 609.29H560.13M558.88 608.04V610.54M558.71 609.56H561.21M559.96 608.31V610.81M559.79 609.83H562.29M561.04 608.58V611.08M560.87 610.1H563.37M562.12 608.85V611.35M561.95 610.37H564.45M563.2 609.12V611.62M563.03 610.64H565.53M564.28 609.39V611.89M564.07 610.91H566.57M565.32 609.66V612.16M565.09 611.39H567.59M566.34 610.14V612.64M566.1 611.86H568.6M567.35 610.61V613.11M567.11 612.33H569.61M568.36 611.08V613.58M568.12 612.8H570.62M569.38 611.55V614.05M569.14 612.8H571.64M570.39 611.55V614.05M570.15 612.8H572.65M571.4 611.55V614.05M571.16 612.8H573.66M572.41 611.55V614.05M573.19 612.8H575.69M574.44 611.55V614.05M574.2 612.8H576.7M575.45 611.55V614.05M575.21 612.8H577.71M576.46 611.55V614.05M576.23 612.8H578.73M577.48 611.55V614.05M577.24 612.8H579.74M578.49 611.55V614.05M578.25 612.8H580.75M579.5 611.55V614.05M579.27 612.8H581.77M580.52 611.55V614.05M580.26 612.8H582.76M581.51 611.55V614.05M581.23 612.96H583.73M582.48 611.71V614.21M582.2 613.13H584.7M583.45 611.88V614.38" stroke="#3852ac" stroke-width="0.6" fill="none"/>
<path d="M526.78 584.45H529.28M528.03 583.2V585.7M527.76 584.77H530.26M529.01 583.52V586.02M528.73 585.09H531.23M529.98 583.84V586.34M529.7 585.42H532.2M530.95 584.17V586.67M530.67 585.74H533.17M531.92 584.49V586.99M531.7 586.07H534.2M532.95 584.82V587.32M532.78 586.61H535.28M534.03 585.36V587.86M533.86 587.15H536.36M535.11 585.9V588.4M534.94 587.69H537.44M536.19 586.44V588.94M536.02 588.23H538.52M537.27 586.98V589.48M537.1 588.77H539.6M538.35 587.52V590.02M538.18 589.31H540.68M539.43 588.06V590.56M539.26 589.85H541.76M540.51 588.6V591.1M540.34 590.39H542.84M541.59 589.14V591.64M541.42 590.93H543.92M542.67 589.68V592.18M542.47 591.47H544.97M543.72 590.22V592.72M543.48 591.94H545.98M544.73 590.69V593.19M544.49 592.41H546.99M545.74 591.16V593.66M545.51 592.89H548.01M546.76 591.64V594.14M546.5 593.36H549M547.75 592.11V594.61M547.46 593.55H549.96M548.71 592.3V594.8M548.42 593.74H550.92M549.67 592.49V594.99M549.39 593.94H551.89M550.64 592.69V595.19M550.35 594.13H552.85M551.6 592.88V595.38M551.32 594.32H553.82M552.57 593.07V595.57M552.28 594.52H554.78M553.53 593.27V595.77M553.3 594.71H555.8M554.55 593.46V595.96M554.39 595.03H556.89M555.64 593.78V596.28M555.47 595.36H557.97M556.72 594.11V596.61M556.55 595.68H559.05M557.8 594.43V596.93M557.63 596H560.13M558.88 594.75V597.25M558.65 596.33H561.15M559.9 595.08V597.58M559.61 596.48H562.11M560.86 595.23V597.73M560.58 596.64H563.08M561.83 595.39V597.89M562.51 596.95H565.01M563.76 595.7V598.2M564.44 597.25H566.94M565.69 596V598.5M565.42 597.41H567.92M566.67 596.16V598.66M566.44 597.75H568.94M567.69 596.5V599M567.45 598.08H569.95M568.7 596.83V599.33M568.46 598.42H570.96M569.71 597.17V599.67M569.46 598.76H571.96M570.71 597.51V600.01M570.44 598.76H572.94M571.69 597.51V600.01M572.41 598.76H574.91M573.66 597.51V600.01M574.37 598.76H576.87M575.62 597.51V600.01M575.35 598.76H577.85M576.6 597.51V600.01M576.33 598.76H578.83M577.58 597.51V600.01M578.3 598.76H580.8M579.55 597.51V600.01M579.28 598.76H581.78M580.53 597.51V600.01M579.96 600.69H582.46M581.21 599.44V601.94M580.2 603.58H582.7M581.45 602.33V604.83M580.76 605.51H583.26M582.01 604.26V606.76M581.66 605.51H584.16M582.91 604.26V606.76" stroke="#e23a3a" stroke-width="0.6" fill="none"/>
<path d="M584.98 617.66H586.78M585.88 616.76V618.56M585.52 622.26H587.32M586.42 621.36V623.16M589.57 629.82H591.37M590.47 628.92V630.72M592.28 629.82H594.08M593.18 628.92V630.72M595.79 629.82H597.59M596.69 628.92V630.72" stroke="#3852ac" stroke-width="0.55" fill="none"/>
<path d="M584.98 611.72H586.78M585.88 610.82V612.62M599.03 611.72H600.83M599.93 610.82V612.62M605.78 611.72H607.58M606.68 610.82V612.62M624.68 611.72H626.48M625.58 610.82V612.62M644.94 611.72H646.74M645.84 610.82V612.62" stroke="#e23a3a" stroke-width="0.55" fill="none"/>
<rect x="528.2" y="581.2" width="122.6" height="81.3" fill="none" stroke="#222" stroke-width="0.6"/>
<text x="581.83" y="578.85" font-size="5.1" stroke="#111" stroke-width="0.16" text-anchor="middle" transform="rotate(0.25 581.83 578.85)" fill="#111">KCNMA1 Low</text>
<line x1="526.2" y1="583.91" x2="528.2" y2="583.91" stroke="#222" stroke-width="0.5"/>
<text x="522.7" y="583.91" font-size="5.6" stroke="#111" stroke-width="0.1" text-anchor="middle" transform="rotate(-89.75 522.7 583.91)" fill="#111">1.0</text>
<line x1="526.2" y1="599.3" x2="528.2" y2="599.3" stroke="#222" stroke-width="0.5"/>
<text x="522.7" y="599.3" font-size="5.6" stroke="#111" stroke-width="0.1" text-anchor="middle" transform="rotate(-89.75 522.7 599.3)" fill="#111">0.8</text>
<line x1="526.2" y1="614.42" x2="528.2" y2="614.42" stroke="#222" stroke-width="0.5"/>
<text x="522.7" y="614.42" font-size="5.6" stroke="#111" stroke-width="0.1" text-anchor="middle" transform="rotate(-89.75 522.7 614.42)" fill="#111">0.6</text>
<line x1="526.2" y1="629.28" x2="528.2" y2="629.28" stroke="#222" stroke-width="0.5"/>
<text x="522.7" y="629.28" font-size="5.6" stroke="#111" stroke-width="0.1" text-anchor="middle" transform="rotate(-89.75 522.7 629.28)" fill="#111">0.4</text>
<line x1="526.2" y1="644.67" x2="528.2" y2="644.67" stroke="#222" stroke-width="0.5"/>
<text x="522.7" y="644.67" font-size="5.6" stroke="#111" stroke-width="0.1" text-anchor="middle" transform="rotate(-89.75 522.7 644.67)" fill="#111">0.2</text>
<line x1="526.2" y1="659.53" x2="528.2" y2="659.53" stroke="#222" stroke-width="0.5"/>
<text x="522.7" y="659.53" font-size="5.6" stroke="#111" stroke-width="0.1" text-anchor="middle" transform="rotate(-89.75 522.7 659.53)" fill="#111">0.0</text>
<line x1="529.71" y1="662.5" x2="529.71" y2="664.5" stroke="#222" stroke-width="0.5"/>
<text x="529.71" y="669.9" font-size="5" stroke="#111" stroke-width="0.18" text-anchor="middle" transform="rotate(0.25 529.71 669.9)" fill="#111">0</text>
<line x1="555.36" y1="662.5" x2="555.36" y2="664.5" stroke="#222" stroke-width="0.5"/>
<text x="555.36" y="669.9" font-size="5" stroke="#111" stroke-width="0.18" text-anchor="middle" transform="rotate(0.25 555.36 669.9)" fill="#111">50</text>
<line x1="580.48" y1="662.5" x2="580.48" y2="664.5" stroke="#222" stroke-width="0.5"/>
<text x="580.48" y="669.9" font-size="5" stroke="#111" stroke-width="0.18" text-anchor="middle" transform="rotate(0.25 580.48 669.9)" fill="#111">100</text>
<line x1="606.14" y1="662.5" x2="606.14" y2="664.5" stroke="#222" stroke-width="0.5"/>
<text x="606.14" y="669.9" font-size="5" stroke="#111" stroke-width="0.18" text-anchor="middle" transform="rotate(0.25 606.14 669.9)" fill="#111">150</text>
<line x1="631.8" y1="662.5" x2="631.8" y2="664.5" stroke="#222" stroke-width="0.5"/>
<text x="631.8" y="669.9" font-size="5" stroke="#111" stroke-width="0.18" text-anchor="middle" transform="rotate(0.25 631.8 669.9)" fill="#111">200</text>
<text x="514.4" y="613.55" font-size="7.5" stroke="#111" stroke-width="0.08" text-anchor="middle" transform="rotate(-89.75 514.4 613.55)" fill="#111">Survival Fraction</text>
<text x="584.5" y="675.3" font-size="5.1" stroke="#111" stroke-width="0.16" text-anchor="middle" transform="rotate(0.25 584.5 675.3)" fill="#111">OS (month)</text>
<text x="541.86" y="652.58" font-size="5.1" stroke="#d83535" stroke-width="0.14" transform="rotate(0.25 541.86 652.58)" fill="#d83535">CTL Top (n=260)</text>
<text x="541.86" y="658.52" font-size="5.1" stroke="#3953a8" stroke-width="0.14" transform="rotate(0.25 541.86 658.52)" fill="#3953a8">CTL Bottom (n=260)</text>
<text x="2.9" y="699.2" font-size="9.2" transform="rotate(0.25 2.9 699.2)">J</text>
<text x="109.23" y="696.82" font-size="5.5" stroke="#111" stroke-width="0.2" transform="rotate(0.25 109.23 696.82)" fill="#111">Continuous z= 2.73 , p= 0.00641</text>
<path d="M33.4 709.33H46.45V709.33H46.45V713.1H48.71V713.1H48.71V717.87H89.14V717.87H89.14V729.67H116.01V729.67" stroke="#3852ac" stroke-width="0.8" fill="none" stroke-dasharray="3.9 2.3"/>
<path d="M33.4 709.33H35.4V709.33H35.4V713.1H37.92V713.1H37.92V714.86H44.19V714.86H44.19V717.87H58.76V717.87H58.76V723.65H66.04V723.65H66.04V730.18H150.15V730.18H150.15V784.41" stroke="#e23a3a" stroke-width="0.8" fill="none"/>
<path d="M50.07 717.87H51.87M50.97 716.97V718.77M58.11 717.87H59.91M59.01 716.97V718.77M71.92 717.87H73.72M72.82 716.97V718.77M95.77 729.67H97.57M96.67 728.77V730.57M99.54 729.67H101.34M100.44 728.77V730.57M109.58 729.67H111.38M110.48 728.77V730.57" stroke="#3852ac" stroke-width="0.55" fill="none"/>
<path d="M49.32 717.87H51.12M50.22 716.97V718.77M51.08 717.87H52.88M51.98 716.97V718.77M55.6 717.87H57.4M56.5 716.97V718.77M72.67 730.18H74.47M73.57 729.28V731.08M92.01 730.18H93.81M92.91 729.28V731.08M107.07 730.18H108.87M107.97 729.28V731.08M119.12 730.18H120.92M120.02 729.28V731.08M126.41 730.18H128.21M127.31 729.28V731.08" stroke="#e23a3a" stroke-width="0.55" fill="none"/>
<rect x="32.9" y="706.2" width="123" height="81.2" fill="none" stroke="#222" stroke-width="0.6"/>
<text x="87.88" y="703.75" font-size="5.1" stroke="#111" stroke-width="0.16" text-anchor="middle" transform="rotate(0.25 87.88 703.75)" fill="#111">OLR1 High</text>
<line x1="30.9" y1="709.33" x2="32.9" y2="709.33" stroke="#222" stroke-width="0.5"/>
<text x="27.4" y="709.33" font-size="5.6" stroke="#111" stroke-width="0.1" text-anchor="middle" transform="rotate(-89.75 27.4 709.33)" fill="#111">1.0</text>
<line x1="30.9" y1="724.4" x2="32.9" y2="724.4" stroke="#222" stroke-width="0.5"/>
<text x="27.4" y="724.4" font-size="5.6" stroke="#111" stroke-width="0.1" text-anchor="middle" transform="rotate(-89.75 27.4 724.4)" fill="#111">0.8</text>
<line x1="30.9" y1="739.47" x2="32.9" y2="739.47" stroke="#222" stroke-width="0.5"/>
<text x="27.4" y="739.47" font-size="5.6" stroke="#111" stroke-width="0.1" text-anchor="middle" transform="rotate(-89.75 27.4 739.47)" fill="#111">0.6</text>
<line x1="30.9" y1="754.53" x2="32.9" y2="754.53" stroke="#222" stroke-width="0.5"/>
<text x="27.4" y="754.53" font-size="5.6" stroke="#111" stroke-width="0.1" text-anchor="middle" transform="rotate(-89.75 27.4 754.53)" fill="#111">0.4</text>
<line x1="30.9" y1="769.6" x2="32.9" y2="769.6" stroke="#222" stroke-width="0.5"/>
<text x="27.4" y="769.6" font-size="5.6" stroke="#111" stroke-width="0.1" text-anchor="middle" transform="rotate(-89.75 27.4 769.6)" fill="#111">0.2</text>
<line x1="30.9" y1="784.66" x2="32.9" y2="784.66" stroke="#222" stroke-width="0.5"/>
<text x="27.4" y="784.66" font-size="5.6" stroke="#111" stroke-width="0.1" text-anchor="middle" transform="rotate(-89.75 27.4 784.66)" fill="#111">0.0</text>
<line x1="34.4" y1="787.4" x2="34.4" y2="789.4" stroke="#222" stroke-width="0.5"/>
<text x="34.4" y="794.8" font-size="5" stroke="#111" stroke-width="0.18" text-anchor="middle" transform="rotate(0.25 34.4 794.8)" fill="#111">0</text>
<line x1="55.99" y1="787.4" x2="55.99" y2="789.4" stroke="#222" stroke-width="0.5"/>
<text x="55.99" y="794.8" font-size="5" stroke="#111" stroke-width="0.18" text-anchor="middle" transform="rotate(0.25 55.99 794.8)" fill="#111">20</text>
<line x1="77.84" y1="787.4" x2="77.84" y2="789.4" stroke="#222" stroke-width="0.5"/>
<text x="77.84" y="794.8" font-size="5" stroke="#111" stroke-width="0.18" text-anchor="middle" transform="rotate(0.25 77.84 794.8)" fill="#111">40</text>
<line x1="99.18" y1="787.4" x2="99.18" y2="789.4" stroke="#222" stroke-width="0.5"/>
<text x="99.18" y="794.8" font-size="5" stroke="#111" stroke-width="0.18" text-anchor="middle" transform="rotate(0.25 99.18 794.8)" fill="#111">60</text>
<line x1="120.53" y1="787.4" x2="120.53" y2="789.4" stroke="#222" stroke-width="0.5"/>
<text x="120.53" y="794.8" font-size="5" stroke="#111" stroke-width="0.18" text-anchor="middle" transform="rotate(0.25 120.53 794.8)" fill="#111">80</text>
<line x1="142.37" y1="787.4" x2="142.37" y2="789.4" stroke="#222" stroke-width="0.5"/>
<text x="142.37" y="794.8" font-size="5" stroke="#111" stroke-width="0.18" text-anchor="middle" transform="rotate(0.25 142.37 794.8)" fill="#111">100</text>
<text x="19.1" y="738.5" font-size="7.5" stroke="#111" stroke-width="0.08" text-anchor="middle" transform="rotate(-89.75 19.1 738.5)" fill="#111">Survival Fraction</text>
<text x="89.4" y="800.2" font-size="5.1" stroke="#111" stroke-width="0.16" text-anchor="middle" transform="rotate(0.25 89.4 800.2)" fill="#111">OS (month)</text>
<text x="46.95" y="777.07" font-size="5.1" stroke="#d83535" stroke-width="0.14" transform="rotate(0.25 46.95 777.07)" fill="#d83535">CTL Top (n=29)</text>
<text x="46.95" y="783.35" font-size="5.1" stroke="#3953a8" stroke-width="0.14" transform="rotate(0.25 46.95 783.35)" fill="#3953a8">CTL Bottom (n=28)</text>
<path d="M190.13 708.83H191.07V709.65H192.01V710.46H192.96V711.28H193.9V712.1H194.84V713.16H195.78V714.23H196.72V715.3H197.66V716.36H198.61V717.31H199.55V718.25H200.49V719.19H201.43V720.13H202.37V721.07H203.31V722.01H204.26V722.96H205.2V723.9H206.14V724.84H207.08V725.78H208.02V726.72H208.96V727.66H209.91V728.61H210.85V729.55H211.79V730.49H212.73V731.43H213.73V731.78H214.74V732.13H215.74V732.49H216.75V732.84H217.75V733.19H218.8V733.52H219.84V733.86H220.89V734.19H221.94V734.53H222.98V734.86H224.03V735.2H225.08V735.53H226.12V735.87H227.17V736.2H228.21V736.54H229.26V736.87H230.31V737.21H231.27V737.24H232.24V737.28H233.2V737.32H234.17V737.36H235.14V737.4H236.1V737.44H237.07V737.48H238.03V737.51H239V737.55H239.96V737.59H240.93V737.63H241.9V737.67H242.86V737.71H243.87V737.81H244.87V737.91H245.87V738.01H246.88V738.11H247.88V738.21H247.97V739.17H248.05V740.14H248.13V741.1H248.22V742.06H248.3V743.02H248.39V743.99H248.44V744.95H248.5V745.92H248.56V746.88H248.62V747.85H248.68V748.81H248.73V749.78H248.79V750.75H248.85V751.71H248.91V752.68H248.96V753.64H249.02V754.61H249.08V755.57H249.14V756.54H250.14V756.59H251.15V756.64H252.15V756.69H253.16V756.74H254.16V756.79H255.16V756.84H256.17V756.89H257.17V756.94H258.18V756.99H259.18V757.04" stroke="#3852ac" stroke-width="0.85" fill="none" stroke-dasharray="3.9 2.3"/>
<path d="M190.13 708.83H191.14V709.18H192.14V709.54H193.14V709.89H194.15V710.24H195.15V710.59H196.16V710.99H197.16V711.39H198.17V711.8H199.17V712.2H200.18V712.6H201.18V713.1H202.18V713.6H203.19V714.11H204.19V714.61H205.2V715.11H206.2V715.61H207.21V716.11H208.21V716.62H209.21V717.12H210.22V717.62H211.27V717.87H212.31V718.12H213.36V718.37H214.4V718.62H215.45V718.88H216.5V719.13H217.54V719.29H218.59V719.46H219.64V719.63H220.68V719.8H221.73V719.96H222.77V720.13H223.82V720.47H224.87V720.8H225.91V721.14H226.96V721.47H228V721.81H229.05V722.14H230.02V722.14H230.99V722.14H231.96V722.14H232.93V722.14H233.91V722.14H234.88V722.14H235.85V722.14H236.82V722.14H237.79V722.14H238.76V722.14H239.73V722.14H240.7V722.14H241.67V722.14H242.64V722.14H243.61V722.14H243.7V723.19H243.78V724.23H243.87V725.28H243.95V726.33H244.03V727.37H244.12V728.42H245.11V728.42H246.1V728.42H247.1V728.42H248.09V728.42H249.08V728.42H250.07V728.42H251.07V728.42H252.06V728.42H253.05V728.42H254.04V728.42H255.04V728.42H256.03V728.42H257.02V728.42H258.02V728.42H259.01V728.42H260V728.42H260.99V728.42H261.99V728.42H262.98V728.42H263.97V728.42H264.97V728.42H265.96V728.42H266.95V728.42H267.94V728.42H268.94V728.42H269.93V728.42H270.92V728.42H271.91V728.42H272.91V728.42H273.9V728.42H274.89V728.42H275.89V728.42H276.88V728.42H277.87V728.42H278.86V728.42H279.86V728.42H280.85V728.42H281.84V728.42H282.84V728.42H283.83V728.42H284.82V728.42H285.81V728.42H286.81V728.42H287.8V728.42H288.79V728.42H289.79V728.42H290.78V728.42H291.77V728.42H292.76V728.42H293.76V728.42H294.75V728.42H295.74V728.42H296.73V728.42H297.73V728.42H298.72V728.42H299.71V728.42H300.71V728.42H301.7V728.42H302.69V728.42H303.68V728.42H304.68V728.42H305.67V728.42H306.66V728.42H307.66V728.42H308.65V728.42" stroke="#e23a3a" stroke-width="0.85" fill="none"/>
<path d="M189.35 708.83H191.85M190.6 707.58V710.08M190.29 709.65H192.79M191.54 708.4V710.9M191.24 710.46H193.74M192.49 709.21V711.71M192.18 711.28H194.68M193.43 710.03V712.53M193.12 712.1H195.62M194.37 710.85V713.35M194.06 713.16H196.56M195.31 711.91V714.41M195 714.23H197.5M196.25 712.98V715.48M195.94 715.3H198.44M197.19 714.05V716.55M196.89 716.36H199.39M198.14 715.11V717.61M197.83 717.31H200.33M199.08 716.06V718.56M198.77 718.25H201.27M200.02 717V719.5M199.71 719.19H202.21M200.96 717.94V720.44M200.65 720.13H203.15M201.9 718.88V721.38M201.59 721.07H204.09M202.84 719.82V722.32M202.53 722.01H205.03M203.78 720.76V723.26M203.48 722.96H205.98M204.73 721.71V724.21M204.42 723.9H206.92M205.67 722.65V725.15M205.36 724.84H207.86M206.61 723.59V726.09M206.3 725.78H208.8M207.55 724.53V727.03M207.24 726.72H209.74M208.49 725.47V727.97M208.18 727.66H210.68M209.43 726.41V728.91M209.13 728.61H211.63M210.38 727.36V729.86M210.07 729.55H212.57M211.32 728.3V730.8M211.01 730.49H213.51M212.26 729.24V731.74M211.98 731.43H214.48M213.23 730.18V732.68M212.99 731.78H215.49M214.24 730.53V733.03M213.99 732.13H216.49M215.24 730.88V733.38M215 732.49H217.5M216.25 731.24V733.74M216 732.84H218.5M217.25 731.59V734.09M217.02 733.19H219.52M218.27 731.94V734.44M218.07 733.52H220.57M219.32 732.27V734.77M219.12 733.86H221.62M220.37 732.61V735.11M220.16 734.19H222.66M221.41 732.94V735.44M221.21 734.53H223.71M222.46 733.28V735.78M222.26 734.86H224.76M223.51 733.61V736.11M223.3 735.2H225.8M224.55 733.95V736.45M224.35 735.53H226.85M225.6 734.28V736.78M225.39 735.87H227.89M226.64 734.62V737.12M226.44 736.2H228.94M227.69 734.95V737.45M227.49 736.54H229.99M228.74 735.29V737.79M228.53 736.87H231.03M229.78 735.62V738.12M229.54 737.21H232.04M230.79 735.96V738.46M230.51 737.24H233.01M231.76 735.99V738.49M231.47 737.28H233.97M232.72 736.03V738.53M232.44 737.32H234.94M233.69 736.07V738.57M233.4 737.36H235.9M234.65 736.11V738.61M234.37 737.4H236.87M235.62 736.15V738.65M235.33 737.44H237.83M236.58 736.19V738.69M236.3 737.48H238.8M237.55 736.23V738.73M238.23 737.55H240.73M239.48 736.3V738.8M239.2 737.59H241.7M240.45 736.34V738.84M240.16 737.63H242.66M241.41 736.38V738.88M241.13 737.67H243.63M242.38 736.42V738.92M242.11 737.71H244.61M243.36 736.46V738.96" stroke="#3852ac" stroke-width="0.6" fill="none"/>
<path d="M189.38 708.83H191.88M190.63 707.58V710.08M190.39 709.18H192.89M191.64 707.93V710.43M191.39 709.54H193.89M192.64 708.29V710.79M192.4 709.89H194.9M193.65 708.64V711.14M193.4 710.24H195.9M194.65 708.99V711.49M194.41 710.59H196.91M195.66 709.34V711.84M195.41 710.99H197.91M196.66 709.74V712.24M196.41 711.39H198.91M197.66 710.14V712.64M197.42 711.8H199.92M198.67 710.55V713.05M198.42 712.2H200.92M199.67 710.95V713.45M199.43 712.6H201.93M200.68 711.35V713.85M200.43 713.1H202.93M201.68 711.85V714.35M201.44 713.6H203.94M202.69 712.35V714.85M202.44 714.11H204.94M203.69 712.86V715.36M203.44 714.61H205.94M204.69 713.36V715.86M204.45 715.11H206.95M205.7 713.86V716.36M205.45 715.61H207.95M206.7 714.36V716.86M206.46 716.11H208.96M207.71 714.86V717.36M207.46 716.62H209.96M208.71 715.37V717.87M208.47 717.12H210.97M209.72 715.87V718.37M209.49 717.62H211.99M210.74 716.37V718.87M210.54 717.87H213.04M211.79 716.62V719.12M211.58 718.12H214.08M212.83 716.87V719.37M212.63 718.37H215.13M213.88 717.12V719.62M213.68 718.62H216.18M214.93 717.37V719.87M214.72 718.88H217.22M215.97 717.63V720.13M215.77 719.13H218.27M217.02 717.88V720.38M216.82 719.29H219.32M218.07 718.04V720.54M217.86 719.46H220.36M219.11 718.21V720.71M218.91 719.63H221.41M220.16 718.38V720.88M219.95 719.8H222.45M221.2 718.55V721.05M221 719.96H223.5M222.25 718.71V721.21M222.05 720.13H224.55M223.3 718.88V721.38M223.09 720.47H225.59M224.34 719.22V721.72M224.14 720.8H226.64M225.39 719.55V722.05M225.19 721.14H227.69M226.44 719.89V722.39M226.23 721.47H228.73M227.48 720.22V722.72M227.28 721.81H229.78M228.53 720.56V723.06M228.29 722.14H230.79M229.54 720.89V723.39M229.26 722.14H231.76M230.51 720.89V723.39M230.23 722.14H232.73M231.48 720.89V723.39M232.17 722.14H234.67M233.42 720.89V723.39M234.11 722.14H236.61M235.36 720.89V723.39M235.08 722.14H237.58M236.33 720.89V723.39M236.05 722.14H238.55M237.3 720.89V723.39M237.02 722.14H239.52M238.27 720.89V723.39M238 722.14H240.5M239.25 720.89V723.39M238.97 722.14H241.47M240.22 720.89V723.39M240.91 722.14H243.41M242.16 720.89V723.39M241.88 722.14H244.38M243.13 720.89V723.39M242.49 723.19H244.99M243.74 721.94V724.44M242.66 725.28H245.16M243.91 724.03V726.53" stroke="#e23a3a" stroke-width="0.6" fill="none"/>
<path d="M247.49 743.48H249.29M248.39 742.58V744.38M252.01 757.04H253.81M252.91 756.14V757.94M255.27 757.04H257.07M256.17 756.14V757.94M258.28 757.04H260.08M259.18 756.14V757.94" stroke="#3852ac" stroke-width="0.55" fill="none"/>
<path d="M248.74 728.42H250.54M249.64 727.52V729.32M254.52 728.42H256.32M255.42 727.52V729.32M260.79 728.42H262.59M261.69 727.52V729.32M267.57 728.42H269.37M268.47 727.52V729.32M286.41 728.42H288.21M287.31 727.52V729.32M307.75 728.42H309.55M308.65 727.52V729.32" stroke="#e23a3a" stroke-width="0.55" fill="none"/>
<rect x="190.2" y="706.2" width="123.1" height="81.2" fill="none" stroke="#222" stroke-width="0.6"/>
<text x="245.37" y="703.5" font-size="5.1" stroke="#111" stroke-width="0.16" text-anchor="middle" transform="rotate(0.25 245.37 703.5)" fill="#111">OLR1 Low</text>
<line x1="188.2" y1="708.33" x2="190.2" y2="708.33" stroke="#222" stroke-width="0.5"/>
<text x="184.7" y="708.33" font-size="5.6" stroke="#111" stroke-width="0.1" text-anchor="middle" transform="rotate(-89.75 184.7 708.33)" fill="#111">1.0</text>
<line x1="188.2" y1="723.9" x2="190.2" y2="723.9" stroke="#222" stroke-width="0.5"/>
<text x="184.7" y="723.9" font-size="5.6" stroke="#111" stroke-width="0.1" text-anchor="middle" transform="rotate(-89.75 184.7 723.9)" fill="#111">0.8</text>
<line x1="188.2" y1="738.96" x2="190.2" y2="738.96" stroke="#222" stroke-width="0.5"/>
<text x="184.7" y="738.96" font-size="5.6" stroke="#111" stroke-width="0.1" text-anchor="middle" transform="rotate(-89.75 184.7 738.96)" fill="#111">0.6</text>
<line x1="188.2" y1="754.03" x2="190.2" y2="754.03" stroke="#222" stroke-width="0.5"/>
<text x="184.7" y="754.03" font-size="5.6" stroke="#111" stroke-width="0.1" text-anchor="middle" transform="rotate(-89.75 184.7 754.03)" fill="#111">0.4</text>
<line x1="188.2" y1="769.6" x2="190.2" y2="769.6" stroke="#222" stroke-width="0.5"/>
<text x="184.7" y="769.6" font-size="5.6" stroke="#111" stroke-width="0.1" text-anchor="middle" transform="rotate(-89.75 184.7 769.6)" fill="#111">0.2</text>
<line x1="188.2" y1="784.66" x2="190.2" y2="784.66" stroke="#222" stroke-width="0.5"/>
<text x="184.7" y="784.66" font-size="5.6" stroke="#111" stroke-width="0.1" text-anchor="middle" transform="rotate(-89.75 184.7 784.66)" fill="#111">0.0</text>
<line x1="192.14" y1="787.4" x2="192.14" y2="789.4" stroke="#222" stroke-width="0.5"/>
<text x="192.14" y="794.8" font-size="5" stroke="#111" stroke-width="0.18" text-anchor="middle" transform="rotate(0.25 192.14 794.8)" fill="#111">0</text>
<line x1="217.75" y1="787.4" x2="217.75" y2="789.4" stroke="#222" stroke-width="0.5"/>
<text x="217.75" y="794.8" font-size="5" stroke="#111" stroke-width="0.18" text-anchor="middle" transform="rotate(0.25 217.75 794.8)" fill="#111">50</text>
<line x1="243.36" y1="787.4" x2="243.36" y2="789.4" stroke="#222" stroke-width="0.5"/>
<text x="243.36" y="794.8" font-size="5" stroke="#111" stroke-width="0.18" text-anchor="middle" transform="rotate(0.25 243.36 794.8)" fill="#111">100</text>
<line x1="269.23" y1="787.4" x2="269.23" y2="789.4" stroke="#222" stroke-width="0.5"/>
<text x="269.23" y="794.8" font-size="5" stroke="#111" stroke-width="0.18" text-anchor="middle" transform="rotate(0.25 269.23 794.8)" fill="#111">150</text>
<line x1="294.34" y1="787.4" x2="294.34" y2="789.4" stroke="#222" stroke-width="0.5"/>
<text x="294.34" y="794.8" font-size="5" stroke="#111" stroke-width="0.18" text-anchor="middle" transform="rotate(0.25 294.34 794.8)" fill="#111">200</text>
<text x="176.4" y="738.5" font-size="7.5" stroke="#111" stroke-width="0.08" text-anchor="middle" transform="rotate(-89.75 176.4 738.5)" fill="#111">Survival Fraction</text>
<text x="246.75" y="800.2" font-size="5.1" stroke="#111" stroke-width="0.16" text-anchor="middle" transform="rotate(0.25 246.75 800.2)" fill="#111">OS (month)</text>
<text x="204.69" y="777.07" font-size="5.1" stroke="#d83535" stroke-width="0.14" transform="rotate(0.25 204.69 777.07)" fill="#d83535">CTL Top (n=242)</text>
<text x="204.69" y="783.35" font-size="5.1" stroke="#3953a8" stroke-width="0.14" transform="rotate(0.25 204.69 783.35)" fill="#3953a8">CTL Bottom (n=242)</text>
<text x="340" y="695.6" font-size="9.2" transform="rotate(0.25 340 695.6)">K</text>
<text x="450" y="694.84" font-size="5.5" stroke="#111" stroke-width="0.2" transform="rotate(0.25 450 694.84)" fill="#111">Continuous z= 3.05 , p= 0.00228</text>
<path d="M373.92 707.1H380.2V710.11H392.75V713.12H396.52V716.39H399.03V720.15H402.8V722.66H407.82V724.67H411.58V728.19H421.63V728.44H424.14V730.2H434.18V730.7H436.69V734.72H450.5V735.22H454.27V737.73H458.04V740.74H460.55V744.51H469.34V744.76H470.59V750.28H476.87V750.79H477.62V761.08H485.15V761.08H485.66V782.42" stroke="#3852ac" stroke-width="0.85" fill="none" stroke-dasharray="3.9 2.3"/>
<path d="M373.92 707.1H377.69V708.85H381.45V713.88H385.22V716.39H388.99V721.41H392.75V725.18H396.52V728.19H399.78V731.45H404.05V733.46H415.35V733.96H417.86V736.98H421.63V738.99H429.16V739.74H431.67V742.25H439.2V743.25H442.97V745.76H488.67V745.76H489.17V764.09H490.18V782.42" stroke="#e23a3a" stroke-width="0.85" fill="none"/>
<path d="M375.54 707.1H377.54M376.54 706.1V708.1M379.2 707.1H381.2M380.2 706.1V708.1M382.58 710.11H384.58M383.58 709.11V711.11M387.41 710.11H389.41M388.41 709.11V711.11M391.27 710.11H393.27M392.27 709.11V711.11M395.05 713.12H397.05M396.05 712.12V714.12" stroke="#3852ac" stroke-width="0.6" fill="none"/>
<path d="M376.22 707.1H378.22M377.22 706.1V708.1M379.98 708.85H381.98M380.98 707.85V709.85M382.81 713.88H384.81M383.81 712.88V714.88M386.57 716.39H388.57M387.57 715.39V717.39M389.4 721.41H391.4M390.4 720.41V722.41M392.22 725.18H394.22M393.22 724.18V726.18M396.06 728.19H398.06M397.06 727.19V729.19" stroke="#e23a3a" stroke-width="0.6" fill="none"/>
<path d="M380.55 710.36H382.35M381.45 709.46V711.26M406.92 724.67H408.72M407.82 723.77V725.57M414.45 728.44H416.25M415.35 727.54V729.34M418.22 728.44H420.02M419.12 727.54V729.34M428.26 730.45H430.06M429.16 729.55V731.35M432.03 730.7H433.83M432.93 729.8V731.6M445.84 734.97H447.64M446.74 734.07V735.87M455.88 738.23H457.68M456.78 737.33V739.13M462.16 744.51H463.96M463.06 743.61V745.41M465.92 744.51H467.72M466.82 743.61V745.41M472.2 750.54H474M473.1 749.64V751.44M476.72 761.08H478.52M477.62 760.18V761.98" stroke="#3852ac" stroke-width="0.55" fill="none"/>
<path d="M390.6 722.66H392.4M391.5 721.76V723.56M394.36 727.18H396.16M395.26 726.28V728.08M409.43 733.71H411.23M410.33 732.81V734.61M429.52 740.24H431.32M430.42 739.34V741.14M442.07 745.76H443.87M442.97 744.86V746.66M449.6 745.76H451.4M450.5 744.86V746.66M457.14 745.76H458.94M458.04 744.86V746.66M467.18 745.76H468.98M468.08 744.86V746.66M475.97 745.76H477.77M476.87 744.86V746.66" stroke="#e23a3a" stroke-width="0.55" fill="none"/>
<rect x="373.4" y="704.2" width="121.5" height="81.2" fill="none" stroke="#222" stroke-width="0.6"/>
<text x="426.65" y="701.77" font-size="5.1" stroke="#111" stroke-width="0.16" text-anchor="middle" transform="rotate(0.25 426.65 701.77)" fill="#111">P2RY13 High</text>
<line x1="371.4" y1="707.1" x2="373.4" y2="707.1" stroke="#222" stroke-width="0.5"/>
<text x="367.9" y="707.1" font-size="5.6" stroke="#111" stroke-width="0.1" text-anchor="middle" transform="rotate(-89.75 367.9 707.1)" fill="#111">1.0</text>
<line x1="371.4" y1="722.16" x2="373.4" y2="722.16" stroke="#222" stroke-width="0.5"/>
<text x="367.9" y="722.16" font-size="5.6" stroke="#111" stroke-width="0.1" text-anchor="middle" transform="rotate(-89.75 367.9 722.16)" fill="#111">0.8</text>
<line x1="371.4" y1="737.23" x2="373.4" y2="737.23" stroke="#222" stroke-width="0.5"/>
<text x="367.9" y="737.23" font-size="5.6" stroke="#111" stroke-width="0.1" text-anchor="middle" transform="rotate(-89.75 367.9 737.23)" fill="#111">0.6</text>
<line x1="371.4" y1="752.29" x2="373.4" y2="752.29" stroke="#222" stroke-width="0.5"/>
<text x="367.9" y="752.29" font-size="5.6" stroke="#111" stroke-width="0.1" text-anchor="middle" transform="rotate(-89.75 367.9 752.29)" fill="#111">0.4</text>
<line x1="371.4" y1="767.36" x2="373.4" y2="767.36" stroke="#222" stroke-width="0.5"/>
<text x="367.9" y="767.36" font-size="5.6" stroke="#111" stroke-width="0.1" text-anchor="middle" transform="rotate(-89.75 367.9 767.36)" fill="#111">0.2</text>
<line x1="371.4" y1="782.42" x2="373.4" y2="782.42" stroke="#222" stroke-width="0.5"/>
<text x="367.9" y="782.42" font-size="5.6" stroke="#111" stroke-width="0.1" text-anchor="middle" transform="rotate(-89.75 367.9 782.42)" fill="#111">0.0</text>
<line x1="374.67" y1="785.4" x2="374.67" y2="787.4" stroke="#222" stroke-width="0.5"/>
<text x="374.67" y="792.8" font-size="5" stroke="#111" stroke-width="0.18" text-anchor="middle" transform="rotate(0.25 374.67 792.8)" fill="#111">0</text>
<line x1="394.01" y1="785.4" x2="394.01" y2="787.4" stroke="#222" stroke-width="0.5"/>
<text x="394.01" y="792.8" font-size="5" stroke="#111" stroke-width="0.18" text-anchor="middle" transform="rotate(0.25 394.01 792.8)" fill="#111">50</text>
<line x1="413.59" y1="785.4" x2="413.59" y2="787.4" stroke="#222" stroke-width="0.5"/>
<text x="413.59" y="792.8" font-size="5" stroke="#111" stroke-width="0.18" text-anchor="middle" transform="rotate(0.25 413.59 792.8)" fill="#111">100</text>
<line x1="432.93" y1="785.4" x2="432.93" y2="787.4" stroke="#222" stroke-width="0.5"/>
<text x="432.93" y="792.8" font-size="5" stroke="#111" stroke-width="0.18" text-anchor="middle" transform="rotate(0.25 432.93 792.8)" fill="#111">150</text>
<line x1="452.26" y1="785.4" x2="452.26" y2="787.4" stroke="#222" stroke-width="0.5"/>
<text x="452.26" y="792.8" font-size="5" stroke="#111" stroke-width="0.18" text-anchor="middle" transform="rotate(0.25 452.26 792.8)" fill="#111">200</text>
<line x1="471.85" y1="785.4" x2="471.85" y2="787.4" stroke="#222" stroke-width="0.5"/>
<text x="471.85" y="792.8" font-size="5" stroke="#111" stroke-width="0.18" text-anchor="middle" transform="rotate(0.25 471.85 792.8)" fill="#111">250</text>
<line x1="491.18" y1="785.4" x2="491.18" y2="787.4" stroke="#222" stroke-width="0.5"/>
<text x="491.18" y="792.8" font-size="5" stroke="#111" stroke-width="0.18" text-anchor="middle" transform="rotate(0.25 491.18 792.8)" fill="#111">300</text>
<text x="359.6" y="736.5" font-size="7.5" stroke="#111" stroke-width="0.08" text-anchor="middle" transform="rotate(-89.75 359.6 736.5)" fill="#111">Survival Fraction</text>
<text x="429.15" y="798.2" font-size="5.1" stroke="#111" stroke-width="0.16" text-anchor="middle" transform="rotate(0.25 429.15 798.2)" fill="#111">OS (month)</text>
<text x="386.98" y="775.09" font-size="5.1" stroke="#d83535" stroke-width="0.14" transform="rotate(0.25 386.98 775.09)" fill="#d83535">CTL Top (n=49)</text>
<text x="386.98" y="781.36" font-size="5.1" stroke="#3953a8" stroke-width="0.14" transform="rotate(0.25 386.98 781.36)" fill="#3953a8">CTL Bottom (n=49)</text>
<path d="M531.87 707.15H532.54V708.02H533.22V708.9H533.89V709.78H534.57V710.66H534.96V711.62H535.34V712.59H535.73V713.55H536.11V714.52H536.5V715.48H536.88V716.44H537.27V717.41H537.81V718.49H538.35V719.57H538.89V720.65H539.43V721.73H539.97V722.81H540.51V723.78H541.05V724.75H541.59V725.73H542.13V726.7H542.67V727.67H543.32V728.59H543.97V729.51H544.62V730.43H545.26V731.34H545.91V732.26H546.93V732.94H547.94V733.61H548.95V734.29H549.96V734.96H550.98V735.64H551.99V736.31H553V736.99H554.01V737.66H555.03V738.68H556.04V739.69H557.05V740.7H558.07V741.72H558.97V742.62H559.87V743.52H560.77V744.42H561.73V744.61H562.7V744.8H563.66V744.99H564.62V745.19H565.59V745.38H566.55V745.57H567.52V745.77H568.6V746.04H569.68V746.31H570.76V746.58H571.84V746.85H572.92V747.12H573.93V747.18H574.95V747.25H575.96V747.32H576.97V747.39H577.98V747.45H579V747.52H580.01V747.59H581.02V747.66H582.03V747.86H583.05V748.06H584.06V748.26H585.07V748.47H586.09V748.67H587.1V748.87H588.11V749.07H589.12V749.28H590.14V749.75H591.15V750.22H592.16V750.7H593.18V751.17H594.19V751.37H595.2V751.57H596.21V751.78H597.23V751.98H598.28V752.04H599.33V752.1H600.38V752.16H601.43V752.22H602.48V752.28H603.53V752.34H604.58V752.4H605.63V752.46H606.68V752.52H607.13V753.6H607.58V754.68H608.03V755.76H609.02V755.76H610.01V755.76H611V755.76H611.99V755.76H612.98V755.76H613.97V755.76H614.96V755.76H615.95V755.76H616.94V755.76H617.93V755.76H618.92V755.76H619.91V755.76H620.9V755.76H621.89V755.76H622.88V755.76H623.11V756.7H623.33V757.65H623.56V758.59H623.78V759.54H624.01V760.49H624.23V761.43H625.25V761.43H626.26V761.43H627.27V761.43H628.28V761.43H629.3V761.43H630.31V761.43H631.32V761.43H632.34V761.43H633.35V761.43H634.36V761.43H635.37V761.43H636.39V761.43" stroke="#3852ac" stroke-width="0.85" fill="none" stroke-dasharray="3.9 2.3"/>
<path d="M531.87 707.15H532.95V707.87H534.03V708.59H535.11V709.31H535.65V710.39H536.19V711.47H536.73V712.55H537.27V713.63H537.81V714.71H538.35V715.79H538.89V716.87H539.43V717.95H539.97V719.03H540.51V720.11H541.05V721.19H541.59V722.27H542.13V723.35H542.67V724.43H543.21V725.51H543.89V726.52H544.56V727.54H545.24V728.55H545.91V729.56H546.59V730.44H547.26V731.32H547.94V732.2H548.61V733.07H549.63V733.41H550.64V733.75H551.65V734.09H552.66V734.42H553.68V734.9H554.69V735.37H555.7V735.84H556.72V736.31H557.73V736.42H558.74V736.52H559.75V736.62H560.77V736.72H561.78V736.82H562.79V736.92H563.8V737.02H564.82V737.12H565.72V738.2H566.62V739.28H567.52V740.36H568.6V740.64H569.68V740.91H570.76V741.18H571.84V741.45H572.92V741.72H573.93V742.05H574.95V742.39H575.96V742.73H576.97V743.07H577.98V743.54H579V744.01H580.01V744.48H581.02V744.96H582.03V745.36H583.05V745.77H584.06V746.17H585.07V746.58H586.04V746.65H587V746.73H587.97V746.81H588.93V746.89H589.9V746.96H590.86V747.04H591.82V747.12H592.73V747.57H593.63V748.02H594.53V748.47H595.54V748.8H596.55V749.14H597.56V749.48H598.58V749.82H599.48V750.27H600.38V750.72H601.28V751.17H602.29V751.17H603.3V751.17H604.32V751.17H605.33V751.17H606.34V751.17H607.35V751.17H608.37V751.17H609.38V751.17H610.39V751.17H611.41V751.17H612.42V751.17H613.43V751.17H614.44V751.17H615.46V751.17H616.47V751.17H617.48V751.17H617.93V752.25H618.38V753.33H618.83V754.41H619.82V754.41H620.81V754.41H621.8V754.41H622.79V754.41H623.78V754.41H624.77V754.41H625.76V754.41H626.75V754.41H627.74V754.41H628.73V754.41H629.73V754.41H630.72V754.41H631.71V754.41H632.7V754.41H633.69V754.41H634.68V754.41H635.67V754.41H636.66V754.41H637.65V754.41H638.64V754.41H639.63V754.41H640.62V754.41H641.61V754.41H642.6V754.41H643.59V754.41H644.58V754.41H645.57V754.41H646.56V754.41H647.55V754.41H648.54V754.41" stroke="#e23a3a" stroke-width="0.85" fill="none"/>
<path d="M533.23 709.78H535.23M534.23 708.78V710.78M536.08 716.44H538.08M537.08 715.44V717.44M538.16 720.65H540.16M539.16 719.65V721.65M540.86 725.73H542.86M541.86 724.73V726.73M543.29 729.51H545.29M544.29 728.51V730.51M546.43 732.94H548.43M547.43 731.94V733.94M550.48 735.64H552.48M551.48 734.64V736.64M553.52 737.66H555.52M554.52 736.66V738.66" stroke="#3852ac" stroke-width="0.6" fill="none"/>
<path d="M533.57 708.59H535.57M534.57 707.59V709.59M536 712.55H538M537 711.55V713.55M538.7 717.95H540.7M539.7 716.95V718.95M540.86 722.27H542.86M541.86 721.27V723.27M543.22 726.52H545.22M544.22 725.52V727.52M545.93 730.44H547.93M546.93 729.44V731.44M549.13 733.41H551.13M550.13 732.41V734.41M553.18 734.9H555.18M554.18 733.9V735.9" stroke="#e23a3a" stroke-width="0.6" fill="none"/>
<path d="M559.06 743.07H560.86M559.96 742.17V743.97M562.57 744.96H564.37M563.47 744.06V745.86M577.42 747.39H579.22M578.32 746.49V748.29M593.63 751.44H595.43M594.53 750.54V752.34M601.73 752.25H603.53M602.63 751.35V753.15M615.23 755.76H617.03M616.13 754.86V756.66M627.38 761.43H629.18M628.28 760.53V762.33M630.09 761.43H631.89M630.99 760.53V762.33M635.49 761.43H637.29M636.39 760.53V762.33" stroke="#3852ac" stroke-width="0.55" fill="none"/>
<path d="M558.52 736.85H560.32M559.42 735.95V737.75M561.76 737.12H563.56M562.66 736.22V738.02M585.52 746.85H587.32M586.42 745.95V747.75M605.78 751.17H607.58M606.68 750.27V752.07M612.53 751.17H614.33M613.43 750.27V752.07M617.12 751.17H618.92M618.02 750.27V752.07M628.74 754.41H630.54M629.64 753.51V755.31M636.3 754.41H638.1M637.2 753.51V755.31M647.64 754.41H649.44M648.54 753.51V755.31" stroke="#e23a3a" stroke-width="0.55" fill="none"/>
<rect x="530.8" y="704.2" width="123.1" height="81.2" fill="none" stroke="#222" stroke-width="0.6"/>
<text x="585.07" y="701.55" font-size="5.1" stroke="#111" stroke-width="0.16" text-anchor="middle" transform="rotate(0.25 585.07 701.55)" fill="#111">P2RY13 Low</text>
<line x1="528.8" y1="706.61" x2="530.8" y2="706.61" stroke="#222" stroke-width="0.5"/>
<text x="525.3" y="706.61" font-size="5.6" stroke="#111" stroke-width="0.1" text-anchor="middle" transform="rotate(-89.75 525.3 706.61)" fill="#111">1.0</text>
<line x1="528.8" y1="722" x2="530.8" y2="722" stroke="#222" stroke-width="0.5"/>
<text x="525.3" y="722" font-size="5.6" stroke="#111" stroke-width="0.1" text-anchor="middle" transform="rotate(-89.75 525.3 722)" fill="#111">0.8</text>
<line x1="528.8" y1="737.12" x2="530.8" y2="737.12" stroke="#222" stroke-width="0.5"/>
<text x="525.3" y="737.12" font-size="5.6" stroke="#111" stroke-width="0.1" text-anchor="middle" transform="rotate(-89.75 525.3 737.12)" fill="#111">0.6</text>
<line x1="528.8" y1="752.52" x2="530.8" y2="752.52" stroke="#222" stroke-width="0.5"/>
<text x="525.3" y="752.52" font-size="5.6" stroke="#111" stroke-width="0.1" text-anchor="middle" transform="rotate(-89.75 525.3 752.52)" fill="#111">0.4</text>
<line x1="528.8" y1="767.37" x2="530.8" y2="767.37" stroke="#222" stroke-width="0.5"/>
<text x="525.3" y="767.37" font-size="5.6" stroke="#111" stroke-width="0.1" text-anchor="middle" transform="rotate(-89.75 525.3 767.37)" fill="#111">0.2</text>
<line x1="528.8" y1="782.23" x2="530.8" y2="782.23" stroke="#222" stroke-width="0.5"/>
<text x="525.3" y="782.23" font-size="5.6" stroke="#111" stroke-width="0.1" text-anchor="middle" transform="rotate(-89.75 525.3 782.23)" fill="#111">0.0</text>
<line x1="532.95" y1="785.4" x2="532.95" y2="787.4" stroke="#222" stroke-width="0.5"/>
<text x="532.95" y="792.8" font-size="5" stroke="#111" stroke-width="0.18" text-anchor="middle" transform="rotate(0.25 532.95 792.8)" fill="#111">0</text>
<line x1="551.31" y1="785.4" x2="551.31" y2="787.4" stroke="#222" stroke-width="0.5"/>
<text x="551.31" y="792.8" font-size="5" stroke="#111" stroke-width="0.18" text-anchor="middle" transform="rotate(0.25 551.31 792.8)" fill="#111">50</text>
<line x1="569.68" y1="785.4" x2="569.68" y2="787.4" stroke="#222" stroke-width="0.5"/>
<text x="569.68" y="792.8" font-size="5" stroke="#111" stroke-width="0.18" text-anchor="middle" transform="rotate(0.25 569.68 792.8)" fill="#111">100</text>
<line x1="588.31" y1="785.4" x2="588.31" y2="787.4" stroke="#222" stroke-width="0.5"/>
<text x="588.31" y="792.8" font-size="5" stroke="#111" stroke-width="0.18" text-anchor="middle" transform="rotate(0.25 588.31 792.8)" fill="#111">150</text>
<line x1="607.22" y1="785.4" x2="607.22" y2="787.4" stroke="#222" stroke-width="0.5"/>
<text x="607.22" y="792.8" font-size="5" stroke="#111" stroke-width="0.18" text-anchor="middle" transform="rotate(0.25 607.22 792.8)" fill="#111">200</text>
<line x1="625.58" y1="785.4" x2="625.58" y2="787.4" stroke="#222" stroke-width="0.5"/>
<text x="625.58" y="792.8" font-size="5" stroke="#111" stroke-width="0.18" text-anchor="middle" transform="rotate(0.25 625.58 792.8)" fill="#111">250</text>
<line x1="644.49" y1="785.4" x2="644.49" y2="787.4" stroke="#222" stroke-width="0.5"/>
<text x="644.49" y="792.8" font-size="5" stroke="#111" stroke-width="0.18" text-anchor="middle" transform="rotate(0.25 644.49 792.8)" fill="#111">300</text>
<text x="517" y="736.5" font-size="7.5" stroke="#111" stroke-width="0.08" text-anchor="middle" transform="rotate(-89.75 517 736.5)" fill="#111">Survival Fraction</text>
<text x="587.35" y="798.2" font-size="5.1" stroke="#111" stroke-width="0.16" text-anchor="middle" transform="rotate(0.25 587.35 798.2)" fill="#111">OS (month)</text>
<text x="544.56" y="775.01" font-size="5.1" stroke="#d83535" stroke-width="0.14" transform="rotate(0.25 544.56 775.01)" fill="#d83535">CTL Top (n=68)</text>
<text x="544.56" y="781.23" font-size="5.1" stroke="#3953a8" stroke-width="0.14" transform="rotate(0.25 544.56 781.23)" fill="#3953a8">CTL Bottom (n=67)</text>
</g>
</svg>
</body></html>
